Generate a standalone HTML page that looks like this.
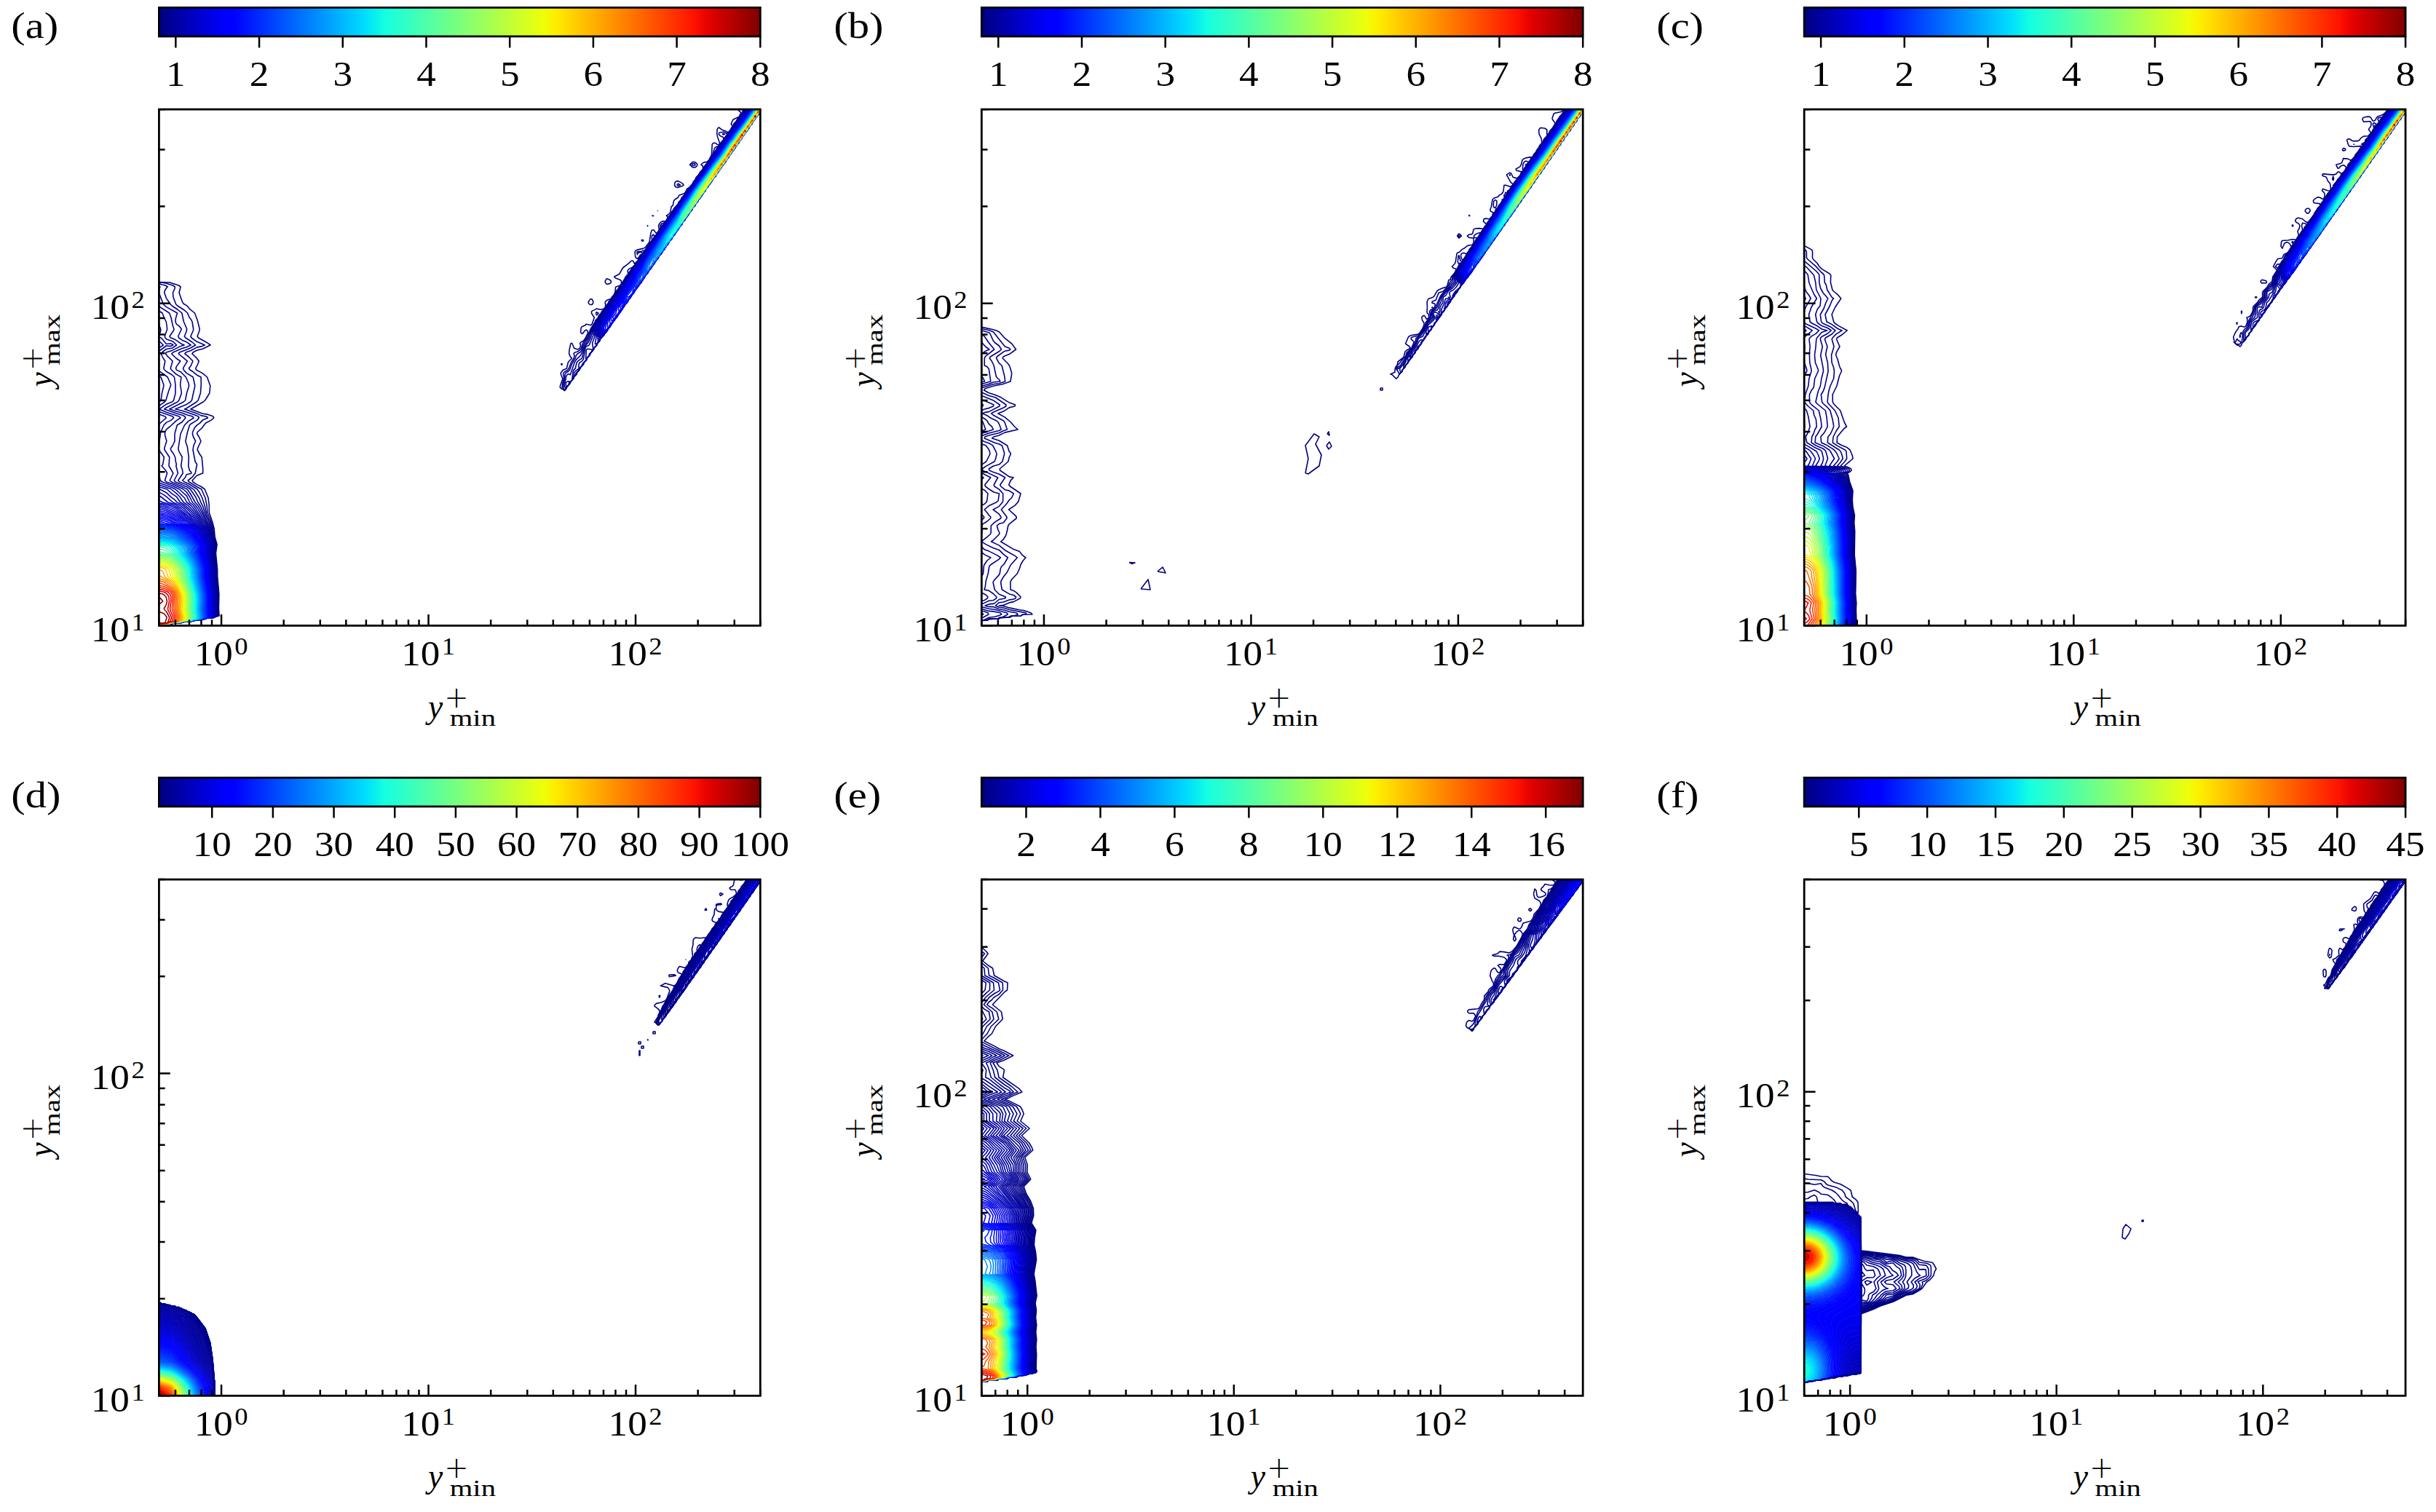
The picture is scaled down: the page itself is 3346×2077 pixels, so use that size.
<!DOCTYPE html><html><head><meta charset="utf-8"><title>figure</title><style>html,body{margin:0;padding:0;background:#fff;}svg{display:block;}</style></head><body>
<svg width="3346" height="2077" viewBox="0 0 3346 2077" font-family="'Liberation Serif', 'DejaVu Serif', serif">
<rect x="0" y="0" width="3346" height="2077" fill="#fff"/>
<defs><linearGradient id="jet" x1="0" y1="0" x2="1" y2="0">
<stop offset="0.0000" stop-color="#000080"/>
<stop offset="0.0156" stop-color="#000092"/>
<stop offset="0.0312" stop-color="#0000a4"/>
<stop offset="0.0469" stop-color="#0000b6"/>
<stop offset="0.0625" stop-color="#0000c8"/>
<stop offset="0.0781" stop-color="#0000da"/>
<stop offset="0.0938" stop-color="#0000ec"/>
<stop offset="0.1094" stop-color="#0000fe"/>
<stop offset="0.1250" stop-color="#0000ff"/>
<stop offset="0.1406" stop-color="#0010ff"/>
<stop offset="0.1562" stop-color="#0020ff"/>
<stop offset="0.1719" stop-color="#0030ff"/>
<stop offset="0.1875" stop-color="#0040ff"/>
<stop offset="0.2031" stop-color="#0050ff"/>
<stop offset="0.2188" stop-color="#0060ff"/>
<stop offset="0.2344" stop-color="#0070ff"/>
<stop offset="0.2500" stop-color="#0080ff"/>
<stop offset="0.2656" stop-color="#008fff"/>
<stop offset="0.2812" stop-color="#009fff"/>
<stop offset="0.2969" stop-color="#00afff"/>
<stop offset="0.3125" stop-color="#00bfff"/>
<stop offset="0.3281" stop-color="#00cfff"/>
<stop offset="0.3438" stop-color="#00dffc"/>
<stop offset="0.3594" stop-color="#08efef"/>
<stop offset="0.3750" stop-color="#15ffe2"/>
<stop offset="0.3906" stop-color="#21ffd5"/>
<stop offset="0.4062" stop-color="#2effc9"/>
<stop offset="0.4219" stop-color="#3bffbc"/>
<stop offset="0.4375" stop-color="#48ffaf"/>
<stop offset="0.4531" stop-color="#55ffa2"/>
<stop offset="0.4688" stop-color="#62ff95"/>
<stop offset="0.4844" stop-color="#6fff88"/>
<stop offset="0.5000" stop-color="#7bff7b"/>
<stop offset="0.5156" stop-color="#88ff6f"/>
<stop offset="0.5312" stop-color="#95ff62"/>
<stop offset="0.5469" stop-color="#a2ff55"/>
<stop offset="0.5625" stop-color="#afff48"/>
<stop offset="0.5781" stop-color="#bcff3b"/>
<stop offset="0.5938" stop-color="#c9ff2e"/>
<stop offset="0.6094" stop-color="#d5ff21"/>
<stop offset="0.6250" stop-color="#e2ff15"/>
<stop offset="0.6406" stop-color="#effe08"/>
<stop offset="0.6562" stop-color="#fcf000"/>
<stop offset="0.6719" stop-color="#ffe100"/>
<stop offset="0.6875" stop-color="#ffd200"/>
<stop offset="0.7031" stop-color="#ffc300"/>
<stop offset="0.7188" stop-color="#ffb500"/>
<stop offset="0.7344" stop-color="#ffa600"/>
<stop offset="0.7500" stop-color="#ff9700"/>
<stop offset="0.7656" stop-color="#ff8800"/>
<stop offset="0.7812" stop-color="#ff7a00"/>
<stop offset="0.7969" stop-color="#ff6b00"/>
<stop offset="0.8125" stop-color="#ff5c00"/>
<stop offset="0.8281" stop-color="#ff4d00"/>
<stop offset="0.8438" stop-color="#ff3f00"/>
<stop offset="0.8594" stop-color="#ff3000"/>
<stop offset="0.8750" stop-color="#ff2100"/>
<stop offset="0.8906" stop-color="#fe1200"/>
<stop offset="0.9062" stop-color="#ec0400"/>
<stop offset="0.9219" stop-color="#da0000"/>
<stop offset="0.9375" stop-color="#c80000"/>
<stop offset="0.9531" stop-color="#b60000"/>
<stop offset="0.9688" stop-color="#a40000"/>
<stop offset="0.9844" stop-color="#920000"/>
<stop offset="1.0000" stop-color="#800000"/>
</linearGradient>
<clipPath id="clipa"><rect x="218.4" y="150.2" width="825.9" height="709.2"/></clipPath>
<clipPath id="clipb"><rect x="1348.3" y="150.2" width="825.9" height="709.2"/></clipPath>
<clipPath id="clipc"><rect x="2478.2" y="150.2" width="825.9" height="709.2"/></clipPath>
<clipPath id="clipd"><rect x="218.4" y="1208.1" width="825.9" height="709.2"/></clipPath>
<clipPath id="clipe"><rect x="1348.3" y="1208.1" width="825.9" height="709.2"/></clipPath>
<clipPath id="clipf"><rect x="2478.2" y="1208.1" width="825.9" height="709.2"/></clipPath>
</defs>
<g>
<g clip-path="url(#clipa)" fill="none" stroke-width="1.6" stroke-linejoin="round">
<path stroke="#000080" d="M214.4 387.4l18.7 .6 12.2 4 2.8 2 -2.1 8 4.4 12.6 2 2.9 4 2.1 4 4.7 7 5.7 3.8 10 3 12 -.2 2 -2.9 8 1.3 2 12 6.7 4.6 3.3 -10.6 5.3 -8 2 -5.2 2.7 -1.3 2 6.5 6.2 2.8 3.8 -1.4 4 -3.1 6 .7 2 9 4.9 6.1 5.1 4.3 12 -1 10 -6.1 10 -2.4 2 -17.4 10 16.5 6.3 6 .8 8 2.7 1.4 2.2 -3.4 2.9 -8 4.4 -5.2 6.7 -6.4 6 -.1 2 2.6 4 2.7 6 -4.6 10 -.2 2 3.2 6 2.8 4 1.5 16 -.1 6 -8.2 3.3 -6.3 6.7 .8 2 5.5 3.6 6 2.9 4.8 3.5 4.9 12 1.1 10 .1 10 4.1 12 2.7 10 1.1 12 2.9 10 -1.7 12 2.2 22 .1 10 2.1 24 -.4 20 .6 10 -4.6 .9 -1.5 1.1 -2.5 .8 -8 .4 -6 2 -10 .5 -2 1.1 -4 .8 -8 .1 -6 1.9 -10 .2 -4 1.7 -12 .3 -2 1.4 -6 .6M1049.4 145.7l-2.3 2.5 -.4 2 -3.5 4 -2.2 4 -3.8 4 -.2 2 -3.9 4 -.3 2 -3.7 4 -.6 2 -5.1 6.4 -.4 1.6 -3.8 4 -.3 2 -3.8 4 -.4 2 -3.5 4 -2.2 4 -3.7 4 -.4 2 -3.8 4 -.3 2 -3.7 4 -.5 2 -3.5 4 -2.1 4 -3.8 4 -.4 2 -3.7 4 -.5 2 -3.5 4 -2.1 4 -3.7 4 -.5 2 -3.7 4 -.4 2 -3.6 4 -.7 2 -5 6.4 -.6 1.6 -3.6 4 -.5 2 -3.7 4 -.6 2 -3.4 4 -2.2 4 -3.5 4 -.6 2 -3.7 4 -.5 2 -3.6 4 -2.1 4 -3.4 4.1 -.7 1.9 -3.6 4 -.6 2 -3.6 4 -.7 2 -3.3 4 -2.2 4 -3.5 4 -.7 2 -3.6 4 -.7 2 -3.4 4 -2.2 4 -3.3 4 -.8 2 -3.5 4 -.8 2 -3.5 4 -6.3 10 -7.7 10 -2.2 4 -2 2 -2.1 4 -3.3 4 -.8 2 -3.6 4 -.8 2 -3.4 4 -6.3 10 -7.7 10 -2.2 4 -1.9 2 -2.2 4 -9.8 12 -.7 2 -3.5 4 -.5 2 -3.8 4 -.5 2 -3.5 4 -2.2 4 -3.5 4 -.5 2 -3.8 4 -.4 2 -3.7 4 -.4 1.5 -5 6.5 -.7 2 -3.7 4 -.4 2 -3.8 4 -.4 1.9 -3.7 4.1 -2.2 4 -2.1 2.3 -2 -1.7 -2 -.6 -2.1 -2 .1 -2 3.5 -10 -2.5 -6 -.1 -2 3 -4 5.1 -2 1.8 -8 1.3 -2 4 -4 -2.1 -2.3 -1.7 -3.7 .1 -4 2 -10 1.6 -.8 .7 .8 2.4 6 4.9 1.9 3.2 -1.9 1 -4 -1.1 -2 1.1 -2 3.8 -2 2 -2.6 3.9 -7.4 .2 -2 -.9 -2 -1.2 -1.1 -2.2 1.1 -2.9 4 -.9 .4 -1.9 -2.4 .7 -6 1.2 -1.4 4 -1.7 2 -1.9 6 1.6 .7 -.6 1.3 -1.4 2.9 -8.6 -3.8 -6 0 -2 .9 -1.1 6 -3 6 1.1 4 -1 2 -2.4 .3 -3.6 -.6 -2 .6 -2 1.7 -1.6 6 -2.3 1 -2.1 3.3 -4 1.3 -4 .6 -6 5.8 -2 2 -2 0 -4.4 -2 -1.6 -6 -2.2 -1.8 -1.8 7.3 -4 4.5 -8.2 8 -6.1 3.8 -3.7 2.2 0 2 4 4 -3.4 1.6 -2.6 .5 -2 -.1 -.6 -2 1.6 -1.9 -1 -.9 -2 -.5 -6 1 -2 2.3 -1.1 8 -1.7 2.4 -1.2 1.6 -1.7 4.7 -6.3 1.8 -12 1.4 -4 2.1 -.4 .8 .4 3.2 4.4 2 -1.8 2 -2.6 -.9 -6 .9 -2.1 2 -2.7 2 -1.3 2 -.3 2 .5 2.1 -2.1 1.9 -4 -2.1 -2 3.5 -2 1.5 -2 .8 -2 .9 -6 2.3 -2 1.1 -6 1.3 -2 4.7 -2.9 1.3 -3.1 6.7 -2.3 2 -1.7 2 -4.5 4 -2.9 4 -4.5 .6 -2.1 3.4 -4 .2 -2 3.8 -3.8 2.3 -4.2 3.7 -3.7 .1 -4.3 -2.6 -2 2.5 -2.5 2 -.8 4 -.7 2 -1.9 3.4 -6.1 .7 -2 .7 -14 1.2 -1.4 2 -.6 2 .5 1.3 1.5 2.7 .9 .6 -.9 .5 -2 -2.9 -8 -.8 -4 .2 -6 1 -2 1.4 -1.2 4.1 3.2 5.4 2 2.5 1.6 2 -1.1 2 -2.5 2.2 -4 .1 -2 -1.5 -2 2.8 -6 8.4 -3.9 .6 -2.1 1.5 -2 -.1 -1.8 -4.5 -4.2 0 -2 2.5 -1.2 8 .2 2 -.9 2.7 -4.1M953.4 222.2l3.3 2 1.2 2 -.8 2 -1.7 1.5 -2 .6 -2 -.5 -3.9 -3.6 3.9 -3.6 2 -.4M927.1 250.2l2.3 -1.3 2 -.3 6 3.3 1.7 2.3 -1.7 1.2 -6 2.2 -2 -.3 -2 -1.1 -.9 -2 .6 -4M903.3 290.2l.1 -.5 -.1 .5M895.3 296.2l2.2 0 -.1 .4 -2.1 -.4M889.1 310.2l.3 -.4 .4 .4 -.4 .4 -.3 -.4M881.1 330.2l.3 -.6 2 -.1 .3 .7 -.3 1 -2 -.4 -.3 -.6M881.4 349.1l-1.8 1.1 1.8 .2 0 -1.3M879.4 350.4l-1.4 1.8 1.4 .4 0 -2.2M861.4 377.8l-.7 .4 .7 .1 0 -.5M859.4 379.5l-.5 .7 .5 .1 0 -.8M832.4 384.2l1 -1.4 3.9 1.4 2.1 2 -.1 2 -1.9 1.4 -4 .9 -2 -2.3 -.2 -2 1.2 -2M809.8 412.2l1.6 -1.7 2 .8 1.3 2.9 0 2 -1.3 2 -2 .4 -1.3 -.4 -1.9 -2 .3 -2 1.3 -2M770.4 500.2l1 -.6 1.1 .6 -1.1 .9 -1 -.9"/>
<path stroke="#000083" d="M214.4 387.8l7.5 .2 6.5 1.3 9 2.7 2.9 2 -.1 2 -2.7 6 .4 6 3.8 10 2.1 2 9.4 6 4.4 4 2.4 6 2.4 2.8 1.6 3.2 1.7 10 -.3 2 -3.5 8 1.1 2 7.4 5.3 10.9 4.7 -4.9 1.9 -6 1.2 -8 4.4 -7.2 2.5 -1.3 2 5.1 4 5.9 6 -2.5 6 -2.9 4 1.3 2 3.6 2.2 6 5 5.7 2.8 .2 10 -.9 12 -3.3 10 -2 2 -13.7 8.7 -3 1.3 17 5.9 6 3 6.3 1.1 1.7 .7 1 1.3 -7 3.1 -4 4.3 -4 2.7 -3.4 3.9 -2.5 6 -.1 2 1.1 4 3.2 6 -2.8 6 -.9 6 3.1 16 2.5 4 -2.4 12 -3.8 5.1 -6.2 4.9 1.5 2 10.7 6.7 6.3 3.3 5.3 12 2.1 10 .8 10 4.9 12 3 10 1.5 12 1.6 4 1.4 6 -1.6 12 2.1 20 .3 12 2.2 24 -.5 20 .7 10 -4.1 .8 -1.6 1.2 -2.4 .7 -8 .5 -6 2 -10 .5 -2 1.1 -4 .8 -8 .1 -6 1.9 -10 .2 -4 1.7 -12 .3 -2 1.4 -6 .6M1049.4 145.7l-2.3 2.5 -.4 2 -3.6 4 -2.1 4 -3.8 4 -.3 2 -3.8 4 -.3 2 -3.7 4 -.6 2 -5.1 6.4 -.4 1.6 -3.8 4 -.3 2 -3.8 4 -.4 2 -3.6 4 -2.1 4 -3.7 4 -.4 2 -3.8 4 -.3 2 -3.7 4 -.6 2 -3.4 4 -2.2 4 -3.7 4 -.4 2 -3.7 4 -.5 2 -3.5 4 -2.2 4 -3.6 4 -.5 2 -3.7 4 -.4 2 -3.6 4 -.8 2 -4.9 6.4 -.6 1.6 -3.6 4 -.5 2 -3.7 4 -.6 2 -3.4 4 -2.2 4 -3.5 4 -.6 2 -3.7 4 -.5 2 -3.6 4 -2.1 4 -3.4 4.1 -.7 1.9 -3.6 4 -.6 2 -3.6 4 -.7 2 -3.4 4 -2.2 4 -3.4 4 -.7 2 -3.6 4 -.7 2 -3.4 4 -2.2 4 -3.4 4 -.8 2 -3.4 4 -.8 2 -3.5 4 -6.3 10 -7.7 10 -2.2 4 -2 2 -2.2 4 -3.3 4 -.8 2 -3.5 4 -.8 2 -3.4 4 -6.4 10 -7.6 10 -2.2 4 -2 2 -2.2 4 -3.6 4 -.9 2 -5.4 6 -.5 2 -3.6 4 -.5 2 -3.7 4 -.5 1.8 -3.6 4.2 -2.1 4 -3.6 4 -.5 2 -3.8 4 -.3 2 -3.7 4 -2.2 4 -3.4 4 -.5 2 -3.8 4 -.3 2 -3.9 4 -.3 1.5 -5.4 6.5 -.5 2 -2.1 2.2 -2.7 -2.2 -.5 -2 .4 -6 1.8 -6 -.1 -4 -.7 -2 .4 -2 2 -2 3.4 -1.5 1.9 -2.5 3 -8 3.9 -6 .9 -4 -1.2 -2 1.3 -2 4.2 -1.2 4.1 -2.8 1.2 -2 1.4 -6 5.9 -8 5 -12 6.4 -10 .4 -2 3.8 -4 .3 -2 3.5 -3.8 .9 -2.2 5.5 -6 2 -4 1.7 -2 .6 -2 5.5 -6 3.8 -5.8 .6 -2.2 3.5 -4 .7 -2 3.2 -3.4 5 -8.6 3 -3.1 1.4 -2.9 -.8 -4 1.1 -2 2.3 -1.6 2 -.5 4 -3.5 6 -8 1.1 -2.4 2.9 -3.2 .9 -2.8 -.9 -1.9 -4 .7 -1.5 1.2 -.5 1.5 -.5 -3.5 .5 -.6 6 -.2 1.5 -1.2 2.5 -.1 2 -2.5 .4 -1.4 3.6 -3.8 .8 -2.2 3.2 -4 0 -6.1 2 -2.1 1.2 2.2 .8 .1 2.2 -2.1 5 -8 .7 -2 -.6 -2 .7 -1.1 2 -2.2 2 -.4 2 -1.5 4 -4.7 .5 -2.1 3.6 -4 .3 -2 3.6 -4.6 .3 -1.4 5.7 -5.9 .3 -2.1 3.7 -3.9 .4 -2.1 5.6 -6 .5 -2 9.5 -11.6 1.1 -2.4 3.1 -4 .8 -2 5 -5.8 1 -2.2 3.4 -4 1.9 -4 7.7 -9.9 .6 -2.1 2.9 -4 2.5 -8.5 1.4 -1.5 4.6 -1.7 2 -2.3 .5 -2 3.6 -4 .4 -2 -.5 -1.7 -4 -1.8 -2 -2.1 0 -1.3 .8 -1.1 5.2 -.9 2 .4 2 1.4 2 0 2 -1.8 6.1 -9.1 .1 -2 3.8 -3.7 .9 -2.3 5.1 -6 4.1 -8 3.9 -3.4 3.3 -4.6M950 226.2l1.4 -1.3 2 -.2 1.7 1.5 -1.7 1.6 -2 -.3 -1.4 -1.3M929.7 254.2l1.7 -1.9 3 1.9 -3 1.2 -1.7 -1.2M818.4 430.2l1 -1.6 2.7 1.6 -2.7 2.6 -1 -2.6"/>
<path stroke="#000087" d="M214.4 388.8l4 .6 4 1.6 4.6 1 3.2 2 -1.9 2 -2.3 4 -.2 2 2.6 7.6 5.8 8.4 2 2 8.2 5.5 5.4 4.5 2.6 12 4.3 10 -.9 4 -2.5 6 1.5 2 9.2 6 4.6 4 -6.8 4 -15.3 6 -1.3 2 12.2 10 -5 8.1 -.8 1.9 .5 2 4.3 4.6 8.8 5.4 2.6 12 -4.4 20 -1.8 2 -5.2 3.4 -15.6 6.6 9.6 2.2 17.3 5.8 4.6 2 1.1 2 -3 3.4 -8 4.8 -2 1.8 -3 10 -2.6 12 2.6 8 1.9 14 -.5 12 .4 2 1.2 4.2 2 2.2 .6 1.6 -.6 .5 -6 1.2 -2.1 4.3 -3.7 4 2.5 2 5.3 2.2 12.5 7.8 2.8 4 4 8 3.4 10 2.4 12 4.6 10 3.5 10 1.8 12 1.6 4 1.5 6 -1.5 12 2.2 20 .3 12 2.2 24 -.4 20 .7 10 -3.6 .7 -1.8 1.3 -2.2 .7 -8 .5 -6 1.9 -10 .6 -2 1 -4 .8 -8 .2 -6 1.9 -10 .2 -4 1.7 -12 .3 -2 1.3 -6 .7M1049.4 145.7l-2.3 2.5 -.5 2 -3.5 4 -2.1 4 -3.8 4 -.3 2 -3.8 4 -.3 2 -3.7 4 -.6 2 -5.1 6.3 -.4 1.7 -3.9 4 -.2 2 -3.8 4 -.4 2 -3.6 4 -2.1 4 -3.7 4 -.4 2 -3.8 4 -.3 2 -3.7 4 -.6 2 -5.1 6.5 -.5 1.5 -3.7 4 -.4 2 -3.7 4 -.5 2 -3.5 4 -2.2 4 -3.6 4 -.5 2 -3.7 4 -.4 2 -3.7 4 -.7 2 -4.9 6.3 -.6 1.7 -3.6 4 -.5 2 -3.7 4 -.6 2 -3.4 4 -2.2 4 -3.5 4 -.6 2 -3.7 4 -.6 2 -3.5 4 -2.1 4 -3.4 4 -.8 2 -3.5 4 -.6 2 -3.6 4 -.8 2 -3.3 4 -2.2 4 -3.4 4 -.8 2 -3.5 4 -.8 2 -3.4 4 -2.1 4 -3.4 4 -.8 2 -3.5 4 -.7 2 -3.5 4 -6.4 10 -7.7 10 -2.2 4 -1.9 2 -2.2 4 -3.3 4 -.8 2 -3.5 4 -6.4 10 -3.3 4 -.9 2 -7.6 10 -2.2 4 -2 2 -2.2 4 -3.6 4 -.9 2 -5.5 6 -.5 2 -3.6 4 -.4 2 -3.8 4 -.4 1.5 -5.1 6.5 -.7 2 -3.6 4 -.4 2 -3.9 4 -.3 2 -3.7 4 -2.2 4 -3.4 4 -.5 2 -3.9 4 -.2 2 -3.9 4 -2.2 4.2 -3.6 3.8 -.4 2 -2 2.1 -1.4 -4.1 -.3 -4 2 -8 .4 -6 .9 -2 3.6 -2 1.9 -2 2.9 -8 4.8 -8 1.2 -4 1.5 -2 4.5 -2.7 2 -3.1 2 -6.8 6.3 -9.4 4.5 -12 6.9 -12 13.2 -18 6.4 -10 4.7 -5.8 3.3 -6.2 6.7 -8.8 2.9 -5.2 5.1 -6.2 2.2 -3.8 .3 -2 3.5 -4.1 .9 -1.9 7.1 -8 6 -8.6 2 -3.4 .5 -2 3.5 -3.7 1.1 -2.3 8.9 -12 .6 -2 5.4 -5.8 4.1 -6.2 1.4 -4 2.5 -1.9 6 -7.6 1.1 -2.5 3.2 -4 2.1 -4 7.6 -9.6 1 -2.4 3 -3.5 2.5 -4.5 3.5 -3.7 2.4 -4.3 7.6 -9.3 6.9 -10.7 7.1 -9 2.8 -5 3.3 -4 8 -12 .6 -2 3.3 -3.8 .7 -2.2 5.3 -5.5 1.2 -2.5 3.2 -4 2.1 -4 9.5 -11.8 3.2 -6.2 8.8 -11.4 5.1 -8.6 6.9 -8M992.2 184.2l1.2 -.6 2.2 .6 -2.2 .8 -1.2 -.8"/>
<path stroke="#00008b" d="M214.4 391.6l4 .9 1.4 1.5 -1.9 6 .3 2 6.2 16 4 3.6 15.1 8.4 -2.3 8 -.2 4 1.4 3.3 4 2.9 2.9 3.8 -4.6 10 .9 2 4.8 3.4 6 2.5 5.7 4.1 -5.7 2.8 -6 1.8 -12.7 5.4 -2 2 6.7 6.5 5.3 3.5 -5.3 7.4 -.9 2.6 .9 2.1 6 2.9 6.9 7 3.6 8 .7 4 -3.1 10 -2 10 -2.3 2 -19.4 10 9.6 3.3 8 1.9 6 2.6 8 2.1 1.7 2.1 -7.7 4.9 -4.9 5.1 -5.5 12 -3.1 20 .2 2 1.3 3.1 3.9 6.9 -1.6 12 1.9 6 .6 4 -6.5 10 1.7 2 10 3.9 10 6.7 7.2 11.4 2.2 6 2.6 4.8 3.3 11.2 4.8 10 3.8 10 2.1 12 1.7 4 1.6 6 -1.4 12 2.5 22 .1 10 2.3 24 -.4 20 .7 10 -3.1 .6 -1.9 1.4 -2.1 .6 -8 .5 -6 2 -10 .6 -2 1 -4 .8 -8 .2 -6 1.9 -10 .2 -4 1.7 -12 .3 -2 1.3 -6 .7M1049.4 145.7l-2.3 2.5 -.5 2 -3.5 4 -2.1 4 -3.8 4 -.3 2 -3.8 4 -.3 2 -3.7 4 -.6 2 -5.1 6.3 -.4 1.7 -3.9 4 -.2 2 -3.8 4 -.4 2 -3.6 4 -2.1 4 -3.7 4 -.4 2 -3.8 4 -.4 2 -3.6 4 -.6 2 -5.1 6.5 -.5 1.5 -3.7 4 -.4 2 -3.7 4 -.5 2 -3.5 4 -2.2 4 -3.6 4 -.5 2 -3.7 4 -.5 2 -3.6 4 -.7 2 -4.9 6.3 -.6 1.7 -3.7 4 -.5 2 -3.6 4 -.6 2 -3.4 4 -2.2 4 -3.5 4 -.7 2 -3.6 4 -.6 2 -3.5 4 -2.1 4 -3.5 4 -.7 2 -3.5 4 -.7 2 -3.6 4 -.7 2 -3.3 4 -2.2 4 -3.5 4 -.7 2 -3.5 4 -.8 2 -3.4 4 -2.2 4 -3.3 4 -.8 2 -3.5 4 -.8 2 -3.4 4 -6.4 10 -3.4 4 -.9 2 -3.4 4 -2.2 4 -1.9 2 -2.2 4 -3.3 4 -.8 2 -3.6 4 -6.4 10 -3.3 4 -.8 2 -7.7 10 -2.2 4 -1.9 2 -2.3 4 -3.6 4 -.9 2 -5.6 6 -.3 2 -3.7 4 -.4 2 -3.8 4 -2.3 4.3 -3.3 3.7 -.5 2 -3.8 4 -.3 2 -3.9 4 -.2 1.7 -5.4 6.3 -.5 2 -3.6 4 -.4 2 -3.9 4 -.1 2 -4 4 -1.5 2 -.6 2.1 -3.9 3.9 -.1 1.6 -2 -2.9 -.3 -2.7 2.1 -8 .2 -2.7 2 -3.3 2 -.4 2 1 5.6 -16.6 2.4 -4.1 6 -5.8 2 -3.9 3.5 -10.2 3.1 -4 3.4 -6 3.7 -12 6.3 -11.4 13.4 -18.6 5.1 -8 5.5 -7.1 13.5 -20.9 4.8 -6 4.1 -8 9.6 -11.6 6 -8.4 3.1 -6 8.9 -11.7 5.3 -8.3 4.7 -5.4 4 -6.1 2.2 -4.5 7.8 -9.1 6.8 -10.9 7.2 -9.3 7 -10.7 13 -16.9 7.3 -11.1 6.7 -8.6 16.8 -25.4 7.8 -10 6.5 -10 7.9 -10 16.2 -24 9.2 -12"/>
<path stroke="#00008f" d="M214.4 421.2l4 -.4 14.2 9.2 2.3 6 2.6 12 1.5 4 -.6 2 -5.4 8 1.4 2 6 2.3 8 5.6 4.7 2.1 -4.7 1.4 -12 6 -8 2.5 -.9 2.1 2.9 3.7 6.7 6.3 -2.9 10 1.1 2 7.1 6.4 6.5 3.6 -1.3 10 1.8 12 -3.6 10 -1.8 2 -15.5 8 -2.8 2 16.7 6.1 8 2.2 3.4 1.7 1.1 2 -5.1 6 -6.5 4 -3.3 12 0 10 -2.8 6 -2.8 4 .1 2 3.9 5.5 2.2 4.5 .7 6 1.1 4 -.6 2 2.6 10 -5.2 10 1.7 2 15.5 6.7 5 3.3 7 10.2 3.6 7.8 3.9 6 3.9 10 9.4 20 2.3 12 1.7 4 1.7 6 -1.3 12 2.4 20 .3 12 2.3 24 .2 10 -.6 10 .7 10 -2.5 .5 -2 1.5 -2 .6 -8 .5 -6 2 -10 .5 -2 1 -4 .9 -8 .2 -6 1.8 -10 .2 -4 1.8 -12 .3 -2 1.3 -6 .7M1049.4 145.7l-2.3 2.5 -.5 2 -3.5 4 -2.1 4 -3.8 4 -.3 2 -3.8 4 -.4 2 -3.6 4 -.7 2 -5 6.2 -.4 1.8 -3.9 4 -.3 2 -3.7 4 -.5 2 -3.5 4 -2.1 4 -3.7 4 -.4 2 -3.8 4 -.4 2 -3.6 4 -.6 2 -5.1 6.4 -.5 1.6 -3.7 4 -.4 2 -3.7 4 -.5 2 -3.5 4 -2.2 4 -3.6 4 -.5 2 -3.7 4 -.5 2 -3.6 4 -2.1 4 -3.5 4.2 -.6 1.8 -3.7 4 -.5 2 -3.6 4 -.7 2 -3.3 4 -2.2 4 -3.6 4 -.6 2 -3.6 4 -.6 2 -3.5 4 -2.2 4 -3.4 4 -.7 2 -3.5 4 -.7 2 -3.6 4 -.7 2 -3.3 4 -2.2 4 -3.5 4 -.7 2 -3.6 4 -.7 2 -3.4 4 -2.2 4 -3.3 4 -.8 2 -3.5 4 -.8 2 -3.5 4 -6.3 10 -7.7 10 -2.2 4 -2 2 -2.2 4 -3.3 4 -.8 2 -3.5 4 -6.4 10 -3.3 4 -.9 2 -7.6 10 -2.2 4 -2 2 -2.2 4 -3.6 4 -.9 2 -2.1 2.5 -3.6 3.5 -.3 2 -3.7 4 -.3 2 -3.9 4 -2.2 4.2 -3.5 3.8 -.4 2 -3.8 4 -.2 2 -4 4 -2.1 4.1 -3.7 3.9 -.3 2 -3.7 4 -.2 2 -4 4 -.1 2 -1.5 0 1.3 -10 .9 -2 2.1 -2 1.9 -8 1.5 -2 5.8 -4 3.3 -14 2 -4 3.6 -4 3 -6 1.8 -6 -.1 -2 1.1 -4 5.3 -10.5 13.9 -19.5 5.1 -8 5 -6.4 4 -6.8 11.4 -16.8 3.3 -4 4.1 -8 9.8 -12 5.7 -8 4.7 -8 19 -26 4.6 -8 7.4 -8.7 7.2 -11.3 18.8 -25.9 1 -2.1 7 -8.6 22 -31.1 9.3 -14.3 22.1 -30 17.6 -26 7.8 -10M778.9 524.2l2.5 -.5 1.1 .5 -1 2 -.1 2 -2 2 -1.8 0 -.5 -2 .3 -2.6 1.5 -1.4"/>
<path stroke="#000094" d="M214.4 427.9l4 -.6 4.6 2.7 2.2 6 3.1 6 1.4 10 -3.4 10 .6 2 1.8 2 7.7 2.6 2 1.3 4.2 4.1 -6.2 4.3 -8 1.2 -5.8 4.5 -1.4 2 2.9 6 2.7 4 -2 10 1 2 2.6 2.2 8 4.8 3.1 3 1.4 10 .1 12 -2.5 10 -1.9 2 -8.2 3.3 -8 5.6 -2 .9 -4 -.1M214.4 562.2l4 -.1 2 .7 8 3.4 17.6 5.8 2 2 -5.6 3.7 -9 8.3 -5 3.9 -1.8 4.1 0 4 2.3 8 -3.2 10 .4 2 6.7 10 -.8 12 5.9 10 -4.7 10 2.3 2 21.6 10 4.3 6 6.7 12 3.5 4 2.5 4 13.9 28 2.5 12 1.8 4 1.8 6 -1.3 12 2.6 20 .4 12 2.2 22 .2 12 -.5 10 .7 10 -2 .4 -2.2 1.6 -1.8 .6 -8 .5 -6 2 -10 .5 -6 1.9 -8 .2 -6 1.8 -10 .2 -4 1.7 -12 .4 -2 1.3 -6 .7M1049.4 145.6l-2.3 2.6 -.5 2 -3.5 4 -2.1 4 -3.8 4 -.3 2 -3.8 4 -.4 2 -3.6 4 -2.1 4 -3.6 4.2 -.4 1.8 -3.9 4 -.3 2 -3.7 4 -.5 2 -3.5 4 -2.1 4 -3.7 4 -.4 2 -3.8 4 -.4 2 -3.6 4 -.7 2 -5 6.4 -.5 1.6 -3.7 4 -.4 2 -3.7 4 -.6 2 -3.4 4 -2.2 4 -3.6 4 -.5 2 -3.8 4 -.4 2 -3.6 4 -2.1 4 -3.5 4.2 -.6 1.8 -3.7 4 -.5 2 -3.6 4 -.7 2 -3.4 4 -2.1 4 -3.6 4 -.6 2 -3.6 4 -.7 2 -3.4 4 -2.2 4 -3.4 4 -.7 2 -3.6 4 -.6 2 -3.6 4 -.8 2 -3.2 4 -2.2 4 -3.5 4 -.7 2 -3.6 4 -.8 2 -3.3 4 -2.2 4 -7.6 10 -2.3 4 -2 2 -6.4 10 -3.4 4 -.8 2 -3.4 4 -2.2 4 -2 2 -2.2 4 -3.3 4 -.8 2 -3.5 4 -6.4 10 -3.4 4 -.8 2 -7.7 10 -2.1 4 -3.4 4 -.8 2 -3.7 4 -.9 2 -2 2.5 -3.8 3.5 -.1 2 -3.8 4 -.3 2 -5.6 6 -.4 2 -3.7 4 -.2 2 -4 4 -.1 2 -5.6 6 -.4 2.1 -4 3.9 0 2 -3.8 4 -.2 2 -2 2.1 -1.4 -.1 .7 -4 1.1 -2 5.4 -4 -.4 -4 .6 -2.9 .6 -1.1 3.4 -2.1 2 -2.6 2.6 -15.3 1.4 -2.4 3.6 -1.6 1.2 -2 4.8 -12 -.7 -4 .7 -4 4.4 -9.6 14.4 -20.4 5 -8 4.8 -6 3.8 -6.5 10.4 -15.5 4.8 -6 4.1 -8 9.6 -12 5.7 -8 4.8 -8 18.6 -25.6 4.9 -8.4 7.1 -8.3 7.6 -11.7 19.7 -28 6.7 -8.2 33.1 -47.8 20.6 -28 18.3 -26.7 7.2 -9.3"/>
<path stroke="#000098" d="M214.4 445.1l4 .9 2.3 6 .1 2 -1.2 4 -1.2 1.7 -2 -2.7 -2 -1.3M214.4 465.6l3.4 -1.6 .6 -.7 2 .4 2 1.5 6 7.3 6 -.5 2 .7 1.5 1.3 -3.5 1.6 -6 -.6 -8 6 -2 .7 -4 -.5M214.4 495.2l3.1 .8 -3.1 1M214.4 511.6l4 -1.4 2 .6 9.8 7.2 4.4 10 -.2 2 -2.4 6 -4.2 14 -1.5 2 -5.9 4.2 -2 1 -4 -.2M214.4 565.7l4 -.2 18.8 6.5 1.5 2 -4.3 3.6 -6 2.8 -3.4 3.6 -4.4 10 -2.2 17 -1.7 -1 -.5 -4 -1.8 -1.1M214.4 611.9l1.3 2.1 .2 2 2.5 2.1 7 9.9 -1.8 10 -1.5 2 5.3 6 2.2 4 -3.1 10 2.1 2 7.8 2.8 15.3 7.2 4.7 4.2 3.9 5.8 4 8 4.1 4 4 5.9 14.3 26.1 2.9 12 1.8 4 1.8 6 -1.1 12 2.7 20 .4 12 2.4 24 .1 10 -.6 10 .8 10 -5.5 2.5 -8 .5 -6 2 -10 .6 -6 1.9 -10 .4 -2 1.3 -2 .3 -10 .2 -4 1.7 -12 .4 -2 1.2 -6 .8M1049.4 145.6l-2.3 2.6 -.6 2 -3.4 4 -2.1 4 -3.8 4 -.3 2 -3.8 4 -.4 2 -3.6 4 -2.1 4 -3.6 4.1 -.5 1.9 -3.8 4 -.3 2 -3.7 4 -.5 2 -3.5 4 -2.1 4 -3.7 4 -.4 2 -3.8 4 -.4 2 -3.6 4 -.7 2 -5 6.3 -.5 1.7 -3.8 4 -.4 2 -3.6 4 -.6 2 -3.4 4 -2.2 4 -3.7 4 -.5 2 -3.7 4 -.4 2 -3.6 4 -2.1 4 -3.5 4.1 -.7 1.9 -3.6 4 -.5 2 -3.7 4 -.6 2 -3.4 4 -2.2 4 -3.5 4 -.6 2 -3.6 4 -.7 2 -3.5 4 -2.1 4 -3.4 4 -.8 2 -3.5 4 -.6 2 -3.6 4 -.8 2 -3.2 4 -2.3 4 -7.7 10 -.8 2 -3.3 4 -2.2 4 -7.7 10 -2.2 4 -2 2 -6.4 10 -3.4 4 -.9 2 -3.4 4 -2.2 4 -1.9 2 -2.2 4 -3.3 4 -.9 2 -3.5 4 -6.4 10 -3.3 4 -.9 2 -3.4 4 -.8 2 -3.4 4 -2.2 4 -3.4 4 -.8 2 -3.7 4 -.8 2 -2 2.4 -3.9 3.6 -.1 2 -3.9 4 -.1 1.9 -4 4.2 -.8 -.1 -.9 -6 .3 -2 2.9 -8 -1.3 -8 1 -4 2.8 -6.6 14.9 -21.4 3.6 -6 6.2 -8 3.4 -6 10.7 -16 4.8 -6 4.1 -8 9.5 -12 10.6 -16 16.2 -22.3 7.3 -11.7 6.7 -7.9 27.6 -40.1 6.4 -8 34.8 -50 19.3 -26 17.9 -26.1 7.6 -9.9M805.3 480.2l2.1 -.9 6 .9 0 2 -3.9 4 -.1 2 -4 4 0 1.4 -.7 -1.4 .6 -12M791.2 512.2l.2 2 -1 0 .8 -2"/>
<path stroke="#00009d" d="M214.4 470.5l4 -1.1 1.9 .6 4 4 -2.6 2 -3.3 1.5 -4 -.5M214.4 517.6l4 -1 2.6 1.4 3.7 10 .2 2 -2.4 10 -1.4 10 -2.7 2.4 -4 -.3M214.4 569.2l4 -.1 8.3 2.9 1.6 2 -9.9 8.7 -4 -.9M214.4 655.8l4 -5.7 1.7 9.9 2.7 2 13.6 5.3 9.7 4.7 10.3 9.2 4.1 8.8 4.8 4 3.1 4.1 17.1 27.9 3.2 12 1.8 4 1.9 6 -1 12 2.7 20 .4 12 2.5 24 .2 10 -.6 10 .8 10 -5 2.5 -8 .5 -6 2 -10 .6 -6 1.9 -10 .4 -2 1.3 -2 .3 -10 .2 -4 1.7 -12 .4 -4 1.7 -4 .3M1049.4 145.6l-2.3 2.6 -.6 2 -5.1 6.6 -.4 1.4 -3.8 4 -.3 2 -3.8 4 -.4 2 -3.6 4 -2.1 4 -3.6 4.1 -.5 1.9 -3.8 4 -.3 2 -3.7 4 -.5 2 -3.5 4 -2.1 4 -3.7 4 -.5 2 -3.7 4 -.4 2 -3.6 4 -.7 2 -5 6.3 -.5 1.7 -3.8 4 -.4 2 -3.6 4 -.6 2 -3.5 4 -2.1 4 -3.7 4 -.5 2 -3.7 4 -.5 2 -3.5 4 -2.2 4 -3.4 4.1 -.7 1.9 -3.6 4 -.6 2 -3.6 4 -.7 2 -3.3 4 -2.2 4 -3.5 4 -.7 2 -3.6 4 -.6 2 -3.5 4 -2.1 4 -3.4 4 -.8 2 -3.5 4 -.7 2 -3.5 4 -.8 2 -4.6 6 -.9 2 -3.4 4 -.8 2 -3.5 4 -.8 2 -3.4 4 -2.2 4 -3.3 4 -.8 2 -3.5 4 -.8 2 -3.4 4 -6.4 10 -7.7 10 -2.2 4 -2 2 -2.2 4 -3.3 4 -.8 2 -3.5 4 -6.4 10 -3.4 4 -.8 2 -3.4 4 -6.4 10 -3.4 4 -.8 2 -3.7 4 -2.8 4.3 -2 1.9 -4 1.8 0 4 -2 2.6 -2 -.6 1.7 -10 -1.8 -4 -.7 -4 .8 -4 2.2 -6 5.8 -7.8 13.1 -20.2 6.2 -8 3.4 -6 10.5 -16 4.9 -6 4 -8 9.5 -12 5.6 -8 3.5 -6 17.3 -23.9 7.7 -12.1 6.3 -7.6 27.9 -40.4 20.1 -27.1 21.1 -30.9 19.3 -26 17.6 -25.5 8.1 -10.5M821.4 464.1l-.7 .1 .7 1.6 0 -1.7"/>
<path stroke="#0000a1" d="M214.4 663.2l4 0 16 5.8 6.3 3 3.7 3.2 9 8.8 3.1 6 5.3 4 3.6 4 7.1 10 7.1 12 4.8 6.3 3.3 11.7 2 4 1.9 6 -1 12 2.9 20 .4 12 2.4 22 .3 12 -.6 10 .8 10 -4.4 2.4 -8 .6 -6 2 -10 .6 -6 1.9 -10 .4 -2 1.2 -2 .4 -10 .2 -4 1.7 -12 .4 -4 1.7 -4 .2M1049.4 145.6l-2.3 2.6 -.6 2 -5.1 6.5 -.4 1.5 -3.8 4 -.3 2 -3.8 4 -.4 2 -3.6 4 -2.1 4 -3.6 4 -.5 2 -3.8 4 -.3 2 -3.7 4 -.6 2 -3.4 4 -2.2 4 -3.7 4 -.4 2 -3.7 4 -.4 2 -3.6 4 -2.1 4 -3.6 4.2 -.5 1.8 -3.8 4 -.4 2 -3.7 4 -.5 2 -3.5 4 -2.2 4 -3.6 4 -.5 2 -3.7 4 -.5 2 -3.5 4 -2.2 4 -3.4 4 -.7 2 -3.6 4 -.6 2 -3.6 4 -.7 2 -3.3 4 -2.2 4 -3.5 4 -.7 2 -3.6 4 -.7 2 -3.4 4 -2.1 4 -3.5 4 -.7 2 -3.5 4 -.7 2 -3.5 4 -.9 2 -4.6 6 -.8 2 -7.7 10 -.9 2 -3.3 4 -2.2 4 -3.4 4 -.8 2 -3.4 4 -.9 2 -3.4 4 -6.4 10 -3.4 4 -.9 2 -3.3 4 -6.4 10 -3.3 4 -.8 2 -3.5 4 -6.4 10 -3.4 4 -.8 2 -7.7 10 -2.1 4 -3.5 4 -.8 2 -3.7 4 -2.7 4.3 -2 1.8 -1.1 -.1 -3.5 -2 -1.4 -2 -1.4 -4 -.3 -2 .4 -4 2.3 -6 5 -6.9 13.6 -21.1 6.2 -8 3.4 -6 10.4 -16 5 -6 3.9 -8 9.4 -12 5.7 -8 3.4 -6 17 -23.6 8 -12.4 6 -7.2 8.5 -12.8 19.7 -28 19.8 -26.8 21.5 -31.2 20.5 -27.7 16 -23.3 8.5 -11"/>
<path stroke="#0000a6" d="M214.4 665.8l4 .2 16 5.5 8 6.4 4.2 4.1 5.5 8 6.3 4.4 6 6.1 6 7.7 7.4 11.8 3.5 4 2.5 4 2.9 10 3.4 8 .8 4 -1 10 2.9 20 1.5 24 1.5 10 .2 12 -.5 10 .8 10 -3.9 2.4 -8 .5 -6 2 -10 .7 -6 1.8 -10 .5 -2 1.2 -2 .4 -10 .2 -4 1.7 -12 .3 -4 1.8 -4 .2M1049.4 145.6l-2.3 2.6 -.6 2 -5.1 6.5 -.5 1.5 -3.7 4 -.4 2 -3.7 4 -.5 2 -3.5 4 -2.1 4 -3.6 4 -.5 2 -3.8 4 -.3 2 -3.7 4 -.6 2 -3.4 4 -2.2 4 -3.7 4 -.4 2 -3.7 4 -.5 2 -3.5 4 -2.2 4 -3.5 4.2 -.6 1.8 -3.7 4 -.4 2 -3.7 4 -.6 2 -3.4 4 -2.2 4 -3.6 4 -.5 2 -3.7 4 -.5 2 -3.5 4 -2.2 4 -3.5 4 -.6 2 -3.6 4 -.6 2 -3.6 4 -.7 2 -3.3 4 -2.2 4 -3.5 4 -.7 2 -3.6 4 -.7 2 -9 12 -.7 2 -3.5 4 -.7 2 -3.6 4 -6.2 10 -3.5 4 -.8 2 -3.5 4 -6.3 10 -3.4 4 -.8 2 -3.4 4 -.9 2 -3.4 4 -6.4 10 -7.7 10 -2.2 4 -1.9 2 -2.2 4 -3.4 4 -.8 2 -3.5 4 -6.4 10 -3.4 4 -.8 2 -7.6 10 -2.2 4 -3.5 4 -.7 2 -3.8 4 -2.6 4.2 -2 1.2 -2.9 -1.4 -1.9 -2 -1.9 -6 .7 -6 1.8 -4 18.3 -28 6.3 -8 3.3 -6 10.3 -16 5 -6 3.9 -8 15 -20 3.4 -6 16.7 -23.2 8.3 -12.8 5.7 -6.8 28.4 -41.2 19.6 -26.4 21.8 -31.6 19.3 -26 16.9 -24.4 8.9 -11.6"/>
<path stroke="#0000ab" d="M214.4 668.4l4 .3 10.8 3.3 7.2 6.4 6 3.9 5.2 7.7 6.6 4 8.2 7.6 7 8.4 6.5 10 4.5 4.8 2.1 3.2 3.2 10 2.1 4 2.1 6 -.7 12 3 20 1.6 24 1.4 10 .3 12 -.6 10 .8 10 -1.3 .6 -.9 1.4 -1.1 .3 -8 .6 -6 2 -10 .6 -6 1.9 -10 .5 -2 1.2 -2 .4 -10 .2 -4 1.7 -12 .3 -4 1.8 -4 .2M1049.4 145.5l-8 11.1 -.5 1.6 -3.7 4 -.4 2 -3.7 4 -.5 2 -3.5 4 -2.1 4 -3.7 4 -.4 2 -3.8 4 -.3 2 -3.7 4 -.6 2 -3.4 4 -2.2 4 -3.7 4 -.4 2 -3.7 4 -.5 2 -3.5 4 -2.2 4 -3.5 4.1 -.6 1.9 -3.7 4 -.4 2 -3.7 4 -.6 2 -3.4 4 -2.2 4 -3.6 4 -.5 2 -3.7 4 -.5 2 -3.5 4 -2.2 4 -3.5 4 -.6 2 -3.6 4 -.6 2 -3.6 4 -.8 2 -3.2 4 -2.2 4 -3.6 4 -.6 2 -3.6 4 -.7 2 -9 12 -.8 2 -3.5 4 -.7 2 -3.5 4 -6.3 10 -3.4 4 -.8 2 -3.5 4 -6.3 10 -3.4 4 -.8 2 -3.5 4 -.9 2 -3.3 4 -2.2 4 -3.4 4 -.8 2 -7.7 10 -2.2 4 -2 2 -2.2 4 -3.3 4 -.8 2 -3.5 4 -6.4 10 -3.5 4 -.7 2 -7.7 10 -2.1 4 -3.6 4 -.6 2 -3.8 4 -2.6 4.1 -2 .4 -3.4 -2.5 -1.2 -2 -1.1 -4 0 -4 1.7 -5 9.4 -15 9.3 -14 6.3 -8 13.4 -22 5.1 -6 3.7 -8 8 -10 6.8 -9.6 3.7 -6.4 16.3 -22.8 8.6 -13.2 5.4 -6.5 28.6 -41.5 19.4 -26 22 -31.8 45.3 -62.2"/>
<path stroke="#0000b0" d="M214.4 671.1l5.2 .9 8.8 4.7 6 5.6 6 4.6 2.6 3.1 7.4 3.9 4 3.1 5.4 5 6.6 7.2 7.7 10.8 4.3 4.3 2.7 3.7 3.6 10 2.2 4 2.4 8 -.9 10 3.2 20 1.6 24 1.5 10 .2 12 -.6 10 .9 10 -1.9 2 -.9 .3 -8 .6 -6 2 -10 .6 -6 1.9 -10 .5 -2 1.2 -2 .3 -10 .3 -4 1.6 -2 .3 -10 .1 -4 1.8 -4 .2M1049.4 145.5l-2.4 2.7 -.6 2 -1.4 2 -3.6 4.4 -.5 1.6 -3.8 4 -.3 2 -3.7 4 -.5 2 -3.5 4 -2.2 4 -3.6 4 -.4 2 -3.8 4 -.4 2 -3.6 4 -.6 2 -3.4 4 -2.2 4 -3.7 4 -.4 2 -3.8 4 -.4 2 -3.6 4 -2.1 4 -3.5 4 -.6 2 -3.7 4 -.5 2 -3.6 4 -.6 2 -3.4 4 -2.2 4 -3.6 4 -.6 2 -3.6 4 -.6 2 -3.5 4 -2.1 4 -3.5 4 -.6 2 -3.7 4 -.6 2 -3.5 4 -.8 2 -4.7 6.2 -.8 1.8 -3.5 4 -.7 2 -3.5 4 -.8 2 -8.9 12 -.8 2 -3.5 4 -.7 2 -3.5 4 -6.3 10 -3.4 4 -.8 2 -3.5 4 -6.4 10 -3.4 4 -.8 2 -3.4 4 -6.5 10 -3.3 4 -.9 2 -7.7 10 -2.1 4 -2 2 -2.2 4 -3.4 4 -.8 2 -3.5 4 -2.2 4 -3.3 4 -.9 2 -3.4 4 -.8 2 -7.6 10 -2.2 4 -3.5 4 -.7 2 -5.5 6 -.8 2.1 -1.3 -.1 -2.7 -1.9 -1.5 -2.1 -1.3 -4 -.1 -4 1.1 -4 9.9 -16 9.2 -14 6.3 -8 13.3 -22 5.1 -6 3.6 -8 8.4 -10.5 6.5 -9.5 3.5 -6 16 -22.4 8.9 -13.6 5.1 -6.1 28.9 -41.9 19.1 -25.7 22 -31.7 19.8 -26.6 16.2 -23.3 9.7 -12.7"/>
<path stroke="#0000b5" d="M214.4 675.2l4 .9 6 3.3 4 2.8 8.8 7.8 9.2 3.9 6 4.3 12 11.6 7.9 10.2 6 6 2.4 4 3 8 2.3 4 2.5 8 -.9 10 3.3 20 1.6 24 1.8 12 -.6 20 .9 10 -1.4 2 -.8 .2 -8 .6 -6 2 -10 .7 -6 1.9 -10 .5 -2 1.1 -2 .4 -10 .3 -4 1.6 -2 .3 -10 .1 -4 1.7 -4 .3M1049.4 145.5l-2.4 2.7 -2 4 -3.6 4.3 -.5 1.7 -3.8 4 -.3 2 -3.8 4 -.4 2 -3.5 4 -2.2 4 -3.6 4 -.4 2 -3.8 4 -.4 2 -3.6 4 -.7 2 -3.3 4 -2.2 4 -3.7 4 -.4 2 -3.8 4 -.4 2 -3.6 4 -2.1 4 -3.5 4 -.6 2 -3.7 4 -.5 2 -3.6 4 -.7 2 -3.3 4 -2.2 4 -3.6 4 -.6 2 -3.6 4 -.6 2 -3.5 4 -2.1 4 -3.5 4 -.7 2 -3.6 4 -.6 2 -3.5 4 -.8 2 -4.7 6.1 -.8 1.9 -3.5 4 -.7 2 -3.5 4 -.8 2 -8.9 12 -.8 2 -3.5 4 -2.2 4 -2 2 -6.3 10 -3.5 4 -.8 2 -3.4 4 -6.4 10 -3.4 4 -.8 2 -3.4 4 -6.5 10 -3.4 4 -.8 2 -7.7 10 -2.2 4 -1.9 2 -2.3 4 -3.3 4 -.8 2 -3.5 4 -2.2 4 -3.4 4 -.8 2 -3.5 4 -.7 2 -7.7 10 -2.1 4 -3.6 4 -.6 2 -4.3 5 -1.5 1 -.5 1.8 -4 -3.2 -1.4 -2.6 -.7 -6 1.1 -4 18.9 -30 6.3 -8 13.1 -22 5.2 -6 3.5 -7.9 8 -10.1 10.3 -16 15.7 -22 9.2 -14 5 -6 28.9 -42 18.9 -25.3 22 -31.6 46.1 -63.1"/>
<path stroke="#0000bb" d="M214.4 680.1l4 .9 2 1 10.3 8 9.7 3.1 8.2 4.9 11.8 10 9.9 12 6.5 6 3.6 6 2.3 6 2.3 4 2.6 8 -.7 10 3.4 20 .5 12 2.9 24 -.5 20 .9 10 -1.1 2 -.6 .2 -8 .6 -6 2 -10 .7 -6 1.9 -10 .4 -4 1.6 -10 .3 -4 1.6 -2 .3 -10 .1 -4 1.7 -4 .3M1049.4 145.5l-2.4 2.7 -2 4 -3.6 4.3 -.5 1.7 -3.8 4 -.3 2 -3.8 4 -.4 2 -3.6 4 -2.1 4 -3.6 4 -.4 2 -3.8 4 -.4 2 -3.7 4 -.6 2 -3.3 4 -2.2 4 -3.7 4 -.4 2 -3.8 4 -.5 2 -3.5 4 -2.1 4 -3.6 4 -.5 2 -3.7 4 -.5 2 -3.6 4 -.7 2 -3.3 4 -2.2 4 -3.6 4 -.6 2 -3.6 4 -.6 2 -9.1 12 -.7 2 -3.6 4 -.6 2 -3.6 4 -2.1 4 -3.3 4.1 -.8 1.9 -3.5 4 -.7 2 -3.6 4 -.7 2 -3.4 4 -2.1 4 -3.5 4 -.7 2 -3.5 4 -.8 2 -3.4 4 -6.4 10 -7.7 10 -6.3 10 -3.4 4 -.9 2 -3.4 4 -6.4 10 -3.4 4 -.9 2 -3.4 4 -6.4 10 -3.4 4 -.8 2 -3.4 4 -.8 2 -3.5 4 -2.2 4 -3.4 4 -.7 2 -3.5 4 -.8 2 -9 12 -.8 2 -3.6 4 -.6 2 -4.2 4.8 -1.8 1.2 -.2 .8 -3.3 -2.8 -1.7 -4 -.2 -4 1 -4 18.2 -29.2 6.8 -8.8 12.9 -22 5.4 -6 2.9 -7.2 8.4 -10.8 10.2 -16 15.4 -21.6 9.5 -14.4 4.9 -6 28.9 -42 18.7 -25 22 -31.5 46.5 -63.5"/>
<path stroke="#0000c0" d="M214.4 687l4 .4 4.8 2.6 13.2 3.4 8.6 4.6 14.9 12 8.5 10 6.9 6 3.8 6 2.6 6 2.4 4 2.7 8 -.7 10 3.6 20 .6 14 2.8 22 -.5 20 .9 10 -.7 2 -8.4 .8 -6 2 -10 .7 -6 1.8 -10 .5 -4 1.6 -10 .3 -6 1.9 -10 .1 -4 1.7 -4 .3M1049.4 145.5l-2.4 2.7 -2.1 4 -3.5 4.2 -.5 1.8 -3.8 4 -.3 2 -3.8 4 -.5 2 -3.5 4 -2.1 4 -3.6 4 -.5 2 -3.8 4 -.3 2 -3.7 4 -.6 2 -3.3 4 -2.2 4 -3.7 4 -.5 2 -3.7 4 -.5 2 -3.5 4 -2.1 4 -3.6 4 -.5 2 -3.7 4 -.5 2 -3.6 4 -.7 2 -3.3 4 -2.3 4 -3.6 4 -.5 2 -3.7 4 -.5 2 -9.1 12 -.7 2 -3.6 4 -.6 2 -3.6 4 -2.1 4 -3.3 4 -.8 2 -3.5 4 -.7 2 -3.6 4 -.8 2 -3.3 4 -2.2 4 -3.4 4 -.8 2 -3.4 4 -.8 2 -3.5 4 -6.3 10 -7.7 10 -2.2 4 -7.6 10 -.8 2 -3.4 4 -2.3 4 -1.9 2 -2.3 4 -3.4 4 -.8 2 -3.5 4 -6.3 10 -2 2 -2.2 4 -3.4 4 -.8 2 -3.5 4 -2.2 4 -3.4 4 -.8 2 -3.5 4 -.7 2 -9.2 12 -.6 2 -3.7 4 -.5 2 -4.2 4.6 -2 1.2 -2.2 -1.8 -1.9 -4 -.3 -4 1.2 -4 9.3 -16 7.7 -12 7.5 -10 12.7 -21.7 5.6 -6.3 2.4 -6.5 8.8 -11.5 10.2 -16 15 -21.2 8.4 -12.8 6.3 -8 28.9 -42 6.3 -8 35.5 -50 45.4 -62"/>
<path stroke="#0000c6" d="M214.4 691.3l8 .3 12 3.2 8 3.9 12.7 9.3 4.4 4 7 8 3.9 2.9 4 3.8 3.4 5.3 5.3 10 2.5 6 .3 2 -.6 10 3.7 20 .7 14 2.7 20 .2 12 -.6 10 1 10 -.3 2 -8.3 .7 -6 2 -10 .7 -6 1.9 -10 .5 -4 1.6 -10 .3 -6 1.8 -10 .2 -4 1.7 -4 .3M1049.4 145.4l-2.4 2.8 -2.1 4 -3.5 4.2 -.5 1.8 -3.8 4 -.4 2 -3.7 4 -.5 2 -3.5 4 -2.1 4 -3.6 4 -.5 2 -3.8 4 -.3 2 -3.7 4 -.6 2 -5 6.4 -.5 1.6 -3.7 4 -.5 2 -3.7 4 -.5 2 -3.5 4 -2.1 4 -3.6 4 -.6 2 -3.6 4 -.5 2 -3.6 4 -.7 2 -4.9 6.3 -.7 1.7 -3.6 4 -.6 2 -3.6 4 -.6 2 -9 12 -.7 2 -3.6 4 -.7 2 -3.5 4 -2.1 4 -3.4 4 -.7 2 -3.6 4 -.7 2 -3.5 4 -.8 2 -3.3 4 -2.2 4 -7.7 10 -2.2 4 -2 2 -2.1 4 -3.4 4 -.8 2 -7.7 10 -2.2 4 -1.9 2 -2.3 4 -3.4 4 -.8 2 -3.4 4 -2.3 4 -2 2 -2.2 4 -3.4 4 -.8 2 -3.5 4 -6.4 10 -7.6 10 -.8 2 -3.5 4 -2.1 4 -3.5 4 -.7 2 -3.6 4 -.7 2 -9.2 12 -.5 2 -3.8 4 -.5 2 -2.1 2.4 -2 2 -2 .4 -2 -2.3 -1.1 -2.5 -.4 -4 .3 -2 10 -18 9 -14 6.1 -8 11.4 -20 6.8 -8 2 -6 9.1 -12 10.1 -16 23.4 -34 6.2 -8 29 -42 18.1 -24.2 14 -20.3 55.2 -75.5"/>
<path stroke="#0000cc" d="M214.4 693.2l8 .1 10 3.1 10 4.7 12 8.5 4 3.5 6 6.9 4 2.6 4 3.5 4 5.7 5.7 10.2 2.6 6 .4 2 -.6 10 3.9 20 .6 14 2.8 20 .2 12 -.6 10 1.1 12 -8.1 .7 -8 2.3 -8 .4 -6 1.9 -8 .2 -2.6 .5 -1.4 .9 -4 .7 -8 0 -6 1.9 -10 .2 -4 1.7 -4 .3M1049.4 145.4l-2.4 2.8 -2.1 4 -3.5 4.1 -.5 1.9 -3.8 4 -.4 2 -3.7 4 -.5 2 -3.5 4 -2.1 4 -3.6 4 -.5 2 -3.8 4 -.4 2 -3.6 4 -.7 2 -4.9 6.4 -.6 1.6 -3.6 4 -.5 2 -3.7 4 -.5 2 -3.5 4 -2.1 4 -3.6 4 -.6 2 -3.7 4 -.5 2 -3.5 4 -.8 2 -4.8 6.2 -.7 1.8 -3.6 4 -.6 2 -3.6 4 -.6 2 -3.4 4 -2.2 4 -3.5 4 -.7 2 -3.5 4 -.7 2 -3.5 4 -2.1 4 -3.4 4 -.8 2 -3.5 4 -.7 2 -3.5 4 -.8 2 -3.3 4 -2.2 4 -7.7 10 -2.2 4 -2 2 -2.2 4 -3.3 4 -.9 2 -7.7 10 -2.1 4 -2 2 -2.2 4 -3.4 4 -.9 2 -3.4 4 -2.2 4 -2 2 -2.2 4 -3.5 4 -.8 2 -3.4 4 -6.4 10 -7.6 10 -.8 2 -3.5 4 -2.2 4 -3.5 4 -.7 2 -3.6 4 -.6 2 -3.5 4 -2.2 4 -3.6 4 -.5 2 -3.8 4 -.5 2 -2 2.3 -2 1.9 -1.6 -.2 -2.5 -4 -.6 -4 .4 -2 9.8 -18 7.6 -12 6.9 -9.2 11.8 -20.8 6.8 -8 2 -6 9 -12 10.1 -16 23.3 -34 6.2 -8 28.9 -42 17.9 -23.8 14 -20.3 55.6 -75.9"/>
<path stroke="#0000d2" d="M214.4 695.3l8 .1 8 2.5 12 5.6 10 6.8 4 3.1 5.9 6.6 6.1 4 4 3.9 8.7 14.1 2.7 6 .4 2 -.5 10 2.3 10 2 12 .4 12 3 22 -.5 20 1.2 12 -7.7 .6 -8 2.4 -8 .4 -6 1.9 -8 .2 -8 2 -8 .1 -6 1.9 -10 .2 -4 1.7 -4 .3M1049.4 145.4l-2.4 2.8 -2.1 4 -3.5 4.1 -.6 1.9 -3.7 4 -.4 2 -3.7 4 -.5 2 -3.5 4 -2.1 4 -3.6 4 -.5 2 -3.8 4 -.4 2 -3.6 4 -.7 2 -4.9 6.3 -.6 1.7 -3.7 4 -.4 2 -3.7 4 -.6 2 -3.4 4 -2.2 4 -3.5 4 -.6 2 -3.7 4 -.5 2 -3.6 4 -.7 2 -4.8 6.2 -.7 1.8 -3.6 4 -.6 2 -3.6 4 -.6 2 -3.4 4 -2.2 4 -3.5 4 -.7 2 -3.6 4 -.6 2 -3.5 4 -2.2 4 -3.3 4 -.8 2 -3.5 4 -.7 2 -3.5 4 -.9 2 -3.2 4 -2.2 4 -3.5 4 -.8 2 -3.4 4 -2.2 4 -2 2 -2.2 4 -3.3 4 -.9 2 -7.7 10 -6.4 10 -3.4 4 -.8 2 -3.4 4 -2.3 4 -1.9 2 -2.3 4 -3.4 4 -.8 2 -3.5 4 -2.3 4 -3.2 4 -.9 2 -3.5 4 -.7 2 -7.7 10 -2.1 4 -3.6 4 -.6 2 -3.6 4 -.7 2 -3.5 4 -2.2 4 -3.6 4 -.4 2 -3.9 4 -.4 2 -4.2 4 -1.9 -2 -.9 -2 -.7 -4 .4 -2 9.5 -18 7.6 -12 7.3 -10 10.9 -19.4 7.1 -8.6 2 -6 8.9 -11.9 16.9 -26.1 51.4 -74 17.7 -23.5 14.2 -20.5 55.8 -76"/>
<path stroke="#0000d8" d="M214.4 697.4l6 -.2 8 2.2 14 6.4 8 5.2 6 4.6 3.8 4.4 4.2 2.3 4.8 3.7 3.3 4 7.5 12 2.9 6 .4 2 -.5 10 2.5 10 2.1 12 .3 12 3.1 22 -.5 20 1.2 12 -9.1 1 -6 2 -8 .4 -6 1.9 -10 .5 -2 1 -4 .7 -8 .1 -6 1.9 -10 .2 -4 1.6 -4 .4M1049.4 145.4l-2.4 2.8 -2.1 4 -3.5 4 -.6 2 -3.7 4 -.4 2 -3.7 4 -.6 2 -3.4 4 -2.1 4 -3.7 4 -.4 2 -3.8 4 -.4 2 -3.6 4 -.7 2 -4.9 6.3 -.6 1.7 -3.7 4 -.4 2 -3.7 4 -.6 2 -3.4 4 -2.2 4 -3.5 4 -.6 2 -3.7 4 -.5 2 -3.6 4 -2.1 4 -3.4 4.1 -.7 1.9 -3.6 4 -.6 2 -3.6 4 -.7 2 -3.3 4 -2.2 4 -3.5 4 -.7 2 -3.6 4 -.7 2 -3.4 4 -2.2 4 -3.3 4 -.8 2 -3.5 4 -.8 2 -3.5 4 -6.3 10 -3.4 4 -.8 2 -3.4 4 -2.3 4 -2 2 -2.1 4 -3.4 4 -.8 2 -7.7 10 -6.4 10 -3.4 4 -.9 2 -3.3 4 -2.3 4 -2 2 -2.2 4 -3.5 4 -.8 2 -3.4 4 -2.3 4 -3.3 4 -.8 2 -3.5 4 -.7 2 -7.7 10 -2.2 4 -3.6 4 -.6 2 -3.6 4 -.6 2 -3.5 4 -2.2 4 -3.7 4 -.4 2 -3.9 4 -.3 1.7 -2 2.4 -2 .7 -1.9 -2.8 -.9 -4 6.5 -14 10.3 -17.1 6.5 -8.9 6 -10 5.5 -10.6 7.6 -9.4 2 -6 8.4 -11.2 17.2 -26.8 51.4 -74 17.4 -23.1 14.4 -20.9 55.9 -76"/>
<path stroke="#0000df" d="M214.4 699.7l6 -.2 8 2.2 14 6.3 6 3.7 5.9 4.3 3.6 4 6.5 3.5 3.2 2.5 4.8 6 6.6 10 2.9 6 .5 2 -.5 10 2.7 10 2.1 12 .3 12 3.2 22 -.5 20 1.2 12 -8.5 .9 -6 2 -8 .4 -6 1.9 -10 .6 -2 1 -4 .7 -8 .1 -6 1.9 -10 .2 -4 1.6 -4 .4M1049.4 145.4l-2.4 2.8 -2.1 4 -3.5 4 -.6 2 -3.7 4 -.4 2 -3.7 4 -.6 2 -3.4 4 -2.2 4 -3.6 4 -.4 2 -3.8 4 -.4 2 -3.6 4 -2.1 4 -3.5 4.2 -.6 1.8 -3.7 4 -.5 2 -3.6 4 -.6 2 -3.4 4 -2.2 4 -3.5 4 -.6 2 -3.7 4 -.5 2 -3.6 4 -2.1 4 -3.4 4.1 -.8 1.9 -3.5 4 -.7 2 -3.5 4 -.7 2 -3.4 4 -2.2 4 -3.4 4 -.7 2 -3.6 4 -.7 2 -3.4 4 -2.2 4 -3.4 4 -.7 2 -3.5 4 -.8 2 -3.5 4 -6.3 10 -3.4 4 -.8 2 -3.5 4 -2.2 4 -2 2 -2.2 4 -3.3 4 -.9 2 -7.6 10 -6.4 10 -3.5 4 -.8 2 -3.4 4 -2.2 4 -3.4 4 -.9 2 -3.4 4 -.8 2 -3.5 4 -2.3 4 -3.3 4 -.8 2 -3.5 4 -.7 2 -9.1 12 -.7 2 -3.7 4 -.5 2 -3.7 4 -.5 1.7 -5.1 6.3 -.7 2 -3.7 4 -.3 2 -4 4 -.2 1.3 -2 2.8 -1.2 -.1 -1.4 -2 -1 -4 6.2 -14 9.4 -16 7.3 -10 5.9 -10 4.8 -9.6 8 -10.1 2.1 -6.3 7.9 -10.5 10 -16.3 23.9 -35.2 6.1 -7.8 28.8 -42.2 17.2 -22.7 14.7 -21.3 5.3 -6.5 10.8 -15.5 39.9 -54"/>
<path stroke="#0000e5" d="M214.4 702l6 -.1 8 2.2 12 5 8 4.7 3.2 2.2 4 4 6.8 3.5 4 2.8 3.2 3.7 8.8 12.9 2.6 5.1 .4 2 -.4 10 2.8 10 2.3 12 .2 12 3.3 22 -.5 20 1.2 12 -7.9 .9 -6 2 -8 .4 -6 1.9 -10 .5 -2 1.1 -4 .7 -8 .1 -6 1.9 -10 .1 -4 1.7 -4 .3M1049.4 145.3l-2.4 2.9 -2.1 4 -3.6 4 -.5 2 -3.8 4 -.4 2 -3.6 4 -.6 2 -3.4 4 -2.2 4 -3.6 4 -.5 2 -3.7 4 -.5 2 -3.5 4 -2.1 4 -3.5 4.2 -.6 1.8 -3.7 4 -.5 2 -3.7 4 -.5 2 -3.5 4 -2.1 4 -3.5 4 -.7 2 -3.6 4 -.6 2 -3.5 4 -2.1 4 -3.4 4 -.8 2 -3.6 4 -.6 2 -3.5 4 -.7 2 -3.4 4 -2.2 4 -3.4 4 -.8 2 -3.5 4 -.7 2 -3.5 4 -2.1 4 -3.4 4 -.8 2 -3.5 4 -.7 2 -3.5 4 -2.2 4 -7.6 10 -.8 2 -3.4 4 -2.2 4 -2 2 -2.2 4 -3.4 4 -.8 2 -7.7 10 -2.2 4 -7.6 10 -.8 2 -3.4 4 -2.3 4 -3.4 4 -.8 2 -3.5 4 -.8 2 -3.4 4 -2.3 4 -3.4 4 -.7 2 -3.6 4 -.6 2 -3.4 4 -.8 2 -5 6 -.6 2 -3.8 4 -.5 2 -3.7 4 -2.1 4 -3.6 4 -.5 2 -3.9 4 -.2 2 -5.7 6 -.4 1.5 -2.2 -3.5 .2 -2 5.5 -14 9.3 -16 7.2 -9.9 5.8 -10.1 4.2 -8.7 8 -10.2 2.6 -7.1 7.4 -9.8 10 -16.4 24.2 -35.8 5.8 -7.4 29.1 -42.6 16.9 -22.4 15 -21.6 5 -6 11.2 -16 39.8 -54"/>
<path stroke="#0000ec" d="M214.4 704.4l6 -.1 8 1.9 10 4 10 5.6 4.8 4.2 9.2 4.7 4 3.1 9 12.2 3 4.9 2.1 5.1 -.4 10 3.4 12 1.9 10 .3 12 3.3 22 -.5 20 1.2 12 -7.3 .8 -6 2.1 -8 .4 -6 1.9 -10 .5 -2 1 -4 .8 -8 .1 -6 1.9 -10 .1 -4 1.7 -4 .3M1049.4 145.3l-2.5 2.9 -2 4 -3.6 4 -.5 2 -3.8 4 -.4 2 -3.7 4 -.6 2 -3.3 4 -2.2 4 -3.6 4 -.5 2 -3.7 4 -.5 2 -3.5 4 -2.1 4 -3.5 4.1 -.6 1.9 -3.7 4 -.5 2 -3.7 4 -.6 2 -3.4 4 -2.1 4 -3.6 4 -.6 2 -3.6 4 -.6 2 -3.5 4 -2.1 4 -3.5 4 -.7 2 -3.6 4 -.6 2 -3.5 4 -.8 2 -3.3 4 -2.2 4 -3.5 4 -.7 2 -3.5 4 -.8 2 -3.4 4 -2.2 4 -3.3 4 -.8 2 -3.5 4 -.8 2 -3.4 4 -6.4 10 -3.4 4 -.8 2 -3.4 4 -2.2 4 -2 2 -2.2 4 -3.4 4 -.8 2 -7.7 10 -2.2 4 -7.6 10 -.9 2 -3.4 4 -2.2 4 -3.5 4 -.7 2 -3.5 4 -.8 2 -3.5 4 -2.2 4 -3.5 4 -.6 2 -3.7 4 -.6 2 -3.4 4 -.7 1.9 -5.2 6.1 -.5 2 -3.8 4 -.4 2 -3.7 4 -2.2 4 -3.6 4 -.5 2 -3.9 4 -.2 2 -4 4.3 -2 .6 -.4 -.9 .8 -2 1.6 -8 4.5 -10 7.1 -12 6.4 -8.4 6.5 -11.6 3.5 -7.7 8 -10.4 3.2 -7.9 7.4 -10 9.6 -16 24.3 -36 5.5 -7 29.4 -43 16.6 -22 15.3 -22 5 -6 11.2 -16 39.9 -54"/>
<path stroke="#0000f3" d="M214.4 706.5l6 -.1 4 .7 12 4.1 10 5.6 4.3 3.2 11.7 5.9 2.6 2.1 3.3 4 3.9 6 3.4 4 3.4 6 .5 2 -.3 10 3 10 2.3 10 .5 14 3.1 20 .4 12 -.5 12 1.1 10 -6.7 .7 -6 2.1 -8 .5 -6 1.9 -10 .5 -2 1 -4 .8 -8 .1 -6 1.8 -10 .2 -4 1.6 -4 .4M1049.4 145.3l-2.5 2.9 -2.1 4 -3.5 4 -.5 2 -3.8 4 -.4 2 -3.7 4 -.6 2 -3.3 4 -2.2 4 -3.6 4 -.5 2 -3.7 4 -.5 2 -3.6 4 -2.1 4 -3.4 4.1 -.7 1.9 -3.6 4 -.5 2 -3.7 4 -.6 2 -3.4 4 -2.1 4 -3.6 4 -.6 2 -3.6 4 -.6 2 -3.5 4 -2.2 4 -3.4 4 -.7 2 -3.6 4 -.6 2 -3.6 4 -.7 2 -3.3 4 -2.2 4 -3.5 4 -.7 2 -3.5 4 -.8 2 -3.4 4 -2.2 4 -3.3 4 -.8 2 -7.8 10 -6.3 10 -3.4 4 -.8 2 -3.4 4 -2.3 4 -2 2 -2.1 4 -3.4 4 -.9 2 -7.6 10 -2.2 4 -7.7 10 -.8 2 -3.4 4 -2.2 4 -3.6 4 -.7 2 -3.5 4 -.8 2 -3.5 4 -2.2 4 -3.5 4 -.6 2 -3.6 4 -.6 2 -3.5 4 -2.3 4 -3.6 4 -.4 2 -3.9 4 -.4 2 -3.7 4 -2.3 4.3 -3.6 3.7 -.3 2 -4 4 -.1 2 -2.2 2 -.7 -2 .1 -4 3.3 -10 7.5 -13.2 6.7 -8.8 6.5 -12 2.8 -6.6 8 -10.5 3.8 -8.9 7.3 -10 9.5 -16 24.2 -36 6.1 -8 28.7 -42 16.6 -22 15.4 -22 5 -6 9.7 -14 41.5 -56"/>
<path stroke="#0000fa" d="M214.4 708.3l8 .3 12 3.7 4 1.8 9.4 5.9 4.6 1.8 8 4.2 2.9 2 3.1 3.4 4.5 6.6 3.5 4 3.6 6 .5 2 -.2 10 3.1 10 2.3 10 .5 14 3.3 20 .4 12 -.5 12 1 10 -6 .7 -6 2.1 -8 .4 -6 2 -10 .5 -2 1 -4 .8 -8 .1 -6 1.8 -10 .2 -4 1.6 -4 .4M1049.4 145.2l-2.5 3 -2.1 4 -3.5 4 -.6 2 -3.7 4 -.4 2 -3.7 4 -.6 2 -3.4 4 -2.1 4 -3.6 4 -.5 2 -3.8 4 -.4 2 -3.6 4 -2.1 4 -3.4 4 -.7 2 -3.6 4 -.6 2 -3.6 4 -.6 2 -3.4 4 -2.2 4 -3.5 4 -.6 2 -3.7 4 -.6 2 -3.4 4 -2.2 4 -3.4 4 -.7 2 -3.6 4 -.7 2 -3.5 4 -.7 2 -3.3 4 -2.3 4 -3.4 4 -.7 2 -3.6 4 -.7 2 -3.4 4 -2.2 4 -3.4 4 -.8 2 -3.4 4 -.8 2 -3.5 4 -6.3 10 -3.5 4 -.8 2 -3.4 4 -2.2 4 -2 2 -2.2 4 -3.4 4 -.8 2 -3.4 4 -2.3 4 -2 2 -2.2 4 -7.6 10 -.9 2 -3.3 4 -2.3 4 -3.5 4 -.7 2 -3.6 4 -.7 2 -3.5 4 -2.2 4 -3.6 4 -.5 2 -3.7 4 -.6 2 -3.4 4 -2.3 4 -3.7 4 -.4 2 -3.9 4 -.3 1.9 -5.4 6.1 -.6 2.2 -3.8 3.8 -.2 2 -2 2 -1.4 0 -.5 -4 .5 -4 4.9 -8 2.7 -6 6.5 -8 2.6 -6 4.6 -8 2.5 -6 7.6 -10.2 4.4 -9.8 6 -8 4.4 -8 12.8 -20 52.3 -76 18.1 -24 12.5 -18 6.4 -8 9.7 -14 41.5 -56"/>
<path stroke="#0000ff" d="M214.4 710.3l8 .3 12 3.6 10 5.8 6.2 2 9.8 5.4 5 4.6 4.2 6 3.6 4 3.7 6 .6 2 -.2 10 3.3 10 2.4 10 .5 14 3.4 20 .4 12 -.5 12 1 10 -5.4 .6 -6 2.2 -8 .4 -6 1.9 -10 .6 -6 1.7 -8 .1 -6 1.9 -10 .2 -4 1.6 -4 .4M1049.4 145.2l-2.5 3 -2.1 4 -3.5 4 -.6 2 -3.7 4 -.4 2 -3.7 4 -.6 2 -3.4 4 -2.1 4 -3.6 4 -.5 2 -3.8 4 -.5 2 -3.5 4 -2.1 4 -3.4 4 -.7 2 -3.6 4 -.6 2 -3.6 4 -.7 2 -3.3 4 -2.2 4 -3.5 4 -.6 2 -3.7 4 -.6 2 -3.4 4 -2.2 4 -3.4 4 -.8 2 -3.5 4 -.7 2 -3.5 4 -.8 2 -4.6 6 -.9 2 -3.4 4 -.8 2 -3.5 4 -.8 2 -3.3 4 -2.2 4 -3.4 4 -.8 2 -7.7 10 -6.4 10 -3.4 4 -.8 2 -3.4 4 -2.2 4 -2 2 -2.2 4 -3.4 4 -.8 2 -3.5 4 -2.2 4 -2 2 -2.2 4 -3.4 4 -.8 2 -3.5 4 -.8 2 -3.4 4 -2.2 4 -3.6 4 -.7 2 -3.5 4 -.8 2 -3.5 4 -2.2 4 -3.6 4 -.5 2 -3.7 4 -.5 2 -3.5 4 -2.3 4 -3.8 4 -.2 2 -4 4 -.2 1.3 -2 2.8 -3.6 3.9 -.4 2 -4 4 0 .9 -1.3 -.9 -.7 -1.6 -.1 -2.4 5.2 -8 2.1 -6 6.8 -7.7 2 -6.3 4.7 -8 1.5 -4 7.8 -11.1 5 -10.9 6 -8 4.1 -8 12.9 -20 52.2 -76 17.8 -23.6 12.8 -18.4 6.5 -8 9.6 -14 16.8 -22 24.7 -34"/>
<path stroke="#0000ff" d="M214.4 712.2l8 .4 12 3.5 6.6 3.9 7.4 2.2 6 2.9 6 3.7 3.5 3.2 8 10 4 6 .6 2 -.1 10 3.4 10 2.8 12 0 10 3.6 22 .4 12 -.4 12 1 10 -4.8 .5 -6 2.2 -8 .5 -6 1.9 -10 .5 -6 1.8 -8 .1 -6 1.9 -10 .2 -4 1.6 -4 .4M1049.4 145.2l-2.5 3 -2.1 4 -3.5 4 -.6 2 -3.7 4 -.5 2 -3.6 4 -.7 2 -3.3 4 -2.2 4 -3.6 4 -.5 2 -3.7 4 -.5 2 -3.5 4 -2.1 4 -3.5 4 -.6 2 -3.7 4 -.5 2 -3.6 4 -.7 2 -3.3 4 -2.2 4 -3.5 4 -.7 2 -3.6 4 -.6 2 -3.5 4 -2.1 4 -3.4 4 -.8 2 -3.5 4 -.7 2 -3.5 4 -.8 2 -4.7 6 -.8 2 -3.5 4 -.7 2 -3.5 4 -.8 2 -3.4 4 -2.2 4 -3.3 4 -.8 2 -3.5 4 -.8 2 -3.4 4 -6.4 10 -3.4 4 -.9 2 -3.3 4 -2.3 4 -1.9 2 -2.2 4 -3.5 4 -.8 2 -3.4 4 -2.3 4 -2 2 -2.1 4 -3.5 4 -.8 2 -3.4 4 -.9 2 -3.3 4 -2.3 4 -3.6 4 -.6 2 -3.6 4 -.7 2 -5 6 -.7 2 -3.7 4 -.4 2 -3.8 4 -.4 1.7 -5 6.3 -.8 2 -3.9 4 -.2 2 -5.7 6 -.4 2 -3.9 4 -.1 2 -2 1.7 -2.2 -1.7 4.8 -6 1.7 -8 6 -6 2.5 -8 3.7 -6 3.5 -7.2 6 -8.8 4.5 -10 7.1 -10 3.9 -8 12.9 -20 52 -76 17.6 -23.2 13.1 -18.8 6.6 -8 9.5 -14 16.8 -22 24.8 -34"/>
<path stroke="#0001ff" d="M214.4 714.2l6 .2 4 .9 10 2.9 3.4 1.8 8.6 2.5 6 2.6 10 7 6.7 7.9 5.7 8 .6 2 .1 10 4 12 2.4 10 -.1 10 4 24 -.2 22 .9 10 -4.1 .5 -6 2.2 -8 .4 -6 2 -10 .5 -6 1.8 -8 .1 -6 1.9 -10 .2 -4 1.6 -4 .4M1049.4 145.2l-2.5 3 -2.1 4 -3.6 4 -.5 2 -3.7 4 -.5 2 -3.6 4 -.7 2 -4.8 6.2 -.7 1.8 -3.6 4 -.5 2 -3.7 4 -.5 2 -3.5 4 -2.1 4 -3.5 4 -.6 2 -3.7 4 -.5 2 -3.6 4 -.7 2 -3.3 4 -2.2 4 -3.5 4 -.7 2 -3.6 4 -.6 2 -3.5 4 -2.1 4 -3.5 4 -.7 2 -3.6 4 -.7 2 -3.4 4 -.9 2 -4.6 6 -.8 2 -3.5 4 -.7 2 -3.5 4 -.9 2 -3.3 4 -2.2 4 -3.3 4 -.9 2 -3.4 4 -.9 2 -3.4 4 -2.2 4 -3.3 4 -.8 2 -3.5 4 -.8 2 -3.4 4 -2.2 4 -2 2 -2.2 4 -3.4 4 -.8 2 -3.4 4 -2.3 4 -2 2 -2.2 4 -3.5 4 -.7 2 -3.5 4 -.9 2 -3.3 4 -2.2 4 -3.7 4 -.6 2 -3.6 4 -.6 1.8 -5.2 6.2 -.6 2 -3.7 4 -.4 2 -3.8 4 -2.1 4 -3.4 4 -.7 2 -4 4 -.1 2 -4 4.1 -1.7 -.1 -.4 -4 5.7 -6 2 -8 3.8 -6 3 -6 3.6 -4.9 7.1 -15.1 7.1 -10 3.8 -8 12.8 -20 51.9 -76 17.3 -22.8 14 -20 6 -7.2 9.5 -14 16.8 -22 24.8 -34"/>
<path stroke="#0008ff" d="M214.4 716.3l8 .6 6 2 12 2.7 10 3.5 4.6 2.9 7.4 5.8 6 6.9 5.2 7.3 .7 2 .2 10 4.2 12 2.4 10 0 10 4 24 -.1 22 .9 10 -5.5 1 -1.4 1 -2.6 .7 -8 .4 -6 1.9 -10 .6 -6 1.8 -8 .1 -6 1.8 -10 .3 -4 1.5 -4 .5M1049.4 145.1l-2.5 3.1 -2.1 4 -3.6 4 -.5 2 -3.8 4 -.4 2 -3.6 4 -.7 2 -4.8 6.2 -.7 1.8 -3.6 4 -.5 2 -3.7 4 -.5 2 -3.5 4 -2.1 4 -3.5 4 -.7 2 -3.6 4 -.6 2 -3.5 4 -.8 2 -3.2 4 -2.2 4 -3.6 4 -.6 2 -3.6 4 -.7 2 -9 12 -.7 2 -3.6 4 -.7 2 -3.4 4 -2.2 4 -3.3 4 -.9 2 -3.4 4 -.8 2 -3.5 4 -6.3 10 -3.4 4 -.8 2 -3.4 4 -.9 2 -8.9 12 -.9 2 -3.4 4 -.9 2 -3.3 4 -2.2 4 -2 2 -2.2 4 -3.5 4 -.8 2 -3.4 4 -2.3 4 -1.9 2 -2.2 4 -3.5 4 -.8 2 -3.4 4 -.9 2 -4.7 6 -.8 2 -3.8 4 -.5 2 -3.6 4 -2.6 4.4 -3.3 3.6 -.5 2 -3.9 4 -.2 2 -3.9 4 -2.2 4.3 -3.4 3.7 -.6 2.2 -2 1.9 -1.7 -.1 2.2 -10 10.1 -16 7.1 -16 7.1 -10 3.6 -8 23.4 -36 41.1 -60 17.1 -22.4 14 -20 6.3 -7.6 9.5 -14 16.9 -22 24.7 -34M854.2 420.2l1.2 -1.2 0 3.2 -2 1.9 -1.9 -1.9 2.7 -2"/>
<path stroke="#000fff" d="M214.4 718.7l6 .1 4.9 1.2 11.1 1.4 13.5 4.6 3.2 2 9.3 7.6 4.2 4.4 5.9 8 .7 2 .4 10 4.3 12 2.4 10 0 10 4.2 24 -.1 22 .8 10 -4.8 .8 -1.6 1.2 -2.4 .6 -8 .5 -6 1.9 -10 .6 -6 1.8 -8 .1 -6 1.8 -10 .3 -4 1.5 -4 .5M1049.4 145.1l-2.6 3.1 -2.1 4 -3.5 4 -.6 2 -3.7 4 -.4 2 -3.6 4 -.8 2 -4.7 6.1 -.7 1.9 -3.6 4 -.5 2 -3.7 4 -.6 2 -3.4 4 -2.2 4 -3.4 4 -.7 2 -3.6 4 -.6 2 -3.6 4 -.7 2 -3.3 4 -2.2 4 -3.5 4 -.6 2 -3.6 4 -.7 2 -9 12 -.8 2 -3.5 4 -.7 2 -3.5 4 -2.1 4 -3.3 4 -.9 2 -7.7 10 -6.3 10 -3.4 4 -.8 2 -3.5 4 -2.2 4 -2 2 -2.2 4 -3.4 4 -.8 2 -3.4 4 -.9 2 -3.3 4 -2.2 4 -2 2 -2.3 4 -3.4 4 -.8 2 -3.4 4 -2.3 4 -2 2 -2.2 4 -3.5 4 -.7 2 -9.1 12 -.8 2 -3.7 4 -.6 2 -3.6 4 -2.5 4.4 -3.5 3.6 -.4 2 -3.9 4 -.2 2 -3.9 4 -2.1 4.2 -3.6 3.8 -.4 2 -2 0 .3 -4 1.1 -4 9.5 -14 7.1 -17.2 7.3 -10.8 3.5 -8 23.3 -36 41.1 -60 16.8 -22 14 -19.9 6.6 -8.1 9.5 -14 16.9 -22 24.8 -34"/>
<path stroke="#0017ff" d="M214.4 720.4l8 .2 12 1.3 14 4.6 4 2.5 8 6.4 4.8 4.6 6.1 8 .8 2 .5 10 4.4 12 2.6 10 -.1 10 4.3 24 .3 10 -.4 10 .8 12 -4.1 .7 -1.7 1.3 -2.3 .6 -8 .4 -6 2 -10 .6 -6 1.7 -8 .2 -6 1.8 -10 .2 -4 1.6 -4 .4M1049.4 145.1l-2.6 3.1 -2.1 4 -3.5 4 -.6 2 -3.7 4 -.5 2 -3.6 4 -2 4 -3.4 4.1 -.7 1.9 -3.6 4 -.5 2 -3.7 4 -.6 2 -3.4 4 -2.2 4 -3.4 4 -.7 2 -3.6 4 -.6 2 -3.6 4 -.7 2 -4.7 6.1 -.8 1.9 -3.5 4 -.7 2 -3.5 4 -.7 2 -9 12 -.8 2 -3.5 4 -.8 2 -3.4 4 -2.1 4 -3.4 4 -.8 2 -7.7 10 -6.4 10 -3.3 4 -.9 2 -3.4 4 -2.3 4 -1.9 2 -2.3 4 -3.3 4 -.8 2 -3.5 4 -6.4 10 -3.3 4 -.9 2 -3.5 4 -.8 2 -9 12 -.8 2 -3.5 4 -.8 2 -9.1 12 -.7 2 -3.8 4 -.5 2 -3.7 4 -2.4 4.3 -3.7 3.7 -.2 2 -4 4 -.1 1.5 -5.6 6.5 -.4 2 -3.9 4 -.1 2 -.5 0 -.4 -2 1.4 -6 1.5 -2.4 3.7 -3.6 4.3 -7.1 6 -16.9 7.9 -12 3.3 -8 21.9 -34 42.4 -62 16.7 -22 13.8 -19.5 6.9 -8.5 9.5 -14 6.4 -8 3.9 -6 6.6 -8 24.8 -34"/>
<path stroke="#001fff" d="M214.4 721.3l8 .1 12 1.4 12 3.9 6 3.8 11.5 9.5 6.2 8 .9 2 .6 10 4.5 12 2.7 10 -.1 10 4.5 24 .3 10 -.5 10 .9 12 -3.5 .6 -1.9 1.4 -2.1 .5 -8 .5 -6 2 -10 .5 -6 1.8 -8 .2 -6 1.8 -10 .2 -4 1.6 -4 .4M1049.4 145l-2.6 3.2 -2.1 4 -3.6 4 -.5 2 -3.7 4 -.5 2 -3.6 4 -2 4 -3.4 4 -.8 2 -3.5 4 -.6 2 -3.7 4 -.5 2 -3.5 4 -2.1 4 -3.5 4 -.6 2 -3.6 4 -.6 2 -3.6 4 -.8 2 -4.6 6.1 -.8 1.9 -3.5 4 -.7 2 -3.6 4 -.7 2 -3.3 4 -2.2 4 -7.8 10 -.7 2 -3.4 4 -2.2 4 -3.3 4 -.8 2 -3.5 4 -.8 2 -3.4 4 -6.4 10 -3.4 4 -.8 2 -3.4 4 -2.3 4 -2 2 -2.2 4 -7.6 10 -6.4 10 -3.4 4 -.8 2 -3.5 4 -.8 2 -3.4 4 -2.3 4 -3.4 4 -.8 2 -3.5 4 -.7 2 -3.5 4 -2.2 4 -3.6 4 -.6 2 -3.8 4 -.5 2 -5.2 6 -.8 2.2 -3.8 3.8 -.2 2 -2 2.1 -1.6 -.1 5.6 -18.5 8 -12.5 3.7 -9 23.1 -36 41 -60 16.7 -22 13.5 -19.1 7.3 -8.9 9.4 -14 6.4 -8 3.9 -6 6.7 -8 24.7 -34M868.7 400.2l.7 -1.2 0 1.4 -.7 -.2M861 408.2l.4 -.6 2 -.3 0 .9 0 2 -2 2.2 -1.4 -.2 1 -4"/>
<path stroke="#0027ff" d="M214.4 722.2l8 .1 12 1.4 6 1.8 6 2.4 4 2.6 12 9.5 6.6 8 .8 2 .8 10 4.7 12 2.7 10 0 10 4.5 24 .3 10 -.5 12 .9 10 -2.8 .5 -2 1.5 -2 .5 -8 .5 -6 1.9 -10 .6 -6 1.8 -8 .1 -6 1.9 -10 .2 -4 1.5 -4 .5M1049.4 145l-2.6 3.2 -2.1 4 -3.6 4 -.5 2 -3.7 4 -.5 2 -3.6 4 -2.1 4 -3.4 4 -.7 2 -3.6 4 -.5 2 -3.7 4 -.6 2 -3.4 4 -2.1 4 -3.5 4 -.6 2 -3.7 4 -.6 2 -3.5 4 -2.1 4 -3.3 4 -.8 2 -3.5 4 -.7 2 -3.6 4 -.7 2 -3.4 4 -2.2 4 -7.7 10 -.7 2 -3.4 4 -2.2 4 -3.3 4 -.9 2 -7.7 10 -2.2 4 -7.5 10 -.8 2 -3.5 4 -2.2 4 -2 2 -2.2 4 -3.4 4 -.8 2 -3.5 4 -6.4 10 -3.4 4 -.8 2 -3.5 4 -.8 2 -3.4 4 -2.2 4 -3.5 4 -.7 2 -3.6 4 -.7 2 -3.5 4 -2.2 4 -3.6 4 -.5 2 -3.9 4 -.4 1.9 -5.4 6.1 -.5 2 -4.1 4 0 1.5 -.6 -1.5 .3 -4 3 -10 7.3 -12 4.1 -10 21.8 -34 42.2 -62 16.6 -22 13.3 -18.7 7.6 -9.3 9.3 -14 6.6 -8 3.8 -6 6.7 -8 24.7 -34"/>
<path stroke="#002fff" d="M214.4 723.1l8 .1 12 1.5 9.5 3.3 4.5 2.6 12.2 9.4 7.2 8 .9 2 .9 10 4.8 12 2.8 10 0 10 4.6 24 .3 10 -.5 10 1 12 -2.2 .4 -2.2 1.6 -1.8 .4 -8 .5 -6 2 -10 .6 -6 1.8 -8 .1 -6 1.8 -10 .3 -4 1.5 -4 .5M1049.4 145l-2.6 3.2 -2.1 4 -3.6 4 -.6 2 -3.6 4 -.6 2 -3.5 4 -2.1 4 -3.4 4 -.7 2 -3.6 4 -.5 2 -3.7 4 -.6 2 -3.4 4 -2.1 4 -3.5 4 -.7 2 -3.6 4 -.6 2 -3.5 4 -2.1 4 -3.4 4 -.7 2 -3.6 4 -.7 2 -3.5 4 -.8 2 -3.3 4 -2.2 4 -7.7 10 -.8 2 -3.3 4 -2.2 4 -3.4 4 -.8 2 -3.4 4 -.8 2 -3.5 4 -6.4 10 -3.4 4 -.8 2 -3.4 4 -2.2 4 -2 2 -2.3 4 -3.3 4 -.8 2 -3.5 4 -6.4 10 -3.4 4 -.8 2 -3.5 4 -.8 2 -3.4 4 -2.2 4 -3.6 4 -.6 2 -3.7 4 -.6 2 -3.5 4 -2.2 4 -3.7 4 -.5 2 -3.9 4 -.3 1.4 -2 2.8 -3.7 3.8 -.3 2.1 -2 2 -.7 -.1 .5 -6 1.1 -4 7.1 -12.8 4.6 -11.2 4.2 -6 18.7 -30 40.9 -60 16.6 -22 13 -18.2 8 -9.8 9.2 -14 6.6 -8 3.8 -6 6.4 -7.6 25 -34.4"/>
<path stroke="#0038ff" d="M214.4 724l8 .2 12 1.5 6.7 2.3 7.1 4 7.4 6 3.3 2 3.5 3.1 4.2 4.9 .9 2 1 10 5 12 2.9 10 0 10 4.7 24 .3 10 -.6 10 1.1 12 -1.5 .3 -2.4 1.7 -9.6 .9 -6 2 -10 .6 -6 1.8 -8 .1 -6 1.8 -10 .3 -4 1.5 -4 .5M1049.4 144.9l-2.6 3.3 -2.2 4 -3.5 4 -.6 2 -3.7 4 -.5 2 -3.5 4 -2.1 4 -3.4 4 -.7 2 -3.6 4 -.6 2 -3.6 4 -.6 2 -3.4 4 -2.2 4 -3.4 4 -.7 2 -3.6 4 -.6 2 -3.5 4 -2.2 4 -3.3 4 -.8 2 -3.5 4 -.7 2 -3.5 4 -.8 2 -3.3 4 -2.2 4 -3.4 4 -.8 2 -3.5 4 -.8 2 -3.4 4 -2.1 4 -3.4 4 -.8 2 -7.7 10 -6.4 10 -3.4 4 -.8 2 -3.4 4 -2.3 4 -2 2 -2.2 4 -3.4 4 -.8 2 -3.4 4 -6.4 10 -7.8 10 -.8 2 -3.4 4 -2.2 4 -3.6 4 -.6 2 -3.6 4 -.7 2 -3.5 4 -2.2 4 -3.7 4 -.4 2 -4 4 -2.2 4.2 -3.9 3.8 -.4 2 -.4 -4 .7 -3.3 7.1 -14.7 2.9 -8 22.6 -36 19.4 -28 8.8 -14 6 -8 7.8 -12 16.7 -22 12.8 -18 8.1 -10 9.3 -14 6.6 -8 3.9 -6 6 -7.2 25.3 -34.8"/>
<path stroke="#0040ff" d="M214.4 725l12 .6 8 1.1 4 1.4 7.5 3.9 12.5 9 7 7 .9 2 1.1 10 5.1 12 3.1 10 .3 12 4.5 22 .3 10 -.6 12 1.1 10 -2.8 1.2 -.6 .8 -9.4 .9 -6 1.9 -10 .6 -6 1.8 -8 .2 -6 1.8 -10 .3 -4 1.4 -4 .6M1049.4 144.9l-2.7 3.3 -2.1 4 -3.5 4 -.6 2 -3.7 4 -.5 2 -3.5 4 -2.1 4 -3.4 4 -.7 2 -3.6 4 -.6 2 -3.6 4 -.7 2 -3.3 4 -2.2 4 -3.5 4 -.6 2 -3.6 4 -.7 2 -3.5 4 -2.1 4 -3.3 4 -.8 2 -3.5 4 -.7 2 -3.5 4 -2.2 4 -7.6 10 -.7 2 -3.5 4 -.9 2 -8.8 12 -.9 2 -7.6 10 -6.4 10 -3.4 4 -.8 2 -3.5 4 -2.2 4 -2 2 -2.2 4 -3.4 4 -.8 2 -3.5 4 -6.4 10 -7.7 10 -.8 2 -3.4 4 -2.2 4 -3.7 4 -.5 2 -3.7 4 -.6 1.9 -5 6.1 -.7 2 -3.8 4 -.4 2 -5.7 6 -.4 2.1 -2 2 -.7 -.1 .6 -4 9.7 -24 4.4 -6 17 -28 19.4 -28 8.7 -14 6.1 -8 7.7 -12 16.7 -22 12.8 -18 8.2 -10 9.3 -14 6.5 -8 3.8 -6 5.8 -6.8 25.6 -35.2"/>
<path stroke="#004aff" d="M214.4 726l12 .7 8 1.2 4 1.5 6 3.2 7.1 5.4 4.9 2.9 8 7.7 1.1 3.4 .8 8 5.3 12 3.1 10 .5 12 4.5 22 .3 10 -.6 10 1.1 12 -2.1 .9 -.8 1.1 -9.2 .8 -6 2 -10 .6 -6 1.8 -8 .2 -6 1.8 -10 .3 -4 1.4 -4 .5M1049.4 144.8l-4 5.5 -.8 1.9 -3.6 4 -.5 2 -3.7 4 -.6 2 -3.5 4 -2 4 -3.5 4 -.7 2 -3.5 4 -.6 2 -3.6 4 -.7 2 -3.3 4 -2.2 4 -3.5 4 -.6 2 -3.6 4 -.7 2 -3.5 4 -2.1 4 -3.3 4 -.8 2 -3.5 4 -.8 2 -3.5 4 -2.1 4 -7.6 10 -.8 2 -3.5 4 -.8 2 -8.9 12 -.8 2 -3.4 4 -.9 2 -3.4 4 -6.4 10 -3.4 4 -.8 2 -3.4 4 -6.5 10 -3.4 4 -.8 2 -3.4 4 -6.4 10 -7.8 10 -.8 2 -3.4 4 -2.2 4 -3.6 4 -.6 2 -3.7 4 -.5 1.7 -5.1 6.3 -.7 2 -3.9 4 -.2 2 -4.2 4 -.4 -2 .7 -4 4.9 -14 5.6 -8 16.7 -28 19.4 -28 7.3 -12 7.4 -10 7.7 -12 16.7 -22 12.8 -18 8.2 -10 9.2 -14 6.7 -8 3.7 -6 5.5 -6.4 25.9 -35.6"/>
<path stroke="#0053ff" d="M214.4 727.2l12 .6 8 1.5 4 1.6 5.9 3.1 5.1 4 6.6 4 6.4 5.6 1.5 2.4 1.2 10 4 8 4.8 14 .5 12 4.6 22 .4 10 -.8 10 1.2 12 -1.4 .6 -1 1.4 -9 .8 -6 2 -10 .6 -6 1.8 -8 .2 -8 2 -8 0 -4 1.5 -4 .5M1049.4 144.8l-4 5.4 -.8 2 -3.6 4 -.6 2 -3.6 4 -.6 2 -3.5 4 -2.1 4 -3.4 4 -.7 2 -3.6 4 -.5 2 -3.7 4 -.6 2 -3.4 4 -2.1 4 -3.5 4 -.7 2 -3.6 4 -.6 2 -3.5 4 -2.1 4 -3.4 4 -.7 2 -3.6 4 -.7 2 -3.5 4 -2.1 4 -7.6 10 -.8 2 -3.5 4 -.8 2 -3.3 4 -2.2 4 -3.4 4 -.8 2 -3.5 4 -.8 2 -3.4 4 -2.2 4 -1.9 2 -2.3 4 -3.4 4 -.8 2 -3.4 4 -6.5 10 -3.4 4 -.8 2 -3.5 4 -6.3 10 -7.9 10 -.7 2 -4.8 6 -.8 2 -3.7 4 -.5 2 -3.8 4 -2.2 4 -3.5 4 -.5 2 -4 4 -.2 2 -2 1.7 -.7 -3.7 4.3 -14 5.7 -8 16.5 -28 19.4 -28 7.2 -12 7.5 -10 7.7 -12 29.4 -40 8.2 -10 9.2 -14 6.7 -8 3.7 -6 5.2 -6 26.2 -36"/>
<path stroke="#005cff" d="M214.4 728.4l10 .3 8 1.5 5.2 1.8 4.8 2.3 12 7.9 6.9 5.8 1.2 2 1.5 10 4.4 8.6 4.6 13.4 .6 12 4.7 22 .3 10 -.7 12 1.2 10 -1.9 2 -8.8 .7 -6 2 -10 .7 -6 1.8 -8 .1 -8 2.1 -8 0 -4 1.4 -4 .6M1049.4 144.8l-4.1 5.4 -.7 2 -3.6 4 -.6 2 -3.6 4 -.6 2 -3.5 4 -2.1 4 -3.4 4 -.7 2 -3.6 4 -.6 2 -3.6 4 -.7 2 -3.3 4 -2.1 4 -3.5 4 -.7 2 -3.6 4 -.7 2 -3.4 4 -2.1 4 -3.4 4 -.8 2 -3.5 4 -.7 2 -3.5 4 -2.1 4 -7.6 10 -.8 2 -3.5 4 -6.4 10 -3.3 4 -.9 2 -3.4 4 -.9 2 -3.3 4 -2.2 4 -7.7 10 -.8 2 -3.4 4 -2.2 4 -3.4 4 -.9 2 -3.4 4 -.8 2 -3.4 4 -2.3 4 -3.2 4 -.9 2 -3.6 4 -.7 2 -3.5 4 -2.3 4 -3.4 4 -.7 2 -3.7 4 -.5 2 -3.8 4 -2.1 4 -3.7 4 -.4 2 -4 4 -.1 1.8 -1.3 -1.8 .1 -2 3.2 -11.3 4.8 -6.7 17.4 -30 19.4 -28 7.2 -12 7.2 -9.7 7.9 -12.3 29.5 -40 8.1 -10 9.2 -14 6.7 -8 3.7 -6 6.7 -8 24.7 -34"/>
<path stroke="#0066ff" d="M214.4 729.8l10 .2 8 1.7 4 1.3 6 2.9 10 6.3 7.4 5.8 1.4 2 1.6 10 5.3 10 4.1 12 .7 12 4.7 22 .3 10 -.7 12 1.2 10 -1.4 2 -8.6 .7 -6 2 -10 .6 -6 1.9 -8 .1 -8 2.1 -8 0 -4 1.4 -4 .6M1049.4 144.7l-4.1 5.5 -.8 2 -3.5 4 -.6 2 -3.7 4 -.6 2 -3.4 4 -2.1 4 -3.5 4 -.6 2 -3.6 4 -.6 2 -3.6 4 -.7 2 -3.3 4 -2.2 4 -3.5 4 -.6 2 -3.6 4 -.7 2 -3.4 4 -2.2 4 -3.3 4 -.8 2 -3.5 4 -.8 2 -3.4 4 -6.3 10 -7.8 10 -6.3 10 -3.4 4 -.8 2 -3.4 4 -.9 2 -3.4 4 -2.2 4 -3.3 4 -.9 2 -7.6 10 -2.2 4 -3.5 4 -.8 2 -3.5 4 -.7 2 -3.5 4 -2.2 4 -3.3 4 -.8 2 -3.6 4 -.7 2 -3.6 4 -2.2 4 -3.5 4 -.6 2 -3.8 4 -.5 2 -3.7 4 -2.3 4.2 -3.7 3.8 -.3 2.1 -2 2.1 -2 -.2 2.2 -10 6.7 -10 5.1 -9.8 10.6 -18.2 19.4 -27.9 7.1 -12.1 6.9 -9.2 8.2 -12.8 10.1 -14 6.4 -8 13 -18 8.2 -10 9.1 -14 6.7 -8 3.7 -6 6.6 -7.8 24.7 -34.2"/>
<path stroke="#0070ff" d="M214.4 731.2l10 .2 8 1.8 4 1.4 6 2.9 7.6 4.5 8.2 6 1.5 2 2 10 5.4 10 4.2 12 .8 12 4.7 22 .4 10 -.8 12 1.3 10 -.9 2 -8.4 .6 -6 2.1 -10 .6 -6 1.8 -8 .2 -8 2 -8 .1 -4 1.4 -4 .6M1049.4 144.7l-4.1 5.5 -.8 2 -3.6 4 -.5 2 -3.7 4 -.6 2 -3.4 4 -2.1 4 -3.5 4 -.7 2 -3.5 4 -.6 2 -3.6 4 -.8 2 -3.2 4 -2.2 4 -3.5 4 -.7 2 -3.5 4 -.7 2 -3.5 4 -2.1 4 -3.4 4 -.7 2 -7.8 10 -6.3 10 -7.7 10 -2.2 4 -1.9 2 -2.2 4 -3.4 4 -.8 2 -7.7 10 -2.2 4 -3.4 4 -.8 2 -3.4 4 -.9 2 -3.4 4 -2.2 4 -2 2 -2.2 4 -3.5 4 -.8 2 -3.4 4 -2.3 4 -3.3 4 -.8 2 -3.6 4 -.7 2 -3.6 4 -2.1 4 -3.6 4 -.6 2 -3.8 4 -.4 2 -5.5 6 -.5 2.1 -3.8 3.9 -.2 2 -2.3 2 -.3 -2 .6 -5 6.7 -11 5.3 -10.7 11.1 -19.3 18.9 -27.3 7.4 -12.7 6.6 -8.7 8.5 -13.3 10.1 -14 19.4 -25.9 8.2 -10.1 9.1 -14 6.7 -7.9 3.7 -6.1 6.3 -7.5 25 -34.5"/>
<path stroke="#007bff" d="M214.4 732.7l8 -.2 12 3 12 5.5 10 6.9 1.8 2.1 2.4 10 5.6 10 4.2 12 .8 12 4.9 22 .4 10 -.8 12 1.2 10 -.4 2 -8.1 .6 -6 2 -10 .7 -6 1.8 -8 .2 -8 2 -8 .1 -4 1.3 -4 .7M1049.4 144.6l-4.2 5.6 -.7 2 -3.6 4 -.6 2 -3.6 4 -.6 2 -3.5 4 -2 4 -3.5 4 -.7 2 -3.6 4 -.6 2 -3.5 4 -.8 2 -3.2 4 -2.2 4 -3.5 4 -.7 2 -3.6 4 -.7 2 -3.4 4 -2.1 4 -3.4 4 -.8 2 -7.7 10 -6.3 10 -7.7 10 -2.2 4 -1.9 2 -2.3 4 -3.4 4 -.8 2 -3.4 4 -2.3 4 -1.9 2 -2.2 4 -3.4 4 -.9 2 -3.4 4 -.8 2 -3.4 4 -2.2 4 -3.5 4 -.8 2 -3.5 4 -.7 2 -9.1 12 -.7 2 -3.7 4 -.6 2 -3.6 4 -2.2 4 -3.7 4 -.4 2 -4 4 -.2 1.7 -5.8 6.3 -.2 2 -4 4.5 -.4 -2.5 2.4 -5.6 4.8 -8.4 3.4 -8 11.4 -20 18.4 -26.7 7.8 -13.3 6.2 -8.1 8.8 -13.9 10.1 -14 6.4 -8 12.7 -17.5 8.5 -10.5 9.1 -14 6.4 -7.5 4 -6.5 6 -7.1 25.3 -34.9"/>
<path stroke="#0086ff" d="M214.4 734.3l6 -.4 4 .4 6 1.5 12 4.1 12 7.8 2.2 2.3 1.6 4 1.3 6 5.7 10 4.3 12 .6 10 5.2 24 .4 10 -.7 12 1.2 10 -.1 2 -9.7 .9 -4 1.7 -10 .6 -6 1.9 -8 .2 -8 2 -8 0 -8 2M1049.4 144.6l-4.2 5.6 -.7 2 -3.6 4 -.6 2 -3.6 4 -.7 2 -3.4 4 -2.1 4 -3.5 4 -.6 2 -3.6 4 -.6 2 -3.6 4 -.7 2 -4.6 6 -.8 2 -3.5 4 -.7 2 -3.6 4 -.7 2 -3.4 4 -2.1 4 -3.4 4 -.8 2 -7.7 10 -6.3 10 -7.7 10 -2.2 4 -2 2 -2.2 4 -7.6 10 -6.5 10 -3.4 4 -.8 2 -3.4 4 -.9 2 -3.3 4 -2.2 4 -3.6 4 -.7 2 -3.5 4 -.8 2 -3.4 4 -2.2 4 -3.5 4 -.7 2 -3.7 4 -.6 2 -3.6 4 -2.1 4 -3.8 4 -.4 2 -4 4 -2.1 4.1 -2 2 -1 -.1 6 -16 3.7 -6 7.4 -14 17.9 -26 8 -13.7 6 -7.9 9.1 -14.4 10.1 -14 6.4 -8 12.4 -17.1 8.8 -10.9 9.1 -14 6.1 -7.1 4.3 -6.9 5.7 -6.7 25.6 -35.3"/>
<path stroke="#0091ff" d="M214.4 736l8 -.5 17 4.5 5 2.3 8.6 5.7 2 2 1.8 4 1.5 6 6.1 10.4 4.1 11.6 .6 10 5.4 24 .5 10 -.8 12 1.3 10 -.2 2 -8.9 .9 -4 1.6 -10 .7 -6 1.9 -8 .1 -8 2.1 -8 0 -8 2M1049.4 144.5l-.8 1.7 -3.5 4 -.7 2 -3.6 4 -.5 2 -3.7 4 -.6 2 -3.4 4 -2.1 4 -3.5 4 -.7 2 -3.5 4 -.6 2 -3.6 4 -2 4 -3.4 4 -.8 2 -3.5 4 -.7 2 -3.5 4 -2.1 4 -2 2 -2.2 4 -3.4 4 -.7 2 -7.7 10 -6.4 10 -7.7 10 -2.1 4 -2 2 -2.2 4 -7.7 10 -6.4 10 -3.5 4 -.7 2 -3.5 4 -.8 2 -3.4 4 -2.2 4 -3.6 4 -.7 2 -3.5 4 -.7 2 -3.5 4 -2.2 4 -3.5 4 -.6 2 -3.8 4 -.5 2 -5.1 6 -.7 2 -3.8 4 -.3 2 -4.1 4.3 -1.2 -.3 2.9 -10 3.8 -6 7.1 -14 17.4 -25.3 8 -13.8 6 -8 9.5 -14.9 10 -14 6.4 -8 12.1 -16.7 9.1 -11.3 9 -14 5.9 -6.7 4.6 -7.3 5.4 -6.4 25.9 -35.6"/>
<path stroke="#009cff" d="M214.4 737.7l8 -.6 16 3.8 6 2.8 6.7 4.3 2.1 2 2.8 6 1.2 4 6.9 12 3.4 10 .6 10 5.6 24 .5 10 -.7 12 1.2 10 -.1 2 -8.2 .8 -4 1.7 -10 .7 -6 1.8 -8 .2 -8 2.1 -8 0 -8 2M1049.4 144.5l-.9 1.7 -3.4 4 -.7 2 -3.6 4 -.6 2 -3.6 4 -.6 2 -3.4 4 -2.1 4 -3.5 4 -.7 2 -3.5 4 -.7 2 -3.5 4 -2.1 4 -3.3 4 -.8 2 -3.5 4 -.7 2 -3.5 4 -2.1 4 -2.1 2 -2.1 4 -3.4 4 -.8 2 -3.5 4 -.7 2 -3.5 4 -6.3 10 -3.4 4 -.9 2 -3.4 4 -6.4 10 -3.4 4 -.8 2 -3.4 4 -6.4 10 -3.5 4 -.8 2 -7.6 10 -2.2 4 -3.6 4 -.7 2 -3.6 4 -.7 2 -3.5 4 -2.1 4 -3.6 4 -.6 2 -3.8 4 -.4 1.7 -5.3 6.3 -.5 2 -4 4 -.2 2 -2 1.5 -.6 -1.5 .6 -4.5 4.4 -7.5 6.7 -14 16.9 -24.6 8 -14 6 -8 9.8 -15.4 10 -14 18.2 -24.3 9.4 -11.7 9 -14 5.6 -6.3 4.9 -7.7 5.1 -6 26.2 -36"/>
<path stroke="#00a8ff" d="M214.4 738.9l6 -.5 4 .3 6.8 1.3 7.2 2.1 4 1.7 6.8 4.2 2.1 2 1.2 2 3.3 8 7.2 12 3.6 10 .5 10 5.8 24 .6 10 -.8 12 1.2 10 -.1 2 -7.4 .7 -4 1.7 -10 .7 -6 1.9 -8 .2 -8 2 -8 .1 -8 2M1049.4 144.4l-.9 1.8 -3.5 4 -.6 2 -3.6 4 -.6 2 -3.6 4 -.7 2 -3.3 4 -2.1 4 -3.6 4 -.6 2 -3.6 4 -.6 2 -3.5 4 -2.1 4 -3.3 4 -.8 2 -3.5 4 -.7 2 -3.6 4 -2.1 4 -2 2 -2.1 4 -3.4 4 -.8 2 -3.5 4 -.8 2 -3.4 4 -2.1 4 -3.4 4 -.8 2 -7.7 10 -6.4 10 -3.4 4 -.8 2 -3.5 4 -6.4 10 -3.5 4 -.7 2 -3.5 4 -.8 2 -3.4 4 -2.2 4 -3.6 4 -.7 2 -3.5 4 -.7 2 -5 6 -.7 2 -3.6 4 -.5 2 -3.9 4 -.3 1.4 -2 2.9 -3.5 3.7 -.4 2 -4 4 -.1 2 -.5 0 -.7 -2 .8 -4 3.8 -6 6.2 -14 16.4 -23.9 8 -14.1 26.1 -38 18 -24 9.7 -12 8.9 -14 5.3 -6 5.1 -8 6.7 -8 24.6 -34"/>
<path stroke="#00b4ff" d="M214.4 740l8 -.4 8 1.3 10 3.3 6.9 3.8 2.1 2 3 5.4 1.8 4.6 7.6 12 3.8 10 .5 10 6 24 .6 10 -.7 12 1.2 10 -.1 2 -6.7 .7 -4 1.7 -10 .7 -6 1.9 -8 .2 -8 2 -8 .1 -8 2M1049.4 144.4l-.9 1.8 -3.5 4 -.7 2 -3.6 4 -.5 2 -3.6 4 -.7 2 -3.4 4 -2.1 4 -3.5 4 -.7 2 -3.5 4 -.6 2 -3.5 4 -2.1 4 -3.4 4 -.8 2 -3.5 4 -.7 2 -3.5 4 -2.1 4 -2 2 -2.2 4 -3.4 4 -.7 2 -3.5 4 -.8 2 -3.4 4 -2.2 4 -3.3 4 -.9 2 -7.7 10 -6.3 10 -3.5 4 -.8 2 -3.4 4 -6.4 10 -3.5 4 -.8 2 -3.4 4 -.9 2 -4.7 6 -.8 2 -3.7 4 -.6 2 -3.6 4 -.6 1.8 -5.1 6.2 -.6 2 -3.7 4 -.5 2 -3.8 4 -2.3 4.2 -3.8 3.8 -.2 2.1 -2 2 -1.7 -.1 1.6 -4 2.7 -4 5.6 -14 15.8 -23 6 -11.3 8 -11.2 10.5 -16.5 27.9 -38 9.7 -12 8.9 -14 5.3 -6 5.1 -8 6.6 -7.9 24.7 -34.1"/>
<path stroke="#00c0ff" d="M214.4 741.1l8 -.3 8 1.3 8 2.5 7 3.4 2.2 2 4.9 10 8.1 12 3.5 8 1 12 6.2 24 .6 10 -.7 12 1.2 10 -.1 2 -5.9 .6 -4 1.7 -10 .8 -6 1.8 -10 .5 -6 1.8 -8 0 -8 2M1049.4 144.3l-.9 1.9 -3.6 4 -.6 2 -3.6 4 -.6 2 -3.6 4 -.7 2 -3.3 4 -2.1 4 -3.5 4 -.7 2 -3.5 4 -.7 2 -3.5 4 -2 4 -3.4 4 -.8 2 -3.5 4 -.7 2 -3.5 4 -2.1 4 -2 2 -2.2 4 -3.4 4 -.8 2 -3.4 4 -.9 2 -3.3 4 -2.2 4 -3.4 4 -.8 2 -7.7 10 -6.4 10 -3.4 4 -.8 2 -3.4 4 -2.3 4 -3.3 4 -.9 2 -3.5 4 -.7 2 -9.1 12 -.7 2 -3.8 4 -.6 2 -3.6 4 -2.2 4 -3.6 4 -.5 2 -3.7 4 -.4 2 -5.6 6 -.5 2.1 -2 2 -1.3 -.1 6.1 -16 15.2 -22.2 6 -11.4 8 -11.4 10.8 -17 21.9 -30 15.6 -20 9 -14 6.7 -7.9 3.7 -6.1 6.3 -7.6 24.9 -34.4M908.9 342.2l.5 -.7 0 2.7 -1.5 0 1 -2"/>
<path stroke="#00cdff" d="M214.4 742.2l8 -.2 6 .9 8 2.1 6.9 3 2.4 2 5 10 4.8 6 4.9 8 3.1 8 .5 10 6.4 24 .7 10 -.7 12 1.2 10 -.1 2 -5.1 .5 -4 1.8 -10 .7 -6 1.9 -10 .5 -6 1.8 -8 0 -8 2M1049.4 144.3l-1 1.9 -3.5 4 -.6 2 -3.6 4 -.6 2 -3.6 4 -.7 2 -3.3 4 -2.1 4 -3.6 4 -.6 2 -3.6 4 -.6 2 -3.5 4 -2.1 4 -3.4 4 -.7 2 -3.5 4 -.7 2 -3.5 4 -2.1 4 -2.1 2 -2.1 4 -3.5 4 -.7 2 -3.5 4 -2.2 4 -2 2 -2.1 4 -3.4 4 -.8 2 -7.8 10 -6.3 10 -3.5 4 -.8 2 -9 12 -.8 2 -3.6 4 -.7 2 -9.1 12 -.7 2 -3.8 4 -.5 2 -3.7 4 -2.4 4.4 -3.4 3.6 -.4 2 -3.9 4 -.3 2 -4 4.4 -1.7 -.4 3.2 -10 14.5 -21.3 6 -11.7 8 -11.4 11.2 -17.6 21.8 -30 15.6 -20 9 -14 6.4 -7.6 4 -6.4 6 -7.2 25.2 -34.8M913.1 336.2l.3 -1.1 0 3.1 -.5 0 .2 -2"/>
<path stroke="#00daff" d="M214.4 743.4l8 -.2 6 .9 8 2.1 6 2.8 2.6 3 3.9 8 5.5 6.6 4.8 7.4 3.3 8 .5 10 6.6 24 .7 10 -.7 12 1.2 10 -.1 2 -4.3 .4 -4 1.8 -10 .8 -6 1.9 -10 .5 -6 1.7 -8 .1 -8 2M1049.4 144.2l-1 2 -3.6 4 -.5 2 -3.7 4 -.5 2 -3.6 4 -.8 2 -3.2 4 -2.2 4 -3.5 4 -.7 2 -3.5 4 -2 4 -2.1 2 -2.1 4 -3.4 4 -.7 2 -3.6 4 -.7 2 -3.5 4 -2.1 4 -2 2 -2.2 4 -3.4 4 -.7 2 -3.5 4 -2.2 4 -2 2 -2.2 4 -11.9 16 -6.3 10 -3.5 4 -.8 2 -3.4 4 -2.3 4 -3.4 4 -.7 2 -3.6 4 -.7 2 -3.5 4 -2.2 4 -3.5 4 -.6 2 -3.9 4 -.5 2 -3.6 4 -2.4 4.3 -3.6 3.7 -.3 2 -3.9 4 -.2 2 -2 2 -.9 0 1.2 -8 13.7 -20.3 5.8 -11.7 8.2 -11.8 10.2 -16.2 23.1 -32 15.6 -20 9 -14 6.1 -7.2 4.3 -6.8 5.7 -6.9 25.5 -35.1"/>
<path stroke="#02e8f5" d="M214.4 744.5l8 -.1 6 .8 8 2.1 5.1 2.7 2.9 4.3 2.7 5.7 6.8 8 5.2 8 2.4 6 .9 12 6.3 22 .7 10 -.6 12 1.2 10 -.1 2 -5.5 .9 -2 1.3 -10 .7 -6 1.9 -10 .5 -6 1.8 -8 .1 -8 2M1049.4 144.2l-1 2 -3.6 4 -.6 2 -3.6 4 -.6 2 -3.5 4 -2 4 -2.1 2 -2.1 4 -3.6 4 -.6 2 -3.5 4 -2.1 4 -2 2 -2.1 4 -3.5 4 -.7 2 -3.5 4 -.7 2 -3.5 4 -2.1 4 -2 2 -2.2 4 -3.4 4 -.8 2 -3.4 4 -2.2 4 -2 2 -2.2 4 -3.4 4 -.8 2 -7.7 10 -2.2 4 -7.7 10 -.8 2 -3.4 4 -2.2 4 -3.5 4 -.7 2 -3.6 4 -.7 2 -3.5 4 -2.2 4 -3.5 4 -.6 2 -3.9 4 -.4 2 -3.7 4 -2.1 4 -3.9 4 -.2 2 -4 4 -.1 1.1 -1.5 -1.1 .9 -4 12.6 -19.1 6 -12.5 8 -11.6 10.6 -16.8 23 -32 15.5 -20 9.1 -14 5.8 -6.8 4.5 -7.2 5.5 -6.5 25.8 -35.5"/>
<path stroke="#0df6ea" d="M214.4 745.6l8 0 6 .7 6.8 1.7 3.7 2 3.5 4.5 2.8 5.5 7.1 8 6.1 9 2.1 5 .9 12 6.5 22 .6 10 -.5 12 1.2 10 -.1 2 -4.7 .8 -2 1.3 -10 .8 -6 1.9 -10 .5 -6 1.8 -8 .1 -8 1.9M1049.4 144.1l-1 2.1 -3.7 4 -.5 2 -3.6 4 -.6 2 -1.4 2 -2.2 2 -2 4 -2 2 -2.1 4 -3.6 4 -.6 2 -3.6 4 -2 4 -2.1 2 -2 4 -3.5 4 -.7 2 -3.5 4 -.7 2 -3.5 4 -2.1 4 -2 2 -2.2 4 -3.5 4 -.7 2 -3.5 4 -2.2 4 -2 2 -2.1 4 -3.5 4 -.8 2 -7.7 10 -2.1 4 -3.4 4 -.8 2 -3.6 4 -.7 2 -3.4 4 -2.2 4 -3.6 4 -.6 2 -3.7 4 -.6 2 -3.5 4 -2.2 4 -3.7 4 -.4 2 -4 4 -.3 1.5 -5.4 6.5 -.6 2.2 -3.9 3.8 -.1 2 -2 2.1 -2 -.1 5.3 -10 6.7 -9.8 6 -13.1 18.9 -29.1 21.5 -30 17 -22 9.1 -14 5.5 -6.4 4.8 -7.6 5.2 -6.1 26 -35.9M919.3 328.2l.1 -1.1 -.1 1.1"/>
<path stroke="#19ffde" d="M214.4 746.7l12 .4 4.7 .9 4.9 2 3.7 4 3.5 6 7.4 8 7.1 10 1.7 4 1 12 6.6 22 .6 10 -.6 10 1.4 12 -.1 2 -3.9 .6 -2 1.5 -10 .8 -6 1.9 -10 .5 -6 1.8 -8 0 -8 2M1049.4 144l-1.1 2.2 -3.6 4 -.5 2 -3.7 4 -.6 2 -1.4 2 -2.1 2 -2 4 -3.4 4 -.7 2 -3.6 4 -.7 2 -3.5 4 -2 4 -2.1 2 -2.1 4 -3.5 4 -.6 2 -3.6 4 -.7 2 -3.5 4 -2 4 -2.1 2 -2.2 4 -3.4 4 -.7 2 -3.5 4 -2.2 4 -2 2 -2.2 4 -3.4 4 -.8 2 -7.7 10 -2.1 4 -3.5 4 -.8 2 -3.5 4 -.8 2 -3.4 4 -2.2 4 -3.5 4 -.7 2 -3.7 4 -.6 2 -3.5 4 -2.2 4 -3.7 4 -.4 2 -4 4 -.2 1.1 -1.5 .9 -.5 2.1 -3.7 3.9 -.3 2.1 -2 2 -1.1 -.1 1.4 -4 5.7 -8 6 -14.1 19.3 -29.9 21.4 -30 17 -22 9 -14 5.3 -6 5.1 -8 6.5 -8 24.6 -34"/>
<path stroke="#25ffd2" d="M214.4 747.7l12 .6 6 1.7 2 1.4 4 4.3 2.6 4.3 6.4 6 7 8.9 3.2 5.1 .7 2 1.1 12 6.7 22 .6 10 -.6 10 1.5 12 -.2 2 -3 .5 -2 1.5 -10 .8 -6 1.9 -10 .5 -6 1.8 -8 .1 -8 2M1049.4 144l-1.1 2.2 -3.7 4 -.5 2 -3.6 4 -.6 2 -1.4 2 -2.1 2 -2 4 -3.5 4 -.7 2 -3.6 4 -.6 2 -3.5 4 -.7 2 -3.4 4 -2.1 4 -3.5 4 -.7 2 -3.5 4 -2.2 4 -2 2 -2.1 4 -2 2 -2.2 4 -3.5 4 -.7 2 -3.5 4 -2.1 4 -2 2 -2.2 4 -3.5 4 -.7 2 -7.8 10 -2.1 4 -3.4 4 -.8 2 -3.6 4 -.7 2 -3.4 4 -2.2 4 -3.6 4 -.6 2 -3.7 4 -.6 1.9 -3.6 4.1 -2.1 4 -3.8 4 -.3 2 -4.2 4.6 -1.2 -.6 5.2 -13.2 19.7 -30.8 21.4 -30 16.9 -21.9 9 -14.1 5 -5.7 5.3 -8.3 6.6 -8 24.5 -34M929.9 312.2l1.5 -1.4 0 1.5 -1.5 -.1M928.3 314.2l1.1 -1.5 0 1.7 -1.1 -.2M926.9 316.2l.5 -.8 0 2.8 -1.1 0 .6 -2"/>
<path stroke="#31ffc6" d="M214.4 749.1l6 0 6 .7 6 3.1 3.3 3.1 2.8 4 3.9 2.7 4 4 10.1 13.3 .7 2 1.1 12 6.9 22 .6 10 -.5 10 1.5 12 -.2 2 -2.2 .4 -2.1 1.6 -9.9 .8 -6 1.9 -10 .5 -6 1.8 -8 .1 -8 2M1049.4 143.9l-1.1 2.3 -3.8 4 -.4 2 -3.7 4 -.5 2 -1.4 2 -2.2 2 -1.9 4 -3.5 4 -.7 2 -3.6 4 -.6 2 -3.6 4 -.7 2 -3.4 4 -2 4 -3.6 4 -.6 2 -3.5 4 -2.2 4 -2 2 -2.1 4 -3.5 4 -.7 2 -3.5 4 -.7 2 -3.5 4 -6.3 10 -3.5 4 -.8 2 -7.7 10 -2.1 4 -7.8 10 -.8 2 -3.4 4 -2.2 4 -3.6 4 -.6 2 -3.7 4 -.5 1.7 -5.1 6.3 -.7 2 -3.8 4 -.3 2 -2.1 2.2 -1.8 -.2 3.8 -10.3 20.1 -31.7 22.7 -32 15.2 -19.6 9.3 -14.4 4.7 -5.4 5.6 -8.6 6.4 -7.8 24.6 -34.2M933.1 308.2l.3 -1 -.3 1"/>
<path stroke="#3effb9" d="M214.4 751.3l6 0 4 .6 6 2.7 5.3 5.4 4.7 2.9 4 3.4 10.7 13.7 1 2 1.2 12 7 22 .5 10 -.4 10 1.5 12 -.2 2 -1.3 .2 -2.4 1.8 -9.6 .7 -6 2 -10 .5 -6 1.8 -8 0 -8 2M1049.4 143.8l-1.2 2.4 -3.7 4 -.5 2 -3.6 4 -.6 2 -1.3 2 -2.2 2 -2 4 -3.5 4 -.6 2 -3.7 4 -.6 2 -3.5 4 -.7 2 -3.4 4 -2.1 4 -3.5 4 -.7 2 -3.5 4 -2.1 4 -2.1 2 -2 4 -3.5 4 -.8 2 -3.5 4 -.7 2 -3.4 4 -2.2 4 -3.3 4 -.9 2 -3.5 4 -.7 2 -7.8 10 -2.1 4 -7.8 10 -.7 1.9 -4.9 6.1 -.7 2 -3.7 4 -.5 2 -3.8 4 -2.2 4 -3.5 4 -.5 2 -4 4 -.1 2 -2.1 2.1 -.7 -.1 3.1 -10 7.6 -11.4 12.5 -20.6 22.7 -32 14.8 -19.2 9.6 -14.8 4.4 -5.1 5.9 -8.9 6.1 -7.5 24.8 -34.5"/>
<path stroke="#4bffac" d="M214.4 754.5l8 .3 6 1.8 3.9 3.4 4.1 2 6 4.2 3.6 3.8 7.6 10 1 2 1 10 7.7 24 .5 10 -.4 10 1.6 12 -.1 2 -2.5 1.1 -.7 .9 -9.3 .7 -6 1.9 -10 .5 -6 1.8 -8 .1 -8 2M1049.4 143.8l-1.2 2.4 -3.8 4 -.4 2 -3.7 4 -1.9 4 -2.1 2 -2 4 -3.6 4 -.6 2 -3.6 4 -.6 2 -3.5 4 -.8 2 -3.3 4 -2.1 4 -3.6 4 -.6 2 -3.5 4 -2.2 4 -2 2 -2.1 4 -3.5 4 -.7 2 -3.5 4 -.7 2 -3.5 4 -2.1 4 -2 2 -2.2 4 -3.6 4 -.7 2 -3.5 4 -2.2 4 -3.4 4 -.7 2 -3.6 4 -.7 2 -3.6 4 -2.2 4 -3.4 4 -.7 2 -3.7 4 -.5 2 -3.8 4 -2.1 4 -3.6 4 -.5 2 -4 4 -.1 2 -1 0 .6 -4 1.4 -4 7 -10.5 12.9 -21.5 21.1 -30 16 -20.8 9.9 -15.2 5 -6 5.3 -8 5.8 -7.2 25.1 -34.8"/>
<path stroke="#58ff9f" d="M214.4 758.5l6 -.1 4 .6 6 1.9 6 2.8 6.1 4.3 9.6 12 1.1 2 1.1 10 3.1 8 5 16 .5 10 -.4 10 1.7 12 -.2 2 -1.6 .7 -.9 1.3 -9.1 .6 -6 2 -10 .5 -6 1.8 -8 .1 -8 2M1049.4 143.7l-.7 .5 -.5 2 -3.8 4 -.4 2 -3.7 4 -1.9 4 -2.2 2 -1.9 4 -3.6 4 -.6 2 -3.7 4 -.6 2 -3.5 4 -.7 2 -3.4 4 -2 4 -3.6 4 -.6 2 -3.6 4 -2.1 4 -2 2 -2.1 4 -3.6 4 -.6 2 -3.6 4 -.7 2 -3.4 4 -2.2 4 -3.4 4 -.7 2 -3.6 4 -.7 2 -3.5 4 -2.3 4 -3.4 4 -.6 2 -3.6 4 -.7 2 -3.6 4 -2.2 4 -3.5 4 -.6 2 -3.8 4 -.4 2 -3.9 4 -1.5 2 -.7 2.2 -3.6 3.8 -.4 2.1 -2 2.1 -1.5 -.2 1.5 -4.6 6 -8.8 7 -12.6 10.4 -16 17 -24 15.6 -20.5 10.2 -15.5 4.9 -6 5.3 -8 5.6 -6.9 25.3 -35.1"/>
<path stroke="#66ff91" d="M214.4 761l12 .4 4 1.1 4 1.8 8 5.3 8.1 10.4 1.1 2 1.3 10 3.5 8.1 5 15.9 .5 10 -.4 10 1.8 12 -.3 2 -1.8 2 -8.8 .6 -6 1.9 -10 .6 -6 1.8 -8 .1 -8 2M1049.4 143.6l-.8 .6 -.5 2 -3.8 4 -.4 2 -3.7 4 -1.8 4 -2.2 2 -2 4 -3.6 4 -.6 2 -3.6 4 -.6 2 -3.5 4 -2 4 -2.1 2 -2.1 4 -3.6 4 -.6 2 -3.5 4 -2.1 4 -2.1 2 -2 4 -3.6 4 -.7 2 -3.5 4 -.7 2 -3.5 4 -2.1 4 -3.5 4 -.7 2 -3.6 4 -.7 2 -9.2 12 -.6 2 -3.6 4 -.7 2 -3.6 4 -2.2 4 -3.6 4 -.4 2 -3.9 4 -.4 2 -5.6 6 -.3 2 -3.9 4 -.2 2 -2.4 2 1 -4 6.5 -10 6.4 -12 10.3 -16 22.7 -32 9.5 -12.1 10.4 -15.9 5 -6 5.2 -8 5.4 -6.5 25.5 -35.5"/>
<path stroke="#74ff82" d="M214.4 762.5l12 .5 6 2 6 3.4 4 3.1 6.5 8.5 1.1 2 1.6 10 4.8 11.4 4 12.6 .5 10 -.4 10 1.8 12 -.2 2 -1.2 2 -10.5 .8 -4 1.7 -10 .5 -6 1.8 -8 .1 -8 2M1049.4 143.6l-.9 .6 -.4 2 -3.9 4 -.3 2 -3.7 4 -1.8 4 -2.3 2 -1.9 4 -3.7 4 -.5 2 -3.7 4 -.6 2 -3.5 4 -1.9 4 -3.5 4 -.7 2 -3.6 4 -.6 2 -3.6 4 -2.1 4 -2 2 -2.1 4 -3.6 4 -.6 2 -3.6 4 -.7 2 -3.4 4 -2.1 4 -3.6 4 -.6 2 -3.6 4 -.7 2 -3.5 4 -2.3 4 -3.5 4 -.5 2 -3.7 4 -.6 2 -3.7 4 -2.1 4 -3.7 4 -.4 2 -3.9 4 -.3 1.8 -2 2.4 -2 2.1 -1.1 -.3 7.1 -14 10.2 -16 22.6 -32 9.2 -11.7 10.7 -16.3 4.9 -6 5.3 -8 5.1 -6.2 25.8 -35.8M945.1 290.2l.3 -.5 .1 .5 -.1 2 -1.6 0 1.3 -2M942.6 294.2l.8 -1.4 0 1.5 -.8 -.1M941.1 296.2l.3 2 -.3 -2"/>
<path stroke="#83ff74" d="M214.4 764l12 .6 6 2.1 8.3 5.3 6.7 8 1 2 1.7 10 6.3 14.5 3 9.5 .5 10 -.4 10 1.9 12 -.8 4 -10.2 .8 -4 1.6 -10 .6 -6 1.8 -10 .4 -6 1.7M1049.4 143.5l-1 .7 -.3 2 -4 4 -.3 2 -3.6 4 -1.9 4 -2.2 2 -1.9 4 -3.8 4 -.4 2 -3.8 4 -.5 2 -3.5 4 -1.9 4 -3.6 4 -.6 2 -3.7 4 -.6 2 -3.5 4 -2.1 4 -2.1 2 -2 4 -3.7 4 -.6 2 -3.5 4 -.7 2 -3.5 4 -2.1 4 -3.5 4 -.7 2 -3.6 4 -.7 2 -3.5 4 -2.2 4 -3.6 4 -.5 2 -3.7 4 -.6 2 -3.6 4 -2.2 4 -3.7 4 -.4 2 -4 4 -.1 1.1 -1.4 -1.1 2.8 -6 11.2 -18 22.5 -32 8.9 -11.4 10.9 -16.6 5 -6 5.2 -8 4.9 -5.9 26 -36.1M949.1 284.2l.3 -.5 .3 .5 -.3 2 -1 0 .7 -2"/>
<path stroke="#92ff65" d="M214.4 765.6l10 .3 6 1.5 8 4.7 4 3.6 3.4 4.3 1 2 1.9 10 7.7 17.5 2 6.5 .5 10 -.4 10 1.9 12 -.5 4 -9.5 .7 -4 1.7 -10 .5 -6 1.9 -10 .3 -6 1.8M1049.4 143.4l-1.1 .8 -.3 2 -3.9 4 -.3 2 -3.7 4 -.6 2 -1.2 2 -2.2 2 -2 4 -3.7 4 -.5 2 -3.7 4 -.6 2 -3.4 4 -2 4 -3.5 4 -.7 2 -3.7 4 -.5 2 -3.6 4 -2 4 -3.4 4 -.7 2 -3.8 4 -.5 2 -3.6 4 -.7 2 -3.4 4 -2.1 4 -3.6 4 -.6 2 -3.7 4 -.6 2 -5 6 -.8 2 -3.6 4 -.4 2 -3.8 4 -.5 2 -5.2 6 -.6 2 -3.9 4 -.2 2 -2.1 2.2 -1.7 -.2 1.7 -4 5.9 -10 20.4 -30 15.7 -21 11.2 -17 4.8 -5.8 5.4 -8.2 6.6 -8.3 24.1 -33.7M950.9 282.2l.5 -1.3 0 1.7 -.5 -.4"/>
<path stroke="#a2ff55" d="M214.4 767.1l10 .4 6 1.6 8 4.9 5.7 6 1 2 2.8 12 7.5 16 2 6 .5 10 -.5 10 2 12 -.5 4 -8.5 .6 -4 1.7 -10 .6 -6 1.8 -10 .4 -6 1.7M1049.4 143.3l-1.2 .9 -.2 2 -4 4 -.3 2 -3.7 4 -1.7 4 -3.7 4 -.5 2 -3.8 4 -.4 2 -3.8 4 -.5 2 -3.5 4 -1.9 4 -3.6 4 -.6 2 -3.7 4 -.6 2 -3.5 4 -2.1 4 -3.4 4 -.7 2 -3.7 4 -.6 2 -3.5 4 -.7 2 -3.5 4 -2.1 4 -3.6 4 -.6 2 -3.7 4 -.6 2 -5.1 6 -.6 2 -3.7 4 -.4 2 -3.8 4 -.4 1.7 -5.4 6.3 -.5 2 -3.9 4 -.2 2 -2 2.1 -.7 -.1 2.5 -6 9.7 -16 22.3 -32 8.2 -10.7 11.5 -17.3 4.5 -5.5 5.6 -8.5 6.4 -8 24.2 -34"/>
<path stroke="#b2ff45" d="M214.4 768.6l8 .3 6 1.1 8 4.4 5.9 5.6 1 2 2.2 10 8.9 18.8 1.9 5.2 .5 10 -.5 10 2.1 12 -.6 4 -7.4 .5 -4 1.8 -10 .5 -6 1.9 -10 .4 -6 1.7M1049.4 143.2l-1.4 1 -.1 2 -4 4 -.2 2 -3.7 4 -1.8 4 -3.7 4 -.4 2 -3.9 4 -.4 2 -3.7 4 -.6 2 -3.4 4 -1.9 4 -3.7 4 -.6 2 -3.7 4 -.5 2 -3.6 4 -2 4 -3.6 4 -.5 2 -3.8 4 -.5 2 -3.6 4 -.7 2 -4.9 6 -.6 2 -3.7 4 -.5 2 -3.7 4 -.6 1.9 -5.2 6.1 -.5 2 -3.8 4 -.3 2 -3.8 4 -2.4 4.2 -3.6 3.8 -.4 2.2 -2 2 -1.3 -.2 7.9 -14 16.4 -24 15 -20.3 11.8 -17.7 4.2 -5.2 36.4 -50.8M955.1 276.2l.3 2 -.6 0 .3 -2"/>
<path stroke="#c2ff35" d="M214.4 770.2l8 .3 6 1.3 7.5 4.2 4.5 4.1 1 1.9 2.5 10 8.8 18 2.3 6 .7 10 -.6 10 2.2 12 -.5 4 -6.4 .5 -4 1.7 -10 .6 -6 1.9 -10 .3 -6 1.8M1046.5 144.2l.9 -1.1 .5 1.1 0 2 -2.5 2.8 -1.6 -.8 2.7 -4M1049.4 143.1l-1.5 -.9M1042.4 150.2l1 -1.2 .4 1.2 -.2 2 -3.7 4 -1.7 4 -3.8 4 -.4 2 -3.9 4 -.3 2 -3.8 4 -.5 2 -3.5 4 -1.9 4 -3.7 4 -.5 2 -3.8 4 -.5 2 -3.5 4 -2 4 -3.7 4 -.5 2 -3.8 4 -.5 2 -3.6 4 -.6 2 -5 6 -.5 2 -3.8 4 -.5 2 -3.7 4 -.5 1.7 -2 2.8 -3.4 3.5 -.4 2 -3.9 4 -.2 2 -3.8 4 -.3 1.1 -1.4 .9 -.5 2 -2.1 2.3 -1.4 -.3 4.5 -8 4.5 -6 11.7 -18 14.7 -19.9 12 -18.1 35 -48M958.8 270.2l.6 -1.2 0 3.3 -1.3 -.1 .7 -2M957.1 274.2l.3 -.6 -.3 .6"/>
<path stroke="#d3ff24" d="M214.4 772l8 .2 6 1.4 8 4.8 3.1 3.6 2.5 10 4.6 8 7.2 16 .7 10 -.6 10 2.3 12 -.6 4 -5.2 .4 -2 .5 -2 1.3 -10 .5 -6 1.9 -10 .4 -6 1.7M1046.7 144.2l.7 -.9 .4 .9 .1 2 -.5 .5 -1.9 -.5 1.2 -2M1049.4 143l-1.3 -.8M1043.9 148.2l1.5 -1.9 .5 1.9 -.5 .8 -1.5 -.8M1042.6 150.2l.8 -1 .2 3 -2.2 2.8 -1.8 -.8 3 -4M1038 156.2l1.4 -1.7 .5 1.7 -1.7 4 -4 4 -.2 2 -4 4 -.3 2 -3.8 4 -.5 2 -3.4 4 -1.9 4 -3.8 4 -.4 2 -3.8 4 -.5 2 -3.6 4 -2 4 -3.7 4 -.4 2 -3.9 4 -.4 2 -3.6 4 -2.1 4 -3.6 4 -.5 2 -3.8 4 -.4 2 -3.8 4 -2.4 4.4 -3.6 3.6 -.2 2 -2.2 2.3 -1.7 -.3 4.7 -8 13.6 -20 7.4 -9.6 12.3 -18.4 30.3 -42M968 256.2l1.4 -1.6 .1 3.6 -4.1 4.7 -1.4 -.7 4 -6M963.1 264.2l.3 -.5 .1 .5 -.1 2 -1 0 .7 -2M961.1 268.2l.3 -.4 -.3 .4M959.1 272.2l.3 -1 -.3 1"/>
<path stroke="#e4ff12" d="M214.4 773.8l8 .2 6 1.6 6 3.3 3 3.1 2.4 10 5.3 8 7.4 16 .8 10 -.7 10 2.4 12 -.6 4 -6 .7 -2 1.4 -10 .6 -6 1.9 -10 .3 -6 1.8M1046.9 144.2l.5 -.6 .3 .6 .1 2 -.4 .4 -1.7 -.4 1.2 -2M1049.4 143l-1.2 -.8M1044 148.2l1.4 -1.7 .4 1.7 -.4 .7 -1.4 -.7M1042.7 150.2l.7 -.8 .1 2.8 -2.1 0 1.3 -2M1039.7 154.2l1.7 -2 .6 2 -.6 .7 -1.7 -.7M1038.2 156.2l1.2 -1.5 .4 1.5 -2.4 4.8 -2 -.8 2.8 -4M1033.8 162.2l1.6 -1.9 .4 1.9 -1.7 2 -.2 2 -4 4 -.2 2 -2.3 2.8 -1.9 -.8 8.3 -12M1024.1 176.2l1.3 -1.7 .5 1.7 -.5 2 -4.8 6 -.6 2 -3.8 4 -.4 2 -3.8 4 -.5 2 -3.5 4 -2 4 -3.8 4 -.3 2 -4 4 -.4 2 -3.6 4 -2 4 -3.8 4 -.3 2 -3.9 4 -.4 2 -3.8 4 -2.3 4.4 -2 2.2 -1.7 -.6 7.8 -12 15.9 -22 10.5 -16 16.2 -22M972.6 250.2l.8 -1.3 .1 3.3 -2.1 0 1.2 -2M970.4 254.2l1 -1.9 0 2.1 -1 -.2M968.7 256.2l.7 -.8 0 2.8 -2 2.2 -1.8 -.2 3.1 -4M964.7 262.2l.7 -1.5 0 1.9 -.7 -.4"/>
<path stroke="#f6f600" d="M214.4 775.7l6 0 6 1.1 6 2.8 2.5 2.4 2.4 10 6.2 8 7.6 16 1 10 -.9 10 2.6 12 -.6 4 -4.8 .6 -2 1.5 -10 .5 -6 1.9 -10 .4 -6 1.7M1047.1 144.2l.3 -.4 .2 .4 .2 2 -.4 .4 -1.6 -.4 1.3 -2M1049.4 142.9l-1.1 -.7M1044.2 148.2l1.2 -1.6 .4 1.6 -.4 .6 -1.2 -.6M1042.9 150.2l.5 -.5 .2 .5 -.1 2 -1.5 0 .9 -2M1039.8 154.2l1.6 -1.8 .5 1.8 -.5 .7 -1.6 -.7M1038.3 156.2l1.1 -1.3 .4 1.3 -.4 1.4 -1.1 -1.4M1037 158.2l.4 -.5 .7 .5 0 2 -.7 .8 -1.9 -.8 1.5 -2M1034 162.2l1.4 -1.7 .4 1.7 -.4 1 -1.4 -1M1032.6 164.2l.8 -1 .5 1 0 2 -2.5 2.8 -1.6 -.8 2.8 -4M1028.4 170.2l1 -1.3 .4 1.3 -.2 2 -2.2 2.7 -1.7 -.7 2.7 -4M1024.2 176.2l1.2 -1.5 .4 1.5 -1.8 4 -.6 .7 -2 -.7 2.8 -4M1019.7 182.2l1.7 -2 .5 2 -1.5 2 -.4 2 -3.9 4 -.3 2 -2.4 2.7 -2 -.7 8.3 -12M1009.8 196.2l1.6 -1.9 .5 1.9 -.4 2 -5 6 -.6 2 -3.8 4 -.3 2 -2.4 2.7 -1.8 -.7 12.2 -18M996.1 216.2l1.3 -1.7 .4 1.7 -.3 2 -3.7 4 -2 4 -3.8 4 -.3 2 -3.9 4 -.3 2 -3.8 4 -.3 .9 -1.5 -.9 10.7 -16 7.5 -10M976.6 244.2l.8 -1.1 .6 1.1 -.4 2 -2.2 2.4 -1.2 -.4 2.4 -4M973.2 250.2l.2 2 -1.2 0 1 -2M971.1 254.2l.3 -.5 -.3 .5M966.4 260.2l1 -1.4 0 1.5 -1 -.1"/>
<path stroke="#ffe100" d="M214.4 777.7l8 .1 4 1 4 2 1.4 1.2 2.6 10 8 9.2 7.3 14.8 1.1 10 -.8 12 2.5 10 -.6 4 -3.5 .4 -2 1.6 -10 .6 -6 1.9 -10 .3 -6 1.8M1047.3 144.2l.4 2 -.3 .4 -1.4 -.4 1.3 -2M1049.4 142.8l-.9 -.6M1044.3 148.2l1.1 -1.4 .3 1.4 -.3 .6 -1.1 -.6M1043.1 150.2l.4 0 -.1 2.1 -.8 -.1 .5 -2M1039.9 154.2l1.5 -1.7 .5 1.7 -.5 .6 -1.5 -.6M1038.5 156.2l.9 -1.1 0 2.2 -.9 -1.1M1037.2 158.2l.5 0 .4 2 -.7 .7 -1.8 -.7 1.6 -2M1034.1 162.2l1.3 -1.5 .3 1.5 -.3 .9 -1.3 -.9M1032.8 164.2l.6 -.7 .4 .7 .1 2 -.5 .5 -1.9 -.5 1.3 -2M1030 168.2l1.4 -1.8 .4 1.8 -.4 .7 -1.4 -.7M1028.6 170.2l.8 -1 .2 3 -2.2 2.6 -1.6 -.6 2.8 -4M1024.4 176.2l1 -1.2 .3 1.2 -.3 1.4 -1 -1.4M1023.1 178.2l.3 -.4 .7 .4 -.2 2 -.5 .6 -1.9 -.6 1.6 -2M1019.9 182.2l1.5 -1.8 .4 1.8 -1.6 2 -.2 2 -4 4 -.3 2 -2.3 2.7 -1.8 -.7 8.3 -12M1010 196.2l1.4 -1.6 .4 1.6 -.4 2 -5.1 6 -.4 2 -2.5 2.8 -1.7 -.8 8.3 -12M1000.3 210.2l1.1 -1.5 .5 1.5 -.1 2 -2.4 2.6 -1.6 -.6 2.5 -4M996.4 216.2l1 -1.3 0 3.3 -2 2.5 -1.9 -.5 2.9 -4M991.9 222.2l1.5 -1.8 .4 1.8 -.4 1.2 -1.1 .8 -.5 2 -2.4 2.7 -1.7 -.7 4.2 -6M986.4 230.2l1 -1.5 .3 3.5 -2.3 2.5 -1.8 -.5 2.8 -4M982.2 236.2l1.2 -1.7 0 3.7 -2 2.3 -1.7 -.3 2.5 -4M978.4 242.2l1 -1.5 0 2.2 -1 -.7M977 244.2l.4 -.5 .2 .5 -.1 2 -1.7 0 1.2 -2M974.6 248.2l.8 -1.3 0 1.5 -.8 -.2M973 252.2l.4 -.8 -.4 .8"/>
<path stroke="#ffcb00" d="M214.4 779.7l8 .1 5.1 2.2 3.1 10 8.8 8 5.1 8 3.1 6 1.5 6 .4 6 -1 10 2.7 12 -.7 4 -2.1 .2 -2.2 1.8 -11.8 .8 -4 1.6 -10 .4 -6 1.8M1049.4 142.7l-.7 -.5M1046.2 146.2l1.2 -1.8 .3 1.8 -1.5 0M1044.4 148.2l1 -1.2 0 1.7 -1 -.5M1043.3 150.2l.1 2 -.1 -2M1040 154.2l1.4 -1.6 .4 1.6 -.4 .6 -1.4 -.6M1038.7 156.2l.7 -.9 0 1.8 -.7 -.9M1035.7 160.2l1.7 -2 .6 2 -.6 .7 -1.7 -.7M1034.3 162.2l1.1 -1.3 0 2 -1.1 -.7M1033 164.2l.4 -.5 .2 .5 .2 2 -.4 .4 -1.7 -.4 1.3 -2M1030.1 168.2l1.3 -1.6 .3 1.6 -.3 .6 -1.3 -.6M1028.8 170.2l.6 -.7 .2 .7 -.2 2.2 -1.6 -.2 1 -2M1025.9 174.2l1.5 -1.8 .4 1.8 -.4 .6 -1.5 -.6M1024.6 176.2l.8 -1 0 2.1 -.8 -1.1M1023.3 178.2l.6 2 -.5 .6 -1.7 -.6 1.6 -2M1020.1 182.2l1.3 -1.5 .4 1.5 -.4 1 -1.3 -1M1018.5 184.2l.9 -1 .7 1 -.2 2 -2.5 2.8 -1.6 -.8 2.7 -4M1014.4 190.2l1 -1.3 .5 1.3 -.2 2 -2.3 2.6 -1.6 -.6 2.6 -4M1010.3 196.2l1.1 -1.3 .4 1.3 -.4 2 -4 5.1 -1.3 .9 -.7 2.5 -2 -.5 6.9 -10M1001.9 208.2l1.5 -1.9 0 2.6 -1.5 -.7M1000.5 210.2l.9 -1.1 .3 3.1 -2.3 2.5 -1.4 -.5 2.5 -4M996.6 216.2l.8 -1 0 3 -2 2.4 -1.7 -.4 2.9 -4M992.2 222.2l1.2 -1.5 0 2.5 -1.2 -1M990.7 224.2l.7 -.9 .6 .9 -.3 2 -2.3 2.6 -1.4 -.6 2.7 -4M986.7 230.2l.7 -1 .2 3 -2.2 0 1.3 -2M984 234.2l1.4 -1.9 0 2.3 -1.4 -.4M982.6 236.2l.8 -1.1 0 3.1 -2 2.3 -1.3 -.3 2.5 -4M978.8 242.2l.6 -.9 0 1.3 -.6 -.4M976.3 246.2l1.1 -1.8 .1 1.8 -1.2 0M975.1 248.2l.3 -.4 -.3 .4"/>
<path stroke="#ffb400" d="M214.4 783.8l6 -.8 2 .9 2 2.6 2 5.5 1.7 2 4.3 2.3 4.4 3.7 5.6 7.2 2 3.5 2 4.1 1.2 5.2 .4 6 -.9 10 2.8 12 -.8 4 -2.7 1.2 -.6 .8 -11.4 .7 -4 1.7 -10 .3 -6 1.8M1049.4 142.6l-.6 -.4M1046.4 146.2l1 -1.5 .2 1.5 -1.2 0M1044.6 148.2l.8 -1 0 1.4 -.8 -.4M1040.2 154.2l1.2 -1.4 .4 1.4 -.4 .5 -1.2 -.5M1038.8 156.2l.6 -.6 0 1.3 -.6 -.7M1035.8 160.2l1.6 -1.9 .6 1.9 -.6 .6 -1.6 -.6M1034.5 162.2l.9 -1.1 0 1.7 -.9 -.6M1033.2 164.2l.6 2 -.4 .4 -1.5 -.4 1.3 -2M1030.3 168.2l1.1 -1.4 0 2 -1.1 -.6M1029 170.2l.4 -.5 .1 .5 -.1 2.1 -1.1 -.1 .7 -2M1026.1 174.2l1.3 -1.6 .4 1.6 -.4 .5 -1.3 -.5M1024.8 176.2l.6 -.7 0 1.5 -.6 -.8M1021.8 180.2l1.6 -1.9 .4 1.9 -.4 .6 -1.6 -.6M1020.3 182.2l1.1 -1.3 0 2.1 -1.1 -.8M1018.8 184.2l.6 -.7 .5 .7 0 2 -.5 .5 -1.9 -.5 1.3 -2M1016 188.2l1.4 -1.9 .3 1.9 -.3 .7 -1.4 -.7M1014.6 190.2l.8 -1 .4 1 -.4 2.3 -1.9 -.3 1.1 -2M1012 194.2l1.4 -1.9 .3 1.9 -.3 .5 -1.4 -.5M1010.5 196.2l.9 -1.1 0 2.8 -.9 -1.7M1008.9 198.2l.5 -.5 1.4 .5 -1.4 2.6 -1.9 -.6 1.4 -2M1006.1 202.2l1.3 -1.7 .3 1.7 -.3 .9 -1.3 -.9M1004.9 204.2l.5 -.7 .4 .7 -.4 2.5 -1.8 -.5 1.3 -2M1002.2 208.2l1.2 -1.6 0 2.2 -1.2 -.6M1000.8 210.2l.6 -.8 .3 .8 -.3 2.3 -1.8 -.3 1.2 -2M998.2 214.2l1.2 -1.7 0 2.2 -1.2 -.5M996.9 216.2l.5 -.6 0 1.9 -.5 -1.3M994 220.2l1.4 -1.8 0 2.2 -1.4 -.4M992.5 222.2l.9 -1.1 0 1.8 -.9 -.7M991 224.2l.4 -.5 .3 .5 0 2 -.3 .4 -1.9 -.4 1.5 -2M988.3 228.2l1.1 -1.7 0 2.2 -1.1 -.5M987.1 230.2l.3 -.4 .1 .4 .1 2 -1.8 0 1.3 -2M984.4 234.2l1 -1.4 0 1.7 -1 -.3M983 236.2l.4 -.6 0 1.7 -.4 -1.1M980.5 240.2l.9 -1.5 .1 1.5 -1 0M976.8 246.2l.6 -.9 0 .9 -.6 0"/>
<path stroke="#ff9d00" d="M214.4 792.1l6 -.7 12 7.4 7 7.2 3 4 2.2 4 1.5 6 .3 6 -.7 10 2.7 12 -.7 4 -1.3 .5 -1.1 1.5 -10.9 .6 -4 1.8 -10 .2 -6 1.9M1049.4 142.4l-.4 -.2M1046.6 146.2l.8 -1.2 .2 1.2 -1 0M1044.7 148.2l.7 -.9 0 1.3 -.7 -.4M1040.3 154.2l1.1 -1.3 .4 1.3 -.4 .5 -1.1 -.5M1039 156.2l.4 -.4 0 .8 -.4 -.4M1035.9 160.2l1.5 -1.7 .5 1.7 -.5 .6 -1.5 -.6M1034.6 162.2l.8 -.9 0 1.4 -.8 -.5M1032 166.2l1.4 -1.9 .3 1.9 -.3 .4 -1.4 -.4M1030.4 168.2l1 -1.2 0 1.7 -1 -.5M1029.2 170.2l.2 2.1 -.6 -.1 .4 -2M1026.2 174.2l1.2 -1.4 0 1.9 -1.2 -.5M1025 176.2l.4 -.5 0 1 -.4 -.5M1021.9 180.2l1.5 -1.7 .4 1.7 -.4 .5 -1.5 -.5M1020.5 182.2l.9 -1.1 0 1.8 -.9 -.7M1019 184.2l.4 -.4 .3 .4 .1 2 -.4 .5 -1.8 -.5 1.4 -2M1016.1 188.2l1.3 -1.6 0 2.2 -1.3 -.6M1014.8 190.2l.6 -.7 .2 .7 -.2 2.2 -1.5 -.2 .9 -2M1012.2 194.2l1.2 -1.6 0 2.1 -1.2 -.5M1010.7 196.2l.7 -.8 0 2 -.7 -1.2M1009.2 198.2l.8 0 -.6 2.5 -1.7 -.5 1.5 -2M1006.4 202.2l1 -1.4 0 2.2 -1 -.8M1005.2 204.2l.4 0 .2 2 -.4 .4 -1.6 -.4 1.4 -2M1002.4 208.2l1 -1.3 0 1.8 -1 -.5M1001 210.2l.4 -.5 .1 .5 .1 2 -1.7 0 1.1 -2M998.4 214.2l1 -1.4 0 1.8 -1 -.4M997.2 216.2l.2 .5 -.2 -.5M994.2 220.2l1.2 -1.4 0 1.7 -1.2 -.3M992.7 222.2l.7 -.8 0 1.3 -.7 -.5M991.3 224.2l.3 2 -1.8 0 1.5 -2M988.6 228.2l.8 -1.2 0 1.5 -.8 -.3M986.2 232.2l1.2 -1.9 .1 1.9 -1.3 0M984.7 234.2l.7 -.9 0 1.1 -.7 -.2M980.9 240.2l.5 -.8 0 .8 -.5 0"/>
<path stroke="#ff8500" d="M214.4 795.3l6 0 2 .5 8 4.2 8 7.5 4 5.4 1.3 3.1 .8 4 -.2 16 2.6 12 -.7 4 -1.4 2 -10.4 .6 -4 1.7 -10 .3 -6 1.8M1049.4 142.3l-.2 -.1M1046.8 146.2l.6 -.9 .1 .9 -.7 0M1044.8 148.2l.6 -.7 0 1 -.6 -.3M1040.4 154.2l1 -1.1 0 1.5 -1 -.4M1036 160.2l1.4 -1.6 .5 1.6 -.5 .6 -1.4 -.6M1034.8 162.2l.6 -.7 0 1.1 -.6 -.4M1032.2 166.2l1.2 -1.6 .3 1.6 -1.5 0M1030.6 168.2l.8 -1 0 1.4 -.8 -.4M1029.3 172.2l.1 -.7 -.1 .7M1026.4 174.2l1 -1.2 0 1.6 -1 -.4M1022.1 180.2l1.3 -1.5 .4 1.5 -.4 .4 -1.3 -.4M1020.7 182.2l.7 -.8 0 1.3 -.7 -.5M1019.2 184.2l.6 2 -.4 .4 -1.6 -.4 1.4 -2M1016.3 188.2l1.1 -1.4 0 1.9 -1.1 -.5M1015.1 190.2l.3 -.4 .1 .4 -.1 2.2 -1.1 -.2 .8 -2M1012.4 194.2l1 -1.4 0 1.8 -1 -.4M1011 196.2l.4 -.5 0 1.3 -.4 -.8M1007.9 200.2l1.5 -1.9 .3 1.9 -.3 .5 -1.5 -.5M1006.6 202.2l.8 -1.1 0 1.7 -.8 -.6M1004 206.2l1.4 -1.9 .3 1.9 -.3 .4 -1.4 -.4M1002.6 208.2l.8 -1 0 1.4 -.8 -.4M1001.3 210.2l.3 2 -1.4 0 1.1 -2M998.7 214.2l.7 -1 0 1.3 -.7 -.3M994.5 220.2l.9 -1.1 0 1.3 -.9 -.2M993 222.2l.4 -.4 0 .7 -.4 -.3M990.1 226.2l1.3 -1.7 .2 1.7 -1.5 0M988.9 228.2l.5 -.7 0 .9 -.5 -.2M986.6 232.2l.8 -1.2 .1 1.2 -.9 0M985.1 234.2l.3 -.3 -.3 .3"/>
<path stroke="#ff6d00" d="M214.4 797.9l6 .2 6 2.2 10 7.6 4.9 6.1 1.5 6 .2 18 2.3 10 -1.1 6 -9.8 .5 -4 1.8 -12 .5 -4 1.6M1049.4 142.2l-.1 0M1047 146.2l.4 -.6 .1 .6 -.5 0M1045 148.2l.4 -.5 0 .7 -.4 -.2M1040.5 154.2l.9 -1 0 1.4 -.9 -.4M1036.1 160.2l1.3 -1.5 .4 1.5 -.4 .5 -1.3 -.5M1035 162.2l.4 -.4 0 .7 -.4 -.3M1032.4 166.2l1 -1.4 .2 1.4 -1.2 0M1030.8 168.2l.6 -.7 0 1 -.6 -.3M1026.6 174.2l.8 -1 0 1.3 -.8 -.3M1022.3 180.2l1.1 -1.3 .3 1.3 -.3 .4 -1.1 -.4M1020.9 182.2l.5 -.6 0 1 -.5 -.4M1018 186.2l1.4 -1.9 .3 1.9 -.3 .4 -1.4 -.4M1016.5 188.2l.9 -1.1 0 1.5 -.9 -.4M1015.3 190.2l.1 2.1 -.8 -.1 .7 -2M1012.5 194.2l.9 -1.1 0 1.4 -.9 -.3M1008.1 200.2l1.3 -1.7 .3 1.7 -.3 .4 -1.3 -.4M1006.8 202.2l.6 -.8 0 1.2 -.6 -.4M1004.2 206.2l1.2 -1.7 .3 1.7 -1.5 0M1002.9 208.2l.5 -.7 0 .9 -.5 -.2M1000.5 212.2l.9 -1.6 .1 1.6 -1 0M998.9 214.2l.5 -.7 0 .9 -.5 -.2M994.8 220.2l.6 -.7 0 .9 -.6 -.2M990.4 226.2l1 -1.3 .1 1.3 -1.1 0M987 232.2l.4 -.6 -.4 .6"/>
<path stroke="#ff5300" d="M214.4 800.7l6 .4 8 3.4 6 4.1 5 5.4 1.6 6 -.2 16 2.8 12 -1.1 6 -8.1 .4 -2 .4 -2 1.4 -12 .5 -4 1.6M1040.7 154.2l.7 -.8 0 1.1 -.7 -.3M1036.2 160.2l1.2 -1.3 .4 1.3 -.4 .5 -1.2 -.5M1032.6 166.2l.8 -1.1 .2 1.1 -1 0M1031 168.2l.4 -.5 0 .7 -.4 -.2M1026.7 174.2l.7 -.8 0 1.1 -.7 -.3M1022.4 180.2l1 -1.1 .3 1.1 -1.3 0M1021.1 182.2l.3 -.3 0 .5 -.3 -.2M1018.1 186.2l1.3 -1.7 .3 1.7 -1.6 0M1016.7 188.2l.7 -.8 0 1.1 -.7 -.3M1015 192.2l.4 -1.1 0 1.1 -.4 0M1012.8 194.2l.6 -.8 0 1 -.6 -.2M1008.3 200.2l1.1 -1.4 .2 1.4 -1.3 0M1007.1 202.2l.3 -.4 0 .6 -.3 -.2M1004.4 206.2l1 -1.4 .2 1.4 -1.2 0M1003.1 208.2l.3 -.3 -.3 .3M1000.8 212.2l.6 -1 .1 1 -.7 0M999.1 214.2l.3 -.3 -.3 .3M995.1 220.2l.3 -.4 -.3 .4M990.7 226.2l.7 -.9 .1 .9 -.8 0"/>
<path stroke="#ff3900" d="M214.4 804l6 .5 6 1.6 6 3.4 4.9 4.5 1 2 .9 4 -.6 16 3.2 12 -1.2 6 -8.2 .7 -2 1.5 -12 .4 -4 1.7M1040.8 154.2l.6 -.6 0 .8 -.6 -.2M1036.4 160.2l1 -1.2 .4 1.2 -.4 .4 -1 -.4M1032.8 166.2l.6 -.8 .1 .8 -.7 0M1031.1 168.2l.3 -.3 -.3 .3M1026.9 174.2l.5 -.6 0 .8 -.5 -.2M1022.6 180.2l.8 -.9 .2 .9 -1 0M1018.3 186.2l1.1 -1.4 .2 1.4 -1.3 0M1017 188.2l.4 -.5 0 .7 -.4 -.2M1013 194.2l.4 -.5 0 .7 -.4 -.2M1008.5 200.2l.9 -1.1 .2 1.1 -1.1 0M1004.6 206.2l.8 -1.1 .2 1.1 -1 0M1001.1 212.2l.3 -.4 -.3 .4M991 226.2l.4 -.5 -.4 .5"/>
<path stroke="#ff1e00" d="M214.4 806.7l6 .3 6 1.6 6 3.4 2.5 2 1.3 2 .9 4 0 6 -.9 10 3.8 12 -1.5 6 -6.1 .5 -2 1.6 -12 .4 -4 1.7M1041 154.2l.4 -.4 0 .6 -.4 -.2M1036.5 160.2l.9 -1.1 .3 1.1 -.3 .4 -.9 -.4M1033 166.2l.4 -.5 .1 .5 -.5 0M1027.1 174.2l.3 -.3 -.3 .3M1022.7 180.2l.7 -.7 .2 .7 -.9 0M1018.5 186.2l.9 -1.2 .2 1.2 -1.1 0M1008.7 200.2l.7 -.9 .1 .9 -.8 0M1004.8 206.2l.6 -.8 .1 .8 -.7 0"/>
<path stroke="#eb0300" d="M214.4 809.4l6 .2 4 .8 6 2.9 3 2.7 1.4 4 .1 6 -1.4 10 .3 2 4.1 10 -1.7 6 -3.8 .3 -2 1.7 -12 .4 -2 .4 -2 1.4M1036.6 160.2l.8 -.9 .3 .9 -1.1 0M1022.9 180.2l.5 -.5 .1 .5 -.6 0M1018.7 186.2l.7 -.9 .1 .9 -.8 0M1008.9 200.2l.5 -.6 .1 .6 -.6 0M1005 206.2l.4 -.5 .1 .5 -.5 0"/>
<path stroke="#c80000" d="M214.4 812.2l6 0 4 .8 2.5 1 3.5 3.1 1.5 2.9 .6 6 -2 10 .3 2 4.8 10 -1.9 6 -1.3 .1 -2.3 1.9 -11.7 .3 -2 .3 -2 1.5M1036.7 160.2l.7 -.8 .2 .8 -.9 0M1023.1 180.2l.3 -.3 -.3 .3M1018.9 186.2l.5 -.6 .1 .6 -.6 0"/>
<path stroke="#a40000" d="M214.4 815.3l8 .2 2 .9 3.7 3.6 1.4 6 -1.1 4.3 -3.1 5.7 .9 2 2.2 2 4.4 8 -1.9 6 -1.8 2 -12.7 .4 -2 1.7M1036.9 160.2l.5 -.6 .2 .6 -.7 0M1019.1 186.2l.3 -.4 -.3 .4"/>
<path stroke="#800000" d="M214.4 820.9l4 0 2 .8 3.3 4.3 -3.3 2.8 -6 3.4M214.4 838.8l10 3.6 2 1.7 2.8 3.9 -2.7 8 -10.1 .1 -2 1.9M1037 160.2l.4 -.4 .1 .4 -.5 0"/>
</g>
<rect x="218.4" y="150.2" width="825.9" height="709.2" fill="none" stroke="#000" stroke-width="2.8"/>
<path d="M218.4 859.4v-8.2M240.93 859.4v-8.2M259.97 859.4v-8.2M276.47 859.4v-8.2M291.02 859.4v-8.2M304.04 859.4v-15.4M389.68 859.4v-8.2M439.78 859.4v-8.2M475.32 859.4v-8.2M502.89 859.4v-8.2M525.42 859.4v-8.2M544.46 859.4v-8.2M560.96 859.4v-8.2M575.51 859.4v-8.2M588.53 859.4v-15.4M674.17 859.4v-8.2M724.27 859.4v-8.2M759.81 859.4v-8.2M787.38 859.4v-8.2M809.91 859.4v-8.2M828.95 859.4v-8.2M845.45 859.4v-8.2M860 859.4v-8.2M873.02 859.4v-15.4M958.66 859.4v-8.2M1008.76 859.4v-8.2M1044.3 859.4v-8.2M218.4 859.4h15.4M218.4 726.14h8.2M218.4 648.19h8.2M218.4 592.88h8.2M218.4 549.98h8.2M218.4 514.93h8.2M218.4 485.29h8.2M218.4 459.62h8.2M218.4 436.98h8.2M218.4 416.72h15.4M218.4 283.46h8.2M218.4 205.51h8.2M218.4 150.2h8.2" stroke="#000" stroke-width="2.5" fill="none"/>
<g fill="#000">
<text transform="translate(266.64 914) scale(1.1 1)" font-size="48.3">10</text><text transform="translate(322.34 898.9) scale(1.06 1)" font-size="34.5">0</text>
<text transform="translate(551.13 914) scale(1.1 1)" font-size="48.3">10</text><text transform="translate(606.83 898.9) scale(1.06 1)" font-size="34.5">1</text>
<text transform="translate(835.62 914) scale(1.1 1)" font-size="48.3">10</text><text transform="translate(891.32 898.9) scale(1.06 1)" font-size="34.5">2</text>
<text transform="translate(124.7 881) scale(1.1 1)" font-size="48.3">10</text><text transform="translate(180.4 865.9) scale(1.06 1)" font-size="34.5">1</text>
<text transform="translate(124.7 438.32) scale(1.1 1)" font-size="48.3">10</text><text transform="translate(180.4 423.22) scale(1.06 1)" font-size="34.5">2</text>
<text x="587.9" y="985.5" font-size="45.5" font-style="italic">y</text>
<text x="610.16" y="971.9" font-size="40" font-family="'DejaVu Sans', sans-serif" font-weight="200">+</text>
<text transform="translate(617.75 996.6) scale(1.27 1)" font-size="32">min</text>
<g transform="translate(71.2 535.4) rotate(-90)">
<text x="3.8" y="0" font-size="45.5" font-style="italic">y</text>
<text x="26.06" y="-13.6" font-size="40" font-family="'DejaVu Sans', sans-serif" font-weight="200">+</text>
<text transform="translate(33.65 11.1) scale(1.27 1)" font-size="32">max</text>
</g>
<text transform="translate(15.35 51.5) scale(1.17 1)" font-size="50">(a)</text>
</g>
<rect x="218.4" y="10.4" width="825.9" height="39.6" fill="url(#jet)" stroke="#000" stroke-width="2.8"/>
<text transform="translate(241.34 117.7) scale(1.1 1)" text-anchor="middle" font-size="48.3">1</text>
<text transform="translate(356.05 117.7) scale(1.1 1)" text-anchor="middle" font-size="48.3">2</text>
<text transform="translate(470.76 117.7) scale(1.1 1)" text-anchor="middle" font-size="48.3">3</text>
<text transform="translate(585.47 117.7) scale(1.1 1)" text-anchor="middle" font-size="48.3">4</text>
<text transform="translate(700.18 117.7) scale(1.1 1)" text-anchor="middle" font-size="48.3">5</text>
<text transform="translate(814.88 117.7) scale(1.1 1)" text-anchor="middle" font-size="48.3">6</text>
<text transform="translate(929.59 117.7) scale(1.1 1)" text-anchor="middle" font-size="48.3">7</text>
<text transform="translate(1044.3 117.7) scale(1.1 1)" text-anchor="middle" font-size="48.3">8</text>
<path d="M241.34 50v15.5M356.05 50v15.5M470.76 50v15.5M585.47 50v15.5M700.18 50v15.5M814.88 50v15.5M929.59 50v15.5M1044.3 50v15.5" stroke="#000" stroke-width="2.5" fill="none"/>
</g>
<g>
<g clip-path="url(#clipb)" fill="none" stroke-width="1.6" stroke-linejoin="round">
<path stroke="#000080" d="M1344.3 449.5l4 -.1 14 2.8 6.1 1.8 4.1 2 7.8 8.7 10 8 5.2 7.3 -9.2 6.6 -8 3.1 -1.2 2.3 7.8 8 1.4 2 1.5 4 1.7 6 .1 2 -1.7 10 -11.6 4 -10 1.7 -10 3.1 -3.4 1.2 -1.4 2 6.8 3.7 8 2.5 8 3.4 12 7.5 8.2 2.9 -.6 2 -7.6 1.9 -8 5.2 -7.5 2.9 9.5 5.1 8.1 6.9 5.1 6 4.6 4 -17.8 4.1 -8 3.9 -7.5 2 -2.2 2 9.7 3.3 11.2 6.7 2.8 8.4 1.6 1.6 .4 2 -2 3.9 -1.4 6.1 -11.6 10 .1 2 12.9 8.9 5.8 1.1 -3.8 3.9 -2.6 6.1 1.6 2 14.7 10 -2.9 10 -1.1 2 -3.7 4.1 -8.7 5.9 8.7 7.8 1.9 2.2 -.1 2 -9.8 7.8 -1.5 2.2 -2.1 10 -1.3 4 -3.1 4.8 -3.7 3.2 17.7 10.6 8 3 4 5 4.6 3.4 -3.6 4 -3 5 -2 6.1 -3.1 6.9 -6.9 7.2 -1.9 2.8 -.6 2 .3 10 4.2 1.4 4 2.7 5.8 5.9 -1 2 -8.8 4.6 -6 1.3 -8 3.4 -6.1 .7 6.1 .4 8 2.5 14 2.9 6 .7 9.9 3.5 1.7 2 -11.6 .2 -2 .4 -2 1.5 -12 .2 -3 1.7 -13 .6 -2 1.4 -12 .4 -2 .3 -2 1.4 -12 .4M2152.7 142.2l.2 2 1 .2 2.2 -2.2M2179.9 144l-.5 2.2 -3.7 4 -.5 2 -3.5 4 -2.1 4 -3.8 4 -.3 2 -3.8 4 -.3 2 -3.7 4 -.4 2 -3.6 4 -.7 2 -5.1 6.5 -.4 1.5 -3.8 4 -.3 2 -3.7 4 -.4 2 -3.6 4 -.6 2 -3.4 4 -2.2 4 -3.7 4 -.4 2 -3.8 4 -.3 2 -3.7 4 -.5 2 -3.5 4 -2.1 4 -3.6 4 -.5 2 -3.7 4 -.4 2 -3.7 4 -.5 2 -3.5 4 -2.2 4 -3.5 4.2 -.6 1.8 -3.6 4 -.5 2 -3.7 4 -.5 2 -3.5 4 -2.1 4 -3.5 4.2 -.7 1.8 -3.5 4 -.6 2 -3.6 4 -.6 2 -3.5 4 -2.1 4 -7.7 10 -.6 2 -3.6 4 -.6 2 -3.5 4 -2.2 4 -7.5 10 -.8 2 -3.5 4 -.9 2 -3.3 4 -2.2 4 -7.9 10 -.9 2 -5.3 6 -.6 2 -3.5 4 -.5 2 -3.7 4 -.5 2 -3.6 4 -6.1 10 -3.6 4 -.5 2 -3.7 4 -.5 2 -9.1 12 -.7 2 -3.5 4 -.5 2 -3.7 4 -.4 2 -3.8 4 -.4 1.5 -3.6 4.5 -2.1 4 -3.4 4 -.6 2 -3.7 4 -.4 2 -3.7 4 -.4 2 -3.7 4 -2.2 4 -3.6 4 -.4 2 -3.8 4 -.3 2 -4 4 -2.1 4.1 -2 2 -6 -5.8 -2 -.5 6 -2.8 .4 -5 .7 -2 1.6 -2 2.7 -2 6.4 -8 2.2 -8.9 2 -2.1 5.4 -3 -1.4 -2.2 -5.4 -3.8 3.4 -8 1.2 -2 2.8 -1.4 10 -1.7 2 -1.7 4 -5.9 2.1 -5.3 -.1 -2.9 -2 -2.8 -.7 -2.3 -.3 -2 1 -1.9 2 -.9 1.2 .8 2.1 4 .7 .2 2.8 -2.2 -.4 -4 -.4 -1 -1.5 -1 -.4 -2 .5 -6 -.4 -6 .2 -2 1.6 -3.7 6 -2.1 2 -1.5 3.8 -6.7 2.2 -2 6 -2.6 4 -1 2 -2 2 -8.1 2 0 1.3 -4.3 4.7 -5.1 2 -4.2 0 -1.4 -4 -1.5 -1.4 -1.8 3.7 -4 1 -2 1.9 -12 .8 -.9 2.8 -1.1 3.2 -3.3 4.6 -2.7 2.2 -2 3.2 -1.4 4 -.2 2 -2.4 .4 -4 -.4 -3.2 -6 -.6 -2.6 -2.2 2.6 -2 4 -.6 1 -1.4 1 -4.5 2 -1.7 6 -.4 4 .8 2 -.2 .5 -2 3.5 -4 -4.4 -4 .4 -2.9 2 -1.2 6 .7 4.2 -4.6 .2 -2 1.2 -2 -4 -2 -.7 -2 1.5 -4 1.7 -10 1.9 -2 5.9 -2 1.4 -2 2.7 -1.3 2 -2 1.2 -2.7 .8 -7.7 2 -.2 6 1.9 2 -.5 2 -1.5 0 -1.3 -3 -2.7 -5.5 -10 4.5 -3.1 2 1.4 2 4.5 2 1.1 4 .8 4 -3.8 2 -5.2 -6.9 -1.7 -.9 -2 5.8 -3.3 1.5 -2.7 1.5 -6 1.7 -2 3.3 -1.3 6 -1 2 .4 2 -1.9 .7 -2.2 3.3 -3.6 .8 -2.4 3.2 -4 .6 -2 3.4 -4 -.8 -6 -3 -6 -.5 -6 2.3 -2.7 6 .8 3 1.9 -.2 6 1.2 .2 2 -1.9 .6 -2.3 3.4 -3.6 4.1 -6.4 -.1 -1.5 -3.4 -4.5 -.4 -2 2.1 -6 1.7 -.9 8 -1.6 2.5 -1.5 1.7 -2 .5 -2 -.6 -6M2063.9 273.6l-.7 .6 .7 .1 0 -.7M2017.5 296.2l.4 -.7 .8 .7 -.8 .5 -.4 -.5M2031.9 319.8l-4 1.4 -2 1.4 -1.5 1.6 .3 2 3.2 .7 2 -.6 2.3 -4.1 1.7 -2 0 -.4 -2 0M2002.8 322.2l1.1 -1.2 2 1.2 1.5 2 -3.5 2.9 -2.2 -2.9 1.1 -2M2007.9 347.9l-1.2 2.3 -.1 2 1.4 4 1.9 .4 4 -6.2 0 -1.5 -2 -1.2 -2 -.2 -2 .4M1967.9 421.8l-1.1 .4 1.1 .2 0 -.6M1793 650l4 -20 -4 -18 12 -16 7 4 -5 10 8 15 -3 15 -15 11 -4 -1M1822 612l4 -5 3 6 -4 4 -3 -5M1823 596l2 -3 1 5 -3 -2M1896 533l3 0 0 3 -3 0 0 -3M1918 508l2 -11 9 -7 2 7 -6 6 -7 5M1932 488l5 -8 3 5 -5 5 -3 -2M1551 772.5l8 .5 -4 1.5 -4 -2M1590 785l7 -6 4 8 -11 -2M1567 809l10 -13 3 14 -13 -1"/>
<path stroke="#000083" d="M1344.3 451.8l4 -.1 10 1.8 6.1 2.5 15.9 20.1 6 2.1 1.5 1.8 -1.5 1.1 -6 1.1 -2 1.2 -9 6.6 -.8 2 3.8 6.8 3.7 3.2 3.6 14 1.1 8 -8.4 2.8 -8 .9 -14 4.6 -6 0M1344.3 539.4l4 -.3 10 4.4 9 2.5 14.6 10 -.1 2 -3.2 2 -14.3 6.3 -2.7 1.7 2.7 2.2 14.1 7.8 1.6 2 3.4 10 -5.1 1.7 -6 3.1 -14 3.2 -4 1.4 -1.4 .6 -.8 2 14.2 6.3 6 1.7 4 2 3.2 10 0 2 -2.6 10 -4.6 4.1 -8 2.2 -5.9 3.7 .4 2 5.5 2.6 8 2.6 8.3 4.8 -6.9 10 .9 2 5.7 4.7 6 1.4 6 3.9 -2.8 6 -3.2 2.8 -3.6 5.2 -7.4 8 7.6 10 0 2 -4.6 5.9 -6 1.7 -3 2.4 1.7 6 1.9 4 -.5 2 -8.1 8 -2.8 2 10.8 5.1 8 6.6 14 7.9 3 2.4 -9 10 -5 10 -5 6.4 -3.2 5.6 -.5 2 1.7 10 10 5.9 6 1.6 3.2 2.5 -.6 2 -2.6 1.1 -6 .9 -8 3 -6 .7 -4.9 4.3 4.9 2.3 6 .7 8 2.5 22 4.1 .8 .4 .8 2 -5.6 .2 -2 1.8 -12 .2 -2 .4 -1.6 1.4 -12.4 .4 -2.2 1.6 -13.8 .5 -2 1.6 -12 .3M2179.9 144l-.5 2.2 -3.7 4 -.5 2 -3.5 4 -2.1 4 -3.8 4 -.3 2 -3.9 4 -.2 2 -3.7 4 -.4 2 -3.6 4 -.7 2 -5.1 6.5 -.4 1.5 -3.8 4 -.3 2 -3.7 4 -.4 2 -3.6 4 -.6 2 -3.5 4 -2.1 4 -3.7 4 -.4 2 -3.8 4 -.3 2 -3.7 4 -.5 2 -3.5 4 -2.1 4 -3.6 4 -.5 2 -3.7 4 -.4 2 -3.7 4 -.5 2 -3.5 4 -2.2 4 -3.5 4.1 -.6 1.9 -3.6 4 -.5 2 -3.7 4 -.5 2 -3.5 4 -2.2 4 -3.4 4.1 -.7 1.9 -3.5 4 -.7 2 -3.5 4 -.6 2 -3.5 4 -2.2 4 -7.6 10 -.7 2 -3.5 4 -.7 2 -3.4 4 -2.2 4 -7.5 10 -.8 2 -3.5 4 -6.4 10 -7.9 10 -1 2 -5.3 6 -.5 2 -3.6 4 -.5 2 -3.6 4 -.6 2 -3.5 4 -2.1 4 -3.3 4 -.7 2 -3.7 4 -.4 2 -3.8 4 -.4 2 -9.3 12 -.6 2 -3.5 4 -.4 2 -3.8 4 -.4 2 -3.8 4 -2.1 4 -3.3 4 -.7 2 -3.4 4 -.5 2 -3.8 4 -.3 2 -3.7 4 -.5 2 -5.2 6 -.8 2.2 -3.6 3.8 -.3 2 -3.9 4 -.1 2 -4.1 4 -.4 -2 -2.7 -4 -.6 -2 1.7 -2.2 4 -2.1 .6 -1.7 5.6 -8 2.1 -8 3.7 -2.7 2.9 -3.3 3.3 -8 -.2 -.9 -3.3 -3.1 -.6 -2 1.9 -1.2 8 -2.1 2.9 -2.7 5.1 -8 2.8 -8 5.4 -6 .1 -4 -.7 -4 1.1 -2 6 -4 .8 -4 -1.5 -1.3 -2.8 -.7 .1 -2 5 -2 3.7 -9.6 6 -2.3 6.5 -6.1 2.7 -6 2.8 -3.3 1 -2.7 0 -2 5 -7.2 .8 -2.8 3.4 -6 -.2 -1.4 -1.6 -2.6 .7 -8 .9 -1.4 2.1 7.4 1.9 .8 4 -4.4 2.4 -4.4 .4 -2 3.3 -4 .3 -2 3.6 -3.6 4.2 -6.4 .4 -2 5.5 -6 .6 -2 1.6 -2 .4 -2 3.3 -3.6 4 -5.9 .7 -2.5 7.8 -10 1.9 -4 1.7 -2 .2 -2 3.7 -3.8 .6 -2.2 1.4 -1.1 2.2 -2.9 .7 -2 3.1 -3.6 .4 -2.4 -.5 -2 1.7 -2 .4 -1.9 2 1.5 .8 -3.6 1.2 -.3 2 -1.7 .7 -2 3.6 -4 1.9 -4 8.6 -10 1.6 -4 1.6 -2 0 -1.7 -.5 -.3 .4 -6 1.9 -4 2.2 -1.1 2.4 1.1 1.6 .1 2 -2.1 .6 -2 3.4 -3.4 6 -8.7 .7 -1.9 3.3 -4 3.8 -6 .4 -2 1.8 -2.6 2 -1.5 .7 -1.9 3.3 -3.2 6 -8.4 3.8 -6.4 .5 -2 3.7 -4.9 .2 -1.1 3.8 -3.9 .8 -2.1 3.2 -3.6 2.8 -4.4 4 -4M2073.2 240.2l.7 -.4 .4 .4 -.4 1.1 -.7 -1.1M2051.8 276.2l2.1 -1.7 2.1 1.7 -.3 6 -1.8 3.6 -2 -1 -.7 -2.6 .6 -6M2003.1 324.2l.8 -1.1 1.2 1.1 -1.2 1 -.8 -1M2005.9 360.5l-1.3 1.7 1.3 .1 0 -1.8"/>
<path stroke="#000087" d="M1344.3 454.2l4 -.2 10 2.7 1.5 1.3 4.5 10.1 2 2.4 6 4.5 3.2 5 -3.2 2.8 -11.9 7.2 -1.2 2 3.1 4.3 2.8 5.7 3.2 15 2 2.9 2 1.2 1.5 2.9 -9.5 1 -6 2.5 -8 2.3 -2 .3 -4 -.5M1344.3 543.8l4 -.3 16 6.4 8.9 6.1 -.4 2 -14.5 7.6 -6 1 -2.9 1.4 6.9 3.1 4.1 2.9 8.4 4 2.2 2 1.3 2.3 2.9 7.7 -2.9 1.5 -14 3.5 -10 3.7 -4 .3M1344.3 604.3l4 .3 4 2.2 6 2 4 2.3 1.3 .9 4.7 8.8 .7 3.2 -1.4 6 -1.6 4 -11.7 6.4 -5 3.6 .4 2 .6 .4 20.3 9.6 -5.4 10 .6 2 6.5 4.1 5.4 5.9 -.1 10 -.7 2 -4.6 5.6 -8.2 4.4 8.2 6.2 2.7 3.8 -.3 2 -8.4 5.4 -5 4.6 -.2 10 -.9 2 -11.9 9.8 -4 0M1344.3 744.1l4 0 6 3.8 10 4.8 8 2.7 6 6 6 4.6 -4.6 8 -1.4 1.9 -2.6 2.1 -1.4 3.1 -1.1 6.9 -.9 1.6 -7.5 8.4 -.7 2 2.1 10 6.1 6.2 9.1 3.8 -1.1 2 -8 1.5 -6 5 -2 .9 -6 .5 -5.3 2.1 5.3 1.4 6 .2 8 3.1 6 1 8 2.6 10.1 1.7 1.7 2 -4.7 2 -5.1 .1 -3.3 1.9 -10.7 .2 -3 1.8 -13 .3 -2 1.7 -12 .3M2179.9 144l-.6 2.2 -3.7 4 -.4 2 -3.5 4 -2.2 4 -3.7 4 -.3 2 -3.9 4 -.2 2 -3.7 4 -.4 2 -3.6 4 -.8 2 -5 6.4 -.4 1.6 -3.8 4 -.3 2 -3.8 4 -.3 2 -3.7 4 -.5 2 -3.5 4 -2.1 4 -3.7 4 -.4 2 -3.8 4 -.3 2 -3.7 4 -.5 2 -3.5 4 -2.1 4 -3.6 4 -.5 2 -3.7 4 -.4 2 -3.7 4 -.6 2 -3.4 4 -2.2 4 -3.5 4.1 -.6 1.9 -3.6 4 -.6 2 -3.6 4 -.6 2 -3.4 4 -2.2 4 -3.4 4.1 -.7 1.9 -3.6 4 -.6 2 -3.5 4 -.7 2 -3.4 4 -2.2 4 -7.6 10 -.7 2 -3.5 4 -.7 2 -3.5 4 -2.1 4 -7.6 10 -.8 2 -3.5 4 -6.3 10 -8 10 -2.5 4 -3.9 4 -.4 2 -3.6 4 -.4 2 -3.7 4 -.5 1.8 -3.6 4.2 -2.1 4 -3.4 4 -.6 2 -3.7 4 -.4 2 -3.8 4 -.4 2 -3.5 4 -2.5 4.3 -3.3 3.7 -.5 2 -3.6 4 -.4 2 -3.8 4 -.3 2 -5.3 6 -.7 2 -3.4 4 -.5 2 -3.5 4 -.5 2 -3.8 4 -.3 2 -3.7 4 -.4 1.7 -5.5 6.3 -.5 2.1 -3.8 3.9 -.1 2 -4 4 -.1 2 -2 1.1 -1.1 -3.1 -.1 -2 1.8 -2 5.4 -9.3 3.2 -8.7 6.8 -8 4 -8.4 1.2 -5.6 .8 -.1 6.4 -5.9 3.6 -5.7 4 -10.1 5.8 -6.2 -.6 -6 .8 -2 1.2 -2 5 -4 1.8 -5.2 4.9 -10.8 7.1 -8.1 4.4 -3.9 1.8 -4 3.6 -4 .4 -6 8.7 -16 7.1 -9.2 4.6 -8.8 7.4 -9.9 4.8 -8.1 3.5 -4 4.4 -8 3.3 -3.8 4.6 -8.2 3.4 -4 4 -5.9 4.6 -8.1 3.4 -4 .7 -2 3.3 -4 4.4 -8 1.8 -2 .8 -2 9 -11.7 .8 -2.3 8.3 -10 4 -8 3 -4 -.1 -1.6 -.6 -.4 2.6 -1.1 10 -12.5 12 -17.9 1 -2.5 7 -8.5 6 -8.5 5.2 -9 5.5 -8 12.7 -16"/>
<path stroke="#00008b" d="M1344.3 460.2l4 -1.4 4 3.4 5.3 7.8 8.1 10 -11.4 8.8 -1.2 1.2 -.8 2 -.1 10 3.9 2 2.2 2.7 2.5 17.3 -10.5 3.1 -2 .3 -4 -.6M1344.3 549.3l4 -.5 16.7 7.2 -.6 2 -6.1 2.6 -6 1.4 -4 1.7 -4 .3M1344.3 572.4l4 .3 6 3.8 1.5 1.5 2.5 4.4 4 3.5 2.1 4.1 -16.1 5.4 -4 .5M1344.3 609.5l4 .2 5.9 2.3 4.1 5.5 1.5 4.5 -.1 2 -5 10 -6.4 4.4 -4 .8M1344.3 649.1l4 .6 12.4 6.3 -8 10 .8 2 4.8 3.8 6.7 4.2 7.5 2 -1.5 10 -2.4 2 -10.3 4.8 -6.2 5.2 3.7 4 2.5 3.8 2.5 2.2 -.2 2 -4.5 4 -5.8 3.6 -1.8 2.4 .5 10 -.7 .8 -2 -1.5 -2 -.6M1344.3 749.9l4 1.2 4 3.8 6 2.2 12 6 4 2.9 -2 2.1 -11.8 7.9 -1.7 2 -1.6 10 -3 10 -.9 8 -1.3 4 6.3 1.4 6 4.1 4.6 4.5 -.5 2 -4.1 2.7 -6 .5 -8 3.9 -2 .5 -4 -.2M1344.3 833.7l4 -.1 10 2.7 8 .9 16.9 4.8 1 2 -7.6 4 -4.3 .4 -1.9 1.6 -12.1 .1 -2.7 1.9 -11.3 .2M2179.9 144l-.6 2.2 -3.7 4 -.5 2 -3.4 4 -2.2 4 -3.7 4 -.3 2 -3.9 4 -.2 2 -3.8 4 -.4 2 -3.6 4 -2.1 4 -3.6 4.4 -.4 1.6 -3.8 4 -.3 2 -3.8 4 -.3 2 -3.7 4 -.6 2 -3.4 4 -2.1 4 -3.7 4 -.4 2 -3.8 4 -.3 2 -3.7 4 -.5 2 -3.5 4 -2.2 4 -3.6 4 -.4 2 -3.7 4 -.5 2 -3.6 4 -.6 2 -3.5 4 -2.1 4 -3.5 4 -.6 2 -3.6 4 -.6 2 -3.6 4 -.6 2 -3.4 4 -2.2 4 -3.4 4 -.7 2 -3.6 4 -.6 2 -3.6 4 -.6 2 -3.4 4 -2.2 4 -3.3 4 -.8 2 -3.5 4 -.7 2 -3.5 4 -.7 2 -3.5 4 -6.3 10 -7.7 10 -2.2 4 -2 2 -2.2 4 -3.4 4 -.9 2 -3.6 4 -3 4.6 -3.5 3.4 -.3 2 -3.7 4 -.4 2 -3.7 4 -.4 1.5 -5 6.5 -.7 2 -3.5 4 -.5 2 -3.8 4 -.3 2 -3.9 4 -.3 1.6 -3.6 4.4 -2.2 4 -3.7 4 -.4 2 -3.7 4 -.2 2 -3.9 4 -.3 2 -5.6 6 -.3 2 -3.6 4 -.4 2 -3.6 4 -.3 2 -3.9 4 -.2 2 -3.8 4 -.3 1.3 -2 2.9 -3.8 3.8 -.2 2 -4 4 0 2 -2 .6 0 -2.7 2.3 -3.9 3.7 -10.5 2 -3.3 5.2 -6.2 4 -8 2 -6 4.8 -3.4 2 -2.4 2.4 -4.2 3.8 -10 1.8 -2.5 5.6 -5.5 -1.3 -6 .7 -2 1 -1.3 4.2 -2.7 1.7 -2 5.4 -14 2.7 -3.7 4 -4.7 6.2 -5.6 1.8 -3.1 3.1 -2.9 1 -2 -1 -6 8.5 -16 6.4 -8.7 5.2 -9.3 6.8 -9.5 5.3 -8.5 3.3 -4 12.4 -20 6 -8 6 -10 9 -12.6 2.8 -5.4 3.2 -4 .8 -2 7.2 -9.3 2.7 -4.7 5.3 -6.1 6.8 -11.9 15.2 -19.9 12.9 -20.1 5.1 -6 6 -8.4 11.4 -17.6 6.6 -9 6 -7"/>
<path stroke="#00008f" d="M1344.3 471l4 -.9 5.2 5.9 5.4 4 -6.6 3 -4 3.3 -4 -.1M1347.8 518l.5 -1 2 2.1 2.3 4.9 -4.3 .7 -3.8 -.7 3.3 -6M1344.3 555.9l4 -.8 2.1 .9 -.6 2 -1.5 .6 -4 -.6M1344.3 579.2l4 -.7 1.9 1.5 3.6 10 -5.5 2.1 -4 .5M1344.3 653.9l4 .5 2.7 1.6 -2.7 3.3 -4 .4M1344.3 672.5l4 -.9 2 .6 2.8 1.8 3.8 4 -1.2 10 -1.1 2 -1.9 2 -2.4 1.4 -2 .4 -4 -3.6M1344.3 707.2l4 -.3 3.4 3.1 -.4 2 -3 2.2 -4 1.3M1344.3 756.2l4 2.2 4 3.5 8.6 4.1 -5 4 -4.1 6 -.5 2 -.8 10 -1.2 2 -1 1.4 -4 .1M1344.3 814l4 0 6 3.3 2.6 2.7 -.7 2 -3.9 2.4 -4 1.3 -4 -.3M1344.3 836.3l4 -.1 10 3.2 6 .5 8 1.6 1.8 .5 1.5 2 -3.3 1.6 -6 1.7 -8 1 -7.3 3.7 -6.7 .1M2179.9 144l-.6 2.2 -3.7 4 -.5 2 -3.5 4 -2.1 4 -3.7 4 -.3 2 -3.9 4 -.2 2 -3.8 4 -.4 2 -3.6 4 -2.1 4 -3.6 4.3 -.4 1.7 -3.8 4 -.3 2 -3.8 4 -.3 2 -3.7 4 -.6 2 -3.4 4 -2.1 4 -3.7 4 -.4 2 -3.8 4 -.4 2 -3.6 4 -.6 2 -3.4 4 -2.2 4 -3.6 4 -.5 2 -3.7 4 -.4 2 -3.6 4 -.6 2 -3.5 4 -2.1 4 -3.5 4 -.6 2 -3.7 4 -.5 2 -3.6 4 -.6 2 -9 12 -.7 2 -3.6 4 -.6 2 -3.6 4 -.6 2 -3.5 4 -2.1 4 -3.4 4 -.8 2 -3.5 4 -.7 2 -3.4 4 -.8 2 -3.4 4 -6.3 10 -7.7 10 -2.2 4 -2 2 -2.2 4 -3.5 4 -.9 2 -3.6 4 -2.9 4.5 -3.6 3.5 -.3 2 -3.8 4 -.2 2 -3.8 4 -2.3 4.3 -3.2 3.7 -.6 2 -3.6 4 -.4 2 -3.8 4 -.3 2 -3.9 4 -2.2 4.3 -3.2 3.7 -.7 2 -3.8 4 -.2 2 -3.8 4 -.2 2 -3.9 4 -.2 1.5 -2 2.6 -3.9 3.9 -.1 2 -3.7 4 -.2 2 -3.8 4 -.2 2 -4 4 -.1 2 -3.8 4 -1.5 2 -.7 2.1 -2 2.1 -2 .9 -.2 -3.1 2.3 -6 5.9 -7.1 4.7 -8.9 1.3 -4.2 1.4 -1.8 4.7 -2 1.4 -2 6.1 -16 6.4 -5.9 1.3 -2.1 -1.9 -6 .6 -1.9 2 -1.4 4 -1 1.6 -1.7 1 -4 3 -6 1.1 -6 6.6 -8 6.7 -5.9 5.2 -6.1 .6 -2 -1.8 -6 4.7 -10 4.7 -8 4.6 -6.2 5.7 -9.8 9.3 -14 5.9 -8 12.6 -20 20.5 -30.1 7.2 -11.9 4.8 -6.1 5.1 -7.9 6.5 -8 5.8 -10 14.6 -19.5 13.4 -20.5 10.7 -14 13.3 -20 10.9 -14M1975.9 427.2l0 1.2 0 -1.2"/>
<path stroke="#000094" d="M1344.3 477.9l3.7 2.1 -3.7 1.5M1347.5 678l1.7 0 -.9 .8 -.8 -.8M1344.3 764.8l3.9 1.2 -3.9 2.2M1348 820l.4 0 -.4 0M1344.3 839l4 0 4 1 4.9 2 .7 2 -9.6 5.2 -4 .5M2179.9 144l-.6 2.2 -3.7 4 -.5 2 -3.5 4 -2.1 4 -3.7 4 -.4 2 -3.8 4 -.3 2 -3.7 4 -.4 2 -3.6 4 -2.1 4 -3.6 4.3 -.4 1.7 -3.8 4 -.3 2 -3.8 4 -.4 2 -3.6 4 -.6 2 -3.4 4 -2.2 4 -3.6 4 -.4 2 -3.8 4 -.4 2 -3.6 4 -.6 2 -3.4 4 -2.2 4 -3.6 4 -.5 2 -3.7 4 -.4 2 -3.7 4 -.5 2 -3.5 4 -2.1 4 -3.5 4 -.7 2 -3.6 4 -.5 2 -3.6 4 -.6 2 -9 12 -.8 2 -3.5 4 -.7 2 -3.5 4 -.7 2 -3.4 4 -2.1 4 -3.4 4 -.8 2 -3.5 4 -.7 2 -3.5 4 -.7 2 -3.4 4 -6.3 10 -3.5 4 -.8 2 -3.4 4 -6.4 10 -8 10 -2.5 4 -4.2 4 -.1 2 -3.9 4 -.2 2 -5.2 6 -.8 2.2 -3.4 3.8 -.4 2 -3.7 4 -.3 2 -4 4 -.1 2 -5.5 6 -.6 2.2 -3.5 3.8 -.5 2 -3.9 4 -.1 2 -3.8 4 -.2 2 -3.9 4 -.1 .8 -1.7 1.2 -.5 2 -1 -2 .2 -2 1.3 -6 1.7 -4 7 -6 1.2 -2 .5 -2 -1.7 -6 1 -1.6 2 .3 4 1.9 .9 -.6 .9 -2 .3 -6 1.9 -3.7 2 -2.6 .4 -7.7 3.6 -2.4 3.2 -5.6 5.5 -4 3.8 -4 2.8 -4 .5 -2 -2.4 -4 -.5 -2 4.2 -10 3.5 -6 67.1 -102 9.8 -14 6.3 -8 7.4 -12 12.8 -17 12.6 -19 11.9 -16 13.3 -20 10.9 -14M1989.9 407.7l-.5 .5 .7 0 -.2 -.5M1949.8 468.2l2.1 -1.5 2 .3 0 1.2 -1.9 2 -.1 2 -3.8 4 -.1 2 -4.1 4 -2 4.1 -3.8 3.9 -.2 2 -1.3 0 1.3 -6 5.5 -6 .5 -2 5.9 -10"/>
<path stroke="#000098" d="M1344.3 841.8l5 .2 1.3 2 -2.3 .9 -4 .1M2179.9 144l-.6 2.2 -3.7 4 -.5 2 -3.5 4 -2.1 4 -3.7 4 -.4 2 -3.8 4 -.3 2 -3.7 4 -.4 2 -3.6 4 -2.1 4 -3.6 4.2 -.4 1.8 -3.8 4 -.3 2 -3.8 4 -.4 2 -3.6 4 -.6 2 -3.4 4 -2.2 4 -3.6 4 -.5 2 -3.7 4 -.4 2 -3.6 4 -.6 2 -3.4 4 -2.2 4 -3.6 4 -.5 2 -3.7 4 -.4 2 -3.7 4 -.6 2 -3.4 4 -2.2 4 -3.5 4 -.6 2 -3.6 4 -.5 2 -3.7 4 -.6 2 -9 12 -.7 2 -3.5 4 -.7 2 -3.5 4 -.7 2 -3.4 4 -2.2 4 -3.3 4 -.8 2 -3.5 4 -.7 2 -3.5 4 -.8 2 -3.3 4 -6.4 10 -7.7 10 -2.2 4 -7.7 10 -.9 2 -3.6 4 -2.8 4.4 -3.9 3.6 -.1 2 -3.9 4 -.1 1.2 -2 2.9 -3.6 3.9 -.4 2.1 -3.7 3.9 -.2 2 -3.8 4 -.2 2 -4 4 -.1 2 -4 4.1 -.5 -.1 .8 -6 3.7 -7.4 .9 -4.6 1.1 -1.8 4 -.4 2.4 -1.8 -1.7 -6 2 -2 3.3 -1.7 4.4 -4.3 2.6 -4 .7 -2 -3.3 -6 -.6 -2 3.8 -10 3.4 -6 22 -34 4.5 -6 41.9 -64 14.6 -19.8 7.5 -12.2 12.5 -16.5 12.9 -19.5 12 -16 13.3 -20 10.9 -14M1976.6 432.2l1.3 -.6 0 2.6 -3.8 4 -.2 2 -.6 0 -1.1 -2 .2 -4 1.5 -1.6 2.7 -.4M1964.6 448.2l1.3 -.4 .8 .4 -.8 2 0 2 -4.2 4 -.1 -6 .3 -.8 2.7 -1.2M1949.6 474.2l.3 -.2 -.3 .2M1947.2 476.2l.7 -1.1 0 3.1 -1.9 0 1.2 -2"/>
<path stroke="#00009d" d="M2179.9 143.9l-.6 2.3 -3.7 4 -.6 2 -3.4 4 -2.1 4 -3.7 4 -.4 2 -3.8 4 -.3 2 -3.7 4 -.4 2 -3.6 4 -2.1 4 -3.6 4.2 -.4 1.8 -3.8 4 -.4 2 -3.7 4 -.4 2 -3.6 4 -.7 2 -5 6.5 -.5 1.5 -3.7 4 -.4 2 -3.7 4 -.4 2 -3.6 4 -.6 2 -3.4 4 -2.2 4 -3.6 4 -.5 2 -3.7 4 -.4 2 -3.7 4 -.6 2 -3.4 4 -2.2 4 -3.5 4 -.6 2 -3.6 4 -.6 2 -3.6 4 -.6 2 -9 12 -.7 2 -3.5 4 -.7 2 -3.5 4 -.7 2 -3.4 4 -2.2 4 -3.3 4 -.8 2 -3.5 4 -.8 2 -3.4 4 -.8 2 -3.4 4 -6.3 10 -3.4 4 -.9 2 -3.4 4 -6.4 10 -8.1 10 -2.4 4 -2.3 2 -1.2 0 -.8 -.4 -3.7 -5.6 -1.6 -4 2.5 -8 4.3 -8 21.8 -34 4.5 -6 40.5 -62 15.7 -21.5 9.3 -14.5 10.7 -14 13.3 -20 12 -16 13.4 -20 10.8 -14M2000.8 398.2l1.1 -.8 0 1 -1.1 -.2M1999 400.2l.9 -1.1 0 3.1 -2 2.1 -1.7 -.1 2.8 -4M1995.3 406.2l.6 -1.5 0 3.5 -.7 0 .1 -2M1993 410.2l.9 -.7 0 .8 -.9 -.1M1988.6 412.2l3.3 -1.4 .1 3.4 -3.9 4 -.2 2.1 -2 2 -1.6 -.1 2.3 -8 2 -2M1983.7 424.2l.2 -.5 -.2 .5M1975.5 434.2l1.3 0 -.9 2.3 -2 .4 0 -1.3 1.6 -1.4"/>
<path stroke="#0000a1" d="M2179.9 143.9l-.7 2.3 -3.6 4 -.6 2 -3.4 4 -2.1 4 -3.7 4 -.4 2 -3.8 4 -.3 2 -3.7 4 -.5 2 -3.5 4 -2.1 4 -3.6 4.1 -.5 1.9 -3.7 4 -.4 2 -3.7 4 -.4 2 -3.6 4 -.7 2 -5 6.4 -.5 1.6 -3.7 4 -.4 2 -3.7 4 -.4 2 -3.6 4 -.7 2 -3.3 4 -2.2 4 -3.6 4 -.5 2 -3.7 4 -.5 2 -3.6 4 -.6 2 -3.4 4 -2.2 4 -3.5 4 -.6 2 -3.6 4 -.6 2 -3.6 4 -.6 2 -9 12 -.7 2 -3.6 4 -.7 2 -3.4 4 -.8 2 -8.9 12 -.8 2 -3.4 4 -.8 2 -3.4 4 -.8 2 -3.4 4 -6.3 10 -7.7 10 -2.3 4 -1.9 2 -2.2 4 -3.6 4 -.9 2 -3.6 4 -2.7 4.3 -2 1.2 -4.9 -5.5 -1.6 -4 2.2 -8 4.3 -8 21.6 -34 4.5 -6 12.6 -20 27.9 -42 15.4 -21.1 9.6 -14.9 12.1 -16 12 -18 12 -16 5 -8 8.4 -12 8.9 -10.8 1.9 -3.2M1989.2 414.2l2.7 -.8 0 .8 -2 2.1 -1.8 -.1 1.1 -2M1987.8 418.2l.1 2 -.1 -2M1975.4 436.2l.5 -.4 0 .5 -.5 -.1"/>
<path stroke="#0000a6" d="M2179.9 143.9l-.7 2.3 -3.6 4 -.6 2 -3.4 4 -2.1 4 -3.7 4 -.4 2 -3.8 4 -.3 2 -3.7 4 -.5 2 -3.5 4 -2.1 4 -3.6 4.1 -.5 1.9 -3.7 4 -.4 2 -3.7 4 -.4 2 -3.6 4 -.7 2 -5 6.4 -.5 1.6 -3.7 4 -.4 2 -3.7 4 -.5 2 -3.5 4 -.7 2 -3.3 4 -2.2 4 -3.6 4 -.5 2 -3.7 4 -.5 2 -3.6 4 -.6 2 -3.4 4 -2.2 4 -3.5 4 -.6 2 -3.6 4 -.6 2 -3.6 4 -.7 2 -3.3 4 -2.2 4 -3.4 4 -.8 2 -3.5 4 -.7 2 -3.5 4 -.7 2 -8.9 12 -.8 2 -3.5 4 -.7 2 -3.4 4 -.9 2 -3.3 4 -6.4 10 -3.4 4 -.8 2 -3.5 4 -6.4 10 -9.6 12 -.9 2 -2.2 .8 -2.7 -2.8 -2.3 -4 -.6 -2 .5 -4 3.1 -8 12 -19.7 56.8 -86.3 15.2 -20.8 9.9 -15.2 12.1 -15.8 12 -18.2 12 -15.8 5 -8.2 8.6 -12 8.4 -10.2 2.3 -3.8"/>
<path stroke="#0000ab" d="M2179.9 143.9l-.7 2.3 -3.6 4 -.6 2 -3.4 4 -2.1 4 -3.7 4 -.4 2 -3.8 4 -.3 2 -3.7 4 -.5 2 -3.5 4 -2.1 4 -3.6 4 -.5 2 -3.7 4 -.4 2 -3.7 4 -.5 2 -3.5 4 -.7 2 -5 6.3 -.5 1.7 -3.7 4 -.4 2 -3.7 4 -.5 2 -3.5 4 -.7 2 -3.3 4 -2.2 4 -3.6 4 -.6 2 -3.6 4 -.5 2 -3.6 4 -.7 2 -3.3 4 -2.2 4 -3.5 4 -.7 2 -3.5 4 -.6 2 -3.6 4 -.7 2 -3.3 4 -2.2 4 -3.4 4 -.8 2 -3.5 4 -.7 2 -3.5 4 -.8 2 -8.8 12 -.8 2 -3.5 4 -.8 2 -3.4 4 -.8 2 -3.3 4 -6.4 10 -7.7 10 -2.2 4 -2 2 -2.2 4 -3.6 4 -.9 2 -5.3 6 -.8 2 -2.1 0 -3.2 -4 -1.6 -4 .9 -6 2.3 -6 12.1 -20 56.6 -86 14.9 -20.4 10.3 -15.6 11.7 -15.3 12.4 -18.7 11.6 -15.3 6.8 -10.7 9.2 -12.7 6 -6.9 2.7 -4.4"/>
<path stroke="#0000b0" d="M2179.9 143.9l-.7 2.3 -3.6 4 -.7 2 -3.3 4 -2.2 4 -3.7 4 -.3 2 -3.8 4 -.4 2 -3.6 4 -.5 2 -3.5 4 -2.1 4 -3.6 4 -.5 2 -3.8 4 -.3 2 -3.7 4 -.5 2 -3.5 4 -2.1 4 -3.6 4.3 -.5 1.7 -3.7 4 -.4 2 -3.8 4 -.4 2 -3.6 4 -.6 2 -3.4 4 -2.2 4 -3.5 4 -.6 2 -3.6 4 -.5 2 -3.6 4 -.7 2 -3.3 4 -2.2 4 -3.5 4 -.7 2 -3.6 4 -.6 2 -3.5 4 -.7 2 -3.3 4 -2.2 4 -3.5 4 -.7 2 -3.5 4 -.7 2 -3.5 4 -2.1 4 -7.5 10 -.9 2 -3.4 4 -.8 2 -3.4 4 -2.2 4 -1.9 2 -2.2 4 -3.4 4 -.8 2 -7.7 10 -6.4 10 -3.7 4 -.8 2 -5.5 6 -.7 2.1 -1.1 -.1 -2 -2 -2.3 -4 -.6 -4 .6 -4 2.3 -6 11.1 -18.6 57.3 -87.4 14.7 -20 10.6 -16 11.4 -14.8 12.8 -19.2 11.2 -14.7 7.2 -11.3 8.8 -12.1 6 -6.9 3.1 -5"/>
<path stroke="#0000b5" d="M2179.9 143.9l-.7 2.3 -3.6 4 -.7 2 -3.3 4 -2.2 4 -3.7 4 -.4 2 -3.7 4 -.4 2 -3.6 4 -.6 2 -3.4 4 -2.2 4 -3.5 4 -.5 2 -3.8 4 -.3 2 -3.7 4 -.5 2 -3.5 4 -2.2 4 -3.5 4.2 -.5 1.8 -3.7 4 -.5 2 -3.7 4 -.4 2 -3.6 4 -.7 2 -3.3 4 -2.2 4 -3.6 4 -.5 2 -3.6 4 -.6 2 -3.5 4 -.7 2 -3.4 4 -2.2 4 -3.4 4 -.7 2 -3.6 4 -.6 2 -3.5 4 -.8 2 -3.3 4 -2.2 4 -3.4 4 -.7 2 -3.5 4 -.8 2 -3.4 4 -.8 2 -3.3 4 -2.2 4 -7.7 10 -.7 2 -3.4 4 -2.2 4 -2 2 -2.2 4 -7.6 10 -.9 2 -3.4 4 -6.4 10 -3.6 4 -.9 2 -2.1 2.6 -3.5 3.4 -.7 2 -2 -2 -2.4 -4 -.8 -4 .5 -4 2.3 -6 10.6 -18 57.6 -88 14.6 -20 10.7 -16 11.1 -14.3 13.2 -19.7 10.8 -14.2 7.6 -11.8 8.7 -12 5.7 -6.4 3.4 -5.6"/>
<path stroke="#0000bb" d="M2179.9 143.9l-.8 2.3 -3.5 4 -.7 2 -5 6.5 -.5 1.5 -3.7 4 -.4 2 -3.8 4 -.3 2 -3.6 4 -.6 2 -3.4 4 -2.2 4 -3.6 4 -.4 2 -3.8 4 -.4 2 -3.6 4 -.5 2 -3.5 4 -2.2 4 -3.5 4.2 -.6 1.8 -3.6 4 -.5 2 -3.7 4 -.4 2 -3.6 4 -.7 2 -3.3 4 -2.2 4 -3.6 4 -.5 2 -3.6 4 -.6 2 -3.5 4 -.8 2 -3.3 4 -2.2 4 -3.5 4 -.6 2 -3.6 4 -.6 2 -3.6 4 -.7 2 -3.3 4 -2.2 4 -3.4 4 -.8 2 -3.5 4 -.7 2 -3.4 4 -2.2 4 -7.5 10 -.8 2 -3.5 4 -.8 2 -3.3 4 -2.2 4 -2 2 -2.2 4 -3.3 4 -.9 2 -7.7 10 -2.2 4 -3.4 4 -.8 2 -3.7 4 -.8 2 -2.1 2.5 -3.7 3.5 -.3 1.3 -2 -2.2 -1.8 -3.1 -.9 -4 .3 -4 2.3 -6 10.4 -18 57.6 -88 16 -22 9.3 -14 10.9 -14 13.5 -20 12 -16 5 -8 10.2 -14 5.3 -6 3.8 -6"/>
<path stroke="#0000c0" d="M2179.9 143.9l-.8 2.3 -3.6 4 -.6 2 -5 6.4 -.5 1.6 -3.7 4 -.4 2 -3.8 4 -.3 2 -3.6 4 -.6 2 -3.4 4 -2.2 4 -3.6 4 -.4 2 -3.8 4 -.4 2 -3.6 4 -.6 2 -3.4 4 -2.2 4 -3.5 4.1 -.6 1.9 -3.6 4 -.5 2 -3.7 4 -.5 2 -3.5 4 -.7 2 -4.9 6.4 -.6 1.6 -3.6 4 -.5 2 -3.7 4 -.5 2 -3.6 4 -.7 2 -3.3 4 -2.2 4 -3.5 4 -.6 2 -3.6 4 -.7 2 -3.5 4 -2.1 4 -7.5 10 -.8 2 -3.5 4 -.8 2 -3.4 4 -6.3 10 -3.3 4 -.9 2 -3.4 4 -.8 2 -3.4 4 -6.3 10 -12 16 -2.2 4 -3.3 4 -.9 2 -3.7 4 -.8 2 -6 6.4 -2 -2.6 -1.7 -3.8 -.1 -6 1.8 -5.2 10.7 -18.8 57.5 -88 15.8 -21.8 9.6 -14.2 10.8 -14 12.1 -18 13.5 -18 5 -8 10.2 -14 5.3 -6 3.7 -6"/>
<path stroke="#0000c6" d="M2179.9 143.9l-.8 2.3 -3.6 4 -.7 2 -4.9 6.4 -.5 1.6 -3.7 4 -.4 2 -3.8 4 -.3 2 -3.7 4 -.5 2 -3.4 4 -2.2 4 -3.6 4 -.5 2 -3.7 4 -.4 2 -3.7 4 -.5 2 -3.5 4 -2.1 4 -3.5 4.1 -.6 1.9 -3.6 4 -.5 2 -3.7 4 -.5 2 -3.5 4 -.8 2 -4.8 6.3 -.6 1.7 -3.6 4 -.6 2 -3.6 4 -.5 2 -3.6 4 -.7 2 -4.8 6.2 -.7 1.8 -3.5 4 -.7 2 -3.5 4 -.7 2 -3.5 4 -.8 2 -3.2 4 -2.2 4 -7.7 10 -.8 2 -3.4 4 -6.3 10 -3.4 4 -.8 2 -3.4 4 -.9 2 -3.3 4 -2.2 4 -1.9 2 -2.3 4 -3.3 4 -.9 2 -7.7 10 -2.2 4 -3.4 4 -.8 2 -3.7 4 -.8 2 -4 4.5 -2 .9 -2.2 -3.4 -1.1 -4 .5 -6 1.8 -4 10.1 -18 57.3 -88 25.5 -36 10.9 -14 12.1 -18 13.1 -17.5 5.3 -8.5 10.3 -14 5.3 -6 3.7 -6"/>
<path stroke="#0000cc" d="M2179.9 143.9l-.8 2.3 -3.6 4 -2 4 -3.6 4.3 -.5 1.7 -3.7 4 -.4 2 -3.8 4 -.4 2 -3.6 4 -.6 2 -3.4 4 -2.1 4 -3.6 4 -.5 2 -3.7 4 -.4 2 -3.7 4 -.5 2 -3.5 4 -2.1 4 -3.5 4 -.6 2 -3.7 4 -.4 2 -3.7 4 -.5 2 -3.5 4 -2.1 4 -3.5 4.3 -.6 1.7 -3.6 4 -.6 2 -3.6 4 -.6 2 -3.5 4 -.8 2 -4.7 6.2 -.7 1.8 -3.5 4 -.7 2 -3.5 4 -.7 2 -3.5 4 -.8 2 -3.2 4 -2.3 4 -7.6 10 -.8 2 -3.4 4 -6.3 10 -3.4 4 -.8 2 -3.5 4 -.8 2 -3.3 4 -6.4 10 -3.4 4 -.8 2 -3.5 4 -6.4 10 -3.5 4 -.8 2 -3.7 4 -2.7 4.3 -2 2 -2 -.2 -2.6 -6.1 -.1 -4 1.1 -4 9.9 -18 12.4 -20 5.9 -8 12.4 -20 27.7 -42 25.5 -36 10.9 -14 12.2 -18 12.7 -16.9 5.7 -9.1 8.8 -12 6.8 -8 3.6 -6"/>
<path stroke="#0000d2" d="M2179.9 143.9l-.9 2.3 -3.5 4 -2 4 -3.6 4.3 -.5 1.7 -3.7 4 -.4 2 -3.8 4 -.4 2 -3.6 4 -.6 2 -3.4 4 -2.1 4 -3.6 4 -.5 2 -3.7 4 -.4 2 -3.7 4 -.5 2 -3.5 4 -2.1 4 -3.5 4 -.6 2 -3.7 4 -.5 2 -3.6 4 -.5 2 -3.5 4 -2.1 4 -3.5 4.2 -.7 1.8 -3.5 4 -.6 2 -3.6 4 -.6 2 -3.5 4 -2.1 4 -3.4 4.1 -.8 1.9 -3.4 4 -.7 2 -3.6 4 -.7 2 -3.4 4 -2.1 4 -7.6 10 -.8 2 -3.5 4 -.8 2 -3.3 4 -6.3 10 -7.7 10 -.8 2 -3.4 4 -2.1 4 -2 2 -2.2 4 -3.4 4 -.9 2 -3.4 4 -2.3 4 -2 2 -2.2 4 -3.5 4 -.7 2 -8.4 10.1 -1 -.1 -1 -1.4 -1.9 -4.6 -.2 -4 1 -4 9.7 -18 12.4 -20 6 -8 12.2 -20 27.8 -42 25.5 -36 11 -14 12.2 -18 12.3 -16.4 6 -9.4 8.9 -12.2 6.8 -8 3.6 -6"/>
<path stroke="#0000d8" d="M2179.9 143.8l-.9 2.4 -3.5 4 -2.1 4 -3.5 4.2 -.6 1.8 -3.6 4 -.5 2 -3.7 4 -.4 2 -3.6 4 -.6 2 -3.4 4 -2.1 4 -3.6 4 -.5 2 -3.7 4 -.5 2 -3.6 4 -.6 2 -3.4 4 -2.1 4 -3.5 4 -.6 2 -3.7 4 -.5 2 -3.6 4 -.6 2 -3.4 4 -2.2 4 -3.4 4.2 -.7 1.8 -3.5 4 -.6 2 -3.6 4 -.6 2 -3.5 4 -2.1 4 -3.4 4.1 -.8 1.9 -3.5 4 -.6 2 -3.6 4 -.7 2 -3.4 4 -6.3 10 -3.4 4 -.8 2 -3.5 4 -.8 2 -3.3 4 -6.4 10 -7.6 10 -.9 2 -3.3 4 -2.2 4 -1.9 2 -2.3 4 -3.4 4 -.8 2 -3.4 4 -2.4 4 -1.9 2 -2.2 4 -3.5 4 -.8 2 -3.7 4 -2.6 4.2 -2 1.5 -1.4 -1.7 -1.8 -4 -.3 -4 1 -4 9.5 -18 12.4 -20 5.9 -8 12.3 -20 27.7 -42 25.5 -36 11.1 -14 10.7 -16 13.5 -18 5.9 -9.3 9.3 -12.7 6.7 -7.9 3.7 -6.1"/>
<path stroke="#0000df" d="M2179.9 143.8l-.9 2.4 -3.5 4 -2.1 4 -3.5 4.2 -.6 1.8 -3.7 4 -.4 2 -3.7 4 -.4 2 -3.6 4 -.7 2 -3.3 4 -2.1 4 -3.6 4 -.5 2 -3.7 4 -.5 2 -3.6 4 -.6 2 -3.4 4 -2.2 4 -3.5 4 -.6 2 -3.6 4 -.5 2 -3.6 4 -.6 2 -3.4 4 -2.2 4 -3.4 4.1 -.7 1.9 -3.6 4 -.5 2 -3.6 4 -.6 2 -3.5 4 -2.2 4 -3.3 4 -.8 2 -3.5 4 -.7 2 -3.5 4 -.7 2 -3.5 4 -2.1 4 -7.6 10 -.7 2 -3.5 4 -.8 2 -3.4 4 -6.3 10 -3.4 4 -.8 2 -3.5 4 -.8 2 -3.3 4 -2.2 4 -2 2 -2.2 4 -3.4 4 -.8 2 -3.5 4 -2.3 4 -2 2 -2.2 4 -3.5 4 -.7 2 -5.5 6 -.8 2.1 -2 .2 -2 -3.4 -.9 -2.9 .2 -4 .7 -1.8 9.4 -18.2 12.3 -20 6 -8 12.2 -20 27.7 -42 25.5 -36 11.1 -14 10.8 -16 13.4 -18 5.6 -8.8 9.7 -13.2 6.3 -7.4 4.1 -6.6"/>
<path stroke="#0000e5" d="M2179.9 143.8l-.9 2.4 -3.5 4 -2.1 4 -3.5 4.1 -.6 1.9 -3.7 4 -.4 2 -3.7 4 -.4 2 -3.6 4 -.7 2 -3.3 4 -2.2 4 -3.5 4 -.5 2 -3.8 4 -.4 2 -3.6 4 -.6 2 -3.4 4 -2.2 4 -3.5 4 -.6 2 -3.6 4 -.5 2 -3.7 4 -.5 2 -3.5 4 -2.1 4 -3.4 4 -.7 2 -3.6 4 -.6 2 -3.5 4 -.7 2 -3.4 4 -2.2 4 -3.3 4 -.8 2 -3.5 4 -.7 2 -3.5 4 -.8 2 -3.4 4 -6.3 10 -3.4 4 -.8 2 -3.4 4 -.9 2 -3.3 4 -6.3 10 -7.7 10 -6.3 10 -7.7 10 -.8 2 -9.2 12 -.7 2 -3.6 4 -.6 2 -4.3 5 -1.5 1 -.5 2 -.8 0 -3.2 -5.4 0 -4.8 9.8 -19.8 12.3 -20 5.9 -8 12.2 -20 27.7 -42 25.5 -36 11.2 -14 5.1 -8 19 -26 5.3 -8.3 10.1 -13.7 5.9 -6.9 4.5 -7.1"/>
<path stroke="#0000ec" d="M2179.9 143.8l-1 2.4 -3.4 4 -2.1 4 -3.5 4 -.6 2 -3.7 4 -.4 2 -3.7 4 -.5 2 -3.5 4 -.7 2 -3.3 4 -2.2 4 -3.6 4 -.5 2 -3.7 4 -.4 2 -3.6 4 -.6 2 -3.4 4 -2.2 4 -3.5 4 -.6 2 -3.6 4 -.6 2 -3.6 4 -.6 2 -8.9 12 -.7 2 -3.6 4 -.6 2 -3.6 4 -.6 2 -3.4 4 -2.2 4 -3.4 4 -.7 2 -3.5 4 -.7 2 -3.5 4 -.8 2 -3.4 4 -6.3 10 -7.7 10 -.8 2 -3.3 4 -6.4 10 -7.6 10 -6.4 10 -3.3 4 -.9 2 -3.4 4 -.8 2 -9.3 12 -.6 2 -3.7 4 -.6 2 -4.2 4.8 -1.8 1.2 -.2 1.2 -2.7 -3.2 -1 -4 .2 -2 9.8 -20 5.7 -8.7 6.5 -11.3 5.9 -8 12.1 -20 26.2 -40 27 -38 11.2 -14 5.1 -8 19.1 -26 5.1 -8 10.3 -14 5.5 -6.3 4.8 -7.7"/>
<path stroke="#0000f3" d="M2179.9 143.8l-1 2.4 -3.4 4 -2.1 4 -3.5 4 -.6 2 -3.7 4 -.4 2 -3.8 4 -.4 2 -3.5 4 -.7 2 -4.9 6.3 -.6 1.7 -3.6 4 -.5 2 -3.7 4 -.4 2 -3.6 4 -.7 2 -3.3 4 -2.2 4 -3.5 4 -.6 2 -3.6 4 -.6 2 -3.6 4 -.6 2 -8.9 12 -.8 2 -3.5 4 -.6 2 -3.6 4 -.6 2 -3.5 4 -2.1 4 -3.4 4 -.8 2 -3.4 4 -.8 2 -3.5 4 -.7 2 -3.4 4 -6.3 10 -3.4 4 -.8 2 -3.5 4 -.9 2 -3.2 4 -6.4 10 -7.7 10 -6.3 10 -3.4 4 -.8 2 -3.5 4 -.8 2 -3.4 4 -2.3 4 -3.6 4 -.6 2 -3.7 4 -.6 2 -4.1 4.6 -2 1.1 -1.7 -1.7 -.9 -2 -.3 -4 9.6 -20 5.3 -8 6.9 -12 5.8 -8 12.1 -20 27.6 -42 25.6 -36 11.3 -14 5 -8 19.1 -26 5.1 -8 10.4 -14 5.2 -6 5.1 -8"/>
<path stroke="#0000fa" d="M2179.9 143.8l-1 2.4 -3.5 4 -2 4 -3.5 4 -.6 2 -3.7 4 -.5 2 -3.7 4 -.4 2 -3.5 4 -.8 2 -4.8 6.3 -.6 1.7 -3.6 4 -.5 2 -3.7 4 -.5 2 -3.5 4 -.7 2 -3.3 4 -2.2 4 -3.5 4 -.6 2 -3.6 4 -.6 2 -3.6 4 -.6 2 -3.4 4 -2.1 4 -3.5 4 -.7 2 -3.5 4 -.7 2 -3.5 4 -.7 2 -3.4 4 -2.1 4 -3.4 4 -.8 2 -3.5 4 -.7 2 -3.5 4 -.8 2 -3.3 4 -6.3 10 -3.5 4 -.8 2 -3.4 4 -6.3 10 -3.4 4 -.8 2 -7.7 10 -6.3 10 -3.4 4 -.9 2 -3.4 4 -.8 2 -3.5 4 -2.3 4 -3.6 4 -.5 2 -3.8 4 -.5 2 -4.1 4.4 -2 .1 -1.8 -2.5 -.4 -4 6.2 -14 3.1 -6 5.3 -8 6.9 -12 5.8 -8 12 -20 27.6 -42 25.6 -36 11.4 -14 5 -8 19.1 -26 5.1 -8 10.4 -14 6.7 -8 3.7 -6"/>
<path stroke="#0000ff" d="M2179.9 143.8l-1 2.4 -3.5 4 -2 4 -3.6 4 -.6 2 -3.6 4 -.5 2 -3.7 4 -.5 2 -3.5 4 -2 4 -3.5 4.2 -.6 1.8 -3.6 4 -.5 2 -3.7 4 -.5 2 -3.6 4 -.6 2 -3.4 4 -2.1 4 -3.5 4 -.7 2 -3.6 4 -.5 2 -3.6 4 -.7 2 -3.3 4 -2.2 4 -3.4 4 -.7 2 -3.5 4 -.7 2 -3.5 4 -.7 2 -3.4 4 -2.2 4 -3.3 4 -.8 2 -3.5 4 -.7 2 -3.5 4 -.8 2 -3.4 4 -6.3 10 -7.6 10 -6.4 10 -7.6 10 -.8 2 -3.5 4 -2.2 4 -1.9 2 -2.2 4 -7.7 10 -.8 2 -3.4 4 -2.3 4 -3.7 4 -.5 2 -3.7 4 -.6 2 -4 4.2 -1.1 -.2 -1.7 -2 -.7 -2 .1 -2 5.4 -12.7 3.6 -7.3 5.3 -8 6.8 -12 5.8 -8 11.9 -20 27.6 -42 25.6 -36 11.4 -14 5 -8 19 -25.8 5.3 -8.2 10.4 -14 6.3 -7.5 4.1 -6.5"/>
<path stroke="#0000ff" d="M2179.9 143.8l-1.1 2.4 -3.4 4 -2.1 4 -3.5 4 -.6 2 -3.6 4 -.5 2 -3.7 4 -.5 2 -3.5 4 -2.1 4 -3.4 4.2 -.7 1.8 -3.5 4 -.5 2 -3.7 4 -.5 2 -3.6 4 -.7 2 -3.3 4 -2.2 4 -3.5 4 -.6 2 -3.6 4 -.6 2 -3.5 4 -.7 2 -3.3 4 -2.2 4 -3.4 4 -.7 2 -3.6 4 -.6 2 -3.5 4 -.7 2 -3.4 4 -2.2 4 -3.4 4 -.7 2 -3.5 4 -.8 2 -3.4 4 -.9 2 -3.3 4 -2.1 4 -3.4 4 -.8 2 -3.4 4 -.8 2 -3.5 4 -6.3 10 -3.3 4 -.9 2 -7.7 10 -6.3 10 -3.5 4 -.7 2 -3.5 4 -.8 2 -3.5 4 -2.3 4 -3.7 4 -.4 2 -3.8 4 -.5 2 -4 3.6 -2 -2.1 -.6 -1.5 .1 -2 4.7 -12 3.8 -8 5.4 -8 6.7 -12 5.8 -8 3.1 -6 8.7 -14 27.6 -42 25.6 -36 11.4 -14 5 -8 34.8 -48 5.9 -7 4.5 -7"/>
<path stroke="#0001ff" d="M2179.9 143.8l-1.1 2.4 -3.4 4 -2.1 4 -3.5 4 -.6 2 -3.7 4 -.4 2 -3.7 4 -.5 2 -3.5 4 -2.1 4 -3.4 4.1 -.7 1.9 -3.5 4 -.6 2 -3.6 4 -.5 2 -3.6 4 -.7 2 -3.3 4 -2.2 4 -3.5 4 -.6 2 -3.6 4 -.6 2 -3.5 4 -.7 2 -3.3 4 -2.2 4 -3.4 4 -.8 2 -3.5 4 -.6 2 -3.5 4 -.8 2 -8.9 12 -.8 2 -3.4 4 -.8 2 -3.4 4 -6.4 10 -3.3 4 -.8 2 -3.5 4 -.8 2 -3.4 4 -6.3 10 -3.4 4 -.8 2 -7.7 10 -6.3 10 -3.5 4 -.8 2 -3.5 4 -.8 2 -3.4 4 -2.3 4 -3.8 4 -.4 2 -3.8 4 -.4 1.6 -2 2.5 -2 .3 -1.7 -2.4 .2 -2 3.6 -10 4.4 -10 5.3 -8 6.7 -12 5.5 -7.6 3.4 -6.4 8.7 -14 27.5 -42 25.6 -36 11.4 -14 5.1 -8 18.3 -24.9 4.7 -7.1 11.7 -16 5.6 -6.5 4.9 -7.5"/>
<path stroke="#0008ff" d="M2179.9 143.7l-1.1 2.5 -3.4 4 -2.1 4 -3.5 4 -.6 2 -3.7 4 -.4 2 -3.7 4 -.5 2 -3.5 4 -2.1 4 -3.4 4.1 -.7 1.9 -3.5 4 -.6 2 -3.6 4 -.6 2 -3.5 4 -.7 2 -3.3 4 -2.2 4 -3.5 4 -.6 2 -3.6 4 -.6 2 -3.6 4 -.7 2 -3.2 4 -2.2 4 -3.4 4 -.8 2 -3.5 4 -.7 2 -3.5 4 -.7 2 -8.9 12 -.8 2 -3.5 4 -.7 2 -3.5 4 -6.3 10 -3.3 4 -.9 2 -3.4 4 -.8 2 -3.4 4 -6.4 10 -11.9 16 -2.2 4 -1.9 2 -2.2 4 -3.5 4 -.7 2 -3.5 4 -.8 2 -3.5 4 -2.2 4 -3.9 4 -.3 2 -3.9 4 -2.3 4 -.8 0 -1.6 -2 0 -2 4 -12 3.4 -8 5.3 -8 5.5 -10 6.2 -9 12.4 -21 27.5 -42 22.1 -30.3 3.6 -5.7 11.3 -14 5.1 -8 24.5 -34 6.3 -8 4 -6 5.2 -6 5.3 -8"/>
<path stroke="#000fff" d="M2179.9 143.7l-2.6 4.5 -1.9 2 -2.1 4 -3.5 4 -.6 2 -3.7 4 -.5 2 -3.6 4 -.6 2 -3.4 4 -2.1 4 -3.4 4 -.7 2 -3.6 4 -.5 2 -3.7 4 -.5 2 -3.5 4 -.8 2 -3.2 4 -2.2 4 -3.5 4 -.7 2 -3.5 4 -.6 2 -3.6 4 -.7 2 -3.3 4 -2.1 4 -7.7 10 -.7 2 -3.5 4 -.8 2 -8.8 12 -.8 2 -3.5 4 -.8 2 -3.4 4 -6.3 10 -3.4 4 -.8 2 -7.7 10 -6.3 10 -11.9 16 -2.2 4 -3.3 4 -.8 2 -7.8 10 -.8 2 -4.9 6 -.8 2 -3.9 4 -.3 2 -6.1 6.7 -.7 -.7 -.4 -2 .4 -2 3 -10 3.2 -8 5.4 -8 5.3 -10 5.8 -8.4 12.8 -21.6 27.4 -42 21.8 -29.9 3.9 -6.1 11.4 -14 5.1 -8 24.4 -34 6.4 -8 3.9 -6 5.2 -6 5.4 -8"/>
<path stroke="#0017ff" d="M2179.9 143.7l-2.6 4.5 -1.9 2 -2.1 4 -3.6 4 -.6 2 -3.6 4 -.5 2 -3.6 4 -.6 2 -3.4 4 -2.1 4 -3.4 4 -.7 2 -3.6 4 -.5 2 -3.7 4 -.5 2 -3.5 4 -.8 2 -3.2 4 -2.2 4 -3.5 4 -.7 2 -3.5 4 -.7 2 -3.5 4 -.7 2 -3.3 4 -2.2 4 -7.6 10 -.7 2 -3.5 4 -.8 2 -8.9 12 -.8 2 -3.4 4 -.8 2 -3.4 4 -6.4 10 -3.3 4 -.8 2 -3.5 4 -.8 2 -3.4 4 -6.3 10 -12 16 -2.1 4 -3.4 4 -.8 2 -3.5 4 -.7 2 -9.4 12 -.6 2 -4.1 4 -.1 2 -4.1 4.3 -1.4 -.3 .1 -2 2.4 -10 2.9 -8 5.4 -8 4.2 -8 7.8 -12 4.2 -8 21.7 -34 11.8 -18 22.9 -31.4 4.2 -6.6 11.4 -14 5.1 -8 24.5 -34 6.4 -8 3.9 -6 5.2 -6 5.4 -8"/>
<path stroke="#001fff" d="M2179.9 143.7l-2.6 4.5 -2 2 -2 4 -3.6 4 -.6 2 -3.6 4 -.5 2 -3.7 4 -.5 2 -3.4 4 -2.1 4 -3.5 4 -.7 2 -3.5 4 -.6 2 -3.6 4 -.6 2 -3.4 4 -.8 2 -4.7 6.2 -.8 1.8 -3.5 4 -.6 2 -3.6 4 -.6 2 -3.5 4 -.8 2 -3.2 4 -2.2 4 -7.7 10 -.7 2 -3.4 4 -.8 2 -3.3 4 -2.2 4 -7.6 10 -.8 2 -3.4 4 -6.4 10 -3.3 4 -.9 2 -3.4 4 -.9 2 -3.3 4 -6.4 10 -3.4 4 -.8 2 -7.7 10 -2.2 4 -3.4 4 -.7 2 -3.6 4 -.7 2 -3.5 4 -2.3 4 -3.6 4 -.6 2 -4.1 4 -.1 2 -2 2 -1.4 0 1.4 -10 2.6 -8 4.2 -6 5.3 -10 6.5 -10 5.4 -10 21.6 -34 13.2 -20 21.2 -29 4.5 -7 11.4 -14 5.1 -8 45.5 -62"/>
<path stroke="#0027ff" d="M2179.9 143.7l-2.6 4.5 -2 2 -2.1 4 -3.5 4 -.6 2 -3.6 4 -.5 2 -3.7 4 -.6 2 -3.3 4 -2.2 4 -3.4 4 -.7 2 -3.5 4 -.6 2 -3.6 4 -.6 2 -3.5 4 -2.1 4 -3.3 4.1 -.8 1.9 -3.5 4 -.6 2 -3.6 4 -.6 2 -3.5 4 -.8 2 -3.2 4 -2.2 4 -7.7 10 -.7 2 -3.4 4 -.9 2 -3.2 4 -2.2 4 -3.4 4 -.8 2 -3.5 4 -.8 2 -3.4 4 -6.3 10 -3.4 4 -.8 2 -7.7 10 -6.3 10 -3.4 4 -.9 2 -7.7 10 -2.1 4 -3.4 4 -.8 2 -3.6 4 -.6 2 -3.6 4 -2.6 4.4 -3.4 3.6 -.4 2 -4.2 4 -1.1 -2 -.1 -2 2.4 -10 4.2 -6 6.3 -12 5.3 -8 5.4 -10 21.5 -34 13.2 -20 20.9 -28.6 4.8 -7.4 11.4 -14 5.2 -8 21.7 -30 9.2 -12 4 -6 5.1 -6 5.5 -8"/>
<path stroke="#002fff" d="M2179.9 143.7l-2.6 4.5 -3.4 4.3 -.7 1.7 -3.5 4 -.6 2 -3.7 4 -.5 2 -3.6 4 -.6 2 -3.4 4 -2.1 4 -3.4 4 -.7 2 -3.5 4 -.6 2 -3.6 4 -.6 2 -3.5 4 -2.1 4 -3.3 4.1 -.8 1.9 -3.5 4 -.7 2 -3.5 4 -.7 2 -3.4 4 -2.1 4 -7.6 10 -.7 2 -3.5 4 -.7 2 -3.4 4 -6.4 10 -3.4 4 -.8 2 -3.4 4 -.8 2 -3.4 4 -6.3 10 -3.4 4 -.8 2 -7.7 10 -6.4 10 -3.4 4 -.8 2 -7.7 10 -2.1 4 -3.5 4 -.7 2 -3.7 4 -.6 2 -3.6 4 -2.2 4 -3.8 4 -.4 2 -2.1 2.1 -1.1 -.1 -.8 -2 0 -2 1.7 -8 4.2 -6 5.2 -10 6.8 -10.8 4.8 -9.2 21.4 -34 13.3 -20 20.5 -28.1 5.1 -7.9 11.4 -14 5.3 -8 24.5 -34 5.7 -7 4.7 -7 5.1 -6 5.5 -8"/>
<path stroke="#0038ff" d="M2179.9 143.7l-2.6 4.5 -3.4 4.2 -.7 1.8 -3.6 4 -.5 2 -3.7 4 -.5 2 -3.6 4 -.6 2 -3.4 4 -2.1 4 -3.4 4 -.7 2 -3.6 4 -.5 2 -3.6 4 -.7 2 -3.4 4 -2.1 4 -3.3 4 -.8 2 -3.5 4 -.7 2 -3.5 4 -.7 2 -3.5 4 -6.2 10 -7.6 10 -.8 2 -3.4 4 -6.3 10 -3.4 4 -.8 2 -3.4 4 -2.3 4 -1.9 2 -6.4 10 -3.4 4 -.8 2 -7.7 10 -2.1 4 -3.3 4 -.9 2 -3.5 4 -.7 2 -7.8 10 -2.1 4 -3.5 4 -.7 2 -3.6 4 -.6 2 -3.6 4 -2.5 4.3 -3.7 3.7 -.3 2 -2 .4 -.7 -4.4 1.3 -6 4.1 -6 5 -10 6.3 -10 5.2 -10 21.4 -34 11.8 -18 27.1 -38 10.5 -12.8 30.7 -43.2 15.3 -19.8 5.7 -8.2"/>
<path stroke="#0040ff" d="M2179.9 143.6l-2.7 4.6 -3.3 4.2 -.7 1.8 -3.6 4 -.6 2 -3.6 4 -.5 2 -3.6 4 -.7 2 -3.3 4 -2.1 4 -3.5 4 -.6 2 -3.6 4 -.6 2 -3.6 4 -.6 2 -3.4 4 -2.1 4 -3.3 4 -.8 2 -7.7 10 -.7 2 -3.5 4 -6.2 10 -7.7 10 -.7 2 -3.4 4 -6.3 10 -3.4 4 -.8 2 -3.5 4 -2.2 4 -2 2 -6.3 10 -3.4 4 -.8 2 -7.7 10 -2.2 4 -3.3 4 -.8 2 -3.5 4 -.8 2 -7.7 10 -2.1 4 -3.6 4 -.6 2 -3.7 4 -.6 2 -5.1 6 -.7 2 -4.1 4 -.3 2 -1.2 -2 -.3 -2 1.1 -6 4.1 -6 4.8 -10 5.7 -9.1 5.7 -10.9 21.2 -34 11.8 -18 27.1 -38 10.2 -12.4 31 -43.6 21.1 -28"/>
<path stroke="#004aff" d="M2179.9 143.6l-2.7 4.6 -3.3 4.1 -.7 1.9 -3.6 4 -.6 2 -3.6 4 -.6 2 -3.5 4 -.7 2 -3.3 4 -2.1 4 -3.5 4 -.7 2 -3.5 4 -.6 2 -3.6 4 -.6 2 -3.4 4 -2.1 4 -3.4 4 -.8 2 -3.5 4 -.7 2 -3.5 4 -.7 2 -3.4 4 -6.2 10 -7.7 10 -.7 2 -3.4 4 -2.2 4 -7.6 10 -.8 2 -3.4 4 -2.2 4 -2 2 -6.4 10 -3.4 4 -.8 2 -7.6 10 -2.2 4 -3.4 4 -.8 2 -3.5 4 -.7 2 -3.6 4 -2.2 4 -3.4 4 -.7 2 -3.6 4 -.5 2 -3.8 4 -.5 1.8 -5.3 6.2 -.7 2.2 -4 3.3 -.5 -3.5 .8 -4 3.9 -6 5.8 -12 4 -6.2 6.1 -11.8 31.6 -50 28.4 -40 11.4 -14 3.8 -6 26.1 -36 21 -28"/>
<path stroke="#0053ff" d="M2179.9 143.6l-2.7 4.6 -3.3 4 -.8 2 -3.5 4 -.6 2 -3.6 4 -.6 2 -3.6 4 -.6 2 -3.3 4 -2.2 4 -3.4 4 -.7 2 -3.5 4 -.6 2 -3.6 4 -.7 2 -3.3 4 -2.2 4 -3.3 4 -.8 2 -3.5 4 -.7 2 -3.5 4 -.7 2 -3.4 4 -6.2 10 -7.7 10 -.8 2 -3.3 4 -6.4 10 -3.4 4 -.8 2 -7.6 10 -6.4 10 -3.4 4 -.8 2 -3.5 4 -6.4 10 -3.4 4 -.7 2 -3.5 4 -.8 2 -9.3 12 -.5 2 -3.7 4 -.5 2 -3.8 4 -.4 1.5 -2 2.8 -3.6 3.7 -.3 2 -2.1 2.1 -.8 -.1 -.4 -2 .5 -4 3.7 -6 2.6 -6 6.9 -12 4.9 -10 32.6 -52 28.5 -40 11.3 -14 16.9 -24 34.1 -46"/>
<path stroke="#005cff" d="M2179.9 143.6l-2.7 4.6 -3.3 4 -.8 2 -3.6 4 -.6 2 -3.6 4 -.5 2 -3.6 4 -.7 2 -3.2 4 -2.2 4 -3.4 4 -.7 2 -3.5 4 -.7 2 -3.5 4 -.7 2 -3.4 4 -2.1 4 -3.3 4 -.8 2 -3.5 4 -.7 2 -3.5 4 -2.2 4 -1.9 2 -6.3 10 -3.4 4 -.8 2 -3.4 4 -.8 2 -3.4 4 -6.3 10 -3.4 4 -.8 2 -3.5 4 -2.2 4 -1.9 2 -6.4 10 -3.5 4 -.8 2 -7.6 10 -2.2 4 -3.4 4 -.8 2 -3.5 4 -.7 2 -3.6 4 -2.2 4 -3.6 4 -.5 2 -3.7 4 -.5 2 -3.8 4 -2.3 4.2 -3.8 3.8 -.2 2 -1.5 0 0 -4 17.4 -34 11.5 -18 10.6 -18 10.4 -16 28.4 -40 11.2 -13.8 17 -24.2 34.1 -46"/>
<path stroke="#0066ff" d="M2179.9 143.6l-2.7 4.6 -3.4 4 -.7 2 -3.6 4 -.6 2 -3.6 4 -.6 2 -3.5 4 -.7 2 -3.3 4 -2.1 4 -3.5 4 -.6 2 -3.6 4 -.6 2 -3.5 4 -.7 2 -3.4 4 -2.1 4 -3.4 4 -.7 2 -7.7 10 -.8 2 -3.4 4 -6.2 10 -7.7 10 -.8 2 -3.3 4 -6.3 10 -3.5 4 -.8 2 -3.4 4 -6.4 10 -3.3 4 -.9 2 -3.4 4 -.8 2 -7.7 10 -2.1 4 -3.5 4 -.7 2 -3.6 4 -.7 2 -3.5 4 -2.3 4 -3.6 4 -.4 2 -3.8 4 -.4 2 -5.5 6 -.5 2 -2.1 2.2 -2 -.2 7.1 -16 3.6 -6 5.7 -12 10.2 -16 11.7 -20 10.4 -16 28.4 -40 10.9 -13.3 30.5 -42.7 21 -28"/>
<path stroke="#0070ff" d="M2179.9 143.6l-2.8 4.6 -3.3 4 -.7 2 -3.6 4 -.6 2 -3.6 4 -.6 2 -3.5 4 -.8 2 -3.2 4 -2.1 4 -3.5 4 -.7 2 -3.5 4 -.6 2 -3.6 4 -.7 2 -3.3 4 -2.1 4 -3.4 4 -.8 2 -7.7 10 -.7 2 -3.4 4 -6.2 10 -7.7 10 -.8 2 -3.3 4 -6.4 10 -3.4 4 -.8 2 -3.4 4 -6.4 10 -3.4 4 -.8 2 -3.5 4 -.8 2 -9 12 -.8 2 -3.5 4 -.7 2 -3.6 4 -.7 2 -3.5 4 -2.2 4 -3.8 4 -.3 2 -3.8 4 -.4 2 -5.8 6 -.2 2 -1.3 0 3.4 -10 2.9 -6 2.6 -4 5.3 -12 10.3 -16 11.5 -20 10.3 -16 28.5 -40 10.5 -12.9 30.8 -43.1 21.1 -28"/>
<path stroke="#007bff" d="M2179.9 143.5l-2.8 4.7 -3.3 4 -.8 2 -3.5 4 -.6 2 -3.6 4 -.6 2 -3.5 4 -.8 2 -3.2 4 -2.2 4 -3.4 4 -.7 2 -3.5 4 -.6 2 -3.6 4 -.7 2 -3.3 4 -2.1 4 -3.4 4 -.8 2 -7.7 10 -.8 2 -3.3 4 -2.1 4 -3.3 4 -.8 2 -7.7 10 -.9 2 -3.2 4 -6.4 10 -3.4 4 -.9 2 -3.4 4 -6.4 10 -3.3 4 -.8 2 -3.5 4 -.8 2 -9.1 12 -.7 2 -3.6 4 -.6 2 -3.6 4 -.7 2 -5.1 6 -.7 2 -3.8 4 -.2 2 -3.9 4 -.3 2 -4 4.1 -.6 -.1 .3 -2 1.4 -4 2.7 -6 2.8 -4 2 -6 2.8 -6 6.6 -10.9 3.7 -5.1 11.3 -20 10.4 -16 27 -38 11.6 -14.5 31.1 -43.5 21.1 -28"/>
<path stroke="#0086ff" d="M2179.9 143.5l-2.8 4.7 -3.4 4 -.7 2 -3.6 4 -.6 2 -3.6 4 -.6 2 -3.5 4 -2 4 -1.9 2 -2.2 4 -3.5 4 -.6 2 -3.5 4 -.7 2 -3.5 4 -.8 2 -3.2 4 -2.2 4 -3.4 4 -.7 2 -7.7 10 -.8 2 -3.3 4 -2.1 4 -3.3 4 -.9 2 -7.7 10 -2.1 4 -2 2 -6.4 10 -3.4 4 -.8 2 -3.4 4 -2.2 4 -2 2 -2.2 4 -3.4 4 -.8 2 -3.5 4 -.7 2 -3.5 4 -2.2 4 -3.5 4 -.7 2 -3.5 4 -.7 2 -3.6 4 -.6 1.8 -5.3 6.2 -.5 2 -3.9 4 -.2 2 -4 4 -.1 1.1 -1.6 .9 -.4 2 -.6 0 2.3 -8 4.1 -6 1.5 -6 2.7 -6 6 -10 4 -5.6 11.4 -20.4 7.7 -12 29.6 -42 11.3 -14 16.9 -24 35.5 -48"/>
<path stroke="#0091ff" d="M2179.9 143.5l-2.8 4.7 -3.4 4 -.7 2 -3.6 4 -.6 2 -3.6 4 -.6 2 -3.5 4 -2 4 -1.9 2 -2.2 4 -3.5 4 -.7 2 -3.5 4 -.6 2 -3.5 4 -.8 2 -3.3 4 -2.1 4 -3.4 4 -.8 2 -7.6 10 -.9 2 -3.2 4 -2.2 4 -3.3 4 -.8 2 -7.7 10 -2.1 4 -2 2 -2.2 4 -3.3 4 -.9 2 -7.6 10 -6.4 10 -3.5 4 -.7 2 -3.5 4 -.8 2 -3.5 4 -2.2 4 -3.5 4 -.6 2 -3.6 4 -.6 2 -3.7 4 -2.5 4.4 -3.5 3.6 -.5 2.2 -2 2 -1.9 -.2 1.9 -8 3.6 -8 8.4 -12.7 11.8 -21.3 10.3 -16 26.9 -38 11 -13.6 17.2 -24.4 35.5 -48M2044.1 334.2l1.8 -1.8 .1 3.8 -2.1 2.1 -2 -.1 2.2 -4M2041.5 340.2l.4 -1.8 0 2.1 -.4 -.3"/>
<path stroke="#009cff" d="M2179.9 143.5l-2.8 4.7 -3.5 4 -.6 2 -3.6 4 -.6 2 -3.6 4 -.6 2 -1.4 2 -2.1 2 -2 4 -2 2 -2.1 4 -3.5 4 -.7 2 -3.5 4 -.6 2 -3.6 4 -.7 2 -3.3 4 -2.1 4 -3.4 4 -.8 2 -3.5 4 -.7 2 -3.5 4 -2.1 4 -2 2 -2.1 4 -3.3 4 -.8 2 -7.7 10 -2.2 4 -1.9 2 -2.2 4 -3.4 4 -.8 2 -7.7 10 -6.4 10 -3.4 4 -.8 2 -3.5 4 -.8 2 -3.4 4 -2.2 4 -3.6 4 -.6 2 -3.6 4 -.6 2 -3.6 4 -2.5 4.3 -3.7 3.7 -.2 2 -2.6 2 .7 -6 3.8 -9.5 5 -8.5 3 -4 12.2 -22 10.3 -16 26.9 -38 12.6 -15.9 15.5 -22.1 35.5 -48M2044.5 336.2l1.4 -1.8 0 1.8 -1.4 0M2043.5 338.2l.4 -1 0 1 -.4 0"/>
<path stroke="#00a8ff" d="M2179.9 143.4l-2.9 4.8 -3.4 4 -.7 2 -3.6 4 -.6 2 -3.5 4 -2.1 4 -2 2 -2 4 -2 2 -2.2 4 -3.5 4 -.6 2 -3.5 4 -.7 2 -3.5 4 -.8 2 -3.2 4 -2.1 4 -7.7 10 -2.2 4 -2 2 -2.1 4 -2 2 -2.1 4 -3.4 4 -.8 2 -7.6 10 -6.4 10 -7.6 10 -.8 2 -3.4 4 -2.2 4 -3.4 4 -.8 2 -3.5 4 -.7 2 -3.5 4 -.8 2 -3.5 4 -2.2 4 -3.6 4 -.5 2 -3.7 4 -.5 2 -3.7 4 -2.4 4.2 -3.9 3.8 -.1 2 -.7 0 -.1 -4 2.8 -8.3 5.6 -9.7 3 -4 12 -22 10.2 -16 26.9 -38 12.3 -15.5 15.9 -22.5 35.4 -48"/>
<path stroke="#00b4ff" d="M2179.9 143.4l-2.9 4.8 -3.4 4 -.7 2 -3.6 4 -.6 2 -3.6 4 -2 4 -2.1 2 -2 4 -1.9 2 -2.2 4 -3.5 4 -.7 2 -3.5 4 -.6 2 -3.5 4 -6.2 10 -3.4 4 -.8 2 -3.5 4 -.7 2 -3.4 4 -2.1 4 -2 2 -2.2 4 -3.3 4 -.8 2 -7.7 10 -6.3 10 -7.7 10 -.8 2 -3.4 4 -2.2 4 -3.4 4 -.7 2 -3.6 4 -.7 2 -3.5 4 -.8 2 -3.4 4 -2.2 4 -3.7 4 -.5 2 -3.7 4 -.5 2 -5.3 6 -.7 2.2 -2 2 -1.7 -.2 1.5 -6 1.8 -4 4.4 -7.7 3.1 -4.3 11.9 -22 10.2 -16 25.4 -36 11.4 -14.3 16.7 -23.7 36.9 -50"/>
<path stroke="#00c0ff" d="M2179.9 143.4l-2.9 4.8 -3.5 4 -.6 2 -3.6 4 -.6 2 -3.6 4 -2 4 -2.1 2 -2 4 -1.9 2 -2.2 4 -3.5 4 -.7 2 -3.5 4 -.7 2 -3.4 4 -6.2 10 -3.4 4 -.8 2 -3.5 4 -.7 2 -3.5 4 -2.1 4 -1.9 2 -2.2 4 -3.3 4 -.8 2 -7.7 10 -6.3 10 -7.7 10 -.8 2 -3.4 4 -2.2 4 -3.4 4 -.8 2 -3.5 4 -.7 2 -3.6 4 -.7 2 -4.9 6 -.8 2 -3.7 4 -.4 2 -3.8 4 -.4 2 -5.6 6 -.4 2 -2.1 2 .3 -4 2.2 -6 3.6 -6.7 3.7 -5.3 11.8 -22 10.1 -16 25.3 -36 13.1 -16.6 16.5 -23.4 4.9 -6 30.5 -42"/>
<path stroke="#00cdff" d="M2179.9 143.4l-.9 .8 -2 4 -3.5 4 -.7 2 -3.6 4 -.6 2 -3.5 4 -2 4 -2.1 2 -2 4 -3.4 4 -.7 2 -3.6 4 -.6 2 -3.5 4 -.7 2 -3.5 4 -6.1 10 -3.5 4 -.7 2 -3.5 4 -.8 2 -3.4 4 -2.1 4 -2 2 -2.1 4 -3.4 4 -.8 2 -7.7 10 -2.1 4 -7.6 10 -.8 2 -3.5 4 -.8 2 -3.4 4 -2.1 4 -3.5 4 -.7 2 -3.6 4 -.7 2 -3.5 4 -.7 1.8 -5.1 6.2 -.6 2 -3.9 4 -.3 2 -3.8 4 -.3 1.5 -2 2.7 -3.9 3.8 -.1 1.9 -.4 -1.9 .7 -4 3.9 -8 3.8 -5.4 11.9 -22.6 7.4 -12 19.3 -28 21.4 -28.1 16.8 -23.9 4.9 -6 30.4 -42"/>
<path stroke="#00daff" d="M2179.9 143.4l-1 .8 -2 4 -3.5 4 -.6 2 -3.6 4 -.6 2 -3.6 4 -.6 2 -3.4 4 -2 4 -3.4 4 -.8 2 -3.5 4 -.7 2 -3.4 4 -2.1 4 -2.1 2 -6.2 10 -3.4 4 -.8 2 -3.5 4 -.7 2 -3.4 4 -2.1 4 -2 2 -2.2 4 -3.3 4 -.8 2 -7.7 10 -6.3 10 -7.7 10 -.8 2 -3.4 4 -2.2 4 -3.5 4 -.7 2 -3.6 4 -.6 2 -3.6 4 -2.2 4 -3.6 4 -.6 2 -3.9 4 -.2 2 -3.9 4 -2.2 4.1 -2 2 -.8 -.1 .8 -3.4 3 -6.6 4 -6 11.4 -22 9.9 -16 16.6 -24 21.1 -27.7 17.1 -24.3 5 -6 30.3 -42"/>
<path stroke="#02e8f5" d="M2179.9 143.3l-1 .9 -2 4 -3.5 4 -.6 2 -3.7 4 -.5 2 -3.6 4 -.7 2 -3.4 4 -2 4 -3.4 4 -.7 2 -3.6 4 -.6 2 -3.5 4 -2.1 4 -2 2 -2.1 4 -1.9 2 -2.2 4 -3.5 4 -.7 2 -3.5 4 -.8 2 -3.3 4 -6.3 10 -3.4 4 -.8 2 -7.6 10 -2.1 4 -7.7 10 -.8 2 -3.5 4 -.8 2 -3.3 4 -2.2 4 -3.6 4 -.6 2 -3.6 4 -.7 2 -3.6 4 -2.5 4.4 -3.4 3.6 -.4 2 -4 4 -.2 2 -4 4.6 -1.8 -.6 1.5 -4 3 -4 11.3 -22.4 9.4 -15.6 19.3 -28 19.3 -25.3 17.4 -24.7 4.9 -6 30.3 -42M2057.4 316.2l.5 -1.4 0 3.4 -.8 0 .3 -2"/>
<path stroke="#0df6ea" d="M2179.9 143.3l-1 .9 -2 4 -3.6 4 -.5 2 -3.7 4 -.6 2 -3.5 4 -2 4 -2.1 2 -2 4 -3.4 4 -.7 2 -3.6 4 -.6 2 -3.5 4 -2.1 4 -2 2 -2.1 4 -3.3 4 -.8 2 -3.5 4 -.7 2 -3.5 4 -.8 2 -3.4 4 -6.2 10 -3.4 4 -.8 2 -7.7 10 -2.1 4 -1.9 2 -2.3 4 -7.7 10 -.8 2 -3.4 4 -2.2 4 -3.6 4 -.6 2 -3.6 4 -.6 2 -3.6 4 -2.2 4 -3.8 4 -.4 2 -4 4 -.1 1.6 -4 4.5 -.4 -.1 .4 -2.1 2.9 -3.9 3.1 -7.9 8.3 -16.1 10.8 -18 17.9 -26 19 -24.8 16.3 -23.2 6.3 -8 30.2 -42"/>
<path stroke="#19ffde" d="M2179.9 143.3l-2.3 2.9 -.8 2 -3.5 4 -.6 2 -3.6 4 -.6 2 -3.6 4 -1.9 4 -2.1 2 -2 4 -3.5 4 -.7 2 -3.5 4 -.7 2 -3.4 4 -.8 2 -3.4 4 -2 4 -3.4 4 -.8 2 -3.5 4 -.7 2 -3.5 4 -.8 2 -3.3 4 -2.1 4 -3.3 4 -.9 2 -3.4 4 -.7 2 -7.7 10 -2.1 4 -7.7 10 -.8 2 -3.5 4 -.8 2 -4.7 6 -.8 2 -3.7 4 -.5 2 -3.7 4 -.6 2 -3.6 4 -2.2 4 -3.9 4 -.2 2 -2.1 2.1 -.9 -.1 .8 -4 3.8 -8 10.7 -20 5.2 -8 17.8 -26 18.6 -24.4 16.5 -23.6 6.4 -8 30.2 -42"/>
<path stroke="#25ffd2" d="M2179.9 143.3l-2.4 2.9 -.7 2 -3.6 4 -.5 2 -3.7 4 -.6 2 -3.5 4 -2 4 -2.1 2 -1.9 4 -3.5 4 -.7 2 -3.6 4 -.6 2 -3.5 4 -.7 2 -3.4 4 -2.1 4 -3.3 4 -.8 2 -7.7 10 -.8 2 -3.3 4 -2.2 4 -3.3 4 -.8 2 -3.4 4 -.8 2 -7.6 10 -2.1 4 -7.8 10 -.7 2 -3.5 4 -2.3 4 -3.3 4 -.7 2 -3.8 4 -.5 2 -3.7 4 -.5 1.9 -5.3 6.1 -.7 2.2 -3.8 3.8 -.2 2 -1.5 0 .3 -2 3.2 -7.2 10.8 -20.8 14.6 -22 15.7 -22 10.9 -13.9 16.8 -24.1 6.3 -8 30.3 -42"/>
<path stroke="#31ffc6" d="M2179.9 143.2l-2.5 3 -.6 2 -3.6 4 -.5 2 -3.7 4 -.6 2 -3.5 4 -2 4 -2.1 2 -2 4 -3.5 4 -.6 2 -3.6 4 -.6 2 -3.5 4 -.8 2 -3.3 4 -2.1 4 -3.4 4 -.7 2 -7.8 10 -.8 2 -3.3 4 -2.1 4 -3.4 4 -.7 2 -3.5 4 -.7 2 -7.7 10 -2.1 4 -7.7 10 -.8 2 -3.5 4 -2.2 4 -3.4 4 -.7 2 -3.8 4 -.4 2 -3.8 4 -.4 1.6 -2 2.7 -3.5 3.7 -.5 2.1 -2 2.1 -1.3 -.2 3.3 -7.8 9.3 -18.2 15.8 -24 14.3 -20 12.6 -16.3 15.1 -21.7 6.3 -8 30.2 -42M2067.8 302.2l.1 .8 -.1 -.8"/>
<path stroke="#3effb9" d="M2179.9 143.2l-2.5 3 -.7 2 -3.6 4 -.5 2 -3.7 4 -.6 2 -1.4 2 -2.1 2 -1.9 4 -2.1 2 -2 4 -3.5 4 -.7 2 -3.6 4 -.6 2 -3.5 4 -2 4 -2.1 2 -2 4 -3.4 4 -.8 2 -7.7 10 -.8 2 -3.3 4 -2.1 4 -3.4 4 -.8 2 -3.4 4 -.8 2 -7.6 10 -2.1 4 -7.8 10 -.7 2 -3.5 4 -2.2 4 -3.5 4 -.6 2 -3.9 4 -.4 2 -3.8 4 -2.3 4.2 -3.8 3.8 -.2 2.1 -1.5 -.1 1.4 -4 9.9 -20 15.7 -24 12.8 -18 13.7 -17.8 16.9 -24.2 4.8 -6 30.2 -42"/>
<path stroke="#4bffac" d="M2179.9 143.2l-2.6 3 -.6 2 -3.7 4 -.4 2 -3.7 4 -.6 2 -1.4 2 -2.1 2 -1.9 4 -2.1 2 -2 4 -3.6 4 -.6 2 -3.6 4 -.6 2 -3.5 4 -2 4 -2.1 2 -2.1 4 -3.4 4 -.7 2 -3.6 4 -.6 2 -3.6 4 -.8 2 -3.3 4 -2.1 4 -3.4 4 -.7 2 -3.5 4 -.7 2 -7.7 10 -2.1 4 -3.5 4 -.7 2 -3.6 4 -.7 2 -3.5 4 -2.2 4 -3.6 4 -.5 2 -3.9 4 -.3 2 -5.5 6 -.6 2.1 -2 2.1 -1.1 -.2 9.4 -20 16.9 -26 11.4 -16 13.4 -17.4 17.1 -24.6 4.9 -6 30.1 -42M2071.9 298.2l0 -.4 0 .4"/>
<path stroke="#58ff9f" d="M2179.9 143.1l-2.7 3.1 -.5 2 -3.7 4 -.5 2 -3.7 4 -.5 2 -1.4 2 -2.1 2 -2 4 -3.4 4 -.7 2 -3.5 4 -.6 2 -3.7 4 -.6 2 -3.4 4 -2 4 -2.1 2 -2.1 4 -3.5 4 -.6 2 -3.6 4 -.7 2 -3.5 4 -6.2 10 -3.5 4 -.7 2 -3.4 4 -.8 2 -7.6 10 -2.1 4 -3.6 4 -.6 2 -3.6 4 -.7 2 -3.6 4 -2.1 4 -3.7 4 -.4 2 -4 4 -.3 2 -4 4.6 -1.6 -.6 3.1 -6 2.5 -6.4 14.9 -23.6 79.4 -110M2075.5 290.2l.4 -1 0 3 -1.1 0 .7 -2"/>
<path stroke="#66ff91" d="M2179.9 143.1l-2.8 3.1 -.5 2 -3.7 4 -.4 2 -3.7 4 -.6 2 -3.5 4 -1.9 4 -3.4 4 -.7 2 -3.6 4 -.6 2 -3.6 4 -.6 2 -3.5 4 -2 4 -2.1 2 -2 4 -3.5 4 -.7 2 -3.6 4 -.6 2 -3.5 4 -2.1 4 -3.3 4 -.8 2 -3.5 4 -.7 2 -3.5 4 -.7 2 -7.7 10 -2 4 -3.6 4 -.7 2 -3.6 4 -.7 2 -3.5 4 -2.2 4 -3.7 4 -.4 2 -4 4 -.2 1.5 -2 2.6 -1.9 -.1 2.3 -4 2 -6 4.5 -8 14.4 -22 22.7 -30.5 16.3 -23.5 36.2 -50M2077.3 288.2l.6 -1.7 0 1.9 -.6 -.2"/>
<path stroke="#74ff82" d="M2179.9 143.1l-2.9 3.1 -.4 2 -3.7 4 -.4 2 -3.8 4 -.5 2 -3.5 4 -1.9 4 -2.2 2 -1.9 4 -3.7 4 -.5 2 -3.7 4 -.6 2 -3.4 4 -2 4 -3.4 4 -.8 2 -3.5 4 -.6 2 -3.6 4 -.7 2 -3.5 4 -2.1 4 -3.3 4 -.8 2 -3.5 4 -.6 2 -3.6 4 -.7 2 -3.4 4 -2.3 4 -3.3 4 -.7 2 -3.6 4 -.6 2 -3.7 4 -.6 1.9 -5.1 6.1 -.6 2 -3.9 4 -.2 2 -4.2 4.5 -.5 -.5 .3 -2 2.3 -6 3.3 -6 13 -20 8.3 -12 15.3 -20.1 16.5 -23.9 36.2 -50M2079.3 286.2l.6 -1.3 0 1.3 -.6 0"/>
<path stroke="#83ff74" d="M2179.9 143l-3 3.2 -.3 2 -3.8 4 -.4 2 -3.7 4 -.6 2 -3.5 4 -1.9 4 -2.1 2 -1.4 2 -.6 2 -3.6 4 -.6 2 -3.6 4 -.6 2 -3.5 4 -1.9 4 -3.5 4 -.7 2 -3.6 4 -.6 2 -3.6 4 -.6 2 -3.5 4 -2.1 4 -3.4 4 -.7 2 -3.6 4 -.6 2 -3.5 4 -.7 2 -3.5 4 -2.2 4 -3.4 4 -.6 2 -3.7 4 -.6 2 -3.7 4 -.5 1.7 -5.3 6.3 -.5 2 -3.9 4 -.2 2 -2.1 2.1 -1.2 -.1 1 -4 4.1 -8 14.1 -21.8 22 -29.8 16.8 -24.4 36.1 -50"/>
<path stroke="#92ff65" d="M2179.9 143l-3.1 3.2 -.3 2 -3.8 4 -.3 2 -3.8 4 -.5 2 -3.5 4 -1.9 4 -3.6 4 -.5 2 -3.7 4 -.5 2 -3.7 4 -.6 2 -3.4 4 -2 4 -3.5 4 -.6 2 -3.6 4 -.6 2 -3.6 4 -.7 2 -3.5 4 -2 4 -3.5 4 -.6 2 -3.6 4 -.6 2 -3.6 4 -.7 2 -9.1 12 -.6 2 -3.7 4 -.5 2 -3.7 4 -2.5 4.3 -3.5 3.7 -.3 2 -4 4 -.1 2 -2 0 4.5 -10 18 -28 19.4 -26 15.1 -22 36 -50M2083.8 280.2l.1 -1.1 -.1 1.1"/>
<path stroke="#a2ff55" d="M2179.9 143l-3.2 3.2 -.2 2 -3.8 4 -.4 2 -3.7 4 -.6 2 -3.5 4 -1.8 4 -3.7 4 -.5 2 -3.7 4 -.5 2 -3.6 4 -.6 2 -3.4 4 -2 4 -3.6 4 -.6 2 -3.6 4 -.5 2 -3.7 4 -.6 2 -3.5 4 -2.1 4 -3.5 4 -.6 2 -3.6 4 -.6 2 -3.5 4 -.7 2 -3.5 4 -2.2 4 -3.5 4 -.5 2 -3.8 4 -.5 2 -3.7 4 -2.4 4.3 -3.7 3.7 -.2 2 -2.1 2.2 -1.3 -.2 1.6 -4 5.6 -10 13.1 -20 17 -22.8 17.3 -25.2 36 -50M2085.7 276.2l.2 2 -.4 0 .2 -2"/>
<path stroke="#b2ff45" d="M2179.9 142.9l-3.3 3.3 -.2 2 -3.8 4 -.3 2 -3.8 4 -1.8 4 -3.5 4 -.6 2 -3.7 4 -.4 2 -3.7 4 -.5 2 -3.7 4 -.6 2 -3.4 4 -1.9 4 -3.7 4 -.5 2 -3.7 4 -.5 2 -3.6 4 -.7 2 -3.5 4 -2 4 -3.6 4 -.5 2 -3.7 4 -.5 2 -3.6 4 -.7 2 -5 6 -.7 2 -3.6 4 -.4 2 -3.8 4 -.4 2 -5.4 6 -.6 2 -2.1 2.3 -1.8 -.3 4.2 -8 12.9 -20 16.7 -22.3 17.6 -25.7 35.9 -50M2089.1 270.2l.8 -1.6 0 3.7 -1.6 -.1 .8 -2"/>
<path stroke="#c2ff35" d="M2179.9 142.9l-3.4 3.3 -.1 2 -3.9 4 -.3 2 -3.7 4 -1.9 4 -3.6 4 -.4 2 -3.8 4 -.3 2 -3.8 4 -.4 2 -3.8 4 -.5 2 -3.4 4 -2 4 -3.7 4 -.4 2 -3.7 4 -.5 2 -3.7 4 -.6 2 -5 6 -.6 2 -3.6 4 -.5 2 -3.7 4 -.5 2 -3.6 4 -.6 2 -5.1 6 -.6 2 -3.7 4 -.3 2 -3.9 4 -.4 2 -5.6 6 -.4 2.1 -1.7 -.1 1.7 -4.2 4.6 -7.8 9.1 -14 16.3 -21.9 16.5 -24.1 37.2 -52M2091.2 268.2l.7 -1.4 0 1.5 -.7 -.1M2089.6 272.2l.3 -1 -.3 1"/>
<path stroke="#d3ff24" d="M2179.9 142.9l-2 2.2 -1.6 -.9 1.5 -2M2175 146.2l.9 -1.2 .5 1.2 0 2 -2.5 2.8 -1.7 -.8 2.8 -4M2170.7 152.2l1.2 -1.5 .5 1.5 -.2 2 -3.8 4 -1.8 4 -3.8 4 -.2 2 -3.9 4 -.3 2 -3.8 4 -.4 2 -3.7 4 -.6 2 -3.4 4 -1.9 4 -3.8 4 -.4 2 -3.7 4 -.5 2 -3.7 4 -.6 2 -5 6 -.5 2 -3.8 4 -.3 2 -3.8 4 -.4 2 -3.7 4 -.5 1.8 -2 2.8 -3.3 3.4 -.5 2 -3.7 4 -.3 2 -3.9 4 -.3 1.6 -4 4.9 -1.4 -.5 4.4 -8 9.1 -14 15.9 -21.4 16.7 -24.6 30.1 -42M2093.7 264.2l.2 2 -.6 0 .4 -2"/>
<path stroke="#e4ff12" d="M2176.5 144.2l1.4 -1.9 .4 1.9 -.4 .8 -1.4 -.8M2179.9 142.8l-1.9 -.6M2175.1 146.2l.8 -1 .4 1 -.4 2.4 -2 -.4 1.2 -2M2172.3 150.2l1.6 -2 .5 2 -.5 .8 -1.6 -.8M2170.8 152.2l1.1 -1.3 .5 1.3 -.3 2 -2.2 2.8 -1.8 -.8 2.7 -4M2166.6 158.2l1.3 -1.7 .4 1.7 -1.7 4 -.7 .7 -2 -.7 2.7 -4M2162.4 164.2l1.5 -1.9 .4 1.9 -.4 1.1 -1.2 .9 -.2 2 -3.9 4 -.2 2 -3.9 4 -.3 2 -3.8 4 -1.9 4 -3.4 4 -.6 2 -3.8 4 -.3 2 -3.8 4 -.4 2 -3.7 4 -.6 1.9 -1.5 2.1 -3.7 4 -.3 2 -3.9 4 -.3 2 -3.8 4 -.4 2 -3.6 4 -2.5 4.5 -3.5 3.5 -.3 2 -3.8 4 -.2 2 -4 4 -.2 1.1 -1.5 .9 -.5 2.1 -1.6 -.1 3.1 -6 5.7 -8 3.3 -6 15.5 -21 18.4 -27 20.1 -28M2095.3 262.2l.6 -1.3 0 1.5 -.6 -.2"/>
<path stroke="#f6f600" d="M2176.6 144.2l1.3 -1.7 .4 1.7 -.4 .8 -1.3 -.8M2179.9 142.8l-1.8 -.6M2175.3 146.2l.6 -.7 .3 .7 -.3 2.4 -1.8 -.4 1.2 -2M2172.4 150.2l1.5 -1.8 .5 1.8 -.5 .7 -1.5 -.7M2171 152.2l.9 -1.1 .2 3.1 -2.2 2.7 -1.7 -.7 2.8 -4M2166.8 158.2l1.1 -1.4 .4 1.4 -.4 1.4 -1.1 -1.4M2165.5 160.2l.4 -.5 .7 .5 -.1 2 -.6 .7 -1.8 -.7 1.4 -2M2162.6 164.2l1.3 -1.7 .4 1.7 -.4 1 -1.3 -1M2161.2 166.2l.7 -.9 .6 .9 0 2 -4 4 -.2 2 -3.9 4 -.3 2 -2.2 2.7 -1.9 -.7 11.2 -16M2148.5 184.2l1.4 -1.9 .4 1.9 -.4 1.6 -5 6.4 -.4 2 -3.9 4 -.3 2 -3.8 4 -.4 2 -3.7 4 -2.1 4 -3.8 4 -.2 2 -2.4 2.7 -1.9 -.7 26.5 -38M2120.5 224.2l1.4 -1.8 .5 1.8 -.2 2 -3.9 4 -.3 2 -3.7 4 -2.1 4 -4 4 -.2 2 -2.1 2.3 -1.7 -.3 4.6 -8 11.7 -16M2102.5 250.2l1.4 -1.7 .1 3.7 -2.1 2.3 -1.9 -.3 2.5 -4M2099.1 256.2l.8 -1.8 0 2.4 -.8 -.6M2097.3 260.2l.6 -1.2 0 1.2 -.6 0"/>
<path stroke="#ffe100" d="M2176.7 144.2l1.2 -1.5 .3 1.5 -.3 .7 -1.2 -.7M2179.9 142.7l-1.7 -.5M2175.5 146.2l.4 -.5 .2 .5 -.2 2.3 -1.5 -.3 1.1 -2M2172.6 150.2l1.3 -1.6 .4 1.6 -.4 .6 -1.3 -.6M2171.2 152.2l.7 -.9 .1 2.9 -2 0 1.2 -2M2168.3 156.2l1.6 -2 .5 2 -.5 .7 -1.6 -.7M2167 158.2l.9 -1.2 0 2.4 -.9 -1.2M2165.8 160.2l.3 0 .4 2 -.6 .6 -1.7 -.6 1.6 -2M2162.7 164.2l1.2 -1.5 .3 1.5 -.3 .9 -1.2 -.9M2161.4 166.2l.5 -.6 .4 .6 .1 2 -.5 .6 -1.9 -.6 1.4 -2M2158.5 170.2l1.4 -1.8 .4 1.8 -.4 .8 -1.4 -.8M2157 172.2l.9 -1.1 .4 3.1 -2.4 2.8 -1.7 -.8 2.8 -4M2152.8 178.2l1.1 -1.5 .5 1.5 -.4 2 -2.1 2.7 -1.8 -.7 2.7 -4M2148.7 184.2l1.2 -1.6 .4 1.6 -.4 1.4 -1 .6 -.5 2 -3.7 4 -.2 2 -4 4 -.2 2 -2.4 2.7 -2 -.7 12.8 -18M2134.4 204.2l1.5 -2 .5 2 -.3 2 -3.8 4 -2.4 4.5 -2 -.5 6.5 -10M2126.5 216.2l1.4 -2 0 2.8 -1.4 -.8M2125.1 218.2l.8 -1 .4 3 -2.4 2.6 -1.6 -.6 2.8 -4M2120.8 224.2l1.1 -1.4 .2 3.4 -2.2 2.5 -1.9 -.5 2.8 -4M2116.5 230.2l1.4 -1.8 .3 1.8 -.3 2 -3.7 4 -.3 1.1 -1.2 .9 -.5 2 -2.3 2.5 -1.6 -.5 .9 -2 7.3 -10M2107.4 244.2l.5 -1 .1 3 -1.6 0 1 -2M2104.9 248.2l1 -1.4 0 1.6 -1 -.2M2103.2 250.2l.7 -.9 .1 2.9 -2.1 2.2 -1.3 -.2 2.6 -4"/>
<path stroke="#ffcb00" d="M2176.9 144.2l1 -1.3 0 1.9 -1 -.6M2179.9 142.7l-1.5 -.5M2175.7 146.2l.5 2 -1.6 0 1.1 -2M2172.7 150.2l1.2 -1.4 .4 1.4 -.4 .6 -1.2 -.6M2171.4 152.2l.5 -.6 .2 .6 -.2 2.1 -1.2 -.1 .7 -2M2168.4 156.2l1.5 -1.8 .5 1.8 -.5 .6 -1.5 -.6M2167.2 158.2l.7 -.9 0 1.8 -.7 -.9M2164.3 162.2l1.6 -1.9 .5 1.9 -.5 .6 -1.6 -.6M2162.9 164.2l1 -1.2 0 1.9 -1 -.7M2161.6 166.2l.5 0 .3 2 -.5 .5 -1.7 -.5 1.4 -2M2158.6 170.2l1.3 -1.6 .3 1.6 -.3 .7 -1.3 -.7M2157.2 172.2l.7 -.8 .3 2.8 -2.3 2.7 -1.6 -.7 2.9 -4M2153 178.2l.9 -1.3 .4 1.3 -.3 2 -2.1 2.6 -1.6 -.6 2.7 -4M2148.9 184.2l1 -1.3 0 2.5 -1 -1.2M2147.5 186.2l.4 -.5 .6 .5 -.1 2 -.5 .6 -1.9 -.6 1.5 -2M2144.4 190.2l1.5 -1.8 .4 1.8 -1.7 2 -.2 2 -2.5 2.8 -1.6 -.8 4.1 -6M2138.9 198.2l1 -1.4 .3 3.4 -2.3 2.7 -1.8 -.7 2.8 -4M2134.7 204.2l1.2 -1.7 .4 1.7 -.3 2 -2.1 2.6 -1.8 -.6 2.6 -4M2130.7 210.2l1.2 -1.7 .3 1.7 -.3 1.2 -1.2 -1.2M2129.5 212.2l.4 -.6 .6 .6 -.6 2.4 -1.8 -.4 1.4 -2M2126.8 216.2l1.1 -1.6 0 2.2 -1.1 -.6M2125.4 218.2l.5 -.6 .3 .6 0 2 -.3 .4 -1.8 -.4 1.3 -2M2122.6 222.2l1.3 -1.7 0 2.2 -1.3 -.5M2121.2 224.2l.7 -1 .2 3 -2.2 2.4 -1.5 -.4 2.8 -4M2116.9 230.2l1 -1.3 0 3 -2 2.7 -1.9 -.4 2.9 -4M2112.5 236.2l1.4 -1.9 0 2.7 -1.4 -.8M2111.1 238.2l.8 -1.1 .5 1.1 -.3 2 -2.2 2.4 -1.1 -.4 2.3 -4M2107.1 246.2l.8 -1.8 0 1.8 -.8 0M2105.6 248.2l.3 -.4 -.3 .4M2103.8 250.2l.1 2 -1.2 0 1.1 -2M2101.2 254.2l.7 -1.3 0 1.3 -.7 0"/>
<path stroke="#ffb400" d="M2177.1 144.2l.8 -1.1 0 1.6 -.8 -.5M2179.9 142.6l-1.4 -.4M2174.8 148.2l1.1 -1.9 .2 1.9 -1.3 0M2172.8 150.2l1.1 -1.3 0 1.8 -1.1 -.5M2171.6 152.2l.3 -.4 .1 .4 -.1 2 -.5 0 .2 -2M2168.5 156.2l1.4 -1.7 .4 1.7 -.4 .6 -1.4 -.6M2167.4 158.2l.5 -.7 0 1.4 -.5 -.7M2164.4 162.2l1.5 -1.8 .5 1.8 -.5 .6 -1.5 -.6M2163.1 164.2l.8 -1 0 1.6 -.8 -.6M2161.9 166.2l.4 2 -.4 .5 -1.6 -.5 1.6 -2M2158.8 170.2l1.1 -1.4 0 2 -1.1 -.6M2157.4 172.2l.5 -.6 .2 .6 .1 2 -2.1 0 1.3 -2M2154.5 176.2l1.4 -1.8 .4 1.8 -.4 .6 -1.4 -.6M2153.2 178.2l.7 -1 0 3.1 -1.4 -.1 .7 -2M2150.4 182.2l1.5 -1.9 .4 1.9 -.4 .5 -1.5 -.5M2149.1 184.2l.8 -1 0 1.9 -.8 -.9M2147.7 186.2l.4 0 .3 2 -.5 .5 -1.7 -.5 1.5 -2M2144.6 190.2l1.3 -1.6 .3 1.6 -.3 .9 -1.3 -.9M2143.2 192.2l.7 -.9 .5 .9 0 2 -.5 .5 -2 -.5 1.3 -2M2140.5 196.2l1.4 -1.9 0 2.6 -1.4 -.7M2139.1 198.2l.8 -1 .3 3 -2.3 2.6 -1.6 -.6 2.8 -4M2134.9 204.2l1 -1.3 .1 3.3 -2.1 2.5 -1.6 -.5 2.6 -4M2131 210.2l.9 -1.3 0 2.2 -.9 -.9M2129.7 212.2l.5 2 -.3 .4 -1.5 -.4 1.3 -2M2127 216.2l.9 -1.2 0 1.7 -.9 -.5M2125.8 218.2l.4 2 -1.9 0 1.5 -2M2122.9 222.2l1 -1.3 0 1.7 -1 -.4M2121.5 224.2l.4 -.5 .1 .5 0 2 -1.6 0 1.1 -2M2118.7 228.2l1.2 -1.6 0 1.9 -1.2 -.3M2117.3 230.2l.6 -.8 0 1.8 -.6 -1M2115.8 232.2l.1 2.3 -1.5 -.3 1.4 -2M2112.9 236.2l1 -1.3 0 1.9 -1 -.6M2111.5 238.2l.4 -.5 .2 .5 0 2 -2 0 1.4 -2M2109.3 242.2l.6 -1.4 .1 1.4 -.7 0"/>
<path stroke="#ff9d00" d="M2177.2 144.2l.7 -.9 0 1.3 -.7 -.4M2179.9 142.6l-1.2 -.4M2175.1 148.2l.8 -1.5 .2 1.5 -1 0M2173 150.2l.9 -1.1 0 1.5 -.9 -.4M2171.8 152.2l.1 1.3 -.1 -1.3M2168.7 156.2l1.2 -1.5 .4 1.5 -.4 .5 -1.2 -.5M2167.6 158.2l.3 -.4 0 .8 -.3 -.4M2164.5 162.2l1.4 -1.6 .4 1.6 -.4 .5 -1.4 -.5M2163.3 164.2l.6 -.8 0 1.3 -.6 -.5M2160.5 168.2l1.4 -1.8 .4 1.8 -.4 .4 -1.4 -.4M2159 170.2l.9 -1.1 0 1.6 -.9 -.5M2157.6 172.2l.4 0 .1 2 -1.7 0 1.2 -2M2154.6 176.2l1.3 -1.6 .3 1.6 -.3 .5 -1.3 -.5M2153.4 178.2l.5 -.7 .2 .7 -.2 2 -.5 -2M2150.6 182.2l1.3 -1.7 .3 1.7 -.3 .5 -1.3 -.5M2149.3 184.2l.6 -.7 0 1.3 -.6 -.6M2146.3 188.2l1.6 -1.9 .4 1.9 -.4 .5 -1.6 -.5M2144.8 190.2l1.1 -1.3 0 2 -1.1 -.7M2143.5 192.2l.4 -.6 .3 .6 .1 2 -.4 .5 -1.8 -.5 1.4 -2M2140.7 196.2l1.2 -1.6 0 2.2 -1.2 -.6M2139.4 198.2l.5 -.7 .2 2.7 -2 0 1.3 -2M2136.5 202.2l1.4 -1.8 0 2.3 -1.4 -.5M2135.1 204.2l.8 -1 0 3 -1.6 0 .8 -2M2132.5 208.2l1.4 -2 .3 2 -.3 .4 -1.4 -.4M2131.2 210.2l.7 -1 0 1.7 -.7 -.7M2128.6 214.2l1.3 -1.8 .2 1.8 -1.5 0M2127.3 216.2l.6 -.8 0 1.1 -.6 -.3M2124.6 220.2l1.3 -1.8 .2 1.8 -1.5 0M2123.2 222.2l.7 -.9 0 1.2 -.7 -.3M2121.9 224.2l.1 2 -1 0 .9 -2M2119.1 228.2l.8 -1.1 0 1.3 -.8 -.2M2117.6 230.2l.3 -.3 0 .7 -.3 -.4M2114.8 234.2l1.1 -1.5 0 1.7 -1.1 -.2M2113.4 236.2l.5 -.7 0 1 -.5 -.3M2110.6 240.2l1.3 -1.9 .1 1.9 -1.4 0"/>
<path stroke="#ff8500" d="M2177.4 144.2l.5 -.7 0 1 -.5 -.3M2179.9 142.6l-1.1 -.4M2175.3 148.2l.6 -1 .1 1 -.7 0M2173.2 150.2l.7 -.9 0 1.3 -.7 -.4M2168.8 156.2l1.1 -1.3 .3 1.3 -.3 .5 -1.1 -.5M2164.7 162.2l1.2 -1.5 .4 1.5 -.4 .5 -1.2 -.5M2163.5 164.2l.4 -.5 0 .8 -.4 -.3M2160.6 168.2l1.3 -1.6 .4 1.6 -.4 .4 -1.3 -.4M2159.2 170.2l.7 -.9 0 1.3 -.7 -.4M2157.9 172.2l.2 2 -1.4 0 1.2 -2M2154.8 176.2l1.1 -1.4 0 1.9 -1.1 -.5M2153.6 178.2l.3 -.4 .1 .4 -.1 1.1 -.3 -1.1M2150.8 182.2l1.1 -1.4 0 1.8 -1.1 -.4M2149.6 184.2l.3 -.4 0 .8 -.3 -.4M2146.5 188.2l1.4 -1.7 .4 1.7 -.4 .4 -1.4 -.4M2145 190.2l.9 -1 0 1.6 -.9 -.6M2143.7 192.2l.6 2 -.4 .4 -1.6 -.4 1.4 -2M2140.9 196.2l1 -1.3 0 1.8 -1 -.5M2139.6 198.2l.5 2 -1.6 0 1.1 -2M2136.7 202.2l1.2 -1.5 0 1.9 -1.2 -.4M2135.4 204.2l.5 -.7 0 2.2 -.5 -1.5M2132.7 208.2l1.2 -1.7 .2 1.7 -.2 .4 -1.2 -.4M2131.5 210.2l.4 -.6 0 1 -.4 -.4M2128.9 214.2l1 -1.5 .2 1.5 -1.2 0M2127.6 216.2l.3 -.4 -.3 .4M2124.9 220.2l1 -1.4 .2 1.4 -1.2 0M2123.5 222.2l.4 -.5 0 .6 -.4 -.1M2121.6 226.2l.3 -.7 -.3 .7M2119.4 228.2l.5 -.6 0 .7 -.5 -.1M2115.2 234.2l.7 -.9 0 1 -.7 -.1M2111.1 240.2l.8 -1.1 .1 1.1 -.9 0"/>
<path stroke="#ff6d00" d="M2177.5 144.2l.4 -.4 0 .6 -.4 -.2M2179.9 142.5l-1 -.3M2175.5 148.2l.4 -.6 .1 .6 -.5 0M2173.3 150.2l.6 -.7 0 1 -.6 -.3M2169 156.2l.9 -1.1 0 1.5 -.9 -.4M2164.8 162.2l1.1 -1.3 .4 1.3 -.4 .4 -1.1 -.4M2160.8 168.2l1.1 -1.4 .3 1.4 -1.4 0M2159.4 170.2l.5 -.7 0 1 -.5 -.3M2157 174.2l.9 -1.5 .1 1.5 -1 0M2155 176.2l.9 -1.2 0 1.6 -.9 -.4M2151 182.2l.9 -1.2 0 1.5 -.9 -.3M2146.7 188.2l1.2 -1.5 .3 1.5 -.3 .4 -1.2 -.4M2145.3 190.2l.6 -.8 0 1.2 -.6 -.4M2142.5 194.2l1.4 -1.9 .3 1.9 -.3 .4 -1.4 -.4M2141.1 196.2l.8 -1 0 1.4 -.8 -.4M2138.9 200.2l1 -1.9 .1 1.9 -1.1 0M2137 202.2l.9 -1.2 0 1.5 -.9 -.3M2135.7 204.2l.2 .7 -.2 -.7M2132.9 208.2l1 -1.3 .2 1.3 -1.2 0M2129.1 214.2l.8 -1.1 .1 1.1 -.9 0M2125.2 220.2l.7 -1 .1 1 -.8 0M2115.7 234.2l.2 -.3 -.2 .3M2111.6 240.2l.3 -.4 -.3 .4"/>
<path stroke="#ff5300" d="M2179.9 142.5l-.8 -.3M2173.5 150.2l.4 -.5 0 .7 -.4 -.2M2169.1 156.2l.8 -1 0 1.3 -.8 -.3M2164.9 162.2l1 -1.1 .3 1.1 -.3 .4 -1 -.4M2161 168.2l.9 -1.2 .3 1.2 -1.2 0M2159.6 170.2l.3 -.4 0 .6 -.3 -.2M2157.3 174.2l.6 -1 .1 1 -.7 0M2155.2 176.2l.7 -.9 0 1.2 -.7 -.3M2151.1 182.2l.8 -1 0 1.3 -.8 -.3M2146.8 188.2l1.1 -1.3 .3 1.3 -1.4 0M2145.5 190.2l.4 -.5 0 .8 -.4 -.3M2142.7 194.2l1.2 -1.6 .3 1.6 -1.5 0M2141.4 196.2l.5 -.7 0 .9 -.5 -.2M2139.3 200.2l.6 -1.2 .1 1.2 -.7 0M2137.2 202.2l.7 -.9 0 1.2 -.7 -.3M2133.2 208.2l.7 -1 .1 1 -.8 0M2129.4 214.2l.5 -.7 .1 .7 -.6 0M2125.5 220.2l.4 -.6 .1 .6 -.5 0"/>
<path stroke="#ff3900" d="M2179.9 142.4l-.6 -.2M2173.6 150.2l.3 -.3 -.3 .3M2169.2 156.2l.7 -.8 0 1.1 -.7 -.3M2165.1 162.2l.8 -1 .3 1 -1.1 0M2161.1 168.2l.8 -1 .2 1 -1 0M2157.6 174.2l.3 -.5 -.3 .5M2155.4 176.2l.5 -.7 0 .9 -.5 -.2M2151.3 182.2l.6 -.7 0 .9 -.6 -.2M2147 188.2l.9 -1 .2 1 -1.1 0M2142.9 194.2l1 -1.4 .2 1.4 -1.2 0M2141.6 196.2l.3 -.4 -.3 .4M2139.7 200.2l.2 -.4 -.2 .4M2137.5 202.2l.4 -.6 0 .8 -.4 -.2M2133.4 208.2l.5 -.7 .1 .7 -.6 0M2129.6 214.2l.3 -.3 -.3 .3"/>
<path stroke="#ff1e00" d="M2179.9 142.3l-.5 -.1M2169.4 156.2l.5 -.6 0 .8 -.5 -.2M2165.2 162.2l.7 -.8 .2 .8 -.9 0M2161.3 168.2l.6 -.7 .2 .7 -.8 0M2155.6 176.2l.3 -.4 -.3 .4M2151.5 182.2l.4 -.5 0 .6 -.4 -.1M2147.2 188.2l.7 -.8 .2 .8 -.9 0M2143.1 194.2l.8 -1.1 .2 1.1 -1 0M2133.7 208.2l.2 -.3 -.2 .3"/>
<path stroke="#eb0300" d="M2179.9 142.3l-.3 -.1M2169.6 156.2l.3 -.4 -.3 .4M2165.4 162.2l.5 -.6 .2 .6 -.7 0M2161.5 168.2l.4 -.5 .1 .5 -.5 0M2147.4 188.2l.5 -.6 .1 .6 -.6 0M2143.3 194.2l.6 -.8 .1 .8 -.7 0"/>
<path stroke="#c80000" d="M2179.9 142.2l-.1 0M2165.5 162.2l.4 -.4 -.4 .4M2147.6 188.2l.3 -.3 -.3 .3M2143.5 194.2l.4 -.5 .1 .5 -.5 0"/>
</g>
<rect x="1348.3" y="150.2" width="825.9" height="709.2" fill="none" stroke="#000" stroke-width="2.8"/>
<path d="M1348.3 859.4v-8.2M1370.83 859.4v-8.2M1389.87 859.4v-8.2M1406.37 859.4v-8.2M1420.92 859.4v-8.2M1433.94 859.4v-15.4M1519.58 859.4v-8.2M1569.68 859.4v-8.2M1605.22 859.4v-8.2M1632.79 859.4v-8.2M1655.32 859.4v-8.2M1674.36 859.4v-8.2M1690.86 859.4v-8.2M1705.41 859.4v-8.2M1718.43 859.4v-15.4M1804.07 859.4v-8.2M1854.17 859.4v-8.2M1889.71 859.4v-8.2M1917.28 859.4v-8.2M1939.81 859.4v-8.2M1958.85 859.4v-8.2M1975.35 859.4v-8.2M1989.9 859.4v-8.2M2002.92 859.4v-15.4M2088.56 859.4v-8.2M2138.66 859.4v-8.2M2174.2 859.4v-8.2M1348.3 859.4h15.4M1348.3 726.14h8.2M1348.3 648.19h8.2M1348.3 592.88h8.2M1348.3 549.98h8.2M1348.3 514.93h8.2M1348.3 485.29h8.2M1348.3 459.62h8.2M1348.3 436.98h8.2M1348.3 416.72h15.4M1348.3 283.46h8.2M1348.3 205.51h8.2M1348.3 150.2h8.2" stroke="#000" stroke-width="2.5" fill="none"/>
<g fill="#000">
<text transform="translate(1396.54 914) scale(1.1 1)" font-size="48.3">10</text><text transform="translate(1452.24 898.9) scale(1.06 1)" font-size="34.5">0</text>
<text transform="translate(1681.03 914) scale(1.1 1)" font-size="48.3">10</text><text transform="translate(1736.73 898.9) scale(1.06 1)" font-size="34.5">1</text>
<text transform="translate(1965.52 914) scale(1.1 1)" font-size="48.3">10</text><text transform="translate(2021.22 898.9) scale(1.06 1)" font-size="34.5">2</text>
<text transform="translate(1254.6 881) scale(1.1 1)" font-size="48.3">10</text><text transform="translate(1310.3 865.9) scale(1.06 1)" font-size="34.5">1</text>
<text transform="translate(1254.6 438.32) scale(1.1 1)" font-size="48.3">10</text><text transform="translate(1310.3 423.22) scale(1.06 1)" font-size="34.5">2</text>
<text x="1717.8" y="985.5" font-size="45.5" font-style="italic">y</text>
<text x="1740.06" y="971.9" font-size="40" font-family="'DejaVu Sans', sans-serif" font-weight="200">+</text>
<text transform="translate(1747.65 996.6) scale(1.27 1)" font-size="32">min</text>
<g transform="translate(1201.1 535.4) rotate(-90)">
<text x="3.8" y="0" font-size="45.5" font-style="italic">y</text>
<text x="26.06" y="-13.6" font-size="40" font-family="'DejaVu Sans', sans-serif" font-weight="200">+</text>
<text transform="translate(33.65 11.1) scale(1.27 1)" font-size="32">max</text>
</g>
<text transform="translate(1145.25 51.5) scale(1.17 1)" font-size="50">(b)</text>
</g>
<rect x="1348.3" y="10.4" width="825.9" height="39.6" fill="url(#jet)" stroke="#000" stroke-width="2.8"/>
<text transform="translate(1371.24 117.7) scale(1.1 1)" text-anchor="middle" font-size="48.3">1</text>
<text transform="translate(1485.95 117.7) scale(1.1 1)" text-anchor="middle" font-size="48.3">2</text>
<text transform="translate(1600.66 117.7) scale(1.1 1)" text-anchor="middle" font-size="48.3">3</text>
<text transform="translate(1715.37 117.7) scale(1.1 1)" text-anchor="middle" font-size="48.3">4</text>
<text transform="translate(1830.08 117.7) scale(1.1 1)" text-anchor="middle" font-size="48.3">5</text>
<text transform="translate(1944.78 117.7) scale(1.1 1)" text-anchor="middle" font-size="48.3">6</text>
<text transform="translate(2059.49 117.7) scale(1.1 1)" text-anchor="middle" font-size="48.3">7</text>
<text transform="translate(2174.2 117.7) scale(1.1 1)" text-anchor="middle" font-size="48.3">8</text>
<path d="M1371.24 50v15.5M1485.95 50v15.5M1600.66 50v15.5M1715.37 50v15.5M1830.08 50v15.5M1944.78 50v15.5M2059.49 50v15.5M2174.2 50v15.5" stroke="#000" stroke-width="2.5" fill="none"/>
</g>
<g>
<g clip-path="url(#clipc)" fill="none" stroke-width="1.6" stroke-linejoin="round">
<path stroke="#000080" d="M2474.2 337.4l4 .1 10 5.4 1 1.1 .4 2 -.1 8 .9 2 5.8 5.8 2.7 4.2 3.3 3.4 10.8 6.6 1.8 2 -.4 10 2.5 10 1.5 2 5.8 4.7 4.6 5.3 -8.1 12 -4.6 10 2.6 10 1.5 2 4 2.9 13 7.1 -7 5.7 -6.8 4.3 -.9 2 4.5 10 -4.8 8.7 -.5 3.3 2.6 6 2 8 1.5 4 1.4 2 .3 2 -2.9 6 -3.6 14 -5.8 12 .1 10 .9 2 1.7 2 7.9 8 5.5 16 3.2 6 -4.3 3.4 -8.6 10.6 -.5 8 7.1 4 6 2.2 4.9 3.8 3.1 7.5 .9 4.5 -11.8 10 4.9 1.7 4 2 1 2.3 -2 2 -4 2 1.4 2 2.1 10 4.3 12 -.7 12 .6 10 2.5 12 -.7 10 1 12 -.5 32 2.1 22 -.6 32 1.1 12 -.4 10 .4 12 -1.3 10 .1 4M3308.8 145.9l-2 2.5 -.4 1.8 -3.8 4 -.3 2 -3.7 4 -.4 2 -3.6 4 -2.1 4 -3.8 4 -.3 2 -3.8 4 -.3 2 -3.7 4 -.6 2 -5.2 6.5 -.4 1.5 -3.8 4 -.3 2 -3.8 4 -.4 2 -3.6 4 -2.1 4 -3.7 4 -.4 2 -3.8 4 -.4 2 -3.6 4 -.7 2 -5 6.3 -.5 1.7 -3.7 4 -.5 2 -3.6 4 -.6 2 -3.5 4 -2.2 4 -3.5 4 -.6 2 -3.6 4 -.6 2 -3.5 4 -2.2 4 -3.4 4 -.7 2 -3.6 4 -.6 2 -3.6 4 -.7 2 -3.3 4 -2.2 4 -3.5 4 -.7 2 -3.5 4 -.7 2 -3.5 4 -2.1 4 -3.4 4 -.8 2 -3.5 4 -.7 2 -3.5 4 -2.2 4 -7.6 10 -.8 2 -3.5 4 -.8 2 -3.4 4 -2.3 4 -3.4 4 -.9 2 -3.5 4 -2.3 4 -3.7 4 -.7 2 -3.6 4 -.7 1.9 -3.4 4.1 -2.2 4 -3.6 4 -.5 2 -3.7 4 -.5 2 -3.6 4 -2.2 4 -3.4 4 -.6 2 -3.7 4 -.4 2 -3.7 4 -.5 1.8 -5.2 6.2 -.6 2 -3.7 4 -.3 2 -3.8 4 -.4 1.8 -5.8 6.2 -.2 2 -2 2 -2 -1.8 -2 -.2 -4.3 -4 .5 -2 -1.2 -4 .2 -2 2.8 -6.3 3 -3.7 1 -2.7 2 -1.3 2 -.2 4 1.3 2 -1.3 2.1 -5.8 -.1 -4 -.9 -2 2.9 -.9 2 -1.4 2.3 -3.7 1.5 -4 0 -4 1.1 -2 5.1 -5 2 -3 4.9 -4 -.1 -6 .6 -2 5.9 -6 2.4 -4 4.3 -3.4 1 -6.6 5.3 -8 -.3 -2.1 -4.3 -3.9 4.3 -8 2 -2.7 6 -.8 2 -4.8 2 -1.3 2 -.6 2 -1.5 3.9 -6.3 .1 -2.4 -2 -3.2 -2 -1.6 -2 -.3 -3 1.5 -3 7 -1.8 -3 .6 -6 1.2 -1.7 8 -.5 6 -1.2 4 .6 2 -1.1 .6 -2.1 1.4 -1.7 .5 -2.3 -1.3 -4 .5 -2 1.5 -2 1 -4 -.8 -2 -1.4 -1.5 -2 -.9 -1.9 -1.6 0 -2 1.4 -2 2.5 -.9 6 1.4 3.6 3.5 2.4 1.3 2 -.8 8 -10.5 .5 -2 3.5 -4.7 .2 -1.3 3.9 -4 -.1 -2.3 -8 -1.2 -.8 -.5 -.6 -2 1 -2 4.4 -3 2 -.3 2 .6 4 2.2 1.5 -1.5 1 -4 -.3 -2 -1.1 -2 -2.3 -2 .4 -2 .8 -.7 6 2.3 4 .3 .7 -3.9 -1 -6 -3.2 -4 -1.5 -4 -1 -1.2 -4 -1.3 -1 -1.5 1 -1.3 14 1.2 4 -1 2 -2.7 2 -.4 2 1.9 2 .3 2 -1.5 2.1 -2.5 1.9 -4 -1.5 -2 -2.5 -1.5 -3.9 1.5 -2.1 2.9 -2 -.2 -2 -4.7 6.9 -2 1.1 -.9 2 -5.7 6 .5 4 2.1 2 -1.2 4 -4.7 .5 -2.1 3.5 -3.7 4 -6.3 0 -1.6 -10 .9 -6 -.6 -1.5 -2.7 -1.7 -6 1.2 -1.2 2 -.2 4 2.5 2 .6 6 -.3 2 -1.1 2 -2.9 4 -2.5 6 -.4 4 -4.5 -3.3 -4 .7 -2 1.9 -2 .7 -2 0 -4.3 -2 -1.2 -8 .7 -1.9 -3.2 .6 -2 1.3 -.9 2 -.5 4 -.7 2 .3 2.1 1.8 1.9 3.6 2 .4 2 -1.3 1.2 -2.7 1.6 -2 7.2 -2.7 4 -3.2 5.7 -8.1 .3 -2.8 -1.9 -1.2M3246.8 196l-.8 .2 .8 -.2M3244.8 196.8l-1.1 1.4 1.1 .5 0 -1.9M3218 204.2l.8 -.6 2.7 .6 .2 2 -2.9 1.1 -1.5 -1.1 .7 -2M3204.8 241.8l-1.2 4.4 1.2 1.5 .7 -1.5 -.7 -4.4M3166.5 288.2l2.3 -1.9 2 -.1 2 1.6 .2 2.4 -2.2 2.8 -2 .1 -2.5 -2.9 .2 -2M3148 310.2l.8 -1.4 1.2 1.4 -1.2 .8 -.8 -.8M3106.8 384.2l6 1.6 .5 2.4 -.5 .5 -6 .2 -1.1 -.7 -.6 -2 1.7 -2M3097 408.2l1.8 -.5 1.1 .5 -1.1 .9 -1.8 -.9M3078.5 428.2l.3 -1.1 .7 1.1 -.7 2.5 -.3 -2.5M3071.6 444.2l1.2 -1.3 0 2.4 -1.2 -1.1M3078.8 456.2l-1.3 2 1.3 .7 0 -2.7M3076.8 459.2l-.4 3 .4 1.2 .5 -1.2 -.5 -3"/>
<path stroke="#000083" d="M2474.2 342.1l4 .2 2.4 1.7 .8 2 0 8 1.4 2 11.4 9.9 7.4 8.1 2.6 2 1.4 2 .7 10 1.9 3 1.5 7 6.5 10.4 2.3 1.6 -2.3 3 -2.8 7 -6.4 12 2 10 7.2 3.6 8 5.9 5.9 2.5 -7.9 4.9 -5.1 5.1 -.9 2 2.9 10 -3.6 12 .6 10 2.3 6 1.1 6 -.8 10 -4.6 10 -1.9 6.2 -1.1 5.8 -1 10 1 2 9.3 10 4.7 10 1.2 12 -4.1 6 -4.1 8 -.8 8 6.9 4.6 10 5.4 1.8 2 .7 10 -2.7 4 -5.8 6 10 3.4 1.2 .6 1.1 2 -1.5 2 -3.6 2 1.6 2 3.3 12 3.9 10 -.6 12 .6 10 2.6 12 -.7 10 1.1 12 -.5 32 2.1 22 -.6 32 1.2 12 -.5 10 .4 12 -1.3 10 .2 4M3308.8 145.9l-2 2.4 -.4 1.9 -3.8 4 -.3 2 -3.7 4 -.5 2 -3.5 4 -2.1 4 -3.8 4 -.3 2 -3.8 4 -.4 2 -3.6 4 -.6 2 -5.2 6.4 -.4 1.6 -3.8 4 -.3 2 -3.8 4 -.4 2 -3.6 4 -2.1 4 -3.7 4 -.4 2 -3.8 4 -.4 2 -3.6 4 -.7 2 -5 6.2 -.5 1.8 -3.7 4 -.5 2 -3.7 4 -.6 2 -3.4 4 -2.2 4 -3.5 4 -.6 2 -3.7 4 -.5 2 -3.5 4 -2.2 4 -3.4 4 -.7 2 -3.6 4 -.6 2 -3.6 4 -.7 2 -3.3 4 -2.2 4 -3.5 4 -.7 2 -3.5 4 -.8 2 -3.4 4 -2.2 4 -3.3 4 -.8 2 -3.5 4 -.8 2 -3.4 4 -2.2 4 -7.7 10 -.8 2 -3.4 4 -6.5 10 -3.5 4 -.8 2 -3.6 4 -2.3 4 -3.7 4 -.6 2 -3.7 4 -.6 1.7 -4.9 6.3 -.7 2 -3.7 4 -.5 2 -3.7 4 -.5 2 -3.6 4 -2.1 4 -3.5 4 -.5 2 -3.8 4 -.4 2 -3.7 4 -2.4 4.3 -3.3 3.7 -.5 2 -3.8 4 -.2 2 -3.9 4 -.3 1.3 -2 2.8 -2 2 -1.5 -.1 1.5 -14.3 2 -3.5 3.2 -2.2 2.9 -10 5.9 -10.3 1.7 -7.7 1.1 -2 4.3 -4 7.2 -8 .3 -6 .7 -2 7 -8 3.7 -2.9 2.2 -9.1 3.8 -6.1 2 -5.9 -3.2 -2 1.2 -2.1 2 -1.4 2 .2 2 -.7 .4 -2 3.6 -4.2 1.2 -3.8 1.2 -2 4.2 -4 3.7 -6 .5 -2 3.4 -4 .2 -2 1.6 -1.1 4 -4.9 4.3 -8 1.7 -1.9 -1.3 -6.1 1.1 -4 6.2 1.7 6 -7.4 9.2 -14.3 2.8 -3.3 2.4 -4.7 3.6 -4.4 4.1 -7.6 4.2 -4 .8 -2 3 -4 .1 -2 3.8 -4.2 2.3 -3.8 3.7 -3.8 .7 -2.2 5.3 -5.5 2.4 -4.5 1.7 -2 0 -2 7.9 -8.6 16 -23.2 0 -2.2 6 -6 4 -5.9 .5 -2.1 1.6 -2 -1.7 -6 1.6 -1.7 4 2.6 2.4 -2.9 .2 -2 -1.3 -2 .4 -2 2.3 -1 2 .2 2 -1.1 1 -2.1 7 -8.3 4.4 -7.7M3262.8 171.3l-1.3 2.9 1.4 0 -.1 -2.9M3232.4 198.2l1.4 0 -1.4 0M3147.9 332.2l.9 -.6 .6 .6 -.6 2 -.9 -2M3072 466.2l.8 -.7 2 2.4 2 .9 1 1.4 -.5 2 -2.5 .9 -4.1 -.9 -.6 -2 1.4 -2 .5 -2"/>
<path stroke="#000087" d="M2474.2 359.6l4 -.8 2 1.3 14 11.9 3.7 4 1 2 -.1 10 1.9 8 3.2 6 6.9 8 -2.9 6 -2.9 8 -4.7 8 1.3 10 1.8 2 10.8 4.9 6.8 5.1 -4.8 5 -8.6 5 -1.2 2 3.5 10 -2.1 10 .1 2 2.5 10 .7 12 -4.9 22.4 -2 5.1 -2.8 4.5 1.2 10 1.2 2 6.4 5.7 3.7 4.3 3.2 12 1.4 8 .2 2 -2.5 6 -1.9 4 -3.4 4 -.6 8 15.8 10 2 2 1.7 4 1.5 6 -4.1 6 -3.7 4 12.4 4 1.9 2 -1 2 -3.3 2 1.8 2 8 22 -.5 12 .8 10 2.6 12 -.7 10 1.1 12 -.5 32 2.2 22 -.5 32 1.1 12 -.4 10 .3 12 -1.2 10 .1 4M3308.8 145.9l-2 2.4 -.4 1.9 -3.8 4 -.3 2 -3.7 4 -.5 2 -3.5 4 -2.1 4 -3.8 4 -.3 2 -3.8 4 -.4 2 -3.6 4 -.7 2 -5.1 6.4 -.4 1.6 -3.8 4 -.3 2 -3.8 4 -.5 2 -3.5 4 -2.1 4 -3.7 4 -.4 2 -3.8 4 -.4 2 -3.6 4 -.7 2 -5 6.2 -.5 1.8 -3.7 4 -.5 2 -3.7 4 -.6 2 -3.4 4 -2.2 4 -3.6 4 -.5 2 -3.7 4 -.5 2 -3.5 4 -2.2 4 -3.4 4 -.7 2 -3.6 4 -.6 2 -3.6 4 -.7 2 -3.3 4 -2.3 4 -3.4 4 -.7 2 -3.6 4 -.7 2 -9 12 -.7 2 -3.5 4 -.8 2 -3.5 4 -2.2 4 -7.6 10 -.8 2 -3.4 4 -6.6 10 -3.4 4 -.8 2 -3.6 4 -2.3 4 -3.8 4 -.6 2 -3.7 4 -2.2 4 -3.3 4 -.7 2 -3.7 4 -.4 2 -3.8 4 -.4 1.8 -5.1 6.2 -.7 2 -3.5 4 -.5 2 -3.9 4 -.3 2 -3.7 4 -2.3 4.3 -3.5 3.7 -.4 2 -3.8 4 -.2 2 -5.7 6 -.4 2 -1 0 0 -8 .8 -4 5.3 -6 1.7 -8 2.1 -4 1.9 -2 2.9 -6 1.1 -8 1.2 -1.7 5.1 -4.3 6.7 -8 .1 -6 .8 -2 9.8 -10 2.4 -10 4.6 -8 1.4 -6 3.1 -3.3 4 -6 3.4 -6.7 3.6 -4 5.7 -10 7.3 -9.5 5 -8.5 3.1 -4 .3 -2 5.7 -6 5.9 -8 4.8 -8 7.2 -9.9 .9 -2.1 3.3 -4 4.7 -8 5.1 -6 4.6 -8 3.4 -3.7 1.1 -2.3 8.9 -11.1 4.4 -6.9 .6 -2 7 -8 14.2 -20 3.1 -6 5.1 -6 6.3 -10 5.3 -6.3 2.2 -3.7 .3 -2 3.5 -3.4 8 -10.2 5.1 -8.4"/>
<path stroke="#00008b" d="M2474.2 366.9l4 -1.5 2 .8 2 1.5 9.3 10.3 2.3 10 1 10 6.2 12 -.9 10 -3.9 5 -2.5 7 1.9 10 1.6 2 5 3.6 8 2.9 5.1 3.5 -5.1 4.2 -8 4.3 -1.3 1.5 -.6 2 3 10 -2.6 12 3.5 17.9 .3 4.1 -2.6 10 -1.5 10 -3.2 8 -3.2 14 1.2 2 12.2 10 1.8 10 1 12 -4 7.7 -5.3 6.3 .8 8 6.5 2.9 8 5 3 2.1 3.3 4 3.7 8 -2.5 4 -5.3 6 13.8 4 2.7 2 -.5 2 -2.9 2 2.7 3.4 8.3 20.6 -.4 12 .9 10 2.7 12 -.8 10 1.1 12 -.4 32 2.2 22 -.5 32 1.1 12 -.4 10 .3 12 -1.2 10 .1 4M3308.8 145.9l-2 2.3 -.4 2 -3.9 4 -.2 2 -3.7 4 -.5 2 -3.5 4 -2.1 4 -3.8 4 -.4 2 -3.7 4 -.4 2 -3.6 4 -.7 2 -5.1 6.3 -.4 1.7 -3.8 4 -.4 2 -3.7 4 -.5 2 -3.5 4 -2.1 4 -3.7 4 -.4 2 -3.8 4 -.4 2 -3.6 4 -2.2 4 -3.5 4.1 -.6 1.9 -3.6 4 -.5 2 -3.7 4 -.6 2 -3.4 4 -2.2 4 -3.6 4 -.6 2 -3.6 4 -.6 2 -3.4 4 -2.2 4 -3.4 4 -.7 2 -3.6 4 -.6 2 -3.6 4 -.8 2 -3.2 4 -2.3 4 -3.5 4 -.6 2 -3.6 4 -.7 2 -9 12 -.8 2 -3.5 4 -.8 2 -3.4 4 -2.2 4 -7.6 10 -.8 2 -3.4 4 -6.6 10 -3.4 4 -.9 2 -3.6 4 -2.3 4 -3.7 4 -.6 2 -3.8 4 -2.1 4 -3.5 4 -.5 2 -3.9 4 -.3 2 -3.7 4 -.4 1.4 -2 2.9 -3.3 3.7 -.5 2 -3.7 4 -.3 2 -4 4 -.2 1.8 -3.7 4.2 -2.3 4.2 -3.7 3.8 -.2 2 -4 4 -.1 2 -4 4.2 -.8 -.2 -.1 -6 .8 -2 4.1 -4.1 .9 -1.9 .7 -6 1.8 -4 4.7 -4 1.6 -6 .2 -8 2.1 -2 4 -2.3 7.3 -9.7 -.1 -6 .8 -1.9 5.2 -4.1 3.3 -4 1.5 -3.1 1.7 -8.9 3.5 -6 3.1 -8 5.7 -8.6 2.6 -5.4 4.8 -6 5.9 -10 6.7 -9 10.6 -17 3.8 -4 5.6 -7.6 18.9 -28.4 7.4 -10 4.8 -8 12.9 -16.6 7.2 -11.4 5.1 -6 14.2 -20 4.9 -8 4.6 -5.6 5.4 -8.4 4.9 -6 3.3 -6 10.4 -13 5.8 -9"/>
<path stroke="#00008f" d="M2474.2 372.1l4 -.4 4.1 4.3 1 2 1.5 10 1.4 3.8 5.3 12.2 3.9 6 -7.4 12 -3.5 10 1.6 10 2.7 2 7.4 3.8 6 4.2 7.5 2 -7.5 2.6 -6.4 7.4 -1 2 -.7 10 -1.6 12 .9 10 4.1 10 -.1 2 -4.7 10 -1.4 12 -3.1 4.2 -2.8 5.8 .1 10 .9 2 1.8 1.8 10.1 8.2 2.7 12 1.2 10 -5.6 10 -2.8 4 -.7 8 11.1 4.7 8.3 5.3 1.7 2 5.4 10 -6.9 10 13.5 3 2.6 1 3 2 .1 2 -2.3 2 2.1 2 2.2 4 7.7 18 -.2 12 .9 10 2.8 12 -.8 10 1.2 12 -.4 32 2.2 22 -.5 32 1.1 12 -.4 10 .4 12 -1.3 10 .1 4M3308.8 145.9l-2 2.3 -.4 2 -3.9 4 -.2 2 -3.7 4 -.5 2 -3.5 4 -2.2 4 -3.7 4 -.4 2 -3.8 4 -.3 2 -3.6 4 -.7 2 -5.1 6.3 -.4 1.7 -3.8 4 -.4 2 -3.7 4 -.5 2 -3.5 4 -2.1 4 -3.7 4 -.4 2 -3.8 4 -.5 2 -3.5 4 -2.2 4 -3.5 4.1 -.6 1.9 -3.6 4 -.6 2 -3.6 4 -.7 2 -3.3 4 -2.2 4 -3.6 4 -.6 2 -3.6 4 -.6 2 -3.5 4 -2.1 4 -3.5 4 -.7 2 -3.5 4 -.7 2 -3.5 4 -2.2 4 -7.6 10 -.7 2 -3.5 4 -.8 2 -8.9 12 -.8 2 -3.5 4 -.8 2 -3.4 4 -2.2 4 -7.7 10 -.8 2 -3.4 4 -6.5 10 -3.5 4 -.8 2 -3.6 4 -2.3 4 -3.8 4 -.6 2 -3.8 4 -2.1 4 -3.6 4 -.4 2 -3.9 4 -.2 2 -3.8 4 -2.3 4.2 -3.5 3.8 -.4 2 -3.7 4 -.3 2 -4 4 -2.1 4.1 -3.5 3.9 -.5 2.1 -3.9 3.9 -.1 2 -.5 0 -.6 -2 0 -4 1 -6 7.9 -6 -.1 -14 4.3 -.8 2 .8 1.4 -6 5.8 -8 -.3 -6 1.1 -1.8 4.3 -2.2 1.7 -1.9 2.7 -6.1 1.8 -10 3.4 -6 2.9 -8 5.3 -8 2.9 -6 4.8 -6 4.2 -7.2 8 -11.2 11.1 -17.6 4.9 -5.6 4 -5.6 33.1 -48.8 10.9 -14.2 7.7 -11.8 5 -6 14.2 -20 3.7 -6 16.1 -22 3.6 -6 9.7 -12.4 6.3 -9.6"/>
<path stroke="#000094" d="M2474.2 391.9l4 .4 2.2 7.7 4.6 6 2.2 4 -7 11.8 -2 6.3 -4 1.9M2474.2 435.2l2.1 2.8 1.7 4 2.2 2.7 14 6.5 4.3 2.8 -4.3 4.4 -6 3.5 -2.3 2.1 -1 2 1.3 10 -.9 10 .5 12 2.2 10 0 2 -3.1 10 -1 10 -4.2 12 -.7 10 1 2 3.6 4 7.1 6 1 6 2.7 6 .9 10 -2.3 4 -2.1 6 -2.2 4 -.6 8 6.1 4 9.2 4 2.9 2 1.5 2 2.8 10 -3.8 10 15.4 2.9 3.5 1.1 3.3 2 .6 2 -1.7 2 2.1 2 2.5 4 8.3 18 .3 4 -.5 8 1.1 10 2.8 12 -.8 10 1.2 12 -.4 32 2.3 22 -.5 32 1.1 12 -.4 10 .4 12 -1.3 10 .1 4M2474.2 552.2l.7 -.2 -.7 -1.4M3308.8 145.9l-2 2.3 -.4 2 -3.9 4 -.2 2 -3.8 4 -.4 2 -3.5 4 -2.2 4 -3.7 4 -.4 2 -3.8 4 -.3 2 -3.7 4 -.6 2 -5.1 6.2 -.4 1.8 -3.8 4 -.4 2 -3.7 4 -.5 2 -3.5 4 -2.2 4 -3.6 4 -.5 2 -3.7 4 -.5 2 -3.5 4 -2.2 4 -3.5 4 -.6 2 -3.7 4 -.5 2 -3.6 4 -.7 2 -3.3 4 -2.3 4 -3.5 4 -.6 2 -3.6 4 -.6 2 -9.1 12 -.7 2 -3.5 4 -.7 2 -3.5 4 -.8 2 -4.7 6 -.8 2 -3.5 4 -.7 2 -3.5 4 -.8 2 -8.9 12 -.8 2 -3.5 4 -2.3 4 -1.9 2 -2.2 4 -3.4 4 -.9 2 -3.4 4 -.8 2 -3.4 4 -2.2 4 -7.8 10 -.9 2 -5.1 6 -.8 2 -3.8 4 -.5 2 -5.4 6 -.5 2 -3.7 4 -.3 2 -4 4 -.2 2 -3.8 4 -1.6 2 -.6 2.1 -3.7 3.9 -.2 2 -3.9 4 -.1 2 -2.1 2.1 -1.7 -.1 -.4 -6 1 -4 1.1 -1.1 2 -.5 2.5 -2.4 1.1 -6 5.8 -8 .6 -4.1 2 -1.8 2 -.3 3.8 -11.8 .5 -6 1 -4 3.2 -6 2.9 -8 5.2 -8 2.8 -6 4.8 -6 3.8 -6.5 8 -11.4 11.6 -18.1 8.4 -10.7 33.5 -49.3 10.6 -14 6.5 -10 6.4 -8 14.3 -20 3.7 -6 16.2 -22 3.5 -6 10.9 -14 5.2 -8M3096.3 442.2l4.5 -1.9 0 1.9 -3.8 4 -.2 2 -2.1 2 -.1 -6 1.7 -2"/>
<path stroke="#000098" d="M2474.2 405.5l4 1.3 2.1 3.2 -2.1 3.5 -4 .7M2474.2 446.5l4 1 11.1 6.5 -11.1 9.3 -4 -.7M2474.2 472.5l4 -.3 1 3.8 -1 8.6 -4 .6M2474.2 501.3l3.6 -3.3 .4 -3.3 .2 3.3 3.5 10 -.1 2 -3.6 6.3 -4 -1.7M2474.2 527.4l2 2.6 -.8 2 -1.2 .8M2474.2 559.3l4 .6 3.2 4.1 2.4 8 2.3 14 -2.6 8 -3.3 6 1.6 8 10.4 6.4 7.8 3.6 2.3 2 2.4 10 -1.5 6 -2.3 4 17.3 2.9 4.3 1.1 3.9 2 1 2 -1.2 2 2.2 2 3.8 6 7.7 16 .3 4 -.3 8 1.1 10 2.9 12 -.9 10 1.3 12 -.3 32 2.3 22 -.4 32 1 12 -.4 10 .4 12 -1.3 10 .2 4M3308.8 145.8l-2 2.4 -.4 2 -3.9 4 -.3 2 -3.7 4 -.5 2 -3.4 4 -2.2 4 -3.7 4 -.4 2 -3.8 4 -.3 2 -3.7 4 -.7 2 -5 6.2 -.5 1.8 -3.7 4 -.4 2 -3.7 4 -.6 2 -3.4 4 -2.2 4 -3.6 4 -.5 2 -3.7 4 -.5 2 -3.5 4 -2.2 4 -3.5 4 -.6 2 -3.7 4 -.5 2 -3.6 4 -.7 2 -3.3 4 -2.3 4 -3.5 4 -.6 2 -3.6 4 -.6 2 -9.1 12 -.7 2 -3.6 4 -.6 2 -3.6 4 -.8 2 -4.6 6 -.9 2 -3.4 4 -.7 2 -3.5 4 -.8 2 -9 12 -.7 2 -3.5 4 -2.3 4 -2 2 -2.2 4 -3.4 4 -.8 2 -3.4 4 -.9 2 -3.3 4 -2.3 4 -7.8 10 -.8 2 -5.2 6 -.7 2 -3.9 4 -.5 1.9 -5.5 6.1 -.4 2 -3.8 4 -.2 2 -4 4 -.1 1 -1.1 1 -.9 2 -3.8 4 -.2 2 -2 2.1 -1.3 -.1 .9 -2 .8 -6 3.7 -4 5.9 -10 2.6 -10 .3 -6 1.1 -5.6 3.2 -6.4 2.8 -8 5.1 -8 2.7 -6 4.8 -6 22.1 -34 9.3 -12.2 31 -45.8 40.7 -56 3.7 -6 16.2 -22 3.6 -6 10.8 -13.9 5.3 -8.1M3109.2 426.2l1.6 -1.2 0 3.2 -3.9 4 -.1 2 -1.2 0 -.6 -4 .8 -2 3.4 -2"/>
<path stroke="#00009d" d="M2474.2 451.6l4 .5 2.8 1.9 -2.8 2.7 -4 .1M2474.2 575.2l4 .7 .8 10.1 -.8 3.1 -4 4.1M2474.2 610.7l4 -.4 2 .8 14.8 8.9 2.1 4 2.2 6 -1.6 4 -3.9 6 20.4 2.9 4.7 1.1 4.9 2 1.5 2 -.8 2 2.4 2 3.9 6 8.2 16 .4 4 -.3 8 1.3 10 2.8 12 -.8 10 1.3 12 -.2 32 2.3 22 -.4 32 1 12 -.4 10 .4 12 -1.3 10 .2 4M3308.8 145.8l-2 2.4 -.4 2 -3.9 4 -.3 2 -3.7 4 -.5 2 -3.5 4 -2.1 4 -3.7 4 -.4 2 -3.8 4 -.4 2 -3.6 4 -2.1 4 -3.6 4.1 -.5 1.9 -3.8 4 -.3 2 -3.7 4 -.6 2 -3.4 4 -2.2 4 -3.6 4 -.5 2 -3.7 4 -.5 2 -3.6 4 -2.1 4 -3.5 4 -.6 2 -3.7 4 -.5 2 -3.6 4 -.8 2 -4.8 6.2 -.7 1.8 -3.5 4 -.7 2 -3.5 4 -.7 2 -9 12 -.7 2 -3.6 4 -.7 2 -3.5 4 -2.1 4 -7.6 10 -.8 2 -3.5 4 -.8 2 -3.3 4 -2.2 4 -3.4 4 -.8 2 -3.5 4 -.8 2 -9 12 -.9 2 -3.4 4 -.8 2 -3.4 4 -2.2 4 -7.8 10 -.9 2 -5.2 6 -.7 2 -3.9 4 -.4 1.5 -5.8 6.5 -.1 2 -4 4 0 2 -2.5 2 -.3 -2 3.7 -8 1.1 -8 -.5 -4 .9 -6 6 -16 5.1 -8 2.6 -6 4.8 -6 22 -34 9.2 -12 31.1 -46 40.8 -56 3.7 -6 16.3 -22 3.6 -6 10.3 -13.3 5.7 -8.7"/>
<path stroke="#0000a1" d="M2474.2 614.5l4 -.3 6.8 3.8 2.2 2 4.3 6 2.1 4 -4.2 10 22.8 3.3 6 1.6 4 2.2 .9 .9 -.5 2 2.7 2 4.2 6 8.6 16 .5 4 -.2 8 1.3 10 2.9 12 -.8 10 1.3 12 -.2 32 2.4 22 -.4 32 1 12 -.3 10 .3 12 -1.3 10 .2 4M3308.8 145.8l-2 2.4 -.4 2 -3.9 4 -.3 2 -3.7 4 -.5 2 -3.5 4 -2.1 4 -3.8 4 -.3 2 -3.8 4 -.4 2 -3.6 4 -2.1 4 -3.6 4.1 -.5 1.9 -3.8 4 -.3 2 -3.7 4 -.6 2 -3.4 4 -2.2 4 -3.6 4 -.5 2 -3.8 4 -.4 2 -3.6 4 -2.1 4 -3.5 4 -.7 2 -3.6 4 -.5 2 -3.6 4 -.8 2 -4.8 6.2 -.7 1.8 -3.6 4 -.6 2 -3.6 4 -.6 2 -9 12 -.8 2 -3.5 4 -.7 2 -3.5 4 -2.1 4 -7.7 10 -.7 2 -3.5 4 -2.2 4 -7.5 10 -.8 2 -3.5 4 -.8 2 -3.4 4 -2.2 4 -3.5 4 -.8 2 -3.4 4 -.9 2 -3.3 4 -2.2 4 -7.9 10 -.8 2 -5.3 6 -.6 2 -5.7 6 -.6 2 -1.1 0 -.9 -.3 -2 -2.8 -1 -2.9 0 -6 5.2 -16 5.9 -10 2.5 -6 4.8 -6 22 -34 9.1 -12 31.1 -46 40.9 -56 3.7 -6 16.3 -22 3.6 -6 9.9 -12.8 6.2 -9.2"/>
<path stroke="#0000a6" d="M2474.2 618.6l4 -.4 2.6 1.8 6.8 10 -2.1 6 -2.4 4 23.1 2.9 6 1.2 6 2.1 2.5 1.8 0 2 2.9 2 4.6 6 6 9.9 3 6.1 .5 4 -.1 8 1.4 10 3 12 -.8 10 1.3 12 -.1 32 2.4 22 -.4 32 1 12 -.3 10 .4 12 -1.4 10 .2 4M2474.2 640l.4 0 -.4 -.2M3308.8 145.8l-2.1 2.4 -.4 2 -3.8 4 -.3 2 -3.7 4 -.5 2 -3.5 4 -2.1 4 -3.8 4 -.3 2 -3.8 4 -.4 2 -3.6 4 -2.1 4 -3.6 4 -.5 2 -3.8 4 -.4 2 -3.6 4 -.6 2 -3.4 4 -2.2 4 -3.6 4 -.5 2 -3.8 4 -.5 2 -3.5 4 -2.1 4 -3.6 4 -.6 2 -3.6 4 -.6 2 -3.5 4 -.8 2 -4.8 6.1 -.7 1.9 -3.6 4 -.6 2 -3.6 4 -.6 2 -9 12 -.8 2 -3.5 4 -.7 2 -3.5 4 -2.2 4 -7.6 10 -.7 2 -3.5 4 -2.2 4 -7.5 10 -.8 2 -3.5 4 -.9 2 -3.3 4 -2.3 4 -3.4 4 -.8 2 -3.4 4 -6.5 10 -3.5 4 -.9 2 -3.5 4 -2.4 4 -3.8 4 -.5 2 -4.2 4.6 -2 1.2 -3.3 -3.8 -.8 -2 .1 -2.8 4.8 -17.2 1.9 -4 3.9 -6 2.5 -6 4.7 -6 21.9 -34 9.1 -12 31.1 -46 40.9 -56 3.8 -6 16.3 -22 3.7 -6 9.4 -12.2 6.6 -9.8"/>
<path stroke="#0000ab" d="M2474.2 625.5l4 -.4 3.9 4.9 -1.9 3.4 -2 1.5 -4 -1.1M2474.2 640.6l6 -.2 8 .7 18 2.6 8.7 2.3 3.3 2 .5 2 3.2 2 3.5 4 6.8 10.2 4.1 7.8 .6 4 0 8 1.4 10 3 12 -.8 10 1.4 12 -.1 32 2.5 22 -.4 32 1 12 -.3 10 .4 12 -1.4 10 .2 4M3308.8 145.8l-2.1 2.4 -.4 2 -3.8 4 -.3 2 -3.7 4 -.6 2 -3.4 4 -2.1 4 -3.8 4 -.4 2 -3.7 4 -.4 2 -3.6 4 -2.1 4 -3.6 4 -.5 2 -3.8 4 -.4 2 -3.6 4 -.7 2 -3.3 4 -2.2 4 -3.7 4 -.5 2 -3.7 4 -.5 2 -3.5 4 -2.2 4 -3.5 4 -.6 2 -3.6 4 -.6 2 -3.6 4 -2.1 4 -3.4 4.1 -.8 1.9 -3.5 4 -.6 2 -3.6 4 -.7 2 -9 12 -.7 2 -3.5 4 -.8 2 -3.4 4 -2.2 4 -7.6 10 -.7 2 -3.5 4 -2.2 4 -7.6 10 -.8 2 -3.5 4 -6.4 10 -3.4 4 -.9 2 -3.4 4 -6.4 10 -3.6 4 -.8 2 -3.5 4 -2.4 4 -3.9 4 -.4 2 -4.2 4.1 -.9 -.1 -1.9 -2 -1.1 -2 -.3 -2 2.4 -14 2 -6 5 -8 2.3 -6 4.5 -5.6 22 -34.2 9.2 -12.2 31 -46 41 -56 3.7 -6 16.4 -22 3.7 -6 9 -11.6 7.1 -10.4"/>
<path stroke="#0000b0" d="M2474.2 641.2l8 -.1 20 2.6 8 1.8 4 1.6 1.5 .9 .9 2 3.5 2 4.1 4.3 6.8 9.7 4.5 8 .6 4 0 8 1.6 10 3 12 -.8 10 1.4 12 0 32 2.5 22 -.4 32 1 12 -.3 12 .4 10 -1.4 10 .2 4M3308.8 145.8l-2.1 2.4 -.4 2 -3.8 4 -.3 2 -3.7 4 -.6 2 -3.4 4 -2.1 4 -3.8 4 -.4 2 -3.7 4 -.5 2 -3.5 4 -2.1 4 -3.6 4 -.5 2 -3.8 4 -.4 2 -3.6 4 -.7 2 -3.4 4 -2.1 4 -3.7 4 -.5 2 -3.7 4 -.5 2 -3.5 4 -2.2 4 -3.5 4 -.6 2 -3.6 4 -.6 2 -3.6 4 -2.1 4 -3.4 4 -.8 2 -3.5 4 -.7 2 -3.5 4 -.7 2 -9 12 -.7 2 -3.6 4 -.7 2 -3.4 4 -2.2 4 -7.6 10 -.8 2 -3.4 4 -2.2 4 -7.6 10 -.8 2 -3.5 4 -6.4 10 -3.5 4 -.8 2 -3.4 4 -6.4 10 -3.6 4 -.9 2 -3.5 4 -2.4 4 -3.9 4 -.4 2 -2.1 2.1 -1.8 -.1 -1.6 -2 -.6 -2 .5 -4 -.3 -6 .6 -4 1.9 -6 5 -8 2.3 -6 4 -4.9 22 -34.4 9.5 -12.7 31 -46 13.5 -18 6.6 -10 5 -6 16 -22 3.8 -6 36.1 -50"/>
<path stroke="#0000b5" d="M2474.2 641.8l6 -.2 8 .7 16 2.6 8 2.5 1.1 .6 1.4 2 3.5 2 4.2 4 7.8 10.4 4.4 7.6 .7 4 .1 8 1.6 10 3 12 -.8 10 1.5 12 0 32 2.5 22 -.4 32 1.1 12 -.3 12 .4 10 -1.5 10 .2 4M3308.8 145.8l-2.1 2.4 -.4 2 -3.8 4 -.4 2 -3.6 4 -.6 2 -3.4 4 -2.1 4 -3.8 4 -.4 2 -3.7 4 -.5 2 -3.5 4 -2.1 4 -3.6 4 -.5 2 -3.8 4 -.4 2 -3.7 4 -.6 2 -5 6.3 -.6 1.7 -3.6 4 -.5 2 -3.7 4 -.6 2 -3.4 4 -2.2 4 -3.5 4 -.6 2 -3.7 4 -.5 2 -3.6 4 -2.1 4 -3.4 4 -.8 2 -3.5 4 -.7 2 -3.5 4 -.7 2 -3.4 4 -2.2 4 -3.4 4 -.8 2 -3.5 4 -.7 2 -3.5 4 -2.1 4 -7.7 10 -.7 2 -3.5 4 -6.3 10 -3.4 4 -.8 2 -3.5 4 -6.5 10 -3.4 4 -.8 2 -3.4 4 -6.5 10 -3.6 4 -.8 2 -3.5 4 -2.4 4 -4.1 4 -.2 2 -2.1 1.7 -1.6 -3.7 -1.3 -8 .3 -6 1.8 -6 5.1 -8 2.3 -6 3.4 -4.2 22 -34.6 9.9 -13.2 30.9 -46 13.2 -17.5 6.9 -10.5 5 -6 16.1 -22 5.2 -8 34.8 -48"/>
<path stroke="#0000bb" d="M2474.2 642.4l6 -.2 8 .7 16 2.8 6.7 2.3 1.9 2 5.4 3.5 4 4 8 10.4 3.5 6.1 .7 4 .2 8 1.7 10 3.1 12 -.8 10 1.4 12 .1 32 2.6 22 -.4 32 1.1 12 -.4 12 .5 10 -1.5 10 .2 4M3308.8 145.8l-2.1 2.4 -.4 2 -3.8 4 -.4 2 -3.6 4 -.6 2 -5.1 6.4 -.5 1.6 -3.7 4 -.4 2 -3.7 4 -.5 2 -3.5 4 -2.2 4 -3.5 4 -.6 2 -3.7 4 -.4 2 -3.7 4 -.7 2 -4.9 6.3 -.6 1.7 -3.6 4 -.5 2 -3.7 4 -.6 2 -3.4 4 -2.2 4 -3.5 4 -.7 2 -3.6 4 -.6 2 -3.5 4 -2.2 4 -3.3 4 -.8 2 -3.5 4 -.7 2 -3.5 4 -.8 2 -3.3 4 -2.2 4 -3.4 4 -.8 2 -3.5 4 -.8 2 -3.4 4 -2.2 4 -3.3 4 -.8 2 -3.5 4 -.8 2 -3.4 4 -6.4 10 -3.4 4 -.8 2 -3.4 4 -6.5 10 -3.5 4 -.8 2 -3.4 4 -6.4 10 -3.7 4 -.8 2 -3.5 4 -2.3 4 -4.2 4 -.2 2 -1 0 -1 -2 -1.9 -8 0 -6 1.6 -6 4.3 -6.5 3.2 -7.5 3.2 -4 21.6 -34.2 10 -13.4 31.1 -46.4 12.9 -17.1 7.3 -10.9 4.9 -6 15.8 -21.5 5.6 -8.5 34.8 -48"/>
<path stroke="#0000c0" d="M2474.2 642.9l6 -.1 8 .8 13.7 2.4 6.4 2 6.3 4 5.6 5 8 9.6 4.6 7.4 .8 4 .2 8 1.8 10 3.1 12 -.8 10 1.5 12 .2 32 2.5 22 -.4 32 1.2 12 -.4 12 .4 10 -1.4 10 .2 4M3308.8 145.7l-2.1 2.5 -.4 2 -3.9 4 -.3 2 -3.6 4 -.7 2 -5 6.4 -.5 1.6 -3.7 4 -.4 2 -3.7 4 -.5 2 -3.5 4 -2.2 4 -3.6 4 -.5 2 -3.7 4 -.5 2 -3.6 4 -.7 2 -4.9 6.2 -.6 1.8 -3.6 4 -.5 2 -3.7 4 -.6 2 -3.4 4 -2.2 4 -3.5 4 -.7 2 -3.6 4 -.6 2 -3.5 4 -2.2 4 -3.4 4 -.8 2 -3.5 4 -.7 2 -3.4 4 -2.2 4 -7.6 10 -.7 2 -3.5 4 -.8 2 -3.4 4 -2.2 4 -3.3 4 -.9 2 -3.4 4 -.8 2 -3.4 4 -6.4 10 -3.4 4 -.8 2 -3.5 4 -6.4 10 -3.5 4 -.8 2 -3.4 4 -6.4 10 -3.7 4 -.8 2 -3.6 4 -2.3 4 -4.3 4.4 -2 -3.7 -1.1 -4.7 -.1 -6 1.5 -6 4 -6 3.5 -8 3.1 -4 21.1 -33.7 10 -13.4 20.5 -30.9 7.5 -10.3 3.4 -5.7 12.6 -16.7 7.6 -11.3 20.4 -26.9 4.5 -7.1 36.3 -50"/>
<path stroke="#0000c6" d="M2474.2 643.5l6 -.2 8 .9 12 2.3 6 1.9 6.6 3.6 6.9 6 8.4 10 3.8 6 .9 4 .2 8 1.9 10 3.1 12 -.8 10 1.6 12 .2 32 2.6 22 -.4 32 1.1 12 -.3 12 .4 10 -1.4 10 .2 4M3308.8 145.7l-2.1 2.5 -.4 2 -3.9 4 -.3 2 -3.6 4 -.7 2 -5 6.3 -.5 1.7 -3.7 4 -.4 2 -3.8 4 -.4 2 -3.5 4 -2.2 4 -3.6 4 -.5 2 -3.7 4 -.5 2 -3.6 4 -.7 2 -4.9 6.2 -.6 1.8 -3.6 4 -.6 2 -3.6 4 -.6 2 -3.4 4 -2.2 4 -3.5 4 -.7 2 -3.6 4 -.6 2 -3.5 4 -2.2 4 -3.4 4 -.8 2 -3.5 4 -.7 2 -3.5 4 -.8 2 -3.2 4 -2.3 4 -7.6 10 -.8 2 -3.4 4 -2.2 4 -7.6 10 -.8 2 -3.4 4 -2.2 4 -7.6 10 -.9 2 -3.4 4 -6.5 10 -3.5 4 -.8 2 -3.4 4 -6.4 10 -3.7 4 -.8 2 -3.5 4 -2.6 4.3 -2 2 -2 .3 -1.3 -2.6 -1 -4 -.3 -4 .5 -4 .9 -4 4 -6 3.6 -8 9.6 -14.3 14 -22.8 10 -13.4 20.9 -31.5 7.2 -10 3.6 -6 12.3 -16.2 8 -11.8 20 -26.4 4.9 -7.6 36.3 -50"/>
<path stroke="#0000cc" d="M2474.2 644.1l8 -.1 14 2.4 6.2 1.6 8.6 4 9.2 8.1 6.9 7.9 3.9 6 .9 4 .3 8 1.9 10 3.3 12 -.8 10 1.5 12 .3 32 2.6 22 -.3 32 1.1 12 -.3 12 .4 10 -1.5 10 .2 4M3308.8 145.7l-2.1 2.5 -.5 2 -3.8 4 -.3 2 -3.7 4 -.6 2 -5 6.3 -.5 1.7 -3.7 4 -.5 2 -3.7 4 -.5 2 -3.5 4 -2.1 4 -3.6 4 -.5 2 -3.7 4 -.5 2 -3.6 4 -2.1 4 -3.5 4.1 -.6 1.9 -3.6 4 -.6 2 -3.6 4 -.7 2 -3.4 4 -2.2 4 -3.5 4 -.6 2 -3.6 4 -.7 2 -3.4 4 -2.2 4 -3.4 4 -.8 2 -3.5 4 -.7 2 -3.5 4 -.8 2 -3.2 4 -2.3 4 -7.7 10 -.8 2 -3.3 4 -2.2 4 -3.4 4 -.8 2 -3.5 4 -.8 2 -3.4 4 -2.2 4 -7.6 10 -.8 2 -3.4 4 -6.5 10 -3.5 4 -.8 2 -3.4 4 -6.4 10 -3.8 4 -.7 2 -3.6 4 -2.5 4.2 -2 1.9 -1.2 -.1 -1.8 -4 -.7 -4 1 -10 4.1 -6 2.6 -6.2 23.7 -37.8 10.3 -14 4.9 -8 23.6 -34 3.5 -6 12.2 -16 8.1 -12 19.7 -25.9 6.7 -10.1 35 -48"/>
<path stroke="#0000d2" d="M2474.2 644.6l8 0 10 1.7 7.1 1.7 9.8 4 9.5 8 7.6 8.3 3.9 5.7 .9 4 .5 8 1.9 10 3.3 12 -.8 10 1.6 12 .3 32 2.7 22 -.4 32 1.2 12 -.3 12 .4 10 -1.5 10 .2 4M3308.8 145.7l-2.2 2.5 -.4 2 -3.8 4 -.4 2 -3.6 4 -.7 2 -4.9 6.2 -.5 1.8 -3.8 4 -.4 2 -3.7 4 -.5 2 -3.5 4 -2.1 4 -3.6 4 -.5 2 -3.8 4 -.4 2 -3.6 4 -2.1 4 -3.5 4.1 -.6 1.9 -3.6 4 -.6 2 -3.7 4 -.6 2 -3.4 4 -2.2 4 -3.5 4 -.6 2 -3.6 4 -.7 2 -3.5 4 -2.1 4 -3.4 4 -.8 2 -3.5 4 -.8 2 -3.4 4 -2.2 4 -7.5 10 -.8 2 -3.5 4 -.8 2 -3.4 4 -2.2 4 -3.3 4 -.9 2 -3.4 4 -2.2 4 -2 2 -6.4 10 -7.7 10 -6.4 10 -3.6 4 -.8 2 -3.4 4 -6.4 10 -3.8 4 -.7 2 -5.1 6 -.7 2 -2.2 2 -1.4 -2 -1.2 -4 -.1 -8 .6 -4 4.1 -6 2.5 -6 23.6 -38 10.3 -14 4.8 -8 23.6 -34 3.6 -6 12.1 -16 8.1 -12 19.4 -25.4 7.1 -10.6 35 -48"/>
<path stroke="#0000d8" d="M2474.2 645.2l8 .1 8 1.3 8 2 8.8 3.4 5.2 3.5 6 5.6 6.7 6.9 4.3 6 .9 4 .5 8 2.1 10 3.3 12 -.8 10 1.6 12 .4 32 2.7 22 -.3 32 1.2 12 -.4 12 .4 10 -1.5 10 .2 4M3308.8 145.7l-2.2 2.5 -.4 2 -3.8 4 -.4 2 -3.6 4 -2 4 -3.6 4.2 -.5 1.8 -3.8 4 -.4 2 -3.7 4 -.5 2 -3.5 4 -2.1 4 -3.6 4 -.6 2 -3.7 4 -.5 2 -3.5 4 -2.2 4 -3.4 4 -.7 2 -3.6 4 -.5 2 -3.7 4 -.6 2 -3.4 4 -2.2 4 -3.5 4 -.7 2 -3.5 4 -.7 2 -3.5 4 -2.2 4 -3.4 4 -.8 2 -3.4 4 -.8 2 -3.4 4 -6.3 10 -7.7 10 -2.2 4 -2 2 -2.2 4 -7.6 10 -.8 2 -3.4 4 -2.2 4 -7.6 10 -.9 2 -3.4 4 -6.5 10 -3.6 4 -.7 2 -3.4 4 -2.2 4 -3.4 4 -.8 2 -3.9 4 -.6 1.9 -5.3 6.1 -.7 2.1 -2 .4 -1.3 -2.5 -.6 -4 .3 -10 4.1 -6 2.7 -6 23.3 -38 10.3 -14 4.8 -8 23.6 -34 3.5 -6 7.3 -9.3 13 -18.7 19 -24.8 7.5 -11.2 35 -48"/>
<path stroke="#0000df" d="M2474.2 645.9l8 0 8 1.4 6 1.6 10 3.8 6 4.2 10 9.5 4.7 5.6 1.9 4 1 10 5.5 22 -.8 10 1.6 12 .7 20 -.2 12 2.8 22 -.4 32 1.2 12 .1 22 -1.5 10 .2 4M3308.8 145.7l-2.2 2.5 -.4 2 -3.8 4 -.4 2 -3.6 4 -2.1 4 -3.5 4.1 -.5 1.9 -3.8 4 -.4 2 -3.7 4 -.5 2 -3.5 4 -2.1 4 -3.6 4 -.6 2 -3.7 4 -.5 2 -3.5 4 -2.2 4 -3.4 4 -.7 2 -3.6 4 -.5 2 -3.7 4 -.7 2 -3.3 4 -2.2 4 -3.5 4 -.7 2 -3.6 4 -.7 2 -3.4 4 -2.2 4 -3.4 4 -.8 2 -3.5 4 -.7 2 -3.4 4 -2.2 4 -7.6 10 -.8 2 -3.4 4 -2.2 4 -2 2 -2.2 4 -7.7 10 -.8 2 -3.4 4 -6.4 10 -3.4 4 -.8 2 -3.4 4 -2.3 4 -1.9 2 -2.3 4 -3.6 4 -.8 2 -9 12 -.7 2 -3.9 4 -2.6 4.4 -3.5 3.6 -.5 2 -1 0 -1.4 -2 -.4 -2 -.2 -12 4.1 -6 2.7 -6 2.2 -2.9 20.9 -35.1 10.3 -14 3.4 -6 25 -36 3.4 -6 7 -8.8 13.3 -19.2 18.7 -24.3 13.6 -19.7 29.3 -40"/>
<path stroke="#0000e5" d="M2474.2 646.5l8 0 7.7 1.5 10.3 3.2 6 2.7 6 4.4 10 9.3 5.1 6.4 .6 2 1 10 5.7 22 -.8 10 1.6 12 .7 20 -.1 12 2.8 22 -.4 32 1.3 12 0 22 -1.5 10 .2 4M3308.8 145.7l-2.2 2.5 -.4 2 -3.8 4 -.4 2 -3.6 4 -2.1 4 -3.5 4.1 -.6 1.9 -3.7 4 -.4 2 -3.7 4 -.6 2 -3.4 4 -2.2 4 -3.5 4 -.6 2 -3.7 4 -.5 2 -3.6 4 -2.1 4 -3.4 4 -.7 2 -3.6 4 -.6 2 -3.6 4 -.7 2 -3.3 4 -2.2 4 -3.5 4 -.7 2 -3.6 4 -.7 2 -3.4 4 -2.2 4 -3.4 4 -.8 2 -3.5 4 -.8 2 -3.4 4 -6.3 10 -3.4 4 -.8 2 -3.5 4 -6.3 10 -7.7 10 -2.2 4 -2 2 -2.2 4 -7.6 10 -.9 2 -3.4 4 -2.2 4 -3.4 4 -.9 2 -3.6 4 -.7 2 -9 12 -.8 2 -3.9 4 -2.5 4.3 -3.7 3.7 -.3 1.6 -1.3 -1.6 -.5 -2 -.6 -12 4 -6 2.4 -5.1 2.1 -2.9 2 -4 19.2 -32 10.3 -14 3.4 -6 24.9 -36 3.5 -6 6.4 -8 13.9 -20 18.3 -23.8 6.8 -10.2 36.5 -50"/>
<path stroke="#0000ec" d="M2474.2 647.1l6 -.1 8 1.4 10 2.9 6 2.7 6 3.9 11.2 10.1 4.8 5.8 .7 2.2 1.1 10 5.8 22 -.8 10 1.7 12 .8 20 -.2 12 2.9 22 -.3 32 1.2 12 .1 22 -1.5 10 .2 4M3308.8 145.6l-2.2 2.6 -.4 2 -3.8 4 -.5 2 -3.5 4 -2.1 4 -3.5 4 -.6 2 -3.7 4 -.5 2 -3.6 4 -.6 2 -3.4 4 -2.2 4 -3.6 4 -.5 2 -3.7 4 -.5 2 -3.6 4 -2.1 4 -3.4 4 -.7 2 -3.6 4 -.6 2 -3.6 4 -.7 2 -3.3 4 -2.3 4 -3.5 4 -.7 2 -3.5 4 -.7 2 -3.4 4 -2.2 4 -3.4 4 -.9 2 -3.4 4 -.8 2 -3.4 4 -6.3 10 -3.4 4 -.8 2 -3.5 4 -2.2 4 -2 2 -2.2 4 -7.6 10 -.9 2 -3.3 4 -2.2 4 -11.9 16 -2.2 4 -3.5 4 -.8 2 -3.6 4 -.8 2 -3.4 4 -2.2 4 -3.4 4 -.7 2 -4 4 -2.4 4.2 -4 4 -1.8 -14.2 3.8 -5.7 2 -4.3 16.5 -28 3.5 -5 3.8 -7 10.3 -14 3.3 -6 24.9 -36 3.4 -6 6.3 -7.8 14 -20.2 20 -26 12.4 -18 29.3 -40"/>
<path stroke="#0000f3" d="M2474.2 647.8l6 -.1 6 1 11.7 3.3 6.3 3.1 6 4.1 10 8.8 5.1 6 .7 2 1 10 6.1 22 -.8 10 1.7 12 .9 20 -.2 12 2.9 22 -.3 32 1.3 12 -.3 12 .3 10 -1.5 10 .2 4M3308.8 145.6l-2.2 2.6 -.5 2 -3.7 4 -.5 2 -3.5 4 -2.1 4 -3.5 4 -.6 2 -3.7 4 -.5 2 -3.6 4 -.6 2 -3.4 4 -2.2 4 -3.6 4 -.5 2 -3.7 4 -.6 2 -3.5 4 -2.1 4 -3.5 4 -.6 2 -3.6 4 -.6 2 -3.6 4 -.8 2 -3.2 4 -2.3 4 -3.5 4 -.7 2 -3.5 4 -.8 2 -9 12 -.8 2 -3.4 4 -.8 2 -3.4 4 -6.4 10 -3.4 4 -.8 2 -3.4 4 -6.4 10 -7.7 10 -2.2 4 -1.9 2 -2.3 4 -11.9 16 -2.2 4 -3.4 4 -.8 2 -3.7 4 -.7 2 -3.4 4 -2.2 4 -3.5 4 -.7 2 -5.8 6 -.5 2.1 -2 2 -1.2 -.1 .1 -4 -1.6 -4 -.4 -4 3.1 -4.6 18 -31.8 4 -5.7 4.2 -7.9 10.3 -14 3.2 -6 24.9 -36 3.5 -6 5.9 -7.3 14.4 -20.7 19.6 -25.5 12.7 -18.5 29.4 -40"/>
<path stroke="#0000fa" d="M2474.2 648.4l6 -.1 6 1.1 9.3 2.6 6.7 3.2 6 3.8 10.7 9 5.3 5.8 .8 2.2 .8 4 .3 6 6.3 22 -.8 10 1.7 12 .9 20 -.2 12 3 22 -.3 32 1.3 12 .1 22 -1.6 10 .3 4M3308.8 145.6l-2.2 2.6 -.5 2 -3.8 4 -.4 2 -3.5 4 -2.1 4 -3.5 4 -.6 2 -3.7 4 -.5 2 -3.6 4 -.7 2 -3.3 4 -2.2 4 -3.6 4 -.6 2 -3.6 4 -.6 2 -3.5 4 -2.1 4 -3.5 4 -.7 2 -3.5 4 -.7 2 -3.5 4 -.8 2 -4.7 6.1 -.8 1.9 -3.5 4 -.7 2 -3.5 4 -.8 2 -9 12 -.8 2 -3.5 4 -.8 2 -3.3 4 -6.4 10 -3.4 4 -.8 2 -3.4 4 -6.4 10 -7.7 10 -6.4 10 -11.9 16 -2.2 4 -3.5 4 -.8 2 -3.7 4 -.7 2 -3.4 4 -2.2 4 -3.5 4 -.6 2 -6.1 6 -.2 2.1 -1.6 -.1 .4 -2 -2.5 -4 -.7 -4 20.6 -36 4.3 -6 4.2 -8 10.3 -14 3.1 -6 24.9 -36 3.4 -6 5.6 -6.8 14.8 -21.2 19.2 -24.9 13.1 -19.1 9.3 -12 20.1 -28"/>
<path stroke="#0000ff" d="M2474.2 649.1l6 -.1 4 .7 8.8 2.3 7.2 3.2 6 3.6 12 9.7 5.1 5.5 .7 2 .8 4 .3 6 6.5 22 -.8 10 1.8 12 1 20 -.3 12 3.1 22 -.3 32 1.3 12 -.3 10 .4 12 -1.5 10 .2 4M3308.8 145.6l-2.3 2.6 -.4 2 -3.8 4 -.4 2 -3.5 4 -2.1 4 -3.5 4 -.6 2 -3.7 4 -.5 2 -3.7 4 -.6 2 -3.3 4 -2.2 4 -3.6 4 -.6 2 -3.7 4 -.5 2 -3.5 4 -2.2 4 -3.4 4 -.7 2 -3.6 4 -.6 2 -3.6 4 -.8 2 -4.6 6 -.8 2 -3.5 4 -.7 2 -3.6 4 -.7 2 -9 12 -.9 2 -3.4 4 -.8 2 -3.4 4 -6.3 10 -3.4 4 -.9 2 -3.4 4 -6.4 10 -7.6 10 -6.4 10 -3.5 4 -.8 2 -7.7 10 -2.1 4 -3.6 4 -.7 2 -3.7 4 -.7 1.8 -4.9 6.2 -.7 2 -3.6 4 -.6 2 -4.2 4.3 -2 .4 -2.5 -2.7 -1.1 -4 20.3 -36 4.4 -6 4.1 -8 10.2 -14 3.1 -6 24.9 -36 3.4 -6 5.2 -6.3 15.2 -21.7 18.8 -24.4 13.5 -19.6 10.5 -13.6 18.9 -26.4"/>
<path stroke="#0000ff" d="M2474.2 649.8l6 -.1 6 1.2 8 2.6 6 2.8 6 3.7 10.1 8 5.9 5.9 .8 2.1 .9 4 .2 6 2.8 10 3.1 8 .9 4 -.8 10 1.8 12 1 20 -.3 12 3.2 22 -.3 32 1.4 12 -.3 10 .4 12 -1.6 10 .2 4M3308.8 145.6l-2.3 2.6 -.4 2 -3.8 4 -.5 2 -3.5 4 -2 4 -3.6 4 -.6 2 -3.7 4 -.5 2 -3.6 4 -.6 2 -3.4 4 -2.1 4 -3.6 4 -.6 2 -3.7 4 -.6 2 -3.4 4 -2.2 4 -3.4 4 -.7 2 -3.6 4 -.6 2 -3.6 4 -.8 2 -4.6 6 -.9 2 -3.4 4 -.8 2 -3.5 4 -.8 2 -3.3 4 -2.2 4 -3.5 4 -.8 2 -3.4 4 -.9 2 -3.3 4 -6.4 10 -3.4 4 -.8 2 -3.4 4 -6.4 10 -7.7 10 -6.4 10 -3.4 4 -.8 2 -7.7 10 -2.2 4 -3.5 4 -.8 2 -3.7 4 -2.2 4 -3.4 4 -.6 2 -3.7 4 -.5 2 -4.2 3.9 -3.2 -1.9 -1.2 -2 -.2 -2 19.8 -36 4.6 -6 2.7 -6 11.4 -16 3 -6 24.9 -36 3.3 -6 4.9 -5.9 15.6 -22.1 18.4 -23.8 12.4 -18.2 11.6 -15.1 19.3 -26.9"/>
<path stroke="#0001ff" d="M2474.2 650.5l6 0 6 1.2 8 2.8 6 2.9 6 3.9 11.2 8.7 3.7 4 1.1 3 1 9 2.7 10 3.3 8 .9 4 -.8 10 1.8 12 1.1 20 -.3 12 3.3 22 -.3 32 1.4 12 -.3 10 .4 12 -1.6 10 .2 4M3308.8 145.6l-2.3 2.6 -.5 2 -3.7 4 -.5 2 -3.5 4 -2.1 4 -3.5 4 -.6 2 -3.7 4 -.5 2 -3.6 4 -.7 2 -3.3 4 -2.2 4 -3.5 4 -.6 2 -3.7 4 -.6 2 -9.1 12 -.6 2 -3.6 4 -.6 2 -3.6 4 -2.1 4 -3.3 4 -.9 2 -3.5 4 -.7 2 -3.5 4 -.8 2 -3.3 4 -2.3 4 -7.6 10 -.9 2 -3.3 4 -2.2 4 -3.3 4 -.9 2 -3.4 4 -.8 2 -3.4 4 -6.4 10 -7.7 10 -6.4 10 -3.5 4 -.8 2 -7.6 10 -2.2 4 -3.6 4 -.7 2 -3.8 4 -2.1 4 -3.5 4 -.6 2 -3.7 4 -.5 2 -2.1 2.2 -2 .6 -2 -1.1 -1.1 -1.7 -.5 -2 3.6 -7.5 11.7 -20.5 4 -8 4.6 -6 2.7 -6 11 -15.5 3.4 -6.5 24.6 -35.7 3.5 -6.3 4.5 -5.4 16 -22.5 18 -23.4 12.7 -18.7 11.3 -14.5 19.7 -27.5"/>
<path stroke="#0008ff" d="M2474.2 651.2l6 0 4.2 .8 9.8 3.5 6 3 15.9 11.5 3.9 4 1.4 4 .8 8 2.8 10 2.7 6 1.6 6 -.7 10 1.8 12 1.1 20 -.3 12 1.9 10 1.5 12 -.3 32 1.4 12 -.3 10 .4 12 -1.6 10 .2 4M3308.8 145.5l-2.3 2.7 -.5 2 -3.7 4 -.5 2 -3.5 4 -2.1 4 -3.5 4 -.6 2 -3.7 4 -.5 2 -3.6 4 -.7 2 -3.3 4 -2.2 4 -3.6 4 -.5 2 -3.7 4 -.6 2 -3.5 4 -2.1 4 -3.5 4 -.7 2 -3.5 4 -.7 2 -3.5 4 -2.1 4 -3.4 4 -.8 2 -3.5 4 -.7 2 -3.5 4 -.9 2 -3.3 4 -2.2 4 -7.7 10 -6.3 10 -3.4 4 -.8 2 -3.4 4 -.9 2 -3.4 4 -6.4 10 -7.6 10 -6.4 10 -3.5 4 -.8 2 -9.1 12 -.8 2 -3.6 4 -.7 2 -3.7 4 -2.2 4 -3.6 4 -.4 2 -3.8 4 -.4 2 -2.1 2.1 -1.5 -.1 -2.1 -2 -.9 -2 2.5 -5.8 12.4 -22.2 3.8 -8 4.7 -6 3.1 -6.7 10 -14.1 3.8 -7.2 24.2 -35.1 3.9 -6.9 4.1 -4.9 16 -22.5 18 -23.4 13.1 -19.2 11 -14 5.3 -8 10.8 -14 3.9 -6"/>
<path stroke="#000fff" d="M2474.2 651.9l8 .4 14 5.2 14 8.9 6.7 5.6 2 2 .8 2 1.1 4 .4 6 2.8 10 2.1 4 2.2 6 .3 2 -.8 10 1.9 12 1.2 20 -.4 12 2 10 1.4 12 -.2 32 1.4 12 -.3 10 .5 12 -1.7 10 .3 4M3308.8 145.5l-2.3 2.7 -.5 2 -3.7 4 -.6 2 -3.4 4 -2.1 4 -3.5 4 -.6 2 -3.7 4 -.5 2 -3.6 4 -.7 2 -4.8 6.2 -.7 1.8 -3.6 4 -.6 2 -3.6 4 -.7 2 -3.4 4 -2.1 4 -3.5 4 -.7 2 -3.5 4 -.7 2 -3.5 4 -2.2 4 -3.3 4 -.8 2 -3.5 4 -.8 2 -3.4 4 -6.4 10 -7.7 10 -6.3 10 -3.4 4 -.9 2 -3.4 4 -.8 2 -3.4 4 -6.4 10 -7.7 10 -2.2 4 -3.3 4 -.9 2 -3.5 4 -.8 2 -9.1 12 -.7 2 -3.7 4 -.6 2 -3.8 4 -2.1 4 -3.7 4 -.4 2 -3.9 4 -.3 1.9 -2.1 2.1 -3.1 -4 7.2 -15.7 7 -12.3 3.8 -8 4.7 -6 2.6 -6 9.9 -14 4.2 -8 23.8 -34.5 4.3 -7.5 31 -42 6.7 -8.3 13.4 -19.7 7.4 -10 3.7 -4 20 -28"/>
<path stroke="#0017ff" d="M2474.2 652.9l4 -.2 4 .6 12 4.3 6 3.2 8 5.2 7.5 6 2 2 1.6 4 1 8 2.8 10 2.1 4 2.3 6 .3 2 -.7 10 1.8 12 1.2 20 -.3 12 2 10 1.5 12 -.2 32 1.4 12 -.3 10 .5 12 -1.7 10 .3 4M3308.8 145.5l-2.3 2.7 -.5 2 -3.7 4 -.6 2 -3.4 4 -2.1 4 -3.5 4 -.6 2 -3.7 4 -.6 2 -3.5 4 -.8 2 -4.7 6.1 -.7 1.9 -3.6 4 -.6 2 -3.6 4 -.7 2 -3.4 4 -2.2 4 -3.4 4 -.7 2 -3.5 4 -.7 2 -3.6 4 -2.1 4 -3.3 4 -.9 2 -3.4 4 -.8 2 -3.5 4 -6.3 10 -3.5 4 -.8 2 -3.4 4 -6.4 10 -11.8 16 -2.2 4 -7.7 10 -.9 2 -3.3 4 -2.2 4 -3.4 4 -.8 2 -3.5 4 -.8 2 -3.4 4 -2.3 4 -3.5 4 -.7 2 -3.7 4 -.6 2 -3.8 4 -1.4 2 -.7 2 -3.8 4 -.2 2 -4 4 -.2 1.3 -2 1 -1.7 -2.3 5.7 -14.1 7.7 -13.9 3.6 -8 4.8 -6 2.6 -6 9.7 -14 4.3 -8 23.3 -34 4.7 -8 31 -42 6.5 -8 13.6 -20 7.4 -10 3.7 -4 3.8 -6 12.3 -16 3.9 -6"/>
<path stroke="#001fff" d="M2474.2 653.9l4 -.2 4 .6 12 4.4 14 8.3 6.3 5 2 2 1.7 4 1.1 8 2.8 10 4.6 10 .3 2 -.7 10 1.9 12 1.2 20 -.3 12 2.1 10 1.5 12 -.2 32 1.4 12 -.3 10 .5 12 -1.7 10 .3 4M3308.8 145.5l-2.4 2.7 -.4 2 -3.8 4 -.5 2 -3.4 4 -2.1 4 -3.6 4 -.6 2 -3.6 4 -.6 2 -3.5 4 -.8 2 -4.7 6.1 -.7 1.9 -3.6 4 -.6 2 -3.7 4 -.6 2 -3.4 4 -2.2 4 -3.4 4 -.7 2 -3.6 4 -.7 2 -3.5 4 -2.1 4 -3.4 4 -.8 2 -3.5 4 -.7 2 -3.5 4 -6.4 10 -7.7 10 -6.3 10 -7.7 10 -.8 2 -3.4 4 -2.2 4 -3.4 4 -.8 2 -3.5 4 -.8 2 -3.4 4 -2.1 4 -3.5 4 -.8 2 -3.5 4 -.8 2 -3.4 4 -2.3 4 -3.5 4 -.6 2 -3.7 4 -.7 2 -5.4 6 -.4 2 -3.9 4 -.2 2 -4.1 4.6 -2 -.5 1.2 -4.1 2.1 -4 1.7 -6 3.8 -8 3.6 -6 3.5 -8 4.7 -6 2.7 -6 9.6 -14 3.1 -6.1 10.3 -15.9 14.1 -20 4.7 -8 31 -42 6.4 -8 13.6 -20 7.5 -10 3.7 -4 5.2 -8 10.9 -14 3.9 -6"/>
<path stroke="#0027ff" d="M2474.2 654.9l4 -.1 4 .5 12 4.6 14 8.1 6 4.9 1.1 1.1 1.8 4 1.1 8 3 10 4.6 10 .3 2 -.6 10 1.9 12 1.3 20 -.3 12 2.4 12 1.2 10 -.1 32 1.5 12 -.5 10 .7 12 -1.8 10 .3 4M3308.8 145.5l-2.4 2.7 -.5 2 -3.7 4 -.6 2 -3.3 4 -2.2 4 -3.5 4 -.6 2 -3.7 4 -.5 2 -3.6 4 -2 4 -3.4 4 -.8 2 -3.5 4 -.7 2 -3.6 4 -.7 2 -3.3 4 -2.2 4 -3.5 4 -.7 2 -3.5 4 -.7 2 -3.5 4 -2.1 4 -3.4 4 -.8 2 -3.5 4 -.8 2 -3.4 4 -6.4 10 -7.7 10 -6.3 10 -3.4 4 -.9 2 -3.4 4 -6.4 10 -2 2 -2.2 4 -7.7 10 -2.2 4 -3.4 4 -.8 2 -3.6 4 -.7 2 -3.5 4 -2.2 4 -3.6 4 -.6 2 -3.7 4 -.6 1.9 -5.6 6.1 -.4 2.1 -3.9 3.9 -.1 2 -2 2 -1.2 0 1.8 -4 1.4 -7.5 3.5 -8.5 3.6 -6 2.9 -7.1 5.2 -6.9 2.7 -6 9.4 -14 3 -6 10.4 -16 14.1 -20 4.7 -8 30.9 -42 6.5 -8 13.6 -20 7.4 -10 3.8 -4 5.2 -8 11 -14 3.8 -6"/>
<path stroke="#002fff" d="M2474.2 656l4 -.2 4 .6 12 4.6 14 8 5.9 5 2.4 6 .7 6 3 10 4.8 10 .3 2 -.6 10 1.9 12 1.3 20 -.2 12 2.4 12 1.3 10 -.2 32 1.5 12 -.4 10 .7 12 -1.8 10 .2 4M3308.8 145.4l-2.4 2.8 -.5 2 -3.7 4 -.6 2 -3.4 4 -2.1 4 -3.5 4 -.6 2 -3.7 4 -.6 2 -3.5 4 -2.1 4 -3.3 4 -.8 2 -3.6 4 -.6 2 -3.6 4 -.7 2 -3.3 4 -2.2 4 -3.5 4 -.7 2 -3.5 4 -2.2 4 -2 2 -2.2 4 -3.3 4 -.9 2 -3.4 4 -.8 2 -3.4 4 -6.4 10 -7.7 10 -2.2 4 -2 2 -2.2 4 -3.4 4 -.8 2 -3.4 4 -2.3 4 -1.9 2 -2.2 4 -3.5 4 -.8 2 -3.5 4 -.8 2 -3.4 4 -2.1 4 -3.5 4 -.7 2 -3.6 4 -.8 2 -3.4 4 -2.2 4 -3.7 4 -.5 2 -3.8 4 -.5 1.6 -2 2.6 -3.8 3.8 -.2 2.1 -2 2 -1 -.1 .4 -4 1.1 -2 1.1 -6 4.2 -8 2.2 -6 5.8 -8 2.8 -6 9.2 -14 3 -6 10.3 -16 14 -20 4.8 -8 30.9 -42 6.5 -8 13.5 -20 7.2 -9.7 4.1 -4.3 5.2 -8 10.7 -13.7 4.1 -6.3"/>
<path stroke="#0038ff" d="M2474.2 657.1l4 -.2 4 .6 10 3.8 12 6.2 8.7 6.5 2.5 6 .7 6 3.1 10 4.9 10 .4 2 -.7 10 2 12 1.4 20 -.2 12 2.4 12 1.3 10 -.1 32 1.5 12 -.4 10 .7 12 -1.8 10 .2 4M3308.8 145.4l-2.4 2.8 -.5 2 -3.7 4 -.6 2 -3.4 4 -2.1 4 -3.5 4 -.6 2 -3.7 4 -.6 2 -3.5 4 -2.1 4 -3.4 4 -.7 2 -3.6 4 -.6 2 -3.6 4 -.7 2 -3.4 4 -2.2 4 -3.4 4 -.7 2 -3.5 4 -2.2 4 -2 2 -2.2 4 -3.4 4 -.8 2 -3.5 4 -.8 2 -3.4 4 -6.4 10 -7.7 10 -6.3 10 -7.7 10 -6.4 10 -3.4 4 -.8 2 -3.5 4 -.9 2 -3.3 4 -2.2 4 -3.5 4 -.7 2 -3.6 4 -.7 2 -3.5 4 -2.2 4 -3.7 4 -.5 2 -3.8 4 -2.4 4.1 -2 .9 -1.2 -1 -.3 -4 .6 -2 3.5 -6 2 -6 5.8 -8 1.7 -4 6 -10 3.9 -5.6 3.2 -6.4 10.4 -16 13.9 -20 4.8 -8 30.8 -42 6.6 -8 13.4 -20 6.9 -9.3 4.5 -4.7 3.7 -6 11.8 -15.2 4.5 -6.8M3160.6 356.2l.2 -.6 -.2 .6"/>
<path stroke="#0040ff" d="M2474.2 658.2l4 -.1 4 .6 10 3.8 12 6 7.4 5.5 2.7 6 .7 6 3.2 10 5 10 .4 2 -.7 10 2.2 12 1.3 20 -.1 12 2.4 12 1.3 10 -.1 32 1.6 12 -.5 10 .8 12 -1.9 10 .3 4M3308.8 145.4l-2.4 2.8 -.5 2 -3.7 4 -.7 2 -3.3 4 -2.1 4 -3.5 4 -.7 2 -3.6 4 -.6 2 -3.5 4 -2.1 4 -3.4 4 -.7 2 -3.6 4 -.6 2 -3.6 4 -.8 2 -3.3 4 -2.2 4 -3.5 4 -.7 2 -3.5 4 -2.1 4 -2.1 2 -2.1 4 -3.4 4 -.8 2 -3.5 4 -.8 2 -3.4 4 -6.4 10 -7.7 10 -6.3 10 -7.7 10 -6.4 10 -3.5 4 -.8 2 -3.5 4 -6.3 10 -3.6 4 -.6 2 -3.7 4 -.7 2 -3.4 4 -2.2 4 -3.8 4 -.4 2 -5.6 6 -.6 2 -.6 0 -1.5 -2 -.4 -2 .5 -2 3.4 -6 1.9 -6 5.8 -8 7.5 -14 17.4 -28 13.9 -20 4.8 -8 30.8 -42 6.6 -8 13.4 -20 6.5 -8.8 4.9 -5.2 3.6 -6 11.5 -14.7 4.9 -7.3"/>
<path stroke="#004aff" d="M2474.2 659.4l4 -.2 4 .6 10 3.8 10 4.7 8.1 5.7 2.8 6 .7 6 3.4 10 5.1 10 .4 2 -.7 10 2.2 12 1.4 20 -.1 12 3.8 22 0 32 1.6 12 -.5 10 .8 12 -1.9 10 .3 4M3308.8 145.4l-2.5 2.8 -.5 2 -3.6 4 -.7 2 -3.3 4 -2.1 4 -3.6 4 -.6 2 -3.6 4 -.7 2 -3.4 4 -2.1 4 -3.4 4 -.8 2 -3.5 4 -.7 2 -3.6 4 -.7 2 -3.3 4 -2.2 4 -3.5 4 -.7 2 -3.5 4 -2.2 4 -2 2 -2.1 4 -3.4 4 -.8 2 -3.5 4 -.8 2 -3.4 4 -2.2 4 -3.4 4 -.8 2 -7.7 10 -6.4 10 -7.7 10 -6.4 10 -3.5 4 -.7 2 -3.5 4 -.9 2 -4.6 6 -.8 2 -3.7 4 -.6 2 -3.7 4 -.6 1.8 -5 6.2 -.7 2 -3.9 4 -.3 2 -6.1 6.4 -1.2 -2.4 .4 -2 3.1 -6 1.7 -6 5.7 -8 7.4 -14 17.3 -28 13.6 -19.5 5.1 -8.5 30.8 -42 6.5 -8 13.5 -20 6.1 -8.4 5.3 -5.6 3.6 -6 11.1 -14.2 5.2 -7.8"/>
<path stroke="#0053ff" d="M2474.2 660.6l4 -.1 4 .6 10 3.6 10 4.6 6.7 4.7 3 6 .7 6 3.5 10 5.3 10 .4 2 -.8 10 2.4 12 1.4 20 0 12 3.8 22 0 32 1.6 12 -.4 12 .8 10 -1.9 10 .2 4M3308.8 145.3l-2.5 2.9 -.5 2 -3.7 4 -.6 2 -3.3 4 -2.2 4 -3.5 4 -.6 2 -3.7 4 -.6 2 -3.4 4 -2.1 4 -3.4 4 -.8 2 -3.5 4 -.7 2 -3.6 4 -.8 2 -3.2 4 -2.2 4 -3.5 4 -.7 2 -3.5 4 -2.2 4 -2 2 -2.2 4 -3.4 4 -.8 2 -3.4 4 -.9 2 -3.3 4 -2.2 4 -2 2 -2.3 4 -7.7 10 -6.3 10 -7.7 10 -2.3 4 -3.2 4 -.9 2 -3.5 4 -.8 2 -3.5 4 -.8 1.9 -4.7 6.1 -.8 2 -3.7 4 -.5 2 -3.7 4 -2.3 4 -3.4 4 -.6 2 -4 4 -.2 2 -4.1 4.3 -1.7 -.3 .1 -2 2.9 -6 1.4 -6 1.1 -2 4.6 -6 3.9 -8 10.4 -18 10.2 -16 13.1 -18.9 4.1 -7.1 32.1 -44 6.5 -8 17.8 -26 7.2 -8 3.5 -6 10.8 -13.7 5.6 -8.3"/>
<path stroke="#005cff" d="M2474.2 661.9l4 -.2 4 .6 10 3.4 9.4 4.3 5.9 4 3.1 6 .7 6 3.6 10 2.7 4 2.9 6 .4 2 -.9 10 2.6 12 1.4 20 0 12 3.8 22 .1 32 1.7 12 -.5 10 .8 12 -1.9 10 .2 4M3308.8 145.3l-2.5 2.9 -.5 2 -3.7 4 -.7 2 -3.3 4 -2.1 4 -3.5 4 -.6 2 -3.7 4 -.6 2 -3.5 4 -2.1 4 -3.4 4 -.7 2 -3.6 4 -.6 2 -3.6 4 -.8 2 -3.2 4 -2.3 4 -3.4 4 -.8 2 -3.4 4 -2.2 4 -2 2 -2.2 4 -7.7 10 -.8 2 -3.4 4 -2.2 4 -3.4 4 -.8 2 -3.5 4 -6.4 10 -3.3 4 -.9 2 -3.4 4 -.8 2 -3.4 4 -2.3 4 -3.3 4 -.8 2 -7.9 10 -2.2 4 -3.3 4 -.7 2 -3.7 4 -.6 2 -3.7 4 -2.2 4 -3.6 4 -.5 2 -4 4 -.2 2 -2 2.1 -2 .1 2.4 -6.2 1.1 -6 1.2 -2 4.5 -6 2.6 -6 10.2 -18.1 8 -11.9 3.4 -6 12.6 -18.4 4.5 -7.6 32 -44 6.6 -8 17.7 -26 7.3 -8 3.5 -6 10.4 -13.3 6 -8.7"/>
<path stroke="#0066ff" d="M2474.2 663l8 .4 10 3.3 7.4 3.3 6.3 4 3.4 6 .7 6 3.7 10 2.9 4 2.9 6 .4 2 -1 10 2.8 12 1.5 20 0 12 3.9 22 .1 32 1.7 12 -.5 10 .9 12 -1.9 10 .2 4M3308.8 145.3l-2.5 2.9 -.6 2 -3.6 4 -.7 2 -3.3 4 -2.1 4 -3.6 4 -.6 2 -3.6 4 -.7 2 -3.4 4 -2.1 4 -3.4 4 -.7 2 -3.6 4 -.7 2 -1.5 2 -2 2 -.9 2 -3.2 4 -2.2 4 -3.5 4 -.7 2 -3.5 4 -2.1 4 -2 2 -2.2 4 -3.4 4 -.9 2 -3.4 4 -.9 2 -3.3 4 -2.2 4 -3.4 4 -.9 2 -3.5 4 -6.3 10 -3.4 4 -.8 2 -3.5 4 -.8 2 -9 12 -.8 2 -3.6 4 -.7 2 -3.5 4 -2.3 4 -3.3 4 -.7 2 -3.7 4 -.5 2 -3.8 4 -2.2 4 -3.7 4 -.3 2 -4.1 4 -.1 1 -.8 -1 1.2 -8 5.6 -8 2.5 -6 9.9 -18 7.6 -11.3 3.8 -6.7 12.2 -17.8 4.9 -8.2 12.9 -18 9.2 -12 9.9 -14 6.6 -8 17.7 -26 7.2 -8 3.6 -6 10 -12.8 6.3 -9.2"/>
<path stroke="#0070ff" d="M2474.2 664.1l8 .4 8 2.4 8 3.4 6.1 3.7 3.6 6 .8 6 3.7 10 3 4 3.1 6 .4 2 -1.1 10 3 12 1.6 20 0 12 3.9 22 .5 22 -.3 10 1.8 12 -.5 12 .8 10 -1.9 10 .2 4M3308.8 145.3l-2.6 2.9 -.5 2 -3.6 4 -.8 2 -3.2 4 -2.1 4 -3.6 4 -.6 2 -3.6 4 -.7 2 -3.4 4 -2.1 4 -3.4 4 -.8 2 -3.5 4 -.7 2 -1.5 2 -2 2 -6.3 10 -3.5 4 -.7 2 -3.5 4 -2.2 4 -2 2 -2.2 4 -7.6 10 -6.4 10 -3.5 4 -.8 2 -3.5 4 -6.3 10 -3.4 4 -.8 2 -7.7 10 -2.3 4 -3.4 4 -.7 2 -3.6 4 -.7 2 -3.6 4 -2.2 4 -3.4 4 -.6 2 -3.8 4 -.5 2 -5.3 6 -.8 2.2 -3.6 3.8 -.3 2 -2.1 2.1 -.8 -.1 .2 -6 5.3 -8 2.5 -6 9.7 -18 28.4 -44 31.9 -44 6.6 -8 17.7 -26 7.2 -8 3.6 -6 9.7 -12.4 6.7 -9.6"/>
<path stroke="#007bff" d="M2474.2 665.1l6 .1 6 1.4 8 2.9 8.4 4.5 3.9 6 .8 6 3.7 10 3.2 4 3.3 6 .4 2 -1.3 10 3.3 12 1.6 20 .1 12 3.9 22 .6 22 -.3 10 1.8 12 -.5 10 .8 12 -1.9 10 .2 4M3308.8 145.2l-2.6 3 -.5 2 -1.5 2 -2.2 2 -.7 2 -3.2 4 -2.2 4 -3.5 4 -.6 2 -3.7 4 -.6 2 -3.4 4 -2.1 4 -3.5 4 -.7 2 -3.6 4 -2.1 4 -2.1 2 -2.1 4 -1.9 2 -2.2 4 -3.5 4 -.8 2 -3.4 4 -2.2 4 -2 2 -2.2 4 -7.7 10 -6.4 10 -3.4 4 -.8 2 -3.5 4 -6.4 10 -3.4 4 -.8 2 -7.7 10 -2.2 4 -3.5 4 -.7 2 -3.6 4 -.7 2 -3.5 4 -2.3 4 -3.5 4 -.5 2 -3.8 4 -.5 2 -5.4 6 -.6 2.2 -3.8 3.8 -.2 2 -1.6 0 .2 -4 4.9 -8 2.5 -6 9.4 -18 6.9 -10 4.5 -8 11.2 -16.5 4.4 -7.5 14.1 -20 9.4 -12 9.7 -14 6.4 -7.7 17.9 -26.3 7.1 -8 3.6 -6 9.4 -11.9 7 -10.1"/>
<path stroke="#0086ff" d="M2474.2 666.1l6 .1 6 1.4 6.7 2.4 7.8 4 4.3 6 .9 6 3.7 10 3.4 4 3.5 6 .4 2 -1.3 10 3.4 12 1.7 20 0 12 2.2 10 1.8 12 .7 22 -.3 10 1.8 12 -.5 10 .9 12 -2 10 .2 4M3308.8 145.2l-2.6 3 -.6 2 -1.4 2 -2.2 2 -.7 2 -4.6 6 -.8 2 -3.5 4 -.6 2 -3.7 4 -.7 2 -3.3 4 -2.1 4 -3.5 4 -.7 2 -3.6 4 -2.1 4 -2.1 2 -2.1 4 -3.3 4 -.9 2 -3.5 4 -.7 2 -3.4 4 -2.2 4 -2 2 -2.2 4 -7.7 10 -6.4 10 -3.5 4 -.8 2 -3.5 4 -6.3 10 -3.5 4 -.7 2 -3.6 4 -.7 2 -3.4 4 -2.2 4 -3.6 4 -.6 2 -3.7 4 -.6 2 -3.6 4 -2.2 4 -3.6 4 -.4 2 -3.9 4 -.4 1.9 -5.7 6.1 -.2 2 -4.1 4.4 0 -2.6 3.5 -5.8 2.5 -6.3 8.8 -17.7 28 -44 13.2 -18.9 10.2 -13.1 9.8 -14 6 -7.3 18 -26.4 7.3 -8.3 3.6 -6 11 -14 5.4 -8"/>
<path stroke="#0091ff" d="M2474.2 667.1l6 .1 4 .8 8 2.8 6.4 3.2 4.8 6 1 6 3.9 10 3.4 4 3.6 6 .5 2 -1.3 10 3.5 12 .5 10 1.3 10 .1 12 2.2 10 1.8 12 .7 22 -.2 10 1.8 12 -.4 12 .8 10 -2 10 .2 4M3308.8 145.2l-2.6 3 -.6 2 -1.5 2 -2.1 2 -2 4 -3.3 4 -.8 2 -3.6 4 -.6 2 -3.6 4 -.7 2 -3.4 4 -2.1 4 -3.4 4 -.8 2 -3.5 4 -2.2 4 -2 2 -2.1 4 -3.4 4 -.8 2 -3.5 4 -.7 2 -3.5 4 -6.4 10 -7.7 10 -6.3 10 -7.8 10 -6.4 10 -3.4 4 -.8 2 -3.5 4 -.8 2 -3.4 4 -2.2 4 -3.6 4 -.6 2 -3.7 4 -.6 2 -5.1 6 -.7 2 -3.6 4 -.4 2 -3.9 4 -.3 1.4 -2 2.8 -2 2 -1.1 -.2 1.9 -6 8.5 -18 8.1 -12 4.4 -8 10.2 -15.2 5.2 -8.8 12.8 -18.4 10.6 -13.6 9.7 -14 5.7 -6.8 18 -26.5 7.6 -8.7 3.6 -6 10.8 -13.8 5.7 -8.2M3177.8 330.2l1 -1.8 0 1.8 -1 0M3176.6 332.2l.2 -.6 -.2 .6"/>
<path stroke="#009cff" d="M2474.2 668.1l6 .1 6 1.4 8 3.3 4 2.8 3.5 4.3 1.2 6 4.1 10 3.4 4 3.8 6 .5 2 -1.3 10 3.6 12 .5 10 1.4 10 .1 12 2.4 10 1.7 12 .8 22 -.3 10 1.9 12 -.4 10 .8 12 -2 10 .2 4M3308.8 145.2l-2.7 3 -.5 2 -1.5 2 -2.1 2 -2 4 -3.4 4 -.7 2 -3.6 4 -.6 2 -3.6 4 -.8 2 -3.3 4 -2.1 4 -3.5 4 -.7 2 -3.5 4 -2.2 4 -2 2 -2.1 4 -3.4 4 -.8 2 -3.5 4 -.8 2 -3.4 4 -6.4 10 -7.7 10 -6.4 10 -3.5 4 -.8 2 -3.5 4 -2.3 4 -3.2 4 -.8 2 -3.5 4 -.7 2 -3.6 4 -.7 2 -3.5 4 -2.1 4 -3.7 4 -.5 2 -3.8 4 -.5 1.8 -5.3 6.2 -.5 2 -3.8 4 -.2 2 -5.7 6 -.5 2.1 -1.4 -.1 1.2 -4 5.7 -12 2.3 -6 8.2 -12 4.4 -8 15.2 -24 12.5 -18 10.8 -14 9.8 -14 5.3 -6.3 18 -26.5 7.9 -9.2 3.7 -6 16.4 -22"/>
<path stroke="#00a8ff" d="M2474.2 669.1l6 .1 6 1.5 7.9 3.3 2.2 2 3.6 4 1.3 6 4.4 10 6.2 8 1.7 4 -1.2 10 3.7 12 .5 10 1.5 10 .1 12 2.5 10 1.7 12 .8 22 -.2 10 1.9 12 -.4 12 .8 10 -2 10 .2 4M3308.8 145.1l-2.7 3.1 -.6 2 -1.4 2 -2.1 2 -2 4 -3.4 4 -.8 2 -3.5 4 -.6 2 -3.7 4 -.7 2 -3.3 4 -2.1 4 -3.5 4 -.7 2 -3.6 4 -2.1 4 -2.1 2 -2.1 4 -3.4 4 -.8 2 -3.5 4 -.7 2 -3.4 4 -6.4 10 -7.7 10 -6.4 10 -3.5 4 -.8 2 -3.6 4 -2.2 4 -3.3 4 -.7 2 -3.6 4 -.7 2 -3.5 4 -.8 2 -3.4 4 -2.2 4 -3.7 4 -.5 2 -3.7 4 -2.5 4.3 -3.4 3.7 -.5 2 -3.8 4 -.2 2 -4.1 4.3 -.7 -.3 2.1 -6 2.2 -4 2.4 -7.2 8.6 -12.8 4.4 -8 15 -23.9 12.4 -18.1 10.9 -14 9.7 -14 6.5 -8 16.5 -24.4 8 -9.3 2.5 -4.3 17.8 -24"/>
<path stroke="#00b4ff" d="M2474.2 670.1l6 .1 6 1.5 5.6 2.3 4.3 4 1.8 2 1.5 6 4.8 10 6.3 8 1.8 4 -1.2 10 3.7 12 .7 10 1.6 10 .1 12 2.6 10 1.7 12 .9 22 -.3 10 2 12 -.4 12 .8 10 -2 10 .2 4M3308.8 145.1l-2.7 3.1 -.6 2 -1.4 2 -2.2 2 -2 4 -3.4 4 -.7 2 -3.6 4 -.6 2 -3.6 4 -.8 2 -3.2 4 -2.2 4 -3.4 4 -.8 2 -3.5 4 -2.1 4 -2.1 2 -2.1 4 -3.4 4 -.8 2 -3.5 4 -.8 2 -3.4 4 -2.1 4 -2 2 -2.3 4 -7.7 10 -6.4 10 -7.8 10 -2.3 4 -3.3 4 -.7 2 -3.6 4 -.6 2 -3.6 4 -.7 1.8 -4.9 6.2 -.7 2 -3.8 4 -.4 2 -3.8 4 -2.4 4.2 -3.6 3.8 -.3 2 -3.9 4 -.1 2 -2.1 2 -.5 0 .5 -2.8 2.8 -5.2 1.4 -6 9 -14 4.3 -8 14.5 -23.3 12.8 -18.7 10.9 -14 9.6 -14 6.6 -8 13.3 -20 10.8 -13.4 2.8 -4.6 17.8 -24"/>
<path stroke="#00c0ff" d="M2474.2 671.1l6 .2 6 1.5 3 1.2 4.7 4 1.8 2 .8 4 6.2 12 6.5 8 1.9 4 -1.1 10 3.6 12 .9 10 1.7 10 0 12 2.8 10 1.8 12 .8 22 -.3 10 2.1 12 -.5 10 .8 12 -1.9 10 .1 4M3308.8 145.1l-2.8 3.1 -.5 2 -1.4 2 -2.2 2 -2 4 -3.4 4 -.7 2 -3.6 4 -.6 2 -3.6 4 -.8 2 -3.3 4 -2.1 4 -3.5 4 -.7 2 -3.5 4 -2.2 4 -2 2 -2.1 4 -3.5 4 -.7 2 -3.6 4 -.7 2 -3.4 4 -2.2 4 -2 2 -2.2 4 -7.7 10 -2.2 4 -3.4 4 -.8 2 -7.9 10 -2.2 4 -3.4 4 -.6 2 -3.6 4 -.7 2 -3.6 4 -2.2 4 -3.5 4 -.6 2 -3.8 4 -.4 2 -5.3 6 -.8 2.2 -3.8 3.8 -.2 2 -1.7 0 -.1 -2 1.1 -4 26.7 -44.6 13.1 -19.4 11 -14 9.6 -14 6.3 -7.7 14.9 -22.3 9.1 -11 3.1 -5 10.9 -14.2 6.8 -9.8M3189.8 312.2l1 -1.8 0 1.9 -1 -.1M3188.8 314.2l0 2 -.7 0 .7 -2"/>
<path stroke="#00cdff" d="M2474.2 672.2l6 .2 6 1.6 6 4.6 1.3 1.4 1.7 6 3 4.3 3 5.7 7 8.6 1.6 3.4 -1.1 10 3.7 12 2.7 20 .2 12 2.8 10 1.8 12 .9 22 -.3 10 2.1 12 -.4 12 .8 10 -1.9 10 .1 4M3308.8 145l-2.8 3.2 -.6 2 -1.4 2 -2.1 2 -2 4 -3.4 4 -.7 2 -3.6 4 -.6 2 -3.6 4 -2.1 4 -2 2 -2.1 4 -3.5 4 -.7 2 -3.6 4 -2.1 4 -2 2 -2.2 4 -3.4 4 -.8 2 -3.5 4 -.7 2 -3.4 4 -2.2 4 -2 2 -2.2 4 -7.8 10 -2.1 4 -3.4 4 -.8 2 -3.6 4 -.8 2 -3.5 4 -2.2 4 -3.5 4 -.6 2 -3.6 4 -.6 2 -3.7 4 -2.2 4 -3.5 4 -.5 2 -3.9 4 -.3 2 -5.7 6 -.4 2.1 -2 2 -1.6 -.1 .4 -2 4 -8 8 -14 13.2 -21.9 13.5 -20.1 10.9 -14 9.7 -14 5.9 -7.2 15.2 -22.8 8.8 -10.7 3.4 -5.3 17.7 -24"/>
<path stroke="#00daff" d="M2474.2 673.3l8.4 .7 3.6 2 5 4 1.8 6 6.5 10 8.3 10 .7 2 -1.1 10 3.7 12 3 20 .2 12 3 10 1.8 12 .9 22 -.3 10 2.2 12 -.5 12 .8 10 -1.9 10 .2 4M3308.8 145l-2.8 3.2 -2 4 -2.1 2 -2 4 -3.5 4 -.7 2 -3.6 4 -.6 2 -3.6 4 -2 4 -2 2 -2.1 4 -3.6 4 -.7 2 -3.5 4 -2.1 4 -2.1 2 -2.1 4 -7.7 10 -.8 2 -3.4 4 -2.1 4 -2 2 -2.3 4 -7.7 10 -2.2 4 -3.4 4 -.8 2 -3.6 4 -.7 2 -3.6 4 -2.2 4 -3.5 4 -.5 2 -3.7 4 -.6 2 -3.6 4 -2.5 4.4 -3.4 3.6 -.4 2 -3.9 4 -.3 2 -4 4.3 -1.8 -.3 1.5 -4 6.6 -12 13.7 -23.1 13.9 -20.9 10.9 -14 9.2 -13.5 6 -7.2 15.6 -23.3 8.4 -10.3 3.7 -5.7 17.7 -24M3196.3 302.2l.5 -1.4 0 3.4 -.6 0 .1 -2"/>
<path stroke="#02e8f5" d="M2474.2 674.8l4 .2 4 1 6.3 4 2 6 7.3 10 8.4 9.8 .9 2.2 -1.1 10 3.7 12 3.3 20 .3 12 3.1 10 1.9 12 .8 22 -.2 10 2.2 12 -.5 12 .9 10 -2 10 .2 4M3308.8 145l-2.9 3.2 -1.9 4 -2.2 2 -2 4 -3.4 4 -.7 2 -3.6 4 -.6 2 -3.6 4 -2 4 -2 2 -2.2 4 -3.5 4 -.7 2 -3.5 4 -2.1 4 -2.1 2 -2.1 4 -7.8 10 -.7 2 -3.4 4 -2.2 4 -2 2 -2.2 4 -3.5 4 -.8 2 -3.5 4 -2.1 4 -3.5 4 -.7 2 -3.7 4 -.7 2 -3.5 4 -2.2 4 -3.6 4 -.5 2 -3.7 4 -.5 2 -3.7 4 -2.2 4 -3.7 4 -.3 2 -4 4 -.2 1.4 -2 2.7 -1.8 -.1 5.8 -12.1 14 -24.2 14.3 -21.7 10.9 -14 8.8 -13 6 -7.2 14.5 -21.8 9.5 -11.9 5.4 -8.1 16.3 -22M3198.7 300.2l.1 -.5 -.1 .5"/>
<path stroke="#0df6ea" d="M2474.2 677.5l6 .3 4.8 2.2 1 4 1.4 2 8.5 10 4.3 4.2 4.7 5.8 .7 2 -1 10 3.8 12 3.5 20 .4 12 3.7 12 1.4 10 .9 22 -.2 10 2.3 12 -.6 12 .9 10 -1.9 10 .1 4M3308.8 144.9l-2.9 3.3 -1.9 4 -2.2 2 -2 4 -3.5 4 -.6 2 -3.6 4 -.7 2 -3.5 4 -2.1 4 -2 2 -2.1 4 -3.5 4 -.7 2 -3.6 4 -2.1 4 -2 2 -2.2 4 -7.7 10 -.8 2 -3.3 4 -2.2 4 -2 2 -2.3 4 -3.5 4 -.8 2 -3.4 4 -2.1 4 -3.6 4 -.7 2 -3.6 4 -.7 2 -5.1 6 -.7 2 -3.6 4 -.4 2 -3.8 4 -.5 2 -5.3 6 -.5 2 -3.9 4 -.2 2 -2.1 2.2 -1.9 -.2 3.7 -8 12.2 -21.4 3.4 -4.6 11.3 -18 10.8 -14 8.5 -12.5 6.2 -7.5 14.5 -22 9.3 -11.6 22 -30.4M3202.1 294.2l.7 -1.7 0 2.2 -.7 -.5"/>
<path stroke="#19ffde" d="M2474.2 686.1l6 -1 6 3.4 7.2 7.5 4.9 4 4.9 6 .8 2 -.9 10 4 12 3.6 20 .5 12 3.8 12 1.6 10 .8 22 -.2 10 2.4 12 -.6 12 .9 10 -1.9 10 .2 4M3308.8 144.9l-2.9 3.3 -2 4 -2.1 2 -2 4 -3.5 4 -.7 2 -3.6 4 -.6 2 -3.6 4 -2 4 -3.4 4 -.7 2 -3.6 4 -.7 2 -3.5 4 -2.1 4 -2.1 2 -2.1 4 -3.5 4 -.7 2 -3.6 4 -.7 2 -3.4 4 -2.1 4 -2 2 -1.6 2 -.7 2 -3.5 4 -.8 2 -3.4 4 -2.2 4 -3.6 4 -.6 2 -3.7 4 -.7 2 -5.2 6 -.5 2 -3.7 4 -.4 2 -3.8 4 -.4 1.7 -5.5 6.3 -.4 2 -3.9 4 -.1 2 -2.5 2 2.4 -6.6 12 -21.8 2.8 -3.6 3.3 -6 9.1 -14 10.7 -14 8.1 -12 7.9 -10 13.1 -20 9 -11.2 22.2 -30.8"/>
<path stroke="#25ffd2" d="M2474.2 689.2l6 -.2 4 1.7 6 5.3 6.2 4 5.2 6 .8 2 -1 10 4.4 12 3.7 20 .6 12 3.9 12 1.7 10 .8 22 -.2 10 2.5 12 -.6 12 .9 10 -1.9 10 .2 4M3308.8 144.8l-3 3.4 -1.9 4 -2.2 2 -2 4 -3.5 4 -.6 2 -3.6 4 -.6 2 -3.6 4 -2 4 -3.4 4 -.8 2 -3.5 4 -.7 2 -3.5 4 -.9 2 -3.3 4 -2.1 4 -3.6 4 -.7 2 -3.5 4 -.8 2 -3.3 4 -2.2 4 -3.5 4 -.7 2 -3.6 4 -.8 2 -3.4 4 -2.1 4 -3.7 4 -.6 2 -3.7 4 -.6 1.9 -2 2.6 -3.4 3.5 -.4 2 -3.7 4 -.3 2 -3.9 4 -.3 1.3 -2 2.9 -3.7 3.8 -.3 2.1 -2 2 -1.2 -.1 11.2 -21.3 3.5 -4.7 3.1 -6 9.1 -14 10.3 -13.6 8 -12 8 -10.1 13.4 -20.3 8.6 -10.9 22.5 -31.1M3206.8 288.2l0 2 0 -2"/>
<path stroke="#31ffc6" d="M2474.2 692.4l4 0 4 1 4 2.6 6 2.8 6 5.2 1.7 2 .8 2 -1.2 10 2.7 5.4 2.2 6.6 3.9 20 .7 12 4 12 1.8 10 .8 22 -.1 10 2.5 12 -.7 12 1 10 -2 10 .2 4M3308.8 144.8l-3 3.4 -1.9 4 -2.2 2 -2 4 -3.6 4 -.5 2 -3.7 4 -.6 2 -3.5 4 -2 4 -3.5 4 -.7 2 -3.6 4 -.7 2 -3.5 4 -2.1 4 -3.4 4 -.8 2 -3.6 4 -.6 2 -3.6 4 -.7 2 -3.4 4 -2.1 4 -3.6 4 -.7 2 -3.6 4 -.7 2 -4.8 6 -.8 2 -3.6 4 -.6 2 -3.8 4 -2.5 4.4 -3.5 3.6 -.3 2 -3.9 4 -.2 2 -5.4 6 -.7 2.1 -2 2.1 -1.1 -.2 7.1 -14.1 4.3 -5.9 2.9 -6 9 -14 9.8 -13.1 8 -12 8 -10.1 13.7 -20.8 8.3 -10.5 22.7 -31.5M3210.7 282.2l.1 2 -.9 0 .8 -2"/>
<path stroke="#3effb9" d="M2474.2 695.6l8 1 8 3 6 4.3 2 2.1 .8 2 -1.7 10 3.4 6 2.3 6 1.6 10 2.5 10 .7 12 4.1 12 2 10 .7 32 2.6 12 -.7 12 1 10 -2.1 10 .3 4M3308.8 144.8l-3 3.4 -1.9 4 -2.2 2 -2 4 -3.6 4 -.6 2 -3.6 4 -.6 2 -1.4 2 -2.2 2 -2 4 -3.4 4 -.7 2 -3.6 4 -.7 2 -3.5 4 -2.1 4 -3.4 4 -.8 2 -3.6 4 -.7 2 -3.5 4 -.8 2 -3.3 4 -2.1 4 -3.7 4 -.6 2 -3.6 4 -.8 2 -4.8 6 -.7 2 -3.7 4 -.6 2 -3.7 4 -2.5 4.3 -3.7 3.7 -.2 2 -3.9 4 -.1 2 -4.1 4.5 -1.4 -.5 3.4 -6.6 5.3 -7.4 2.4 -6 9 -14 10.3 -14 7 -10.6 8 -10.2 14 -21.2 8 -10.2 22.9 -31.8M3214.5 276.2l.3 -.7 .2 .7 -.2 2 -1 0 .7 -2"/>
<path stroke="#4bffac" d="M2474.2 697.8l8 .7 6 2 6 3.6 2 1.9 .9 2 -2.1 10 3.8 6 2.6 6 1.6 10 2.8 10 .8 12 4.2 12 2.2 10 .7 32 2.6 12 -.7 12 1 10 -2.1 10 .2 4M3308.8 144.7l-3.1 3.5 -1.9 4 -2.2 2 -2 4 -3.6 4 -.5 2 -3.6 4 -2.1 4 -2.1 2 -2 4 -3.5 4 -.7 2 -3.6 4 -.6 2 -3.6 4 -2 4 -3.5 4 -.7 2 -3.7 4 -.6 2 -3.6 4 -.8 2 -3.2 4 -2.2 4 -3.7 4 -.6 2 -3.6 4 -2.2 4 -3.5 4 -.6 2 -3.7 4 -.5 2 -3.8 4 -2.2 4 -2.2 2.3 -1.8 -.3 2.2 -6 8.8 -14 10.2 -14 6.5 -10 8.1 -10.3 14.3 -21.7 7.7 -9.8 23.2 -32.2M3224.1 262.2l.7 -1.4 .1 3.4 -2.1 2.1 -1.8 -.1 3.1 -4M3219.8 268.2l1 -1.7 0 3.7 -2 2.1 -1.3 -.1 2.3 -4M3216.5 274.2l.3 -.6 -.3 .6"/>
<path stroke="#58ff9f" d="M2474.2 699.8l6 .3 6 1.5 6 3.1 1.7 1.3 1.1 2 -2.7 10 4.5 6 2.9 6 1.7 10 3.1 10 .7 12 4.4 12 2.4 10 .7 32 2.8 12 -.8 10 1.1 12 -2.3 10 .3 4M3308.8 144.7l-3.1 3.5 -1.9 4 -2.2 2 -2 4 -3.6 4 -.6 2 -3.6 4 -2 4 -2.1 2 -2 4 -3.6 4 -.6 2 -3.6 4 -.7 2 -3.5 4 -2.1 4 -3.5 4 -.7 2 -3.7 4 -.6 2 -3.5 4 -2.1 4 -3.4 4 -.7 2 -3.7 4 -.6 2 -3.6 4 -2.2 4 -3.6 4 -.5 2 -3.8 4 -.5 2 -5.4 6 -.7 2.2 -2 1.9 -.8 -.1 1.9 -6 8.6 -14 10.1 -14 6.2 -9.7 8 -10.1 14.6 -22.2 7.4 -9.5 23.4 -32.5M3218.6 272.2l.2 -.5 -.2 .5"/>
<path stroke="#66ff91" d="M2474.2 701.8l6 .3 4 .8 6 2.5 2 2.2 0 2.4 -3.2 8 4 4 4 6 2.8 12 3.3 10 .8 12 4.5 12 2.6 10 .8 32 2.8 12 -.9 10 1.2 12 -2.4 10 .3 4M3308.8 144.6l-3.2 3.6 -1.8 4 -3.6 4 -.6 2 -3.7 4 -.5 2 -3.6 4 -2 4 -2.2 2 -2 4 -3.5 4 -.7 2 -3.6 4 -.6 2 -3.6 4 -2 4 -3.6 4 -.6 2 -3.7 4 -.6 2 -3.6 4 -2 4 -3.5 4 -.7 2 -3.7 4 -.6 2 -3.6 4 -2.2 4 -3.6 4 -.4 2 -3.9 4 -.4 2 -5.7 6 -.4 2.1 -1.6 -.1 1.4 -4 5.8 -10 17.5 -26 8.9 -11.4 14.9 -22.6 30.8 -42"/>
<path stroke="#74ff82" d="M2474.2 703.9l6 .2 4 .8 3.2 1.1 1.9 2 -1.1 3.8 -3.3 6.2 3.3 2.3 3.8 3.7 3.8 6 2.3 10 3.8 12 .5 10 4.8 12 2.4 8 .4 2 -.1 10 .9 22 2.9 12 -.9 10 1.2 12 -2.5 10 .2 4M3308.8 144.6l-3.2 3.6 -1.9 4 -3.6 4 -.6 2 -3.7 4 -.4 2 -3.7 4 -.6 2 -3.5 4 -2 4 -3.6 4 -.6 2 -3.6 4 -.7 2 -3.5 4 -2 4 -3.7 4 -.6 2 -3.7 4 -.6 2 -3.5 4 -2.1 4 -3.5 4 -.6 2 -3.8 4 -.5 2 -3.7 4 -2.1 4 -3.8 4 -.3 2 -3.9 4 -.4 2 -4 4.4 -1.3 -.4 6.7 -12 16.1 -24 8.5 -11 15.1 -23 30.8 -42M3228.6 256.2l.2 2.1 -.7 -.1 .5 -2"/>
<path stroke="#83ff74" d="M2474.2 706.1l6 .3 4.2 1.6 -.5 2 -3.7 4.3 -2 .6 -4 .1M2474.2 719.1l6 .1 4 1.5 4 2.5 4.4 4.8 7 22 1.2 12 5 12 2.6 8 .5 2 -.1 10 1 22 2.9 12 -.9 10 1.3 12 -2.7 10 .3 4M3308.8 144.5l-3.3 3.7 -1.8 4 -3.7 4 -.5 2 -3.7 4 -.5 2 -3.6 4 -.7 2 -3.5 4 -1.9 4 -3.7 4 -.5 2 -3.7 4 -.6 2 -3.5 4 -2.1 4 -3.7 4 -.5 2 -3.8 4 -.5 2 -3.6 4 -2 4 -3.6 4 -.5 2 -3.9 4 -.5 2 -5.1 6 -.7 2 -3.8 4 -.2 2 -4.1 4 -.2 1.5 -1.1 .5 -.9 2.1 -1.3 -.1 5.3 -10 15.8 -24 8.2 -10.5 15.5 -23.5 30.6 -42M3230.4 254.2l.4 -.7 0 .8 -.4 -.1"/>
<path stroke="#92ff65" d="M2474.2 723.2l6 -.4 4 1.2 4 2.2 3 3.8 6.9 22 .9 10 5.2 11.5 3.6 10.5 -.2 10 1.1 22 3.1 12 -1 10 1.4 12 -2.9 10 .3 4M3308.8 144.5l-3.3 3.7 -1.8 4 -3.8 4 -.4 2 -3.8 4 -.4 2 -3.7 4 -1.9 4 -2.2 2 -1.4 2 -.6 2 -3.7 4 -.5 2 -3.7 4 -.6 2 -3.5 4 -2 4 -3.8 4 -.4 2 -3.8 4 -.6 2 -3.5 4 -2 4 -3.7 4 -.5 2 -3.9 4 -.4 2 -5.4 6 -.4 2 -3.9 4 -.2 2 -2.2 2.3 -1.8 -.3 18 -28 7.8 -10.1 14.4 -21.9 31.9 -44M3234 248.2l.8 -1.5 0 2.3 -.8 -.8M3232.4 252.2l.4 -1 0 1 -.4 0"/>
<path stroke="#a2ff55" d="M2474.2 727.3l4 -.7 4 .1 3.6 1.3 2.5 2 7 20 1.8 12 4.2 8 5.2 14 1.1 32 3.2 12 -1 10 1.4 12 -3 10 .3 4M3308.8 144.4l-3.4 3.8 -1.8 4 -3.8 4 -.4 2 -3.8 4 -.4 2 -3.6 4 -2 4 -3.6 4 -.5 2 -3.7 4 -.5 2 -3.7 4 -.6 2 -3.5 4 -2 4 -3.9 4 -.4 2 -3.8 4 -.5 2 -3.6 4 -1.4 2 -.6 2 -3.7 4 -.4 2 -4 4 -.4 2 -4 4.8 -1.8 -.8 10.3 -16 7.5 -9.7 14.6 -22.3 31.8 -44M3241.7 236.2l1.1 -1.7 .5 1.7 -.3 2 -2.2 2.4 -1.6 -.4 2.5 -4M3237.9 242.2l.9 -1.4 .2 3.4 -2.2 2.2 -1.1 -.2 2.2 -4"/>
<path stroke="#b2ff45" d="M2474.2 731.9l6 -1 2 .4 3.6 2.7 2.4 3.6 5 12.4 1.8 12 4.7 8 5.5 14 1.2 32 3.4 12 -1 12 1.4 10 -3.2 10 .4 4M3308.8 144.4l-3.4 3.8 -1.8 4 -4 4 -.2 2 -3.8 4 -.4 2 -3.7 4 -1.9 4 -3.7 4 -.5 2 -3.7 4 -.5 2 -3.7 4 -.6 2 -4.9 6 -.6 2 -3.9 4 -.3 2 -3.9 4 -.5 2 -5.1 6 -.4 2 -3.9 4 -.3 2 -4 4 -.3 1.5 -4 5.1 -1.4 -.6 10.2 -16 7.2 -9.3 14.9 -22.7 31.7 -44M3242.2 236.2l.6 -.9 .2 2.9 -2 0 1.2 -2M3239.8 240.2l1 -1.6 0 1.8 -1 -.2M3238.5 242.2l.4 2 -1.4 0 1 -2M3236.4 246.2l.4 -.7 0 .7 -.4 0"/>
<path stroke="#c2ff35" d="M2474.2 736.9l4 -.1 4 1.1 4 3.6 2 2.7 3.2 7.8 1.5 10 5.3 8.2 5.6 13.8 1.3 32 3.6 12 -1 12 1.4 10 -3.3 10 .4 4M3308.8 144.3l-3.5 3.9 -1.7 4 -4.1 4 -.2 2 -3.8 4 -.4 2 -3.6 4 -1.9 4 -3.9 4 -.3 2 -3.8 4 -.4 2 -3.7 4 -.6 2 -5.1 6 -.4 2 -4 4 -.3 2 -2.3 2.6 -1.9 -.6 14.4 -22 30.2 -42M3261.5 208.2l1.3 -1.9 .4 1.9 -.4 1.7 -5.3 6.3 -.3 2 -3.9 4 -.2 2 -2.3 2.4 -1.7 -.4 4.9 -8 7.5 -10M3247.8 228.2l1 -1.4 0 2.5 -1 -1.1M3246.5 230.2l.3 -.4 .5 .4 -.3 2 -1.8 0 1.3 -2M3243.9 234.2l.9 -1.4 0 1.8 -.9 -.4M3242.8 236.2l.1 2 -1.3 0 1.2 -2M3240.4 240.2l.4 -.6 0 .7 -.4 -.1M3238.3 244.2l.5 -1.1 0 1.1 -.5 0"/>
<path stroke="#d3ff24" d="M2474.2 742.9l4 -.2 4 1.1 4.4 4.2 2.1 4 1.7 10 7 10 4.9 12 1.5 32 3.7 12 -.9 12 1.4 10 -3.4 10 .4 4M3308.8 144.3l-2 2.7 -1.9 -.8 2.8 -4M3303.3 148.2l1.5 -1.8 .5 1.8 -.5 1.4 -.9 .6 -.4 2 -4.1 4 -.1 2 -3.9 4 -.3 2 -3.7 4 -1.9 4 -3.9 4 -.2 2 -3.9 4 -.4 2 -3.7 4 -.6 2 -1.4 2 -3.7 4 -.4 2 -2.5 2.8 -1.8 -.8 10.6 -16 25.7 -36M3265.6 202.2l1.2 -1.7 .5 1.7 -.2 2 -2.3 2.6 -1.7 -.6 2.5 -4M3261.8 208.2l1 -1.5 0 2.9 -1 -1.4M3260.5 210.2l.3 -.4 .7 .4 -.4 2 -.3 .4 -1.8 -.4 1.5 -2M3257.4 214.2l1.4 -1.8 0 2.5 -1.4 -.7M3255.8 216.2l1 -1.1 .5 1.1 -.1 2 -2.4 2.6 -1.8 -.6 2.8 -4M3251.8 222.2l1 -1.7 .2 3.7 -2.2 2.3 -1.3 -.3 2.3 -4M3248.2 228.2l.6 -.8 0 1.4 -.6 -.6M3245.6 232.2l1.2 -1.7 .1 1.7 -1.3 0M3244.4 234.2l.4 -.6 0 .8 -.4 -.2M3242.2 238.2l.6 -1 .1 1 -.7 0"/>
<path stroke="#e4ff12" d="M2474.2 751.1l2 -1.3 4 -1.1 2.9 1.3 1.4 2 2.6 10 3.1 2.9 5.4 7.1 5.2 12 1.6 32 3.9 12 -.9 12 1.4 10 -3.5 10 -.1 2 .6 2M3308.8 144.2l-2 2.7 -1.8 -.7 2.9 -4M3303.5 148.2l1.3 -1.6 .4 1.6 -.4 1.2 -1.2 .8 -.1 2 -.7 .7 -1.9 -.7 2.6 -4M3299.4 154.2l1.4 -1.9 .4 1.9 -.4 .9 -1.4 -.9M3298.1 156.2l.7 -1 .5 3 -2.5 2.8 -1.7 -.8 3 -4M3293.5 162.2l1.3 -1.6 .5 1.6 -.3 2 -3.7 4 -1.8 4 -4 4 -.2 2 -3.9 4 -.3 2 -3.8 4 -2 4 -3.8 4 -.2 2 -2.5 2.7 -1.6 -.7 10.6 -16 15.7 -22M3265.9 202.2l.9 -1.3 .2 3.3 -2.2 2.5 -1.5 -.5 2.6 -4M3262 208.2l.8 -1.1 0 2.1 -.8 -1M3259.2 212.2l1.6 -2 0 2.4 -1.6 -.4M3257.7 214.2l1.1 -1.3 0 1.9 -1.1 -.6M3256.2 216.2l.6 -.7 .3 .7 0 2 -2.3 2.5 -1.5 -.5 2.9 -4M3252.1 222.2l.7 -1.1 0 3.3 -1.6 -.2 .9 -2M3249.8 226.2l1 -1.6 0 1.8 -1 -.2M3246.1 232.2l.7 -1 .1 1 -.8 0"/>
<path stroke="#f6f600" d="M2474.2 763l8 -.2 3 1.2 3 2 6 7 5 11 1.8 32 3.9 12 -.7 12 1.3 10 -3.6 10 -.1 2 .7 2M3308.8 143.9l-.7 -1.7M3305.1 146.2l1.7 -2 .6 2 -.6 .7 -1.7 -.7M3303.7 148.2l1.1 -1.4 .4 1.4 -.4 1.1 -1.1 -1.1M3302.3 150.2l.5 -.7 .6 .7 .1 2 -.7 .7 -1.8 -.7 1.3 -2M3299.5 154.2l1.3 -1.7 .4 1.7 -.4 .8 -1.3 -.8M3298.2 156.2l.6 -.7 .4 .7 -.4 2.4 -1.9 -.4 1.3 -2M3295.2 160.2l1.6 -1.9 .5 1.9 -.5 .7 -1.6 -.7M3293.7 162.2l1.1 -1.3 .5 1.3 -.3 2 -2.2 2.7 -1.9 -.7 2.8 -4M3289.3 168.2l1.5 -1.8 .5 1.8 -2.5 4.7 -2 -.7 2.5 -4M3285.4 174.2l1.4 -2 .4 2 -.4 .9 -1.4 -.9M3283.9 176.2l.9 -1.1 .5 1.1 0 2 -2.5 2.8 -1.8 -.8 2.9 -4M3279.5 182.2l1.3 -1.6 .5 1.6 -.3 2 -2.2 2.7 -2 -.7 2.7 -4M3275.3 188.2l1.5 -2 .5 2 -.5 1.5 -.8 .5 -.7 2 -2.5 2.9 -1.5 -.9 4 -6M3270.1 196.2l.7 -1.1 .5 1.1 -.5 2.5 -1.9 -.5 1.2 -2M3267.4 200.2l1.4 -1.9 0 2.5 -1.4 -.6M3266.1 202.2l.7 -.9 .3 .9 -.3 2.2 -1.7 -.2 1 -2M3263.6 206.2l1.2 -1.8 0 2.2 -1.2 -.4M3262.3 208.2l.5 -.7 0 1.3 -.5 -.6M3259.5 212.2l1.3 -1.6 0 1.9 -1.3 -.3M3258.1 214.2l.7 -.9 0 1.3 -.7 -.4M3256.6 216.2l.5 2 -2.1 0 1.6 -2M3253.6 220.2l1.2 -1.7 0 2.1 -1.2 -.4M3252.5 222.2l.3 -.5 .1 .5 0 2 -1.2 0 .8 -2M3250.2 226.2l.6 -1 0 1.1 -.6 -.1M3246.6 232.2l.2 -.3 -.2 .3"/>
<path stroke="#ffe100" d="M2474.2 765.9l6 -.5 2 .4 4.5 2.2 5.7 6 3.5 6 1.6 4 2 32 4 12 -.5 12 1.2 10 -3.7 10 -.1 2 .7 2M3308.8 143.4l-.5 -1.2M3305.2 146.2l1.6 -1.9 .6 1.9 -.6 .6 -1.6 -.6M3303.8 148.2l1 -1.2 0 2.1 -1 -.9M3302.5 150.2l.3 -.4 .3 .4 .3 2 -.6 .6 -1.7 -.6 1.4 -2M3299.7 154.2l1.1 -1.5 .4 1.5 -.4 .7 -1.1 -.7M3298.4 156.2l.4 -.5 .2 .5 -.2 2.4 -1.6 -.4 1.2 -2M3295.4 160.2l1.4 -1.7 .4 1.7 -.4 .7 -1.4 -.7M3293.9 162.2l.9 -1.1 .1 3.1 -2.1 2.7 -1.7 -.7 2.8 -4M3289.5 168.2l1.3 -1.6 .4 1.6 -.4 1.3 -1 .7 -.4 2 -.6 .7 -1.9 -.7 2.6 -4M3285.5 174.2l1.3 -1.7 .4 1.7 -.4 .8 -1.3 -.8M3284.2 176.2l.6 -.8 .4 2.8 -2.4 2.7 -1.6 -.7 3 -4M3279.8 182.2l1 -1.3 .4 1.3 -.2 2 -2.2 2.6 -1.8 -.6 2.8 -4M3275.6 188.2l1.2 -1.7 .4 1.7 -.4 1.3 -1.2 .7 -.3 2 -.5 .5 -1.8 -.5 2.6 -4M3271.6 194.2l1.2 -1.7 0 2.4 -1.2 -.7M3270.3 196.2l.5 -.7 .3 .7 -.3 2.4 -1.7 -.4 1.2 -2M3267.7 200.2l1.1 -1.6 0 2.1 -1.1 -.5M3266.4 202.2l.4 -.5 .2 .5 -.2 2.1 -1.1 -.1 .7 -2M3263.8 206.2l1 -1.5 0 1.8 -1 -.3M3262.6 208.2l.2 -.3 -.2 .3M3259.8 212.2l1 -1.2 0 1.4 -1 -.2M3258.4 214.2l.4 -.5 0 .7 -.4 -.2M3255.3 218.2l1.5 -1.8 .2 1.8 -1.7 0M3254 220.2l.8 -1.2 0 1.5 -.8 -.3M3252.3 224.2l.5 -1.8 0 1.8 -.5 0M3250.6 226.2l.2 -.3 -.2 .3"/>
<path stroke="#ffcb00" d="M2474.2 768.9l6 -.5 2 .4 4 2 3.4 3.2 2.6 3.4 3.4 6.6 2 22 .3 10 4.2 12 -.5 12 1.1 10 -3.7 10 -.1 2 .7 2M3308.8 143l-.3 -.8M3305.4 146.2l1.4 -1.7 .5 1.7 -.5 .6 -1.4 -.6M3304 148.2l.8 -1 0 1.8 -.8 -.8M3302.7 150.2l.7 2 -.6 .6 -1.6 -.6 1.5 -2M3299.8 154.2l1 -1.3 0 1.9 -1 -.6M3298.7 156.2l.4 2 -1.7 0 1.3 -2M3295.5 160.2l1.3 -1.5 .4 1.5 -.4 .6 -1.3 -.6M3294.1 162.2l.7 -.8 .1 2.8 -1.9 0 1.1 -2M3291.2 166.2l1.6 -2 .5 2 -.5 .6 -1.6 -.6M3289.7 168.2l1.1 -1.3 .4 1.3 -.4 1.1 -1.1 -1.1M3288.3 170.2l.5 -.7 .7 .7 -.1 2 -.6 .6 -1.8 -.6 1.3 -2M3285.7 174.2l1.1 -1.5 0 2.2 -1.1 -.7M3284.4 176.2l.4 -.5 .2 .5 .2 2 -.4 .4 -1.8 -.4 1.4 -2M3281.4 180.2l1.4 -1.8 .4 1.8 -.4 .6 -1.4 -.6M3280 182.2l.8 -1 .1 3 -2.1 2.6 -1.6 -.6 2.8 -4M3275.8 188.2l1 -1.4 0 2.5 -1 -1.1M3274.6 190.2l.2 -.4 .4 .4 -.4 2.5 -1.6 -.5 1.4 -2M3271.8 194.2l1 -1.4 0 2 -1 -.6M3270.6 196.2l.4 0 .2 2 -.4 .4 -1.5 -.4 1.3 -2M3267.9 200.2l.9 -1.2 0 1.6 -.9 -.4M3266.7 202.2l.1 2 -.5 0 .4 -2M3264 206.2l.8 -1.1 0 1.3 -.8 -.2M3260.1 212.2l.7 -.8 0 1 -.7 -.2M3255.7 218.2l1.1 -1.4 .2 1.4 -1.3 0M3254.3 220.2l.5 -.7 0 .9 -.5 -.2"/>
<path stroke="#ffb400" d="M2474.2 772l6 -.6 4 1.4 6 5.7 3.3 5.5 2.4 22 .3 10 4.5 12 -.5 12 1.1 10 -3.8 10 -.2 2 .8 2M3308.8 142.5l-.1 -.3M3305.5 146.2l1.3 -1.6 .5 1.6 -.5 .5 -1.3 -.5M3304.2 148.2l.6 -.8 0 1.4 -.6 -.6M3301.3 152.2l1.5 -1.9 .5 1.9 -.5 .5 -1.5 -.5M3300 154.2l.8 -1.1 0 1.6 -.8 -.5M3297.6 158.2l1.2 -1.9 .3 1.9 -1.5 0M3295.7 160.2l1.1 -1.3 0 1.8 -1.1 -.5M3294.3 162.2l.5 -.6 .2 .6 -.2 2 -.5 -2M3291.3 166.2l1.5 -1.8 .4 1.8 -.4 .6 -1.5 -.6M3289.9 168.2l.9 -1.1 0 2 -.9 -.9M3288.5 170.2l.3 -.4 .4 .4 .1 2 -.5 .6 -1.6 -.6 1.3 -2M3285.9 174.2l.9 -1.2 0 1.7 -.9 -.5M3284.7 176.2l.4 2 -1.9 0 1.5 -2M3281.6 180.2l1.2 -1.5 0 2 -1.2 -.5M3280.2 182.2l.6 -.7 .1 2.7 -1.6 0 .9 -2M3277.4 186.2l1.4 -1.9 .4 1.9 -.4 .5 -1.4 -.5M3276 188.2l.8 -1 0 1.8 -.8 -.8M3273.3 192.2l1.5 -2 .4 2 -.4 .4 -1.5 -.4M3272 194.2l.8 -1.1 0 1.6 -.8 -.5M3269.5 198.2l1.3 -1.9 .3 1.9 -1.6 0M3268.2 200.2l.6 -.9 0 1.2 -.6 -.3M3264.3 206.2l.5 -.7 0 .9 -.5 -.2M3260.5 212.2l.3 -.4 -.3 .4M3256 218.2l.8 -1 .1 1 -.9 0"/>
<path stroke="#ff9d00" d="M2474.2 775.3l6 -.4 2 .6 5.9 4.5 2.8 4 1 10 2 12 .4 10 4.8 12 -.5 12 1.2 10 -4.1 10 -.1 2 .8 2M3305.6 146.2l1.2 -1.4 .4 1.4 -.4 .5 -1.2 -.5M3304.4 148.2l.4 -.5 0 .9 -.4 -.4M3301.4 152.2l1.4 -1.8 .5 1.8 -.5 .5 -1.4 -.5M3300.2 154.2l.6 -.8 0 1.2 -.6 -.4M3297.8 158.2l1 -1.5 .2 1.5 -1.2 0M3295.9 160.2l.9 -1.1 0 1.5 -.9 -.4M3294.5 162.2l.4 0 -.1 1.3 -.3 -1.3M3291.5 166.2l1.3 -1.6 .4 1.6 -.4 .5 -1.3 -.5M3290.1 168.2l.7 -.8 0 1.5 -.7 -.7M3288.7 170.2l.6 2 -.5 .5 -1.5 -.5 1.4 -2M3286.1 174.2l.7 -.9 0 1.3 -.7 -.4M3283.5 178.2l1.3 -1.9 .3 1.9 -1.6 0M3281.8 180.2l1 -1.3 0 1.7 -1 -.4M3280.5 182.2l.3 -.4 .1 .4 -.1 2 -.4 0 .1 -2M3277.6 186.2l1.2 -1.6 0 2 -1.2 -.4M3276.3 188.2l.5 -.7 0 1.2 -.5 -.5M3273.5 192.2l1.3 -1.7 .3 1.7 -.3 .4 -1.3 -.4M3272.3 194.2l.5 -.7 0 1 -.5 -.3M3269.7 198.2l1.1 -1.6 .3 1.6 -1.4 0M3268.4 200.2l.4 -.5 0 .7 -.4 -.2M3264.6 206.2l.2 -.4 -.2 .4M3256.3 218.2l.5 -.6 .1 .6 -.6 0"/>
<path stroke="#ff8500" d="M2474.2 778.7l6 .2 2 .7 2 1.1 3.4 3.3 1.1 10 3 12 .4 10 5.4 12 -.5 12 1.1 10 -4.3 10 -.2 2 1 2M3305.7 146.2l1.1 -1.3 .4 1.3 -.4 .4 -1.1 -.4M3304.6 148.2l.2 -.3 -.2 .3M3301.6 152.2l1.2 -1.6 .5 1.6 -.5 .5 -1.2 -.5M3300.3 154.2l.5 -.6 0 .9 -.5 -.3M3298.1 158.2l.7 -1.1 .2 1.1 -.9 0M3296 160.2l.8 -.9 0 1.3 -.8 -.4M3291.6 166.2l1.2 -1.4 .4 1.4 -.4 .4 -1.2 -.4M3290.3 168.2l.5 -.6 0 1.1 -.5 -.5M3287.4 172.2l1.4 -1.9 .5 1.9 -.5 .5 -1.4 -.5M3286.3 174.2l.5 -.7 0 1 -.5 -.3M3283.7 178.2l1.1 -1.5 .2 1.5 -1.3 0M3282 180.2l.8 -1 0 1.3 -.8 -.3M3280.7 182.2l.1 .5 -.1 -.5M3277.8 186.2l1 -1.4 0 1.8 -1 -.4M3276.5 188.2l.3 -.4 0 .7 -.3 -.3M3273.7 192.2l1.1 -1.4 .3 1.4 -1.4 0M3272.5 194.2l.3 -.4 -.3 .4M3269.9 198.2l.9 -1.3 .2 1.3 -1.1 0"/>
<path stroke="#ff6d00" d="M2474.2 782.6l6 1 .9 .4 1.3 2 6.6 20 .6 10 6.1 12 -.7 12 1.4 10 -4.9 10 -.2 2 1.1 2M3305.8 146.2l1 -1.1 .4 1.1 -.4 .4 -1 -.4M3301.7 152.2l1.1 -1.4 .4 1.4 -.4 .4 -1.1 -.4M3300.5 154.2l.3 -.4 -.3 .4M3298.3 158.2l.5 -.7 .1 .7 -.6 0M3296.2 160.2l.6 -.7 0 1 -.6 -.3M3291.8 166.2l1 -1.2 0 1.6 -1 -.4M3290.5 168.2l.3 -.3 0 .6 -.3 -.3M3287.6 172.2l1.2 -1.7 .4 1.7 -.4 .4 -1.2 -.4M3286.5 174.2l.3 -.4 -.3 .4M3283.9 178.2l.9 -1.2 .2 1.2 -1.1 0M3282.2 180.2l.6 -.8 0 1.1 -.6 -.3M3278 186.2l.8 -1.1 0 1.4 -.8 -.3M3273.9 192.2l.9 -1.2 .2 1.2 -1.1 0M3270.1 198.2l.7 -1 .2 1 -.9 0"/>
<path stroke="#ff5300" d="M2474.2 797.4l4 0 2 .8 2 2.6 2.8 5.2 1 10 4.2 5.9 3.5 6.1 -1.1 10 1.7 12 -5.6 10 -.2 2 1.3 2M3306 146.2l.8 -1 .3 1 -1.1 0M3301.8 152.2l1 -1.3 .4 1.3 -.4 .4 -1 -.4M3298.6 158.2l.2 -.3 -.2 .3M3296.4 160.2l.4 -.5 0 .7 -.4 -.2M3292 166.2l.8 -1 0 1.3 -.8 -.3M3287.7 172.2l1.1 -1.5 .4 1.5 -.4 .4 -1.1 -.4M3284.2 178.2l.6 -.8 .1 .8 -.7 0M3282.4 180.2l.4 -.5 0 .7 -.4 -.2M3278.2 186.2l.6 -.8 0 1 -.6 -.2M3274.1 192.2l.7 -.9 .2 .9 -.9 0M3270.4 198.2l.4 -.6 .1 .6 -.5 0"/>
<path stroke="#ff3900" d="M2474.2 818.7l6 -.6 4 1.4 4 4.1 2.9 4.4 -1.5 10 2.4 12 -6.3 10 -.2 2 1.2 2M3306.1 146.2l.7 -.8 .3 .8 -1 0M3301.9 152.2l.9 -1.1 .3 1.1 -1.2 0M3296.6 160.2l.2 -.3 -.2 .3M3292.1 166.2l.7 -.8 0 1.1 -.7 -.3M3287.9 172.2l.9 -1.3 .3 1.3 -1.2 0M3284.5 178.2l.3 -.5 -.3 .5M3278.4 186.2l.4 -.5 0 .6 -.4 -.1M3274.4 192.2l.4 -.6 .1 .6 -.5 0"/>
<path stroke="#ff1e00" d="M2474.2 821.7l6 .2 2 .7 2.2 1.4 3.5 4 -2.2 10 3.4 12 -4.9 7.3 -3 2.7 -1 1.9 -2.7 -1.9 -3.3 -.7M2474.2 863.4l6 -1.4 2.6 2M3306.3 146.2l.5 -.6 .2 .6 -.7 0M3302.1 152.2l.7 -.9 .3 .9 -1 0M3292.3 166.2l.5 -.6 0 .8 -.5 -.2M3288 172.2l.8 -1.1 .3 1.1 -1.1 0M3274.6 192.2l.2 -.3 -.2 .3"/>
<path stroke="#eb0300" d="M2474.2 824.9l6 1.1 3.5 2 -2.6 6 -2.6 4 .6 2 3.1 2.8 2 2.9 1.7 4.3 -3.7 4.6 -2 1.1 -6 -.3M3306.4 146.2l.4 -.5 .1 .5 -.5 0M3302.2 152.2l.6 -.7 .2 .7 -.8 0M3292.5 166.2l.3 -.4 -.3 .4M3288.2 172.2l.6 -.9 .2 .9 -.8 0"/>
<path stroke="#c80000" d="M2474.2 846.7l4 1.1 2 1 1.2 1.2 -3.2 1.2 -4 .2M3306.6 146.2l.2 -.3 -.2 .3M3302.4 152.2l.4 -.6 .2 .6 -.6 0M3288.3 172.2l.5 -.7 .2 .7 -.7 0"/>
<path stroke="#a40000" d="M3302.5 152.2l.3 -.4 -.3 .4M3288.5 172.2l.3 -.5 .1 .5 -.4 0"/>
</g>
<rect x="2478.2" y="150.2" width="825.9" height="709.2" fill="none" stroke="#000" stroke-width="2.8"/>
<path d="M2478.2 859.4v-8.2M2500.73 859.4v-8.2M2519.77 859.4v-8.2M2536.27 859.4v-8.2M2550.82 859.4v-8.2M2563.84 859.4v-15.4M2649.48 859.4v-8.2M2699.58 859.4v-8.2M2735.12 859.4v-8.2M2762.69 859.4v-8.2M2785.22 859.4v-8.2M2804.26 859.4v-8.2M2820.76 859.4v-8.2M2835.31 859.4v-8.2M2848.33 859.4v-15.4M2933.97 859.4v-8.2M2984.07 859.4v-8.2M3019.61 859.4v-8.2M3047.18 859.4v-8.2M3069.71 859.4v-8.2M3088.75 859.4v-8.2M3105.25 859.4v-8.2M3119.8 859.4v-8.2M3132.82 859.4v-15.4M3218.46 859.4v-8.2M3268.56 859.4v-8.2M3304.1 859.4v-8.2M2478.2 859.4h15.4M2478.2 726.14h8.2M2478.2 648.19h8.2M2478.2 592.88h8.2M2478.2 549.98h8.2M2478.2 514.93h8.2M2478.2 485.29h8.2M2478.2 459.62h8.2M2478.2 436.98h8.2M2478.2 416.72h15.4M2478.2 283.46h8.2M2478.2 205.51h8.2M2478.2 150.2h8.2" stroke="#000" stroke-width="2.5" fill="none"/>
<g fill="#000">
<text transform="translate(2526.44 914) scale(1.1 1)" font-size="48.3">10</text><text transform="translate(2582.14 898.9) scale(1.06 1)" font-size="34.5">0</text>
<text transform="translate(2810.93 914) scale(1.1 1)" font-size="48.3">10</text><text transform="translate(2866.63 898.9) scale(1.06 1)" font-size="34.5">1</text>
<text transform="translate(3095.42 914) scale(1.1 1)" font-size="48.3">10</text><text transform="translate(3151.12 898.9) scale(1.06 1)" font-size="34.5">2</text>
<text transform="translate(2384.5 881) scale(1.1 1)" font-size="48.3">10</text><text transform="translate(2440.2 865.9) scale(1.06 1)" font-size="34.5">1</text>
<text transform="translate(2384.5 438.32) scale(1.1 1)" font-size="48.3">10</text><text transform="translate(2440.2 423.22) scale(1.06 1)" font-size="34.5">2</text>
<text x="2847.7" y="985.5" font-size="45.5" font-style="italic">y</text>
<text x="2869.96" y="971.9" font-size="40" font-family="'DejaVu Sans', sans-serif" font-weight="200">+</text>
<text transform="translate(2877.55 996.6) scale(1.27 1)" font-size="32">min</text>
<g transform="translate(2331 535.4) rotate(-90)">
<text x="3.8" y="0" font-size="45.5" font-style="italic">y</text>
<text x="26.06" y="-13.6" font-size="40" font-family="'DejaVu Sans', sans-serif" font-weight="200">+</text>
<text transform="translate(33.65 11.1) scale(1.27 1)" font-size="32">max</text>
</g>
<text transform="translate(2275.15 51.5) scale(1.17 1)" font-size="50">(c)</text>
</g>
<rect x="2478.2" y="10.4" width="825.9" height="39.6" fill="url(#jet)" stroke="#000" stroke-width="2.8"/>
<text transform="translate(2501.14 117.7) scale(1.1 1)" text-anchor="middle" font-size="48.3">1</text>
<text transform="translate(2615.85 117.7) scale(1.1 1)" text-anchor="middle" font-size="48.3">2</text>
<text transform="translate(2730.56 117.7) scale(1.1 1)" text-anchor="middle" font-size="48.3">3</text>
<text transform="translate(2845.27 117.7) scale(1.1 1)" text-anchor="middle" font-size="48.3">4</text>
<text transform="translate(2959.97 117.7) scale(1.1 1)" text-anchor="middle" font-size="48.3">5</text>
<text transform="translate(3074.68 117.7) scale(1.1 1)" text-anchor="middle" font-size="48.3">6</text>
<text transform="translate(3189.39 117.7) scale(1.1 1)" text-anchor="middle" font-size="48.3">7</text>
<text transform="translate(3304.1 117.7) scale(1.1 1)" text-anchor="middle" font-size="48.3">8</text>
<path d="M2501.14 50v15.5M2615.85 50v15.5M2730.56 50v15.5M2845.27 50v15.5M2959.97 50v15.5M3074.68 50v15.5M3189.39 50v15.5M3304.1 50v15.5" stroke="#000" stroke-width="2.5" fill="none"/>
</g>
<g>
<g clip-path="url(#clipd)" fill="none" stroke-width="1.6" stroke-linejoin="round">
<path fill="#000080" stroke="#000080" stroke-width="0.6" fill-rule="evenodd" d="M214.4 1789.6l6 -.1 1.5 1.5 4.5 0 1.5 1.2 6 .6 1.5 1.2 4.5 .1 1.5 1.4 4.5 .1 1.5 1.5 1.5 0 1.5 1.4 1.5 .1 1.5 1 3 .8 1.5 1.2 1.5 0 1.5 1.6 1.5 0 1.5 1.4 1.5 .1 3 2.5 13.7 17.8 6.6 19.5 1.2 7.5 .5 6 1.2 6 1.6 15 .5 12 1.2 9 .2 21 -.2 -21 -1.2 -9 -.6 -12 -1.6 -15 -1.2 -6 -.2 -4.5 -1.5 -9 -6.5 -19.5 -10.2 -13.5 -5 -5.9 -1.5 -.9 -1.5 -.1 -1.5 -1.4 -1.5 0 -1.5 -1.5 -1.5 0 -1.5 -1.3 -3 -.8 -1.5 -1 -1.5 0 -1.5 -1.5 -1.5 0 -1.5 -1.5 -4.5 0 -1.5 -1.5 -4.5 0 -1.5 -1.2 -6 -.6 -1.5 -1.2 -4.5 0 -1.5 -1.5 -6 0z"/>
<path fill="#000081" stroke="#000081" stroke-width="0.6" fill-rule="evenodd" d="M214.4 1789.6l6 0 1.5 1.5 4.5 0 1.5 1.2 6 .6 1.5 1.2 4.5 0 1.5 1.5 4.5 0 1.5 1.5 1.5 0 1.5 1.5 1.5 0 1.5 1 3 .8 1.5 1.3 1.5 0 1.5 1.5 1.5 0 1.5 1.4 1.5 .1 1.5 .9 5 5.9 10.2 13.5 6.5 19.5 1.5 9 .2 4.5 1.2 6 1.6 15 .6 12 1.2 9 .2 21 -.3 -21 -1.2 -9 -.5 -12 -1.6 -15 -1 -4.5 -.5 -6 -1.4 -9 -6.6 -19.5 -10.1 -13.5 -5 -5.8 -1.5 -.9 -1.5 -.2 -1.5 -1.4 -1.5 0 -1.5 -1.5 -1.5 0 -1.5 -1.2 -3 -.8 -1.5 -1 -1.5 -.1 -1.5 -1.4 -1.5 -.1 -1.5 -1.4 -4.5 -.1 -1.5 -1.5 -4.5 0 -1.5 -1.2 -6 -.6 -1.5 -1.2 -4.5 0 -1.5 -1.5 -6 0z"/>
<path fill="#000082" stroke="#000082" stroke-width="0.6" fill-rule="evenodd" d="M214.4 1789.6l6 0 1.5 1.5 4.5 0 1.5 1.2 6 .6 1.5 1.2 4.5 0 1.5 1.5 4.5 .1 1.5 1.4 1.5 .1 1.5 1.4 1.5 .1 1.5 1 3 .8 1.5 1.2 1.5 0 1.5 1.5 1.5 0 1.5 1.4 1.5 .2 1.5 .9 5 5.8 10.1 13.5 6.6 19.5 1.4 9 .5 6 1 4.5 1.6 15 .5 12 1.2 9 .3 21 -.3 -21 -1.2 -9 -.6 -12 -1.6 -15 -1 -4.5 -.4 -6 -1.5 -9 -6.6 -19.5 -10.1 -13.5 -4.9 -5.7 -1.5 -1 -1.5 -.1 -1.5 -1.4 -1.5 0 -1.5 -1.5 -1.5 -.1 -1.5 -1.2 -3 -.8 -1.5 -1 -1.5 -.1 -1.5 -1.4 -1.5 0 -1.5 -1.5 -4.5 -.1 -1.5 -1.4 -4.5 -.1 -1.5 -1.1 -6 -.7 -1.5 -1.2 -4.5 0 -1.5 -1.5 -6 0z"/>
<path fill="#000083" stroke="#000083" stroke-width="0.6" fill-rule="evenodd" d="M214.4 1789.7l6 -.1 1.5 1.5 4.5 0 1.5 1.2 6 .7 1.5 1.1 4.5 .1 1.5 1.4 4.5 .1 1.5 1.5 1.5 0 1.5 1.4 1.5 .1 1.5 1 3 .8 1.5 1.2 1.5 .1 1.5 1.5 1.5 0 1.5 1.4 1.5 .1 1.5 1 4.9 5.7 10.1 13.5 6.6 19.5 1.5 9 .4 6 1 4.5 1.6 15 .6 12 1.2 9 .3 21 -.3 -21 -1.2 -9 -.5 -10.5 -1.7 -16.5 -1 -4.5 -.5 -6 -1.4 -9 -6.6 -19.4 -10.2 -13.6 -4.8 -5.6 -1.5 -1 -1.5 -.2 -1.5 -1.4 -1.5 0 -1.5 -1.5 -1.5 0 -1.5 -1.2 -3 -.8 -1.5 -1 -1.5 -.1 -1.5 -1.5 -1.5 0 -1.5 -1.5 -4.5 0 -1.5 -1.5 -4.5 0 -1.5 -1.2 -6 -.6 -1.5 -1.2 -4.5 0 -1.5 -1.5 -6 0z"/>
<path fill="#000084" stroke="#000084" stroke-width="0.6" fill-rule="evenodd" d="M214.4 1789.7l6 0 1.5 1.5 4.5 0 1.5 1.2 6 .6 1.5 1.2 4.5 0 1.5 1.5 4.5 0 1.5 1.5 1.5 0 1.5 1.5 1.5 .1 1.5 1 3 .8 1.5 1.2 1.5 0 1.5 1.5 1.5 0 1.5 1.4 1.5 .2 1.5 1 4.8 5.6 10.2 13.6 6.6 19.4 1.4 9 .5 6 1 4.5 1.7 16.5 .5 10.5 1.2 9 .3 21 -.4 -21 -1 -7.5 -.6 -12 -1.8 -16.5 -1 -4.5 -.4 -6 -1.1 -4.5 -.4 -4.5 -1.3 -3 -5.2 -16.3 -11.4 -15.2 -4 -4.5 -1.1 -.6 -1.5 -.1 -1.5 -1.4 -1.5 0 -1.5 -1.5 -1.5 -.1 -1.5 -1.1 -3 -.8 -1.5 -1.1 -1.5 -.1 -1.5 -1.4 -1.5 0 -1.5 -1.5 -4.5 -.1 -1.5 -1.5 -4.5 0 -1.5 -1.1 -1.5 -.4 -4.5 -.3 -1.5 -1.2 -4.5 0 -1.5 -1.5 -6 0z"/>
<path fill="#000085" stroke="#000085" stroke-width="0.6" fill-rule="evenodd" d="M214.4 1789.7l6 0 1.5 1.5 4.5 0 1.5 1.2 4.5 .3 1.5 .4 1.5 1.1 4.5 0 1.5 1.5 4.5 .1 1.5 1.5 1.5 0 1.5 1.4 1.5 .1 1.5 1.1 3 .8 1.5 1.1 1.5 .1 1.5 1.5 1.5 0 1.5 1.4 1.5 .1 1.1 .6 4 4.5 11.4 15.2 5.2 16.3 1.3 3 .4 4.5 1.1 4.5 .4 6 1 4.5 1.8 16.5 .6 12 1 7.5 .4 21 -.4 -21 -1 -7.5 -.7 -12 -1.5 -15 -1.3 -6 -.4 -6 -1.1 -4.5 -.3 -4.5 -1.4 -3 -.1 -1.5 -1.4 -3 -3.2 -10.5 -1.6 -3 -13.8 -17.5 -1.5 -1 -1.5 -.1 -1.5 -1.5 -1.5 0 -1.5 -1.5 -1.5 0 -1.5 -1.2 -3 -.8 -1.5 -1.1 -1.5 0 -1.5 -1.5 -1.5 0 -1.5 -1.5 -4.5 0 -1.5 -1.5 -4.5 -.1 -1.5 -1.1 -1.5 -.4 -4.5 -.2 -1.5 -1.3 -4.5 0 -1.5 -1.4 -6 -.1z"/>
<path fill="#000086" stroke="#000086" stroke-width="0.6" fill-rule="evenodd" d="M214.4 1789.8l6 0 1.5 1.4 4.5 0 1.5 1.3 4.5 .2 1.5 .4 1.5 1.1 4.5 .1 1.5 1.5 4.5 0 1.5 1.5 1.5 0 1.5 1.5 1.5 0 1.5 1.1 3 .8 1.5 1.2 1.5 0 1.5 1.5 1.5 0 1.5 1.5 1.5 .1 1.5 1 13.8 17.5 1.6 3 3.2 10.5 1.4 3 .1 1.5 1.4 3 .3 4.5 1.1 4.5 .4 6 1.3 6 1.5 15 .7 12 1 7.5 .3 21 -.4 -21 -1 -7.5 -.6 -12 -1.6 -15 -1.3 -6 -.4 -6 -1.1 -4.5 -.3 -4.5 -1.4 -3 -.1 -1.5 -1.4 -3 -3.1 -10.5 -1.6 -3 -2.7 -3 -7.6 -10.5 -3.5 -3.9 -1.5 -1.1 -1.5 -.1 -1.5 -1.4 -1.5 0 -1.5 -1.5 -1.5 -.1 -1.5 -1.1 -3 -.8 -1.5 -1.1 -1.5 -.1 -1.5 -1.4 -1.5 0 -1.5 -1.5 -4.5 -.1 -1.5 -1.5 -4.5 0 -1.5 -1.1 -1.5 -.4 -4.5 -.3 -1.5 -1.2 -4.5 0 -1.5 -1.5 -6 0z"/>
<path fill="#000087" stroke="#000087" stroke-width="0.6" fill-rule="evenodd" d="M214.4 1789.8l6 0 1.5 1.5 4.5 0 1.5 1.2 4.5 .3 1.5 .4 1.5 1.1 4.5 0 1.5 1.5 4.5 .1 1.5 1.5 1.5 0 1.5 1.4 1.5 .1 1.5 1.1 3 .8 1.5 1.1 1.5 .1 1.5 1.5 1.5 0 1.5 1.4 1.5 .1 1.5 1.1 3.5 3.9 7.6 10.5 2.7 3 1.6 3 3.1 10.5 1.4 3 .1 1.5 1.4 3 .3 4.5 1.1 4.5 .4 6 1.3 6 1.6 15 .6 12 1 7.5 .4 21 -.4 -21 -1 -7.5 -.6 -10.5 -1.2 -9 -.4 -7.5 -1.3 -6 -.4 -6 -1.2 -4.5 -.3 -4.5 -1.3 -3 -.2 -1.5 -1.4 -3 -.1 -1.5 -1.4 -3 -1.6 -6 -1.6 -3 -3.9 -4.5 -.6 -1.5 -3.9 -4.5 -1.9 -3 -3.4 -3.8 -1.5 -1.1 -1.5 -.1 -1.5 -1.5 -1.5 0 -1.5 -1.5 -1.5 0 -1.5 -1.1 -3 -.8 -1.5 -1.2 -1.5 0 -1.5 -1.5 -1.5 0 -1.5 -1.5 -4.5 0 -1.5 -1.5 -4.5 -.1 -3 -1.5 -4.5 -.2 -1.5 -1.3 -4.5 0 -1.5 -1.5 -6 0z"/>
<path fill="#000089" stroke="#000089" stroke-width="0.6" fill-rule="evenodd" d="M214.4 1789.9l6 -.1 1.5 1.5 4.5 0 1.5 1.3 4.5 .2 3 1.5 4.5 .1 1.5 1.5 4.5 0 1.5 1.5 1.5 0 1.5 1.5 1.5 0 1.5 1.2 3 .8 1.5 1.1 1.5 0 1.5 1.5 1.5 0 1.5 1.5 1.5 .1 1.5 1.1 3.4 3.8 1.9 3 3.9 4.5 .6 1.5 3.9 4.5 1.6 3 1.6 6 1.4 3 .1 1.5 1.4 3 .2 1.5 1.3 3 .3 4.5 1.2 4.5 .4 6 1.3 6 .4 7.5 1.2 9 .6 10.5 1 7.5 .4 21 -.3 -19.5 -3.4 -36 -1.1 -4.5 -.6 -7.5 -.9 -3 -.5 -6 -1 -1.5 -.5 -3 -1 -1.5 -.5 -3 -1 -1.5 -2.1 -7.5 -1.6 -3 -3.9 -4.5 -.6 -1.5 -4 -4.5 -1.8 -3 -3.3 -3.6 -1.5 -1.3 -1.5 -.1 -1.5 -1.4 -1.5 0 -1.5 -1.5 -1.5 -.1 -1.5 -1.1 -3 -.7 -1.5 -1.2 -1.5 -.1 -1.5 -1.4 -1.5 0 -1.5 -1.5 -4.5 -.1 -1.5 -1.5 -4.5 0 -3 -1.5 -4.5 -.2 -1.5 -1.3 -4.5 0 -1.5 -1.5 -6 0z"/>
<path fill="#00008a" stroke="#00008a" stroke-width="0.6" fill-rule="evenodd" d="M214.4 1789.9l6 0 1.5 1.5 4.5 0 1.5 1.3 4.5 .2 3 1.5 4.5 0 1.5 1.5 4.5 .1 1.5 1.5 1.5 0 1.5 1.4 1.5 .1 1.5 1.2 3 .7 1.5 1.1 1.5 .1 1.5 1.5 1.5 0 1.5 1.4 1.5 .1 1.5 1.3 3.3 3.6 1.8 3 4 4.5 .6 1.5 3.9 4.5 1.6 3 2.1 7.5 1 1.5 .5 3 1 1.5 .5 3 1 1.5 .5 6 .9 3 .6 7.5 1.1 4.5 3.4 36 .3 19.5 -.4 -19.5 -1.2 -10.5 -.6 -10.5 -1.2 -7.5 -.4 -7.5 -1.1 -4.5 -.6 -7.5 -1 -3 -.4 -6 -1.1 -1.5 -.4 -3 -1.1 -1.5 -.4 -3 -1.1 -1.5 -.4 -3 -1.1 -1.5 -.4 -3 -1.2 -1.5 -.4 -1.5 -4.1 -4.5 -.5 -1.5 -4 -4.5 -1.7 -3 -3.3 -3.5 -1.5 -1.3 -1.5 -.1 -1.5 -1.4 -1.5 -.1 -1.5 -1.5 -1.5 0 -1.6 -1.1 -2.9 -.7 -1.5 -1.3 -1.5 0 -1.5 -1.5 -1.5 0 -1.5 -1.5 -4.5 0 -1.5 -1.5 -4.5 -.1 -3 -1.5 -4.5 -.2 -1.5 -1.3 -4.5 0 -1.5 -1.5 -6 0z"/>
<path fill="#00008b" stroke="#00008b" stroke-width="0.6" fill-rule="evenodd" d="M214.4 1790l6 -.1 1.5 1.5 4.5 0 1.5 1.3 4.5 .2 3 1.5 4.5 .1 1.5 1.5 4.5 0 1.5 1.5 1.5 0 1.5 1.5 1.5 0 1.5 1.3 2.9 .7 1.6 1.1 1.5 0 1.5 1.5 1.5 .1 1.5 1.4 1.5 .1 1.5 1.3 3.3 3.5 1.7 3 4 4.5 .5 1.5 4.1 4.5 .4 1.5 1.2 1.5 .4 3 1.1 1.5 .4 3 1.1 1.5 .4 3 1.1 1.5 .4 3 1.1 1.5 .4 6 1 3 .6 7.5 1.1 4.5 .4 7.5 1.2 7.5 .6 10.5 1.2 10.5 .3 19.5 -.3 -19.5 -1.2 -9 -.7 -12 -1.2 -7.5 -.3 -7.5 -1.3 -4.5 -.4 -7.5 -1.1 -3 -.4 -6 -1.2 -1.5 -.3 -3 -1.2 -1.5 -.3 -3 -1.2 -1.5 -.4 -3.3 -1.1 -1.2 -.3 -3 -1.3 -1.5 -.3 -1.3 -4.1 -4.7 -1.7 -3 -2.8 -3 -1.7 -3 -3.2 -3.4 -1.5 -1.3 -1.5 -.1 -1.5 -1.5 -1.5 0 -1.5 -1.5 -1.5 0 -1.8 -1.2 -2.7 -.6 -1.5 -1.3 -1.5 0 -1.5 -1.5 -1.5 0 -1.5 -1.5 -4.5 -.1 -1.5 -1.5 -4.5 0 -3 -1.5 -4.5 -.2 -1.5 -1.3 -4.5 0 -1.5 -1.5 -6 0z"/>
<path fill="#00008d" stroke="#00008d" stroke-width="0.6" fill-rule="evenodd" d="M214.4 1790l6 0 1.5 1.5 4.5 0 1.5 1.3 4.5 .2 3 1.5 4.5 0 1.5 1.5 4.5 .1 1.5 1.5 1.5 0 1.5 1.5 1.5 0 1.5 1.3 2.7 .6 1.8 1.2 1.5 0 1.5 1.5 1.5 0 1.5 1.5 1.5 .1 1.5 1.3 3.2 3.4 1.7 3 2.8 3 1.7 3 4.1 4.7 .3 1.3 1.3 1.5 .3 3 1.1 1.2 .4 3.3 1.2 1.5 .3 3 1.2 1.5 .3 3 1.2 1.5 .4 6 1.1 3 .4 7.5 1.3 4.5 .3 7.5 1.2 7.5 .7 12 1.2 9 .3 19.5 -.2 -18 -1.3 -10.5 -.7 -12 -1.3 -7.5 -.3 -7.5 -1.3 -4.5 -.4 -7.4 -1 -1.6 -.2 -1.5 -.2 -6 -1.4 -1.5 -.2 -3.1 -1.3 -1.4 -.2 -3.1 -1.3 -1.4 -.2 -3.1 -1.3 -1.4 -.2 -3 -1.4 -1.5 -1.6 -3.1 -2.8 -2.9 -1.6 -3 -4 -4.5 -.5 -1.5 -4.6 -4.7 -1.5 0 -1.5 -1.5 -1.5 0 -1.5 -1.5 -1.5 -.1 -2 -1.2 -2.5 -.5 -1.5 -1.3 -1.5 -.1 -1.5 -1.4 -1.5 -.1 -1.5 -1.4 -4.5 -.1 -1.5 -1.5 -4.5 -.1 -3 -1.5 -4.5 -.1 -1.5 -1.4 -4.5 0 -1.5 -1.5 -6 0z"/>
<path fill="#00008f" stroke="#00008f" stroke-width="0.6" fill-rule="evenodd" d="M214.4 1790.1l6 -.1 1.5 1.5 4.5 0 1.5 1.4 4.5 .1 3 1.5 4.5 .1 1.5 1.5 4.5 .1 1.5 1.4 1.5 .1 1.5 1.4 1.5 .1 1.5 1.3 2.5 .5 2 1.2 1.5 .1 1.5 1.5 1.5 0 1.5 1.5 1.5 0 4.6 4.7 .5 1.5 4 4.5 1.6 3 2.8 2.9 1.6 3.1 1.4 1.5 .2 3 1.3 1.4 .2 3.1 1.3 1.4 .2 3.1 1.3 1.4 .2 3.1 1.4 1.5 .2 6 .2 1.5 1 1.6 .4 7.4 1.3 4.5 .3 7.5 1.3 7.5 .7 12 1.3 10.5 .2 18 -.4 -19.5 -1.2 -9 -.5 -10.5 -1.5 -9 -.3 -7.5 -.8 -1.5 -.5 -3 -.3 -6.6 -1.2 -2.4 -.3 -5.7 -.6 -1.8 -7.7 -19.5 -2.2 -4.5 -2.8 -3 -.2 -1.5 -4.2 -4.5 -.3 -1.5 -4.3 -4.5 -1.7 -.1 -1.5 -1.5 -1.5 -.1 -1.5 -1.5 -1.5 0 -2.2 -1.3 -2.3 -.4 -1.5 -1.4 -1.5 0 -1.5 -1.5 -1.5 0 -1.5 -1.5 -4.5 -.1 -1.5 -1.5 -4.5 0 -3 -1.5 -4.5 -.2 -1.5 -1.3 -4.5 0 -1.5 -1.5 -6 0z"/>
<path fill="#000090" stroke="#000090" stroke-width="0.6" fill-rule="evenodd" d="M214.4 1790.2l6 -.1 1.5 1.5 4.5 0 1.5 1.3 4.5 .2 3 1.5 4.5 0 1.5 1.5 4.5 .1 1.5 1.5 1.5 0 1.5 1.5 1.5 0 1.5 1.4 2.3 .4 2.2 1.3 1.5 0 1.5 1.5 1.5 .1 1.5 1.5 1.7 .1 4.3 4.5 .3 1.5 4.2 4.5 .2 1.5 2.8 3 2.2 4.5 7.7 19.5 .6 1.8 .3 5.7 1.2 2.4 .3 6.6 .5 3 .8 1.5 .3 7.5 1.5 9 .5 10.5 1.2 9 .4 19.5 -.5 -19.5 -1.1 -9 -.6 -10.5 -1.3 -7.5 -.5 -9 -1 -1.5 -.3 -1.5 -.2 -5.9 -1.4 -3.1 -2.6 -9 -6.5 -16.5 -10.5 -18.6 -3 -3.9 -1.5 -.1 -1.5 -1.5 -1.5 0 -1.5 -1.5 -1.5 0 -1.5 -.5 -.9 -.9 -2.1 -.3 -1.5 -1.4 -1.5 0 -1.5 -1.5 -1.5 0 -1.5 -1.5 -4.5 -.1 -1.5 -1.5 -4.5 -.1 -3 -1.4 -4.5 -.2 -1.5 -1.3 -4.5 -.1 -1.5 -1.4 -6 0z"/>
<path fill="#000092" stroke="#000092" stroke-width="0.6" fill-rule="evenodd" d="M214.4 1790.2l6 0 1.5 1.4 4.5 .1 1.5 1.3 4.5 .2 3 1.4 4.5 .1 1.5 1.5 4.5 .1 1.5 1.5 1.5 0 1.5 1.5 1.5 0 1.5 1.4 2.1 .3 .9 .9 1.5 .5 1.5 0 1.5 1.5 1.5 0 1.5 1.5 1.5 .1 3 3.9 10.5 18.6 6.5 16.5 2.6 9 1.4 3.1 .2 5.9 .3 1.5 1 1.5 .5 9 1.3 7.5 .6 10.5 1.1 9 .4 19.5 -.3 -18 -1.3 -10.5 -.6 -10.5 -1.4 -7.5 -.3 -7.9 -1.4 -2.6 -.1 -1.9 -5.2 -16.1 -5.3 -13.5 -10.5 -18.8 -4.3 -6.7 -2.6 -3 -.6 0 -1.5 -1.5 -3 -.3 -1.2 -1.2 -1.8 -.2 -1.5 -1.4 -1.5 -.1 -1.5 -1.4 -1.5 -.1 -1.5 -1.4 -4.5 -.1 -1.5 -1.5 -4.5 -.1 -3 -1.5 -4.5 -.1 -1.5 -1.4 -4.5 0 -1.5 -1.5 -6 0z"/>
<path fill="#000094" stroke="#000094" stroke-width="0.6" fill-rule="evenodd" d="M214.4 1790.3l6 -.1 1.5 1.5 4.5 0 1.5 1.4 4.5 .1 3 1.5 4.5 .1 1.5 1.5 4.5 .1 1.5 1.4 1.5 .1 1.5 1.4 1.5 .1 1.5 1.4 1.8 .2 1.2 1.2 3 .3 1.5 1.5 .6 0 2.6 3 4.3 6.7 10.5 18.8 5.3 13.5 5.2 16.1 .1 1.9 1.4 2.6 .3 7.9 1.4 7.5 .6 10.5 1.3 10.5 .3 18 -.3 -18 -1.3 -10.5 -.6 -10.5 -1.2 -4.5 -.5 -6.1 -8.4 -25.4 -3.6 -9.3 -10.5 -19 -6.9 -10.7 -2.1 -2.5 -4.5 -3.5 -1.5 -.1 -1.5 -1.4 -1.5 -.1 -1.5 -1.5 -1.5 0 -1.5 -1.5 -4.5 -.1 -1.5 -1.5 -4.5 0 -3 -1.5 -4.5 -.1 -1.5 -1.4 -4.5 0 -1.5 -1.5 -6 0z"/>
<path fill="#000096" stroke="#000096" stroke-width="0.6" fill-rule="evenodd" d="M214.4 1790.4l6 -.1 1.5 1.5 4.5 0 1.5 1.4 4.5 .1 3 1.5 4.5 0 1.5 1.5 4.5 .1 1.5 1.5 1.5 0 1.5 1.5 1.5 .1 1.5 1.4 1.5 .1 4.5 3.5 2.1 2.5 6.9 10.7 10.5 19 3.6 9.3 8.4 25.4 .5 6.1 1.2 4.5 .6 10.5 1.3 10.5 .3 18 -.4 -18 -1.2 -9 -.7 -12 -1 -3 -.6 -4.9 -1.8 -2.6 -10.2 -30.8 -10.5 -19.3 -10.5 -15.8 -9.7 -7.6 -.8 0 -2 -1.5 -4 -.1 -1.5 -1.5 -4.5 -.1 -1.5 -.3 -1.5 -1.1 -4.5 -.1 -1.5 -1.4 -4.5 -.1 -1.5 -1.4 -6 0z"/>
<path fill="#000098" stroke="#000098" stroke-width="0.6" fill-rule="evenodd" d="M214.4 1790.4l6 0 1.5 1.4 4.5 .1 1.5 1.4 4.5 .1 1.5 1.1 1.5 .3 4.5 .1 1.5 1.5 4 .1 2 1.5 .8 0 9.7 7.6 10.5 15.8 10.5 19.3 10.2 30.8 1.8 2.6 .6 4.9 1 3 .7 12 1.2 9 .3 18 -.3 -18 -1.2 -9 -.8 -12 -.7 -1.5 -.8 -4.3 -3.4 -4.7 -8.6 -27 -10.5 -19.5 -12 -18 -4.5 -3.9 -9 -6.4 -1.5 -.2 -1.5 -1.5 -6 -.3 -1.5 -1.3 -4.5 0 -1.5 -1.5 -4.5 0 -1.5 -1.4 -6 -.1z"/>
<path fill="#00009a" stroke="#00009a" stroke-width="0.6" fill-rule="evenodd" d="M214.4 1790.5l6 0 1.5 1.4 4.5 0 1.5 1.5 4.5 0 1.5 1.3 6 .3 1.5 1.5 1.5 .2 9 6.4 4.5 3.9 12 18 10.5 19.5 8.6 27 3.4 4.7 .8 4.3 .7 1.5 .8 12 1.2 9 .3 18 -.2 -15 -1.4 -12 -.7 -11.4 -1.1 -2.1 -.4 -2.3 -4.8 -6.7 -8.7 -26.5 -11.2 -20 -8.3 -12.7 -4.3 -5.3 -1.7 -1.7 -9 -6.4 -6.9 -3.9 -2.1 -.1 -1.5 -.9 -4.5 -.5 -9 -2.2 -4.5 -.1 0 -.7z"/>
<path fill="#00009d" stroke="#00009d" stroke-width="0.6" fill-rule="evenodd" d="M214.4 1792l0 -.8 4.5 .1 9 2.2 4.5 .5 1.5 .9 2.1 .1 6.9 3.9 9 6.4 1.7 1.7 4.3 5.3 8.3 12.7 11.2 20 8.7 26.5 4.8 6.7 .4 2.3 1.1 2.1 .7 11.4 1.4 12 .2 15 -.2 -15 -1.5 -12 -.6 -10.8 -1 -1.2 -.5 -1.9 -6.1 -8.6 -5.9 -18.5 -2.3 -5.5 -8 -15 -4.5 -7.5 -6.2 -9.4 -6 -7.4 -2.7 -2.7 -4.8 -3.4 -9 -5.3 -16.5 -3.3 -4.5 -.1 0 -1.4z"/>
<path fill="#00009f" stroke="#00009f" stroke-width="0.6" fill-rule="evenodd" d="M214.4 1793.5l4.5 0 16.5 3.3 7.5 4.3 8 5.9 7 8.6 6.2 9.4 4.5 7.5 8 15 2.3 5.5 5.9 18.5 6.1 8.6 .5 1.9 1 1.2 .6 10.8 1.5 12 .1 15 -.2 -15 -1.5 -12 -.5 -9.8 -8.9 -12.7 -4.6 -14.3 -4.8 -11.2 -5.7 -10.6 -6.4 -10.4 -4.1 -6.3 -6 -7.4 -3.9 -4.3 -5.1 -3.8 -7.5 -4.3 -16.5 -3.3 -4.5 -.1 0 -2z"/>
<path fill="#0000a2" stroke="#0000a2" stroke-width="0.6" fill-rule="evenodd" d="M214.4 1796.5l0 -1 4.5 .1 16.5 3.3 7.5 4.3 5.1 3.8 7.7 9 4.4 6 8.3 13.4 5.7 10.6 4.8 11.2 4.6 14.3 8.9 12.7 .5 9.8 1.5 12 .2 15 -.2 -15 -1.3 -9 -.7 -11.1 -9.4 -12.9 -4.7 -13.5 -5.9 -13.5 -12.3 -21 -8.2 -10.6 -6.8 -7.4 -2.2 -1.8 -7.5 -4.3 -16.5 -3.3 -4.5 -.1 0 -1z"/>
<path fill="#0000a5" stroke="#0000a5" stroke-width="0.6" fill-rule="evenodd" d="M214.4 1798l0 -.5 4.5 .1 16.5 3.3 7.5 4.3 2.2 1.8 6.8 7.4 7.5 9.6 9 14.6 4 7.4 5.9 13.5 4.7 13.5 9.4 12.9 .7 11.1 1.3 9 .1 15 -.2 -15 -1.3 -9 -.6 -9.2 -10.6 -14.8 -4.4 -11.8 -6.7 -15.2 -11.6 -19.5 -8.7 -10.9 -7.5 -8 -2.9 -2.1 -4.6 -2.6 -16.5 -3.4 -4.5 -.1 0 -1.4z"/>
<path fill="#0000a8" stroke="#0000a8" stroke-width="0.6" fill-rule="evenodd" d="M214.4 1799.5l4.5 0 16.5 3.4 4.6 2.6 2.9 2.1 7.5 8 8.7 10.9 11.6 19.5 6.7 15.2 4.4 11.8 10.6 14.8 .6 9.2 1.3 9 .2 15 -.2 -15 -1.2 -7.5 -.7 -8.8 -11.8 -16.7 -11.6 -27 -10.9 -18 -6.2 -7.8 -7.5 -8.2 -7.7 -6.5 -1.3 -.7 -16.5 -3.4 -4.5 -.1 0 -1.8z"/>
<path fill="#0000ab" stroke="#0000ab" stroke-width="0.6" fill-rule="evenodd" d="M214.4 1802.5l0 -1.2 4.5 .1 16.5 3.4 1.3 .7 7.7 6.5 7.5 8.2 6 7.5 11.1 18.3 11.6 27 11.8 16.7 .7 8.8 1.2 7.5 .1 15 -.2 -15 -1.3 -7.5 -.5 -7 -13.8 -20 -11.3 -25.5 -9.4 -15.3 -6 -7.7 -7.5 -8.2 -9 -7.9 -16.5 -3.6 -4.5 -.1 0 -.7z"/>
<path fill="#0000ae" stroke="#0000ae" stroke-width="0.6" fill-rule="evenodd" d="M214.4 1804l0 -.8 4.5 .1 16.5 3.6 9 7.9 7.5 8.2 6 7.7 9.4 15.3 11.3 25.5 13.8 20 .5 7 1.3 7.5 .2 15 -.3 -15 -1.2 -6 -.5 -6.7 -15.3 -21.8 -11.6 -25.5 -7.6 -12.5 -6.6 -8.5 -6.9 -7.4 -9 -8 -14.5 -4.1 -6.5 -.5 0 -1z"/>
<path fill="#0000b2" stroke="#0000b2" stroke-width="0.6" fill-rule="evenodd" d="M214.4 1805.5l0 -.5 4.5 .1 16.5 4.5 9 8 6.9 7.4 6.6 8.5 7.6 12.5 11.6 25.5 15.3 21.8 .5 6.7 1.2 6 .2 15 -.2 -15 -1.1 -4.5 -.6 -6.3 -13.1 -19.2 -3.7 -4.5 -11.8 -25.5 -5.9 -9.7 -6.5 -8.3 -7 -7.8 -9 -8 -16.5 -5 -4.5 -.2 0 -1.5z"/>
<path fill="#0000b5" stroke="#0000b5" stroke-width="0.6" fill-rule="evenodd" d="M214.4 1808.5l0 -1.5 4.5 .2 16.5 5 9 8 7 7.8 6.5 8.3 5.9 9.7 11.8 25.5 3.7 4.5 13.1 19.2 .6 6.3 1.1 4.5 .1 15 -.2 -15 -1 -3 -.6 -5.3 -1 -2.2 -9 -13.5 -3.5 -5 -4.8 -5.5 -12 -25.5 -4.2 -6.9 -6 -7.8 -6.9 -7.8 -9.6 -8.7 -16.5 -5 -4.5 -.2 0 -1.1z"/>
<path fill="#0000b9" stroke="#0000b9" stroke-width="0.6" fill-rule="evenodd" d="M214.4 1810l0 -.4 4.5 .2 16.5 5 9.6 8.7 6.9 7.8 6 7.8 4.2 6.9 12 25.5 4.8 5.5 3.5 5 9 13.5 1 2.2 .6 5.3 1 3 .2 15 -.3 -15 -.8 -1.5 -.9 -4.5 -2 -4.5 -8.8 -13.5 -2.5 -3.5 -6.3 -7 -12.1 -25.5 -2.6 -4.2 -6 -7.8 -7.5 -8.6 -9 -8 -16.5 -5 -4.5 -.2 0 -2.2z"/>
<path fill="#0000be" stroke="#0000be" stroke-width="0.6" fill-rule="evenodd" d="M214.4 1813l0 -.8 4.5 .2 16.5 5 9 8 7.5 8.6 6 7.8 2.6 4.2 12.1 25.5 6.3 7 2.5 3.5 8.8 13.5 2 4.5 .9 4.5 .8 1.5 .2 15 -.2 -13.6 -1.5 -4.5 -3.4 -7.4 -10.1 -15.5 -7.7 -8.5 -13.3 -27.1 -6 -7.8 -7.5 -8.6 -9 -8.1 -16.5 -5 -4.5 -.2 0 -1.7z"/>
<path fill="#0000c2" stroke="#0000c2" stroke-width="0.6" fill-rule="evenodd" d="M214.4 1816l0 -1.3 4.5 .2 16.5 5 9 8.1 7.5 8.6 6 7.8 13.3 27.1 7.7 8.5 10.1 15.5 3.4 7.4 1.5 4.5 .1 13.6 -.1 -8 -1.5 -7.1 -4.6 -10.4 -8.9 -14.1 -9.2 -9.9 -10.3 -21.2 -3.4 -5.8 -11.6 -13.9 -9 -8.2 -16.5 -5.1 -4.5 -.1 0 -1.2z"/>
<path fill="#0000c7" stroke="#0000c7" stroke-width="0.6" fill-rule="evenodd" d="M214.4 1817.5l0 -.3 4.5 .1 16.5 5.1 9 8.2 11.6 13.9 3.4 5.8 10.3 21.2 9.2 9.9 8.9 14.1 4.6 10.4 1.5 7.1 .1 8 -.4 0 -.1 -4.5 -2.2 -10.5 -4.5 -10.5 -7.9 -12.6 -10.6 -11.4 -9.7 -19.5 -4.6 -7.5 -10.2 -12 -8.4 -7.7 -16.5 -5 -4.5 -.2 0 -2.1z"/>
<path fill="#0000cb" stroke="#0000cb" stroke-width="0.6" fill-rule="evenodd" d="M214.4 1820.5l0 -.9 4.5 .2 16.5 5 7.5 6.8 9 10.2 6 8.8 10.4 20.9 10.6 11.4 7.9 12.6 4.5 10.5 2.2 10.5 .1 4.5 -1.2 0 -.1 -4.5 -2.2 -10.5 -4.2 -10.5 -7.7 -12 -11.4 -12 -8.9 -17.8 -6 -9.4 -9 -10.2 -7.5 -6.8 -16.5 -5.1 -4.5 -.2 0 -1.5z"/>
<path fill="#0000d1" stroke="#0000d1" stroke-width="0.6" fill-rule="evenodd" d="M214.4 1823.5l0 -1.5 4.5 .2 16.5 5.1 7.5 6.8 9 10.2 6 9.4 8.9 17.8 11.4 12 7.7 12 4.2 10.5 2.2 10.5 .1 4.5 -1.1 0 -.1 -4.5 -2.2 -10.5 -4.1 -10.5 -7.5 -11.5 -12.1 -12.5 -7.4 -14.7 -7.9 -12.3 -7.1 -7.9 -7.5 -6.8 -16.5 -5.3 -4.5 -.1 0 -.9z"/>
<path fill="#0000d6" stroke="#0000d6" stroke-width="0.6" fill-rule="evenodd" d="M214.4 1825l0 -.6 4.5 .1 16.5 5.3 7.5 6.8 7.1 7.9 7.9 12.3 7.4 14.7 12.1 12.5 7.5 11.5 4.1 10.5 2.2 10.5 .1 4.5 -1.1 0 -.2 -4.5 -2.1 -10.5 -4 -10.5 -6.5 -10 -13.6 -14 -5.9 -11.7 -10.1 -15.3 -4.9 -5.5 -7.5 -6.8 -16.5 -5.3 -4.5 -.1 0 -1.8z"/>
<path fill="#0000dc" stroke="#0000dc" stroke-width="0.6" fill-rule="evenodd" d="M214.4 1828l0 -1.2 4.5 .1 16.5 5.3 7.5 6.8 4.9 5.5 10.1 15.3 5.9 11.7 13.6 14 6.5 10 4 10.5 2.1 10.5 .2 4.5 -1.1 0 -.1 -4.5 -2 -10.5 -4 -10.5 -5.6 -8.5 -15.1 -15.5 -4.4 -8.7 -6 -9.6 -6.2 -8.7 -10.3 -9.9 -16.5 -5.2 -4.5 -.2 0 -1.2z"/>
<path fill="#0000e2" stroke="#0000e2" stroke-width="0.6" fill-rule="evenodd" d="M214.4 1829.5l0 -.3 4.5 .2 16.5 5.2 10.3 9.9 6.2 8.7 6 9.6 4.4 8.7 15.1 15.5 5.6 8.5 4 10.5 2 10.5 .1 4.5 -1 0 -.2 -4.5 -2.3 -12 -4.4 -10.5 -3 -4.5 -5.2 -6 -12.2 -12 -2.9 -5.7 -6 -9.6 -7.5 -10.6 -9 -8.6 -16.5 -5.3 -4.5 -.1 0 -2.1z"/>
<path fill="#0000e8" stroke="#0000e8" stroke-width="0.6" fill-rule="evenodd" d="M214.4 1832.5l0 -.9 4.5 .1 16.5 5.3 9 8.6 7.5 10.6 6 9.6 2.9 5.7 12.2 12 5.2 6 3 4.5 4.8 12 1.9 10.5 .2 4.5 -1 0 -.1 -4.5 -2.3 -12 -4.5 -10.5 -2.8 -4 -5.7 -6.5 -12.3 -12 -7.5 -12.4 -9 -12.6 -7.5 -7.1 -16.5 -5.3 -4.5 -.1 0 -1.5z"/>
<path fill="#0000ef" stroke="#0000ef" stroke-width="0.6" fill-rule="evenodd" d="M214.4 1834l4.5 .1 16.5 5.3 7.5 7.1 9 12.6 7.5 12.4 12.3 12 5.7 6.5 2.8 4 4.9 12 1.9 10.5 .1 4.5 -.9 0 -.1 -4.5 -2.3 -12 -4.5 -10.5 -8.9 -10.5 -12.6 -12 -6.6 -10.5 -8.3 -11.6 -7.5 -7.6 -16.5 -5.3 -4.5 -.2 0 -2.3z"/>
<path fill="#0000f6" stroke="#0000f6" stroke-width="0.6" fill-rule="evenodd" d="M214.4 1837l0 -.7 4.5 .2 16.5 5.3 7.5 7.6 8.3 11.6 6.6 10.5 12.6 12 8.9 10.5 4.9 12 1.9 10.5 .1 4.5 -.9 0 -.1 -4.5 -2.3 -12 -4 -9.6 -10.5 -12.1 -12.4 -11.3 -4.7 -7.5 -8.4 -11.7 -7.5 -8.2 -16.5 -5.3 -4.5 -.2 0 -1.6z"/>
<path fill="#0000fe" stroke="#0000fe" stroke-width="0.6" fill-rule="evenodd" d="M214.4 1840l0 -1.4 4.5 .2 16.5 5.3 7.5 8.2 8.4 11.7 4.7 7.5 12.4 11.3 10.5 12.1 4.4 11.1 1.9 10.5 .1 4.5 -.9 0 -.1 -4.5 -2.4 -12 -3 -7.6 -1.8 -2.9 -9.3 -10.5 -13.5 -12 -10.3 -15 -8.6 -9.8 -16.5 -5.6 -4.5 -.2 0 -.9z"/>
<path fill="#0000ff" stroke="#0000ff" stroke-width="0.6" fill-rule="evenodd" d="M214.4 1841.5l0 -.6 4.5 .2 16.5 5.6 7.5 8.4 11.4 16.4 13.5 12 10.4 12 4.2 10.5 1.9 10.5 .1 4.5 -.9 0 -.2 -4.5 -2.2 -12 -3.3 -7.5 -2 -3 -9.4 -10.5 -13.9 -12 -9.6 -13.6 -7.5 -8.4 -16.5 -6.1 -4.5 -.2 0 -1.7z"/>
<path fill="#0000ff" stroke="#0000ff" stroke-width="0.6" fill-rule="evenodd" d="M214.4 1844.5l0 -1.3 4.5 .2 16.5 6.1 7.5 8.4 9.6 13.6 6.9 5.6 9 8.5 8.7 9.9 1.8 3.6 2.6 6.9 1.8 10.5 .2 4.5 -.9 0 -.1 -4.5 -1.9 -10.5 -1.7 -4.6 -3.1 -5.9 -7.4 -8.5 -9 -8.6 -8.8 -6.9 -7.7 -10.7 -7.5 -8.5 -16.5 -6.5 -4.5 -.2 0 -1.1z"/>
<path fill="#0006ff" stroke="#0006ff" stroke-width="0.6" fill-rule="evenodd" d="M214.4 1846l0 -.4 4.5 .2 16.5 6.5 7.5 8.5 7.7 10.7 8.8 6.9 9 8.6 7.4 8.5 3.1 5.9 1.7 4.6 1.9 10.5 .1 4.5 -.9 0 -.1 -4.5 -2.7 -12.9 -4.3 -8.1 -6.2 -7.1 -9 -8.8 -10.7 -8.1 -5.8 -8 -7.5 -8.4 -16.5 -6.6 -4.5 -.2 0 -2.3z"/>
<path fill="#000eff" stroke="#000eff" stroke-width="0.6" fill-rule="evenodd" d="M214.4 1849l0 -.7 4.5 .2 16.5 6.6 7.5 8.4 5.8 8 10.7 8.1 9 8.8 6.2 7.1 4.7 9 2.3 12 .1 4.5 -.9 0 -.1 -4.5 -2.4 -12 -5 -9 -4.9 -5.7 -10.5 -10.2 -11.2 -8.1 -3.8 -5.2 -7.5 -8.4 -16.5 -6.6 -4.5 -.2 0 -2.1z"/>
<path fill="#0017ff" stroke="#0017ff" stroke-width="0.6" fill-rule="evenodd" d="M214.4 1852l0 -.9 4.5 .2 16.5 6.6 7.5 8.4 3.8 5.2 11.2 8.1 10.5 10.2 4.9 5.7 5 9 2.4 12 .1 4.5 -.9 0 -.1 -4.5 -2.6 -12 -5.1 -9 -3.7 -4.3 -10.5 -10.4 -13.2 -9.3 -9.3 -10.9 -16.5 -6.5 -4.5 -.2 0 -1.9z"/>
<path fill="#0020ff" stroke="#0020ff" stroke-width="0.6" fill-rule="evenodd" d="M214.4 1855l0 -1.1 4.5 .2 16.5 6.5 9.3 10.9 13.2 9.3 3 2.7 11.2 12 5.1 9 2.6 12 .1 4.5 -.8 0 -.2 -4.7 -3 -11.8 -5 -9 -11.4 -12 -16.9 -12 -7.2 -8.1 -16.5 -6.6 -4.5 -.2 0 -1.6z"/>
<path fill="#002aff" stroke="#002aff" stroke-width="0.6" fill-rule="evenodd" d="M214.4 1858l0 -1.4 4.5 .2 16.5 6.6 7.2 8.1 16.9 12 11.4 12 5 9 3 11.8 .2 4.7 -1 0 -.2 -4.5 -3.2 -12 -5 -9 -10.3 -10.7 -7.5 -5.8 -11.7 -7.5 -4.8 -5.4 -16.5 -6.6 -4.5 -.2 0 -1.3z"/>
<path fill="#0034ff" stroke="#0034ff" stroke-width="0.6" fill-rule="evenodd" d="M214.4 1859.5l4.5 0 16.5 6.6 4.8 5.4 11.7 7.5 7.5 5.8 10.3 10.7 5 9 3.2 12 .2 4.5 -1.2 0 -.1 -4.5 -3.3 -12 -5 -9 -9.1 -9.4 -7.5 -5.9 -14.1 -8.7 -2.4 -2.7 -16.5 -6.6 -4.5 -.2 0 -2.5z"/>
<path fill="#003fff" stroke="#003fff" stroke-width="0.6" fill-rule="evenodd" d="M214.4 1862.5l0 -.5 4.5 .2 16.5 6.6 2.4 2.7 12.6 7.7 7.5 5.5 10.6 10.8 5 9 3.3 12 .1 4.5 -1.2 0 -.1 -4.5 -3.3 -12 -5.1 -9 -9.3 -9.5 -7.5 -5.6 -15 -8.9 -16.5 -6.6 -4.5 -.2 0 -2.2z"/>
<path fill="#004bff" stroke="#004bff" stroke-width="0.6" fill-rule="evenodd" d="M214.4 1865.5l0 -.8 4.5 .2 16.5 6.6 15 8.9 7.5 5.6 9.3 9.5 5.1 9 3.3 12 .1 4.5 -1.2 0 -.1 -4.5 -3.3 -12 -5.2 -9 -8 -8.1 -7.5 -5.8 -7.5 -4.7 -6 -3.1 -1.5 -.7 -6.7 -1.6 -9.8 -3.9 -4.5 -.2 0 -1.9z"/>
<path fill="#0057ff" stroke="#0057ff" stroke-width="0.6" fill-rule="evenodd" d="M214.4 1868.5l0 -1.1 4.5 .2 9.8 3.9 6.7 1.6 12 6.6 4.5 2.9 6 4.8 8 8.1 5.2 9 3.3 12 .1 4.5 -1.1 0 -.2 -4.5 -3.2 -12 -5.5 -9 -6.6 -6.8 -7.5 -5.9 -7.5 -4.7 -7.5 -3.8 -13.4 -2.8 -3.1 -1.2 -4.5 -.2 0 -1.6z"/>
<path fill="#0064ff" stroke="#0064ff" stroke-width="0.6" fill-rule="evenodd" d="M214.4 1871.5l0 -1.4 4.5 .2 3.1 1.2 13.4 2.8 7.5 3.8 7.5 4.7 7.5 5.9 6.6 6.8 5.5 9 3.2 12 .2 4.5 -1.2 0 -.2 -4.5 -3.2 -12 -5.6 -9 -5.3 -5.4 -9 -7 -6 -3.8 -7.5 -3.8 -16.5 -3.1 -4.5 -.2 0 -.7z"/>
<path fill="#0072ff" stroke="#0072ff" stroke-width="0.6" fill-rule="evenodd" d="M214.4 1873l0 -.8 4.5 .2 16.5 3.1 7.5 3.8 6 3.8 9 7 5.3 5.4 5.6 9 3.2 12 .2 4.5 -1.2 0 -.2 -4.5 -3.3 -12 -5.6 -9 -4 -4.1 -10.5 -8.1 -12 -6.6 -16.5 -3 -4.5 -.1 0 -.6z"/>
<path fill="#0080ff" stroke="#0080ff" stroke-width="0.6" fill-rule="evenodd" d="M214.4 1874.5l0 -.9 4.5 .1 16.5 3 12 6.6 10.5 8.1 4 4.1 5.6 9 3.3 12 .2 4.5 -1.2 0 -.1 -4.5 -3.5 -12 -5.6 -9 -2.7 -2.8 -12.1 -9.2 -10.4 -5.6 -16.5 -3 -4.5 -.1 0 -.3z"/>
<path fill="#008fff" stroke="#008fff" stroke-width="0.6" fill-rule="evenodd" d="M214.4 1876l0 -1.2 4.5 .1 16.5 3 10.4 5.6 12.1 9.2 2.7 2.8 6.3 10.5 2.8 10.5 .1 4.5 -1.1 0 -.2 -4.5 -3.6 -12 -5.6 -9 -2.9 -2.7 -12 -9 -9 -4.7 -16.5 -3 -4.5 -.1z"/>
<path fill="#009fff" stroke="#009fff" stroke-width="0.6" fill-rule="evenodd" d="M214.4 1877.2l0 -1.2 4.5 .1 16.5 3 8.5 4.4 9.5 6.9 5.9 5.1 5.6 9 3.6 12 .2 4.5 -1.3 0 -.2 -4.5 -3.6 -12 -5.7 -9 -6 -5 -9 -6.3 -7.5 -3.9 -16.5 -3 -4.5 -.1z"/>
<path fill="#00b0ff" stroke="#00b0ff" stroke-width="0.6" fill-rule="evenodd" d="M214.4 1877.5l0 -.3 4.5 .1 16.5 3 7.5 3.9 13.3 9.8 2.7 3 5.4 9 2.9 10.5 .2 4.5 -1.3 0 -.2 -4.5 -3.6 -12 -4.4 -7 -3.3 -3.5 -11.7 -8.5 -7.5 -4.1 -16.5 -2.9 -4.5 -.1 0 -.9z"/>
<path fill="#00c2ff" stroke="#00c2ff" stroke-width="0.6" fill-rule="evenodd" d="M214.4 1879l0 -.6 4.5 .1 16.5 2.9 7.5 4.1 10.5 7.5 2.9 2.5 1.6 2 4.4 7 3.6 12 .2 4.5 -1.3 0 -.2 -4.5 -3.6 -12 -6.3 -9 -2.8 -2.4 -9 -6.3 -7.5 -4.2 -16.5 -3 -4.5 0 0 -.6z"/>
<path fill="#00d5ff" stroke="#00d5ff" stroke-width="0.6" fill-rule="evenodd" d="M214.4 1880.5l0 -.9 4.5 0 16.5 3 7.5 4.2 9 6.3 2.8 2.4 6.3 9 3.6 12 .2 4.5 -1.3 0 -.2 -4.5 -3.5 -12 -7.9 -10 -9 -6.4 -7.5 -4.2 -16.5 -3.1 -4.5 -.3z"/>
<path fill="#03e9f4" stroke="#03e9f4" stroke-width="0.6" fill-rule="evenodd" d="M214.4 1881.9l0 -1.2 4.5 .1 16.5 3.1 7.5 4.2 9 6.4 6 7.2 2.5 4.3 2.9 10.5 .2 4.5 -1.2 0 -.2 -4.5 -3.7 -12 -8 -9.8 -7.5 -5.3 -7.5 -4.2 -16.5 -3.2 -4.5 -.1z"/>
<path fill="#14fee3" stroke="#14fee3" stroke-width="0.6" fill-rule="evenodd" d="M214.4 1882l4.5 0 16.5 3.2 7.5 4.2 8.5 6.1 6.5 8.2 1.2 2.3 3 10.5 .2 4.5 -1.3 0 -.2 -4.5 -3.1 -10.5 -8.1 -10.5 -6.7 -4.8 -7.5 -4.2 -16.5 -3.3 -4.5 -.1 0 -1.1z"/>
<path fill="#26ffd1" stroke="#26ffd1" stroke-width="0.6" fill-rule="evenodd" d="M214.4 1883.5l0 -.4 4.5 .1 16.5 3.3 7.5 4.2 6.7 4.8 8.1 10.5 3.1 10.5 .2 4.5 -1.3 0 -.2 -4.5 -3.4 -10.5 -4.2 -5.8 -4.1 -4.7 -4.9 -3.5 -7.5 -4.2 -16.5 -3.4 -4.5 -.1 0 -.8z"/>
<path fill="#39ffbe" stroke="#39ffbe" stroke-width="0.6" fill-rule="evenodd" d="M214.4 1885l0 -.7 4.5 .1 16.5 3.4 7.5 4.2 4.9 3.5 4.1 4.7 4.2 5.8 3.4 10.5 .2 4.5 -1.3 0 -.2 -4.5 -3.7 -10.5 -2.6 -3.8 -5.9 -6.7 -10.6 -6.5 -16.5 -3.3 -4.5 -.1 0 -.6z"/>
<path fill="#4dffaa" stroke="#4dffaa" stroke-width="0.6" fill-rule="evenodd" d="M214.4 1886.5l0 -.9 4.5 .1 16.5 3.3 10.6 6.5 5.9 6.7 2.6 3.8 3.7 10.5 .2 4.5 -1.5 0 -.3 -4.5 -4.5 -12 -8 -9 -8.7 -5.2 -16.5 -3.3 -4.5 -.1 0 -.4z"/>
<path fill="#62ff95" stroke="#62ff95" stroke-width="0.6" fill-rule="evenodd" d="M214.4 1888l0 -1.1 4.5 .1 16.5 3.3 8.7 5.2 7.8 8.7 1 1.8 3.7 10.5 .3 4.5 -1.6 0 -.3 -4.5 -3.7 -10.5 -.9 -1.5 -8.3 -9 -6.7 -3.9 -16.5 -3.3 -4.5 -.3z"/>
<path fill="#79ff7e" stroke="#79ff7e" stroke-width="0.6" fill-rule="evenodd" d="M214.4 1889.5l0 -1.3 4.5 .1 16.5 3.3 6.7 3.9 8.3 9 .9 1.5 3.7 10.5 .3 4.5 -1.6 0 -.3 -4.5 -3.9 -10.5 -5.1 -6.1 -4.6 -4.4 -4.4 -2.6 -16.5 -3.3 -4.5 -.1z"/>
<path fill="#90ff66" stroke="#90ff66" stroke-width="0.6" fill-rule="evenodd" d="M214.4 1890.8l0 -1.3 4.5 .1 16.5 3.3 4.4 2.6 4.6 4.4 5.1 6.1 3.9 10.5 .3 4.5 -1.6 0 -.3 -4.5 -5 -12 -3.9 -4.2 -5.4 -4.8 -2.1 -1.3 -3 -.6 -13.5 -2.7 -4.5 -.1z"/>
<path fill="#a9ff4d" stroke="#a9ff4d" stroke-width="0.6" fill-rule="evenodd" d="M214.4 1891l4.5 -.1 16.5 3.3 2.1 1.3 5.4 4.8 4.8 5.7 4.1 10.5 .3 4.5 -1.7 0 -.3 -4.5 -5.2 -12 -9.5 -8.9 -16.5 -3.4 -4.5 -.1 0 -1.1z"/>
<path fill="#c4ff33" stroke="#c4ff33" stroke-width="0.6" fill-rule="evenodd" d="M214.4 1892.5l0 -.4 4.5 .1 16.5 3.4 7.5 6.7 3 3.7 4.2 10.5 .3 4.5 -1.8 0 -.3 -4.5 -4.2 -10.5 -1.2 -1.6 -7.5 -6.7 -6.8 -2.2 -8.2 -1.7 -6 -.5 0 -.8z"/>
<path fill="#e0ff17" stroke="#e0ff17" stroke-width="0.6" fill-rule="evenodd" d="M214.4 1894l0 -.7 4.5 .2 9.7 2 6.8 2.2 7.5 6.7 1.2 1.6 4.2 10.5 .3 4.5 -1.8 0 -.3 -4.5 -4.5 -10.5 -6.6 -6.3 -13.2 -4.2 -3.3 -.7 -4.5 -.1 0 -.7z"/>
<path fill="#fdee00" stroke="#fdee00" stroke-width="0.6" fill-rule="evenodd" d="M214.4 1895.5l0 -.8 4.5 .1 16.5 4.9 6.6 6.3 4.5 10.5 .3 4.5 -1.8 0 -.3 -4.5 -1.8 -4.2 -3.2 -6.3 -4.3 -4.3 -16.5 -5.2 -4.5 -.2 0 -.8z"/>
<path fill="#ffca00" stroke="#ffca00" stroke-width="0.6" fill-rule="evenodd" d="M214.4 1897l0 -.7 4.5 .2 16.5 5.2 4.3 4.3 3.2 6.3 1.8 4.2 .3 4.5 -1.9 0 -.4 -4.5 -5.2 -10.5 -2.1 -2.3 -16.5 -5.2 -4.5 -.2 0 -1.3z"/>
<path fill="#ffa400" stroke="#ffa400" stroke-width="0.6" fill-rule="evenodd" d="M214.4 1898.5l4.5 0 16.5 5.2 2.1 2.3 5.2 10.5 .4 4.5 -2.3 0 -.3 -4.5 -5.1 -10.2 -3.8 -1.8 -12.7 -4 -4.5 -.2 0 -1.8z"/>
<path fill="#ff7c00" stroke="#ff7c00" stroke-width="0.6" fill-rule="evenodd" d="M214.4 1901.5l0 -1.2 4.5 .2 12.7 4 3.8 1.8 5.1 10.2 .3 4.5 -2.2 0 -.4 -4.5 -2.8 -5.7 -6.8 -4.8 -3.4 -1.5 -6.3 -2 -4.5 -.2 0 -.8z"/>
<path fill="#ff5200" stroke="#ff5200" stroke-width="0.6" fill-rule="evenodd" d="M214.4 1903l0 -.7 4.5 .2 6.3 2 3.4 1.5 6.8 4.8 2.8 5.7 .4 4.5 -2.2 0 0 -3 -1 -2.7 -13.2 -9.3 -3.3 -1.5 -4.5 -.2 0 -1.3z"/>
<path fill="#ff2600" stroke="#ff2600" stroke-width="0.6" fill-rule="evenodd" d="M214.4 1904.5l4.5 0 3.3 1.5 13.2 9.3 1 2.7 0 3 -4.6 0 0 -3 -1 -1.5 -11.9 -8.4 -4.5 -.3 0 -3.3z"/>
<path fill="#dc0000" stroke="#dc0000" stroke-width="0.6" fill-rule="evenodd" d="M214.4 1909l0 -1.2 4.5 .3 11.9 8.4 1 1.5 0 3 -6.4 0 0 -3 -1 -1.5 -5.5 -3.9 -4.5 -.4 0 -3.2z"/>
<path fill="#9f0000" stroke="#9f0000" stroke-width="0.6" fill-rule="evenodd" d="M214.4 1913.5l0 -1.3 4.5 .4 5.5 3.9 1 1.5 0 3 -11 0 0 -7.5z"/>
<path stroke="#000080" d="M214.4 1789.5l6 0 1.5 1.5 4.5 0 1.5 1.2 6 .6 1.5 1.2 4.5 .1 1.5 1.4 4.5 .1 1.5 1.5 1.5 0 1.5 1.4 1.5 .1 4.5 1.8 1.5 1.2 1.5 0 1.5 1.6 1.5 0 1.5 1.4 1.5 .1 3 2.5 13.7 17.8 6.6 19.5 2.9 19.5 1.6 15 .5 12 1.2 9 .2 21M1017.9 1200.1l-.2 1.5 -.2 -1.5M1049.7 1202.2l-.5 1.9 -3.7 4 -.4 2 -3.7 4 -.6 2 -3.4 4 -2.2 4 -3.6 4 -.5 2 -3.7 4 -.4 2 -3.6 4 -2.2 4 -3.5 4.3 -.5 1.7 -3.7 4 -.5 2 -3.6 4 -.6 2 -3.4 4 -2.2 4 -3.6 4 -.6 2 -3.6 4 -.6 2 -3.5 4 -.8 2 -4.8 6.2 -.7 1.8 -3.5 4 -.7 2 -3.6 4 -.7 2 -3.3 4 -2.2 4 -3.5 4 -.7 2 -3.5 4 -.7 2 -3.5 4 -2.2 4 -3.3 4 -.8 2 -3.5 4 -.8 2 -3.5 4 -6.3 10 -7.8 10 -2.3 4 -7.7 10 -.8 2 -3.5 4 -2.3 4 -3.6 4 -.7 2 -3.7 4 -.6 1.7 -2 .5 -4 -4.2 -.9 0 4.9 -7.4 .5 -2.6 1.5 -2.5 .3 -3.5 -2.3 -2.5 -4.8 -3.5 .7 -2 2.1 -1.7 6 -1.1 6 -2.6 2 -2.5 3.9 -10.1 0 -2 -1.9 -3 -2.2 -1 -8.2 -2 6.4 -3.4 11.6 3.4 .4 1.9 .1 -1.9 1.9 -1 2 -2.4 3 -6.6 3.3 -4 -.3 -2.7 -4 -1.2 -1.3 -2.1 .1 -2 1.2 -2.6 2 -2.1 6 1.8 2 -.1 4 -4.9 .1 -2.1 3.9 -4 .3 -2 1.6 -2 -1.2 -10 1.5 -6 .2 -6 .7 -2 .9 -1.2 2 -.9 6 .7 8 -.9 2 -1.6 .7 -2.1 3.3 -3.7 2.2 -4.3 3.8 -4 .4 -2 1.6 -2 0 -.8 -4.1 -1.2 -1.6 -2 .3 -2 2.6 -6 .8 -7.4 2 -.6 .5 2 2.6 2 6.9 1.3 6 -7.3 -.9 -4 2.1 -6 2.1 -2 4.7 -2.4 3.8 -3.6 -.7 -4 -1.1 -1.8 -6 -.2 -1.7 -2 1.7 -1.7 2 -.7 1.5 -1.6 1.8 -8 2.7 -1.1 2 .3 4 1.8 6 -1.6 2 -.8 5.5 -6.6M988.2 1228.1l1.5 -1.6 3.3 1.6 -3.3 2.4 -1.5 -2.4M983.7 1242.1l6 -1.1 1.6 1.1 -1.6 .9 -4 0 -1.9 1.1 -.1 3.7 0 -5.7M969.2 1248.1l.8 0 .7 2 -1 .5 -1.6 -.5 1.1 -2M987.7 1261.3l-.8 .8 .8 .1 0 -.9M961.7 1297.1l-3.4 3 -1.1 4 .4 2 2.2 -2 .5 -2 1.4 -1.4 .4 -2.6 -.4 -1M941.5 1318.1l.4 0 -.4 0M918.3 1340.1l1.4 -1 6 -.3 2 .6 .5 .7 -8.5 1.7 -1.4 -1.7M905 1368.1l.7 -.7 1.1 .7 -1.1 2.1 -.7 -2.1M877 1431l3 0 0 3 -3 0 0 -3M881 1437l3 0 0 3 -3 0 0 -3M878 1443l1 0 0 7 -1 0 0 -7M897 1417l3 0 0 3 -3 0 0 -3M889 1428l1 0 0 1 -1 -1"/>
<path stroke="#000080" d="M214.4 1789.6l6 0 1.5 1.5 4.5 0 1.5 1.2 6 .6 1.5 1.2 4.5 0 1.5 1.5 4.5 0 1.5 1.5 1.5 0 1.5 1.5 1.5 0 4.5 1.8 1.5 1.3 1.5 0 1.5 1.5 1.5 0 1.5 1.4 1.5 .1 1.5 .9 5 5.9 10.2 13.5 6.5 19.5 2.9 19.5 1.6 15 .6 12 1.2 9 .2 21M1049.7 1202.1l-.5 2 -3.7 4 -.5 2 -3.6 4 -.6 2 -3.4 4 -2.2 4 -3.6 4 -.5 2 -3.7 4 -.5 2 -3.6 4 -2.1 4 -3.5 4.2 -.6 1.8 -3.6 4 -.5 2 -3.7 4 -.5 2 -3.5 4 -2.2 4 -3.5 4 -.6 2 -3.6 4 -.6 2 -3.5 4 -2.1 4 -3.5 4.1 -.7 1.9 -3.6 4 -.6 2 -3.6 4 -.8 2 -3.2 4 -2.3 4 -3.4 4 -.7 2 -3.6 4 -.7 2 -3.4 4 -2.2 4 -3.4 4 -.8 2 -3.5 4 -.8 2 -3.4 4 -6.4 10 -3.5 4 -.8 2 -3.5 4 -6.4 10 -3.6 4 -.8 2 -3.5 4 -2.3 4 -3.7 4 -.6 2 -3.7 4 -.5 1.3 -2 .8 -2 -2.1 -.6 -2 4.6 -10 4.5 -12 1.7 -2 .8 -2 5 -7.4 .9 -2.6 5.5 -8 .7 -2 4.9 -6.7 2.7 -5.3 4 -6 2.3 -6 5 -6.1 3.2 -5.9 3.2 -4 3.7 -6 .3 -2 6.1 -6 3.7 -6 .5 -2 3.4 -4 .6 -2 5.3 -5.9 .9 -2.1 3.3 -4 .7 -2 3.1 -3.6 2.5 -4.4 5.5 -7.4 2.2 -4.6 3.8 -3.7 1.1 -2.3 2.9 -3.6 .7 -2.4 3.3 -4 .2 -2 3.8 -3.9 2.5 -4.1 3.5 -4 .3 -2 3.8 -4 .3 -2 3.6 -3.7 2.4 -4.3 3.6 -4 .7 -2 3.5 -4"/>
<path stroke="#000081" d="M214.4 1789.6l6 0 1.5 1.5 4.5 0 1.5 1.2 6 .6 1.5 1.2 4.5 0 1.5 1.5 4.5 .1 1.5 1.4 1.5 .1 1.5 1.4 1.5 .1 1.5 1 3 .8 1.5 1.2 1.5 0 1.5 1.5 1.5 0 1.5 1.4 1.5 .2 1.5 .9 5 5.8 10.1 13.5 6.6 19.5 2.9 19.5 1.6 15 .5 12 1.2 9 .3 21M1049.7 1202.1l-.6 2 -3.6 4 -.5 2 -3.6 4 -.7 2 -3.3 4 -2.2 4 -3.6 4 -.6 2 -3.6 4 -.5 2 -3.6 4 -2.1 4 -3.5 4.1 -.6 1.9 -3.6 4 -.6 2 -3.6 4 -.6 2 -3.4 4 -2.2 4 -3.5 4 -.6 2 -3.7 4 -.6 2 -3.5 4 -2.1 4 -3.4 4 -.7 2 -3.6 4 -.7 2 -3.5 4 -.8 2 -3.3 4 -2.2 4 -3.5 4 -.7 2 -3.5 4 -.8 2 -3.4 4 -2.1 4 -3.4 4 -.8 2 -7.8 10 -6.4 10 -3.4 4 -.9 2 -3.4 4 -2.3 4 -3.3 4 -.9 2 -3.6 4 -.8 2 -3.5 4 -2.2 4 -3.9 4 -.5 2 -4.1 4.9 -2 1.1 -1.2 -2 .4 -4 2.9 -6 5.3 -14 25.8 -42 3.9 -8 3.3 -4 12.7 -20 4.9 -5.5 4.7 -8.5 17.3 -23.9 .9 -2.1 7.1 -9.8 .9 -2.2 5.1 -6.2 8.6 -13.8 3.5 -4 4.1 -6 .8 -2 17.4 -24"/>
<path stroke="#000082" d="M214.4 1789.6l6 0 1.5 1.5 4.5 0 1.5 1.2 6 .7 1.5 1.1 4.5 .1 1.5 1.4 4.5 .1 1.5 1.5 1.5 0 1.5 1.4 1.5 .1 1.5 1 3 .8 1.5 1.2 1.5 .1 1.5 1.5 1.5 0 1.5 1.4 1.5 .1 1.5 1 4.9 5.7 10.1 13.5 6.6 19.5 2.9 19.5 3.4 36 .3 21M1049.7 1202.1l-.6 2 -3.7 4 -.4 2 -3.6 4 -.7 2 -3.4 4 -2.2 4 -3.6 4 -.5 2 -3.7 4 -.5 2 -3.5 4 -2.1 4 -3.5 4 -.6 2 -3.7 4 -.5 2 -3.6 4 -.7 2 -3.3 4 -2.2 4 -3.6 4 -.6 2 -3.6 4 -.6 2 -3.5 4 -2.1 4 -3.4 4 -.8 2 -3.5 4 -.7 2 -3.6 4 -2.1 4 -7.6 10 -.7 2 -3.5 4 -.8 2 -9 12 -.8 2 -7.7 10 -2.2 4 -12 16 -2.2 4 -3.5 4 -.8 2 -9.4 12 -.7 2 -4 4 -.4 2 -4 4.5 -1.7 -.5 -.4 -2 .3 -2 3 -6 4.1 -12 10.3 -18 16.1 -26 3.1 -6 14.1 -22 7.1 -8.9 5.3 -9.1 22.7 -32.1 3.6 -5.9 4.4 -5.7 9.1 -14.3 25.6 -36"/>
<path stroke="#000083" d="M214.4 1789.7l6 0 1.5 1.5 4.5 0 1.5 1.2 6 .6 1.5 1.2 4.5 0 1.5 1.5 4.5 0 1.5 1.5 1.5 0 1.5 1.5 1.5 .1 1.5 1 3 .8 1.5 1.2 1.5 0 1.5 1.5 1.5 0 1.5 1.4 1.5 .2 1.5 1 4.8 5.6 10.2 13.6 6.6 19.4 2.9 19.5 3.4 36 .3 21M1049.7 1202l-.6 2.1 -3.7 4 -.5 2 -3.6 4 -.7 2 -4.9 6.3 -.6 1.7 -3.6 4 -.5 2 -3.7 4 -.5 2 -3.5 4 -2.2 4 -3.4 4 -.7 2 -3.6 4 -.6 2 -3.5 4 -.7 2 -3.3 4 -2.3 4 -3.5 4 -.6 2 -3.6 4 -.7 2 -3.4 4 -2.1 4 -3.5 4 -.7 2 -3.6 4 -.7 2 -3.5 4 -2.2 4 -7.6 10 -.7 2 -3.5 4 -.8 2 -3.3 4 -2.2 4 -3.4 4 -.9 2 -3.4 4 -2.3 4 -2 2 -2.2 4 -7.7 10 -2.3 4 -2 2 -2.2 4 -3.5 4 -.8 2 -9.5 12 -.6 2 -4.1 4 -.2 1.2 -2 2.9 -2 1.9 -.9 -2 .1 -2 3.2 -6 3.7 -12 8.9 -16 17.2 -28 3 -6 14.1 -22 6.7 -8.1 5.8 -9.9 30.2 -43.3 5.4 -8.7 29.5 -42"/>
<path stroke="#000084" d="M214.4 1789.7l6 0 1.5 1.5 4.5 0 1.5 1.2 4.5 .3 3 1.5 4.5 0 1.5 1.5 4.5 .1 1.5 1.5 1.5 0 1.5 1.4 1.5 .1 1.5 1.1 3 .8 1.5 1.1 1.5 .1 1.5 1.5 1.5 0 1.5 1.4 1.5 .1 5.1 5.1 11.4 15.2 6.5 19.3 1.9 15 1 4.5 3.4 36 .4 21M1049.7 1202l-.7 2.1 -3.6 4 -.5 2 -3.6 4 -.7 2 -4.9 6.2 -.6 1.8 -3.6 4 -.6 2 -3.6 4 -.6 2 -9.1 12 -.6 2 -3.6 4 -.6 2 -3.6 4 -.7 2 -3.3 4 -2.2 4 -3.5 4 -.7 2 -3.5 4 -.7 2 -9 12 -.8 2 -3.5 4 -.7 2 -3.5 4 -2.2 4 -7.6 10 -.8 2 -3.4 4 -6.4 10 -7.7 10 -2.3 4 -1.9 2 -2.3 4 -3.3 4 -.9 2 -7.7 10 -2.3 4 -3.5 4 -.8 2 -3.6 4 -2.3 4 -3.8 4 -.4 2 -4.2 4.2 -1 -.2 1.1 -6 2.9 -10 8.6 -16 10 -16 11.3 -20 12.9 -20 6.2 -7.5 7.6 -12.5 63.6 -92"/>
<path stroke="#000085" d="M214.4 1789.7l6 .1 1.5 1.4 4.5 0 1.5 1.3 4.5 .2 3 1.5 4.5 .1 1.5 1.5 4.5 0 1.5 1.5 1.5 0 1.5 1.5 1.5 0 6 3.1 1.5 0 1.5 1.5 1.5 0 1.5 1.5 1.5 .1 1.5 1 13.8 17.5 1.6 3 6.1 18 1.4 9 .4 6 1.3 6 3.2 34.5 .3 21M1049.7 1202l-.7 2.1 -3.6 4 -.6 2 -3.5 4 -2.2 4 -3.4 4.1 -.7 1.9 -3.5 4 -.6 2 -3.6 4 -.6 2 -9.1 12 -.7 2 -3.5 4 -.7 2 -3.5 4 -.8 2 -4.7 6.2 -.8 1.8 -3.5 4 -.6 2 -3.6 4 -.7 2 -3.4 4 -2.1 4 -3.4 4 -.8 2 -3.5 4 -.8 2 -3.5 4 -2.1 4 -7.7 10 -.7 2 -3.5 4 -2.2 4 -7.6 10 -.8 2 -3.4 4 -2.3 4 -2 2 -2.2 4 -3.4 4 -.9 2 -3.5 4 -2.3 4 -3.4 4 -.8 2 -3.5 4 -.8 2 -3.6 4 -2.3 4 -4 4 -.2 2 -2.1 .4 -.2 -4.4 2.2 -8 8.2 -16 9.8 -15.7 11.4 -20.3 12.8 -20 5.8 -6.9 6.6 -11.1 64.9 -94"/>
<path stroke="#000087" d="M214.4 1789.8l6 0 1.5 1.5 4.5 0 1.5 1.2 4.5 .3 3 1.5 4.5 0 1.5 1.5 4.5 .1 1.5 1.5 1.5 0 1.5 1.4 1.5 .1 6 3 1.5 .1 1.5 1.5 1.5 0 1.5 1.4 1.5 .1 1.5 1.1 13.8 17.4 1.6 3 6 18 .3 4.5 1.1 4.5 .4 6 1.3 6 3.2 34.5 .4 21M1049.7 1202l-.7 2.1 -3.6 4 -.6 2 -3.5 4 -2.2 4 -3.4 4 -.7 2 -3.6 4 -.6 2 -3.6 4 -.6 2 -9 12 -.7 2 -3.6 4 -.6 2 -3.5 4 -2.1 4 -7.7 10 -.7 2 -3.5 4 -.8 2 -3.3 4 -2.2 4 -7.7 10 -2.2 4 -2 2 -2.2 4 -7.6 10 -.8 2 -3.4 4 -6.4 10 -3.4 4 -.9 2 -3.4 4 -2.3 4 -2 2 -2.2 4 -7.7 10 -2.3 4 -3.5 4 -.7 2 -3.7 4 -.7 2 -3.7 4 -2.4 4.3 -3.9 3.7 -.1 .8 -.7 -2.8 .1 -2 1.8 -6 7.7 -16 9.1 -14.6 10.6 -19.4 14 -22 5.4 -6.3 7 -11.7 64.8 -94"/>
<path stroke="#000088" d="M214.4 1789.8l6 0 1.5 1.5 4.5 0 1.5 1.3 4.5 .2 3 1.5 4.5 .1 1.5 1.5 4.5 0 1.5 1.5 1.5 0 1.5 1.5 1.5 0 6 3.1 1.5 0 1.5 1.5 1.5 0 1.5 1.5 1.5 .1 1.5 1.1 13.7 17.3 1.6 3 4.7 15 1.3 3 .3 4.5 1.2 4.5 .4 6 1.3 6 3.2 34.5 .4 21M1049.7 1201.9l-.8 2.2 -3.6 4 -.6 2 -3.5 4 -2.1 4 -3.4 4 -.8 2 -3.5 4 -.6 2 -3.6 4 -.7 2 -8.9 12 -.7 2 -3.6 4 -.7 2 -3.4 4 -2.2 4 -7.6 10 -.7 2 -3.5 4 -.8 2 -3.3 4 -2.2 4 -7.7 10 -2.3 4 -2 2 -2.1 4 -7.7 10 -.8 2 -3.4 4 -6.4 10 -3.4 4 -.9 2 -3.4 4 -2.2 4 -2 2 -2.3 4 -3.4 4 -.8 2 -3.5 4 -2.3 4 -3.6 4 -.6 2 -3.8 4 -.6 2 -5.4 6 -.5 2 -2.1 2.1 -.7 -.1 -.4 -2 .7 -4 7.9 -18 8.8 -14 12.1 -22 12.6 -20 5.2 -6 7.2 -12 64.7 -94"/>
<path stroke="#000089" d="M214.4 1789.9l6 0 1.5 1.5 4.5 0 1.5 1.3 4.5 .2 3 1.5 4.5 0 1.5 1.5 4.5 .1 1.5 1.5 1.5 0 1.5 1.4 1.5 .1 1.5 1.2 3 .7 1.5 1.1 1.5 .1 1.5 1.5 1.5 0 1.5 1.4 1.5 .1 1.5 1.3 13.6 17.1 1.6 3 3.6 12 1 1.5 .5 3 1 1.5 .5 6 .9 3 .6 7.5 1.1 4.5 3.4 36 .3 19.5M1049.7 1201.9l-.8 2.2 -3.6 4 -.6 2 -3.5 4 -2.2 4 -3.4 4 -.7 2 -3.5 4 -.7 2 -3.5 4 -.7 2 -3.3 4 -2.3 4 -3.4 4 -.7 2 -3.5 4 -.7 2 -3.5 4 -2.1 4 -7.7 10 -.7 2 -3.5 4 -.8 2 -3.3 4 -2.2 4 -7.7 10 -2.2 4 -2 2 -2.2 4 -7.6 10 -.8 2 -3.4 4 -6.4 10 -3.5 4 -.8 2 -9.2 12 -.8 2 -3.4 4 -.8 2 -3.5 4 -2.3 4 -3.7 4 -.5 2 -3.8 4 -.5 1.6 -2 2.7 -3.8 3.7 -.2 2 -.9 0 -.3 -2 .5 -2 2.1 -4 4.8 -14 8.9 -14 2.7 -6 9.1 -16 12.6 -20 5.1 -6 5.9 -10 65.9 -96"/>
<path stroke="#00008b" d="M214.4 1789.9l6 0 1.5 1.5 4.5 0 1.5 1.3 4.5 .2 3 1.5 4.5 .1 1.5 1.5 4.5 0 1.5 1.5 1.5 0 1.5 1.5 1.5 0 1.5 1.3 2.9 .7 1.6 1.1 1.5 0 1.5 1.5 1.5 .1 1.5 1.4 1.5 .1 1.5 1.3 3.3 3.5 1.7 3 4 4.5 .5 1.5 4.1 4.5 1.6 3 1.9 7.5 1.1 1.5 .4 3 1.1 1.5 .4 3 1.1 1.5 .4 6 1 3 .6 7.5 1.1 4.5 3.4 36 .3 19.5M1049.7 1201.9l-.9 2.2 -3.5 4 -.7 2 -9 12 -.7 2 -3.6 4 -.6 2 -3.5 4 -.8 2 -3.3 4 -2.2 4 -3.4 4 -.7 2 -3.6 4 -.7 2 -3.4 4 -2.1 4 -7.7 10 -.7 2 -3.5 4 -6.3 10 -7.7 10 -2.3 4 -1.9 2 -2.3 4 -7.6 10 -.8 2 -3.4 4 -2.2 4 -3.3 4 -.9 2 -3.5 4 -.8 2 -3.4 4 -2.3 4 -3.5 4 -.7 2 -3.5 4 -.8 2 -3.5 4 -2.3 4 -3.8 4 -.4 2 -3.9 4 -.3 1.1 -1.4 .9 -.6 2.1 -1.5 -.1 1.1 -6 3.4 -10 8.8 -14 2.6 -6 9 -16 12.6 -20 4.9 -6 6 -10 65.8 -96"/>
<path stroke="#00008c" d="M214.4 1790l6 0 1.5 1.5 4.5 0 1.5 1.3 4.5 .2 3 1.5 4.5 0 1.5 1.5 4.5 .1 1.5 1.5 1.5 0 1.5 1.5 1.5 0 1.5 1.3 2.7 .6 1.8 1.2 1.5 0 1.5 1.5 1.5 0 1.5 1.5 1.5 .1 1.5 1.3 3.2 3.4 6.2 9 4.1 4.7 .3 1.3 1.3 1.5 .3 3 1.1 1.2 .4 3.3 1.2 1.5 .3 3 1.2 1.5 .3 3 1.2 1.5 .4 6 1.1 3 .4 7.5 1.3 4.5 3.4 36 .3 19.5M1049.7 1201.8l-.9 2.3 -3.6 4 -.6 2 -9 12 -.8 2 -3.5 4 -.7 2 -3.5 4 -.8 2 -4.6 6 -.8 2 -3.5 4 -.7 2 -3.5 4 -.8 2 -3.3 4 -2.2 4 -7.6 10 -.8 2 -3.5 4 -6.3 10 -7.7 10 -2.2 4 -2 2 -2.2 4 -3.4 4 -.8 2 -3.5 4 -.8 2 -3.3 4 -2.3 4 -7.7 10 -.8 2 -3.4 4 -2.2 4 -3.6 4 -.7 2 -3.6 4 -.7 2 -5 6 -.8 2 -3.9 4 -.3 2 -4.1 4.4 -1.3 -.4 3.1 -12 8.8 -14 2.5 -6 8.9 -16 12.5 -20 4.9 -6 3.3 -6 16.2 -24 52.1 -76"/>
<path stroke="#00008e" d="M214.4 1790l6 0 1.5 1.5 4.5 0 1.5 1.4 4.5 .1 3 1.5 4.5 .1 1.5 1.5 4.5 .1 1.5 1.4 1.5 .1 1.5 1.4 1.5 .1 1.5 1.3 2.5 .5 2 1.2 1.5 .1 1.5 1.5 1.5 0 1.5 1.5 1.5 0 4.6 4.7 .5 1.5 4 4.5 1.6 3 2.8 2.9 3 4.6 .2 3 1.3 1.4 .2 3.1 1.3 1.4 .2 3.1 1.3 1.4 .2 3.1 1.4 1.5 .2 6 1.2 3.1 .4 7.4 1.3 4.5 .3 7.5 1.3 7.5 2 22.5 .2 18M1049.7 1201.8l-1 2.3 -3.5 4 -.7 2 -9 12 -.7 2 -3.5 4 -.8 2 -3.4 4 -2.1 4 -3.4 4 -.8 2 -3.4 4 -.7 2 -3.6 4 -.7 2 -3.4 4 -2.1 4 -7.7 10 -.8 2 -3.4 4 -6.3 10 -3.4 4 -.9 2 -3.4 4 -2.3 4 -1.9 2 -2.3 4 -3.4 4 -.8 2 -3.4 4 -6.4 10 -7.8 10 -.8 2 -3.4 4 -2.2 4 -3.7 4 -.6 2 -3.6 4 -.7 1.9 -5.2 6.1 -.6 2 -4 4 -.2 1.4 -1.5 .6 -.5 2.1 -.8 -.1 1.6 -10 8.6 -14 2.4 -6 8.8 -16 12.4 -20 4.8 -6 3.4 -6 16.1 -24 52 -76"/>
<path stroke="#00008f" d="M214.4 1790.1l6 0 1.5 1.5 4.5 0 1.5 1.3 4.5 .2 3 1.5 4.5 0 1.5 1.5 4.5 .1 1.5 1.5 1.5 0 1.5 1.5 1.5 0 1.5 1.4 2.3 .4 2.2 1.3 1.5 0 1.5 1.5 1.5 .1 1.5 1.5 1.7 .1 4.3 4.5 .3 1.5 4.2 4.5 .2 1.5 2.8 3 9.9 24 .6 1.8 .3 5.7 1.2 2.4 .3 6.6 1.3 4.5 .3 7.5 1.5 9 1.7 19.5 .4 19.5M1049.7 1201.8l-1 2.3 -3.5 4 -.8 2 -8.9 12 -.8 2 -3.5 4 -.7 2 -3.4 4 -2.2 4 -3.3 4 -.8 2 -3.4 4 -.8 2 -3.5 4 -.8 2 -3.3 4 -2.2 4 -7.6 10 -.8 2 -3.4 4 -6.4 10 -7.7 10 -2.2 4 -2 2 -2.2 4 -3.4 4 -.9 2 -3.4 4 -6.4 10 -3.4 4 -.9 2 -7.7 10 -2.2 4 -3.8 4 -.5 2 -3.6 4 -2.6 4.4 -3.5 3.6 -.4 2 -2.1 2.1 -2 .5 0 -4.6 4.2 -8 4.1 -6 2.3 -6 7.4 -14 13.5 -22 4.5 -5.6 3.6 -6.4 16.1 -24 51.9 -76"/>
<path stroke="#000091" d="M214.4 1790.2l6 0 1.5 1.4 4.5 .1 1.5 1.3 4.5 .2 3 1.4 4.5 .1 1.5 1.5 4.5 .1 1.5 1.5 1.5 0 1.5 1.5 1.5 0 1.5 1.4 2.1 .3 2.4 1.4 1.5 0 1.5 1.5 1.5 0 1.5 1.5 1.5 .1 3 3.9 10.5 18.6 6.5 16.5 4 12.1 .2 5.9 .3 1.5 1 1.5 .5 9 1.3 7.5 1.7 19.5 .4 19.5M1049.7 1201.7l-1.1 2.4 -3.4 4 -.8 2 -3.3 4 -2.3 4 -3.4 4 -.7 2 -3.5 4 -.8 2 -8.9 12 -.8 2 -3.4 4 -.8 2 -3.4 4 -6.3 10 -7.7 10 -2.2 4 -2 2 -2.2 4 -3.3 4 -.8 2 -3.5 4 -.8 2 -3.4 4 -2.3 4 -2 2 -2.2 4 -3.4 4 -.9 2 -3.4 4 -6.4 10 -3.5 4 -.7 2 -3.5 4 -2.3 4 -3.4 4 -.8 2 -3.8 4 -.5 2 -3.7 4 -2.4 4.3 -3.8 3.7 -.2 2 -1.8 0 -.5 -2 3.5 -8 4.1 -6 2.1 -6 7.2 -14 13.4 -22 4 -5 4 -6.9 20.1 -30.1 47.9 -70"/>
<path stroke="#000093" d="M214.4 1790.2l6 0 1.5 1.5 4.5 0 1.5 1.4 4.5 .1 3 1.5 4.5 .1 1.5 1.5 4.5 .1 1.5 1.4 1.5 .1 1.5 1.4 1.5 .1 1.5 1.4 1.8 .2 1.2 1.2 3 .3 2.1 1.5 2.6 3 4.3 6.7 10.5 18.8 5.3 13.5 5.2 16.1 .1 1.9 1.4 2.6 .3 7.9 1.4 7.5 1.9 21 .3 18M1049.7 1201.7l-1.1 2.4 -3.5 4 -.8 2 -3.3 4 -2.2 4 -3.4 4 -.8 2 -7.6 10 -2.2 4 -3.3 4 -.8 2 -3.4 4 -.8 2 -3.5 4 -6.3 10 -7.7 10 -2.2 4 -1.9 2 -2.3 4 -3.2 4 -.9 2 -7.7 10 -2.2 4 -2 2 -2.3 4 -3.4 4 -.8 2 -3.5 4 -2.1 4 -3.4 4 -.8 2 -3.6 4 -.7 2 -3.6 4 -2.2 4 -3.5 4 -.6 2 -4 4 -.4 1.9 -5.4 6.1 -.6 2.1 -2 2 -.9 -.1 .9 -5.3 4.4 -6.7 1.9 -6 7 -14 13.3 -22 3.4 -4.2 4 -6.9 48.8 -72.9 19.5 -28"/>
<path stroke="#000095" d="M1049.7 1201.6l-1.2 2.5 -3.4 4 -6.4 10 -3.4 4 -.8 2 -7.5 10 -2.2 4 -3.4 4 -.8 2 -3.4 4 -.8 2 -3.4 4 -6.3 10 -7.7 10 -2.2 4 -2 2 -2.2 4 -3.3 4 -.9 2 -7.7 10 -2.2 4 -2 2 -2.3 4 -7.6 10 -2.2 4 -3.4 4 -.8 2 -3.6 4 -.7 2 -3.6 4 -2.2 4 -3.7 4 -.4 2 -4.1 4 -2.2 4.2 -3.8 3.8 -.5 2 -.4 -2 .6 -2 3.9 -6 1.5 -6 5.7 -12 14.2 -24 3.1 -4 3.7 -6.4 49.1 -73.6 19.5 -28"/>
<path stroke="#000097" d="M1049.7 1201.6l-1.3 2.5 -3.4 4 -2.1 4 -3.3 4 -.9 2 -3.4 4 -.8 2 -7.6 10 -2.2 4 -3.4 4 -.8 2 -7.6 10 -6.3 10 -3.4 4 -.9 2 -3.4 4 -2.2 4 -2 2 -2.2 4 -3.3 4 -.8 2 -7.7 10 -2.3 4 -3.5 4 -.7 2 -3.5 4 -.8 2 -3.4 4 -2.2 4 -3.5 4 -.7 2 -3.6 4 -.7 2 -3.6 4 -2.2 4 -3.8 4 -.3 2 -4.2 4 -.3 -2 .7 -4 5.4 -12 14 -24 3.1 -4 3.1 -5.6 21.3 -32.4 28.1 -42 19.6 -28"/>
<path stroke="#000099" d="M1049.7 1201.5l-2.8 4.6 -1.9 2 -2.2 4 -3.3 4 -.9 2 -7.6 10 -2.2 4 -1.9 2 -2.2 4 -3.4 4 -.8 2 -7.6 10 -6.4 10 -3.4 4 -.9 2 -3.3 4 -2.2 4 -2 2 -2.3 4 -3.3 4 -.8 2 -7.7 10 -2.2 4 -3.6 4 -.7 2 -7.7 10 -2.2 4 -3.6 4 -.6 2 -3.7 4 -.6 1.8 -5.2 6.2 -.6 2 -3.9 4 -.2 2 -2.1 .9 -.2 -2.9 4.2 -10.4 14.5 -25.6 27.2 -42 28.1 -42 19.5 -28"/>
<path stroke="#00009c" d="M1049.7 1201.5l-2.8 4.6 -2 2 -2.1 4 -3.4 4 -.8 2 -7.6 10 -2.2 4 -2 2 -2.2 4 -3.4 4 -.8 2 -7.6 10 -6.3 10 -3.5 4 -6.4 10 -2 2 -2.2 4 -3.4 4 -.8 2 -7.7 10 -2.2 4 -3.6 4 -.7 2 -3.5 4 -.8 1.9 -4.8 6.1 -.7 2 -3.7 4 -.6 2 -3.7 4 -2.5 4.3 -3.5 3.7 -.4 2 -4.1 4.2 0 -2.2 3.9 -10 13.3 -24 26.8 -41.7 4 -5.3 24.2 -37 19.5 -28"/>
<path stroke="#00009e" d="M1049.7 1201.4l-2.8 4.7 -2 2 -2.2 4 -3.3 4 -.9 2 -7.6 10 -2.2 4 -1.9 2 -2.3 4 -3.4 4 -.8 2 -7.6 10 -6.3 10 -3.5 4 -6.3 10 -2 2 -2.3 4 -3.4 4 -.8 2 -3.4 4 -2.3 4 -3.4 4 -.8 2 -3.6 4 -.7 2 -3.6 4 -2.2 4 -3.5 4 -.5 2 -3.8 4 -.5 2 -5.4 6 -.7 2.2 -3.9 3.8 -.1 2 -.9 0 .6 -4 2.4 -6 16.7 -30 7.2 -10.4 14 -22.5 26 -38.5 2.6 -4.6 19.5 -28"/>
<path stroke="#0000a1" d="M1049.7 1201.4l-2.9 4.7 -1.9 2 -2.2 4 -3.4 4 -.9 2 -7.6 10 -6.3 10 -3.5 4 -.8 2 -7.5 10 -2.2 4 -3.3 4 -.9 2 -3.4 4 -6.4 10 -2 2 -2.3 4 -3.4 4 -.7 2 -9.3 12 -.7 2 -3.7 4 -.6 2 -3.6 4 -2.2 4 -3.6 4 -.4 2 -3.9 4 -.4 2 -5.8 6 -.2 2 -.8 0 .6 -4 3.7 -8 11.9 -22 6.6 -9.2 2.5 -4.8 11.5 -18.1 26 -38.5 3.1 -5.4 19.4 -28"/>
<path stroke="#0000a3" d="M1049.7 1201.3l-2.9 4.8 -2 2 -2.2 4 -3.4 4 -.8 2 -7.6 10 -6.4 10 -3.5 4 -.7 2 -7.6 10 -2.2 4 -3.3 4 -.8 2 -7.7 10 -2.2 4 -2 2 -2.3 4 -3.4 4 -.7 2 -3.5 4 -2.3 4 -3.6 4 -.6 2 -3.7 4 -.6 1.8 -5.2 6.2 -.6 2 -3.8 4 -.2 2 -4 4 -.2 .9 -1.6 1.1 -.4 2 -.7 0 1.5 -6 11.2 -21.7 4.7 -6.3 4.4 -8 4.2 -6 6.7 -11.2 26.1 -38.8 3.5 -6 19.3 -28"/>
<path stroke="#0000a6" d="M1049.7 1201.3l-3 4.8 -2 2 -2.2 4 -3.4 4 -.8 2 -7.6 10 -6.4 10 -3.4 4 -.8 2 -3.4 4 -2.2 4 -2 2 -2.1 4 -3.4 4 -.8 2 -7.7 10 -2.2 4 -3.5 4 -.7 2 -3.5 4 -.7 2 -3.5 4 -2.3 4 -3.7 4 -.5 2 -3.8 4 -2.4 4.3 -3.5 3.7 -.4 2 -3.9 4 -.1 2 -2.1 2.1 -1.4 -.1 4.2 -8 5.1 -12 6.1 -8.5 3.7 -7.5 4.3 -6 6 -10.3 5.5 -7.7 6.1 -10 15.1 -22 3.4 -6 19.3 -28"/>
<path stroke="#0000a9" d="M1049.7 1201.2l-3.1 4.9 -1.9 2 -2.2 4 -3.5 4 -.8 2 -3.4 4 -6.3 10 -3.4 4 -.8 2 -3.5 4 -.8 2 -3.3 4 -2.3 4 -1.9 2 -2.2 4 -3.4 4 -.8 2 -3.5 4 -2.3 4 -1.9 2 -2.1 4 -3.7 4 -.6 2 -3.6 4 -.6 2 -5 6 -.8 2 -3.8 4 -.4 2 -5.5 6 -.6 2.1 -3.9 3.9 -.1 1.1 -.2 -3.1 2.2 -5.8 6 -8.9 4.3 -9.3 4.5 -6 5.2 -9.2 4.9 -6.8 7.3 -12 15.1 -22 3.3 -6 19.3 -28"/>
<path stroke="#0000ad" d="M1049.7 1201.1l-3.1 5 -2 2 -2.2 4 -3.5 4 -.8 2 -3.4 4 -6.3 10 -3.4 4 -.8 2 -3.5 4 -.8 2 -3.3 4 -2.2 4 -3.5 4 -.7 2 -3.5 4 -.7 2 -3.5 4 -2.3 4 -3.3 4 -.7 2 -3.7 4 -.6 2 -3.6 4 -.6 1.8 -2 2.7 -3.2 3.5 -.5 2 -4 4 -.3 2 -4 4.1 -1.4 -.1 1.4 -3.6 2 -2.7 5 -11.7 4.6 -6 5.6 -10 4.5 -6 8.3 -13.9 13.9 -20.1 3.2 -6 19.3 -28"/>
<path stroke="#0000b0" d="M1049.7 1201l-1.1 1.1 -2.1 4 -3.3 4 -.9 2 -3.5 4 -.8 2 -3.4 4 -2.2 4 -3.3 4 -.8 2 -3.4 4 -.8 2 -3.6 4 -.7 2 -3.3 4 -2.2 4 -3.5 4 -.7 2 -3.5 4 -.7 2 -3.6 4 -2.2 4 -3.4 4 -.6 2 -3.8 4 -.5 2 -3.6 4 -2.2 4 -3.7 4 -.4 2 -2.2 2.2 -1.9 -.2 3.6 -10 4.9 -6 4.2 -8 5.2 -7 6 -11 16 -23.1 3.7 -6.9 19.2 -28M977.3 1302.1l.4 -1.7 0 2.3 -.4 -.6"/>
<path stroke="#0000b4" d="M1049.7 1201l-1.2 1.1 -2 4 -3.4 4 -.9 2 -3.5 4 -.8 2 -3.4 4 -2.2 4 -3.3 4 -.8 2 -3.4 4 -.8 2 -3.6 4 -.7 1.9 -3.3 4.1 -2.2 4 -3.6 4 -.6 2 -3.5 4 -.7 2 -3.6 4 -1.5 2 -.7 2 -3.5 4 -.5 2 -3.9 4 -.4 1.7 -3.7 4.3 -2.3 4.3 -3.8 3.7 -.2 2 -1.2 0 .3 -4 1.6 -4 5 -6 4.3 -8.6 4.4 -5.4 5.6 -10.9 16 -23.1 4 -7.5 19.5 -28.5"/>
<path stroke="#0000b7" d="M1049.7 1200.9l-1.3 1.2 -2 4 -3.5 4 -.7 2 -3.6 4 -.8 2 -3.4 4 -2.2 4 -3.4 4 -.6 2 -3.6 4 -.7 2 -3.6 4 -2.1 4 -3.4 4 -.7 2 -3.6 4 -.6 2 -3.6 4 -.6 2 -5.3 6 -.5 2 -3.7 4 -.3 2 -5.7 6 -.4 2 -3.6 4 -.4 2 -2.1 2.2 -1.5 -.2 1.3 -4 5.5 -6 2.7 -6.9 2 -3.1 3.6 -4 2.2 -6 2.2 -3.8 16 -23.2 4 -7.5 20.1 -29.5"/>
<path stroke="#0000bb" d="M1049.7 1200.8l-2.7 3.3 -.7 2 -3.5 4 -.7 2 -3.6 4 -.8 2 -3.4 4 -2.2 4 -3.5 4 -.5 2 -3.6 4 -.7 2 -3.6 4 -2.1 4 -3.5 4 -.6 2 -3.7 4 -.5 2 -3.6 4 -2.5 4.4 -3.7 3.6 -.2 2 -3.8 4 -.2 2 -2.1 2.1 -1.8 -.1 1.8 -4.2 4.9 -5.8 1.8 -6 3.3 -5.8 14 -20.2 4.4 -8 20.5 -30M991.5 1282.1l.2 -1.1 -.2 1.1M985.4 1290.1l.3 -.4 .1 .4 -.1 2 -1.2 0 .9 -2"/>
<path stroke="#0000c0" d="M1049.7 1200.7l-2.8 3.4 -.7 2 -3.6 4 -.6 2 -3.7 4 -.6 1.7 -5 6.3 -.6 2 -3.7 4 -.4 2 -3.7 4 -.6 2 -3.7 4 -2 4 -3.7 4 -.4 2 -3.8 4 -.4 2 -3.7 4 -2.1 4 -2.2 2.3 -1.4 -.3 .5 -2 2.7 -6 15.1 -22 4.2 -8 20.5 -30M999 1272.1l.7 -1.2 0 1.2 -.7 0M997.3 1274.1l.4 -.4 -.4 .4M995.5 1276.1l.2 2 -.4 0 .2 -2"/>
<path stroke="#0000c4" d="M1049.7 1200.6l-3.1 3.5 -.4 2 -3.8 4 -.5 2 -3.7 4 -2.2 4 -3.6 4 -.4 2 -3.8 4 -.3 2 -3.7 4 -2.5 4.2 -3.4 3.8 -.4 2 -3.8 4 -.3 2 -3.9 4 -.2 1.1 -2 3.1 -3.6 3.8 -.3 2 -1.6 0 1.5 -4.6 5.5 -7.4 4.5 -7.6 4.6 -6.4 5.4 -10 7.2 -10 10.8 -17.1 2.6 -2.9"/>
<path stroke="#0000c9" d="M1049.7 1200.5l-3.3 3.6 -.3 2 -3.8 4 -.5 2 -5.2 6 -.7 2 -3.8 4 -.2 2 -3.9 4 -.2 2 -3.8 4 -.3 .9 -1.6 1.1 -.4 2.1 -1.8 -.1 3.8 -8.6 8 -10.8 3.5 -6.6 6.5 -10 3.7 -4M1018.4 1242.1l1.3 -1.7 0 1.8 -1.3 -.1M1016.7 1244.1l1 -1.5 .1 3.5 -2.1 2.2 -1.6 -.2 2.6 -4M1013.1 1250.1l.6 -1.3 0 3.3 -1 0 .4 -2"/>
<path stroke="#0000ce" d="M1049.7 1200.4l-3.5 3.7 -.2 2 -3.9 4 -.4 1.8 -5.6 6.2 -.3 2 -2.1 2.1 -1.1 -.1 3.7 -8 5.4 -8.6 4.8 -5.4M1031 1224.1l.7 -.9 .1 2.9 -2.1 2.1 -1.9 -.1 3.2 -4M1026.5 1230.1l1.2 -1.8 0 2.9 -4 5.2 -.8 -.3 .8 -2.7 2.8 -3.3"/>
<path stroke="#0000d3" d="M1049.7 1200.2l-2 2.1 -1.7 -.2 1.6 -2M1043.8 1204.1l1.9 -1.8 .2 3.8 -4 4 -.2 .9 -1.5 -.9 3.6 -6M1039 1212.1l.7 -1.1 .5 1.1 -.4 2 -2.1 2.1 -.7 -.1 .6 -2 1.4 -2"/>
<path stroke="#0000d9" d="M1049.7 1200.1l-.3 0M1045.6 1204.1l.2 2 -2.1 2.1 -1 -.1 1 -2.1 1.9 -1.9"/>
</g>
<rect x="218.4" y="1208.1" width="825.9" height="709.2" fill="none" stroke="#000" stroke-width="2.8"/>
<path d="M218.4 1917.3v-8.2M240.93 1917.3v-8.2M259.97 1917.3v-8.2M276.47 1917.3v-8.2M291.02 1917.3v-8.2M304.04 1917.3v-15.4M389.68 1917.3v-8.2M439.78 1917.3v-8.2M475.32 1917.3v-8.2M502.89 1917.3v-8.2M525.42 1917.3v-8.2M544.46 1917.3v-8.2M560.96 1917.3v-8.2M575.51 1917.3v-8.2M588.53 1917.3v-15.4M674.17 1917.3v-8.2M724.27 1917.3v-8.2M759.81 1917.3v-8.2M787.38 1917.3v-8.2M809.91 1917.3v-8.2M828.95 1917.3v-8.2M845.45 1917.3v-8.2M860 1917.3v-8.2M873.02 1917.3v-15.4M958.66 1917.3v-8.2M1008.76 1917.3v-8.2M1044.3 1917.3v-8.2M218.4 1917.3h15.4M218.4 1784.04h8.2M218.4 1706.09h8.2M218.4 1650.78h8.2M218.4 1607.88h8.2M218.4 1572.83h8.2M218.4 1543.19h8.2M218.4 1517.52h8.2M218.4 1494.88h8.2M218.4 1474.62h15.4M218.4 1341.36h8.2M218.4 1263.41h8.2M218.4 1208.1h8.2" stroke="#000" stroke-width="2.5" fill="none"/>
<g fill="#000">
<text transform="translate(266.64 1971.9) scale(1.1 1)" font-size="48.3">10</text><text transform="translate(322.34 1956.8) scale(1.06 1)" font-size="34.5">0</text>
<text transform="translate(551.13 1971.9) scale(1.1 1)" font-size="48.3">10</text><text transform="translate(606.83 1956.8) scale(1.06 1)" font-size="34.5">1</text>
<text transform="translate(835.62 1971.9) scale(1.1 1)" font-size="48.3">10</text><text transform="translate(891.32 1956.8) scale(1.06 1)" font-size="34.5">2</text>
<text transform="translate(124.7 1938.9) scale(1.1 1)" font-size="48.3">10</text><text transform="translate(180.4 1923.8) scale(1.06 1)" font-size="34.5">1</text>
<text transform="translate(124.7 1496.22) scale(1.1 1)" font-size="48.3">10</text><text transform="translate(180.4 1481.12) scale(1.06 1)" font-size="34.5">2</text>
<text x="587.9" y="2043.4" font-size="45.5" font-style="italic">y</text>
<text x="610.16" y="2029.8" font-size="40" font-family="'DejaVu Sans', sans-serif" font-weight="200">+</text>
<text transform="translate(617.75 2054.5) scale(1.27 1)" font-size="32">min</text>
<g transform="translate(71.2 1593.3) rotate(-90)">
<text x="3.8" y="0" font-size="45.5" font-style="italic">y</text>
<text x="26.06" y="-13.6" font-size="40" font-family="'DejaVu Sans', sans-serif" font-weight="200">+</text>
<text transform="translate(33.65 11.1) scale(1.27 1)" font-size="32">max</text>
</g>
<text transform="translate(15.35 1109.4) scale(1.17 1)" font-size="50">(d)</text>
</g>
<rect x="218.4" y="1068.3" width="825.9" height="39.6" fill="url(#jet)" stroke="#000" stroke-width="2.8"/>
<text transform="translate(291.2 1175.6) scale(1.1 1)" text-anchor="middle" font-size="48.3">10</text>
<text transform="translate(374.88 1175.6) scale(1.1 1)" text-anchor="middle" font-size="48.3">20</text>
<text transform="translate(458.56 1175.6) scale(1.1 1)" text-anchor="middle" font-size="48.3">30</text>
<text transform="translate(542.23 1175.6) scale(1.1 1)" text-anchor="middle" font-size="48.3">40</text>
<text transform="translate(625.91 1175.6) scale(1.1 1)" text-anchor="middle" font-size="48.3">50</text>
<text transform="translate(709.59 1175.6) scale(1.1 1)" text-anchor="middle" font-size="48.3">60</text>
<text transform="translate(793.27 1175.6) scale(1.1 1)" text-anchor="middle" font-size="48.3">70</text>
<text transform="translate(876.94 1175.6) scale(1.1 1)" text-anchor="middle" font-size="48.3">80</text>
<text transform="translate(960.62 1175.6) scale(1.1 1)" text-anchor="middle" font-size="48.3">90</text>
<text transform="translate(1044.3 1175.6) scale(1.1 1)" text-anchor="middle" font-size="48.3">100</text>
<path d="M291.2 1107.9v15.5M374.88 1107.9v15.5M458.56 1107.9v15.5M542.23 1107.9v15.5M625.91 1107.9v15.5M709.59 1107.9v15.5M793.27 1107.9v15.5M876.94 1107.9v15.5M960.62 1107.9v15.5M1044.3 1107.9v15.5" stroke="#000" stroke-width="2.5" fill="none"/>
</g>
<g>
<g clip-path="url(#clipe)" fill="none" stroke-width="1.6" stroke-linejoin="round">
<path stroke="#000080" d="M1344.3 1301.3l4 .1 5.5 4.6 3.3 4 -7.3 10 8.5 6.8 5.2 3.2 2.1 10 12.7 7.3 5.8 2.7 -.6 10 -3.2 2.3 -17 17.7 12.2 10 1.7 10 -9.8 10 -5.1 10 -4 3.3 -6.5 6.7 14.5 7.1 6 3.6 6 2.3 13.4 7 -13.4 6.8 -9.3 3.2 3.3 4.9 6 3.7 1.2 1.4 -1.9 10 20.7 14.4 2 1.5 3.4 4.1 -9.4 3.9 -8 4 -6.1 2.1 6.1 2.4 15.1 7.6 2.4 4 2.4 6 -4.4 10 12.3 10 -10.8 10 10.3 10 3.6 6 1.5 4 -11 10 3.5 10 -.4 10 5 10 -9.6 10 3.5 10 6 10 3.7 10 .3 10 -2.9 10 6.1 10 -1.8 10 -.7 10 2.1 10 1.1 10 -3.5 20 1.8 10 2.2 20 -2.1 10 1.5 10 -1 10 1.3 10 -1.1 10 1.1 10 -.9 10 .8 10 -.6 20 1.3 4 -2.2 2 -7.9 1.1 -6 2.2 -8 .3 -4 1.9 -10 .3 -2 1.6 -2 .3 -10 .2 -2 1.7 -11.9 .4 -2.1 1.7 -11.2 .3 -.8 .8M2139.9 1200.1l2.1 2.2 3 -2.2M2180 1201.8l-1.1 2.3 -5.1 6 -.7 2 -3.7 4 -2.2 4 -3.7 4 -2.2 4 -3.6 4 -.8 2 -3.6 4 -2.3 4 -3.7 4 -2.3 4 -3.6 4 -2.4 4 -3.5 4 -.9 2 -9.5 12 -2.3 4 -3.6 4 -2.4 4 -8 10 -2.3 4 -3.7 4 -2.2 4 -3.7 4 -.9 2 -4.9 6 -.8 2 -3.7 4 -2.2 4 -3.6 4 -2.3 4 -3.5 4 -.8 2 -5.1 6 -.8 2 -3.6 4 -2.3 4 -3.6 4 -.7 2 -5.2 6 -.7 2 -5.6 6 -.4 2 -3.7 4 -2.3 4 -3.8 4 -.4 2 -5.3 6 -.5 2 -5.6 6 -.5 2 -2.1 2.3 -4 -3.5 -2.2 -.8 -1.9 -2 -.3 -2 1.2 -4 1.2 -1.4 2 -.9 4 1.1 2 -1.4 2.6 -5.4 -.4 -2 -2.2 -2.3 -6 .2 -2.2 -1.9 .2 -2 2 -1.2 12 -1.2 2 -1.2 3.3 -6.4 3 -4 .7 -4 -.3 -2 5.3 -5.9 .7 -2.1 1.6 -2 5.1 -4 -.1 -4 -1.5 -2 -3.1 -8 1.2 -6 1.1 -2 3 -2.3 1.2 .3 .8 .3 2.1 3.7 1.9 2 2 .1 1.8 -4.1 -.6 -2 -3.9 -4 2.7 -1.3 6 .3 3.1 -5 .3 -2 -3.4 -3.1 -8 -1.8 -6 .2 -2.2 -1.3 7 -2 3.2 -3 6 .5 6 1.3 2 -.3 3.8 -2.5 5.1 -6 7.1 -12.8 1.2 -3.2 -.2 -2 -1.1 -2 -1.9 -1.8 -2 -.1 -2.9 1.9 -3 4 2.2 6 -.9 2 -1.4 .6 -1.4 -2.6 1.1 -6 -1 -2 -.7 -4 .1 -2 1 -2 .9 -.8 6 2.7 2 -.2 2 -2.4 2.1 -5.3 7.8 -2 4.2 -2 .6 -2 1.4 -2 .9 -4 7.2 -8 .6 -2 1.2 -1.5 .4 -2.5 -.4 -2.5 -2 -2.4 -6 -3.3 -1.5 -5.8 1.5 -7 2 1.9 1.1 7.1 1.1 2 1.8 .6 2 -.3 6 -2.1 1.3 -2.2 -1.2 -2 -3.4 -2 -2.1 -2 .8 -2 2.6 -2.4 2 -3.2 6 1.3 6 .3 2.2 -4 -.2 -1.1 -2 -.9 -2 -2 1.2 -8M2100.5 1248.1l2.2 0 1.1 2 -1.8 1.5 -2.2 -1.5 .7 -2M2084.9 1262.1l1.1 -1.1 2 0 1.1 1.1 .5 2 -1.6 1.7 -2 -.4 -1.2 -1.3 .1 -2"/>
<path stroke="#000082" d="M1344.3 1307.3l4 -.7 4.2 3.4 -4.2 5 -4 -.2M1344.3 1322l4 .7 9 7.3 1.2 10 5.8 2.7 12.9 7.3 .3 10 -5.2 5.9 -7 4.1 -3.6 4 -3.4 2.5 -2.6 3.5 2.6 2.2 4 2.2 6.9 5.6 2.6 10 -10.5 10 -5.3 10 -5.8 6 -1.9 1.9 -4 0M1344.3 1431l4 .1 37.4 18.9 -9.4 4.9 -12.3 5.1 5.9 10 2.1 10 16.9 12 9.1 8 -3.7 1.4 -8 4.4 -10.9 4.2 10.9 4.8 9.9 5.2 3.7 6 1.9 4 -4.7 10 12.5 10 -10 10 10.4 10 3.9 6 1.8 4 -10.6 10 3.6 10 -.1 10 5.1 10 -9.4 10 3.7 10 6.3 10.6 3.7 9.4 .3 10 -2.9 10 6.3 10 -1.6 10 -.7 10 2.3 10 1.1 10 -3.4 20 1.8 10 2.3 20 -2.1 10 1.6 10 -1 10 1.3 10 -1.1 10 1.1 10 -.9 10 .8 10 -.6 20 1.3 4 -1.9 2 -7.7 1 -6 2.2 -8 .4 -4 1.8 -10 .4 -2 1.5 -2 .4 -10 .2 -2 1.7 -12 .4 -2 1.7 -11.3 .3 -.7 .7M2136.9 1200.1l-.9 3.1 -.7 -3.1M2180 1201.7l-1.1 2.4 -5.1 6 -.8 2 -3.6 4 -2.3 4 -3.6 4 -2.3 4 -3.6 4 -.8 2 -3.5 4 -2.4 4 -3.6 4 -2.4 4 -3.5 4 -2.4 4 -3.5 4 -.9 2 -9.5 12 -2.4 4 -3.6 4 -2.3 4 -9.5 12 -.9 2 -3.6 4 -2.3 4 -3.7 4 -2.3 4 -3.5 4 -.8 2 -5.1 6 -.7 2 -3.7 4 -2.3 4 -3.5 4 -.8 2 -5.1 6 -.7 2 -3.7 4 -2.2 4 -3.7 4 -.7 2 -5.2 6 -.6 2 -5.8 6 -.3 2 -3.8 4 -2.3 4.2 -3.8 3.8 -.2 1.5 -5.5 6.5 -.4 2 -5.9 6 -.2 2 -2 2.2 -4.5 -4.2 2.8 -2 3.7 -4 3.9 -10 1.6 -6 3.4 -4 6 -10 2.8 -8 2.3 -3.4 4 -5.6 4 -3.5 .7 -1.5 .4 -6 1.5 -4 2.8 -4 2.6 -2 1.5 -2 4 -8 5.1 -8 1.6 -4 0 -2 -.2 -1.1 -1.9 -.9 3.9 -.6 2 -1.3 8 -9.8 6.6 -12.3 2.4 -6 5 -6.3 2.2 -5.7 5.8 -7.2 3.3 -6.8 6.7 -9.3 4.6 -10.7 4 -4 1.6 -4 .7 -6 1.1 -.6 2 -.1 4 -3.9 2.7 -3.4 1.7 -4 .1 -2 7.6 -8"/>
<path stroke="#000084" d="M1344.3 1326.2l4 .7 3.6 3.1 .9 10 18.6 10 2.1 10 -1.2 1.4 -6 3.1 -7.5 5.5 -7.5 10 11.5 10 2.2 10 -4.7 5.4 -4.9 4.6 -5.2 10 -1.8 2 -4.1 .3M1344.3 1433.6l4 .4 4 2.6 20.7 9.4 7 4 -5.7 3.2 -8 3 -6.2 3.8 4.1 10 2.5 10 13 10 6.6 4.1 5.8 5.9 -5.8 3.5 -6 1.9 -10.2 4.6 16.2 7.3 4.9 2.7 1.2 2 4.5 8 -4.6 10 12.8 10 -9.2 10 10.5 10 6.1 10 -6.2 5.6 -3.6 4.4 3.4 10 .1 10 5.6 10 -9.5 10 3.9 10 7 12 3.4 8 .3 10 -2.8 10 3 4 3.5 6 -1.6 10 -.6 10 2.4 10 1.2 10 -3.3 20 1.8 10 2.5 20 -2.2 10 1.6 10 -.9 10 1.3 10 -1.1 10 1.1 10 -.9 10 .7 10 -.5 20 1.3 4 -1.6 2 -7.5 1 -6 2.2 -8 .4 -4 1.8 -10 .4 -2 1.5 -2 .4 -10 .2 -2 1.7 -12 .4 -2 1.7 -11.3 .3 -.7 .7M2180 1201.7l-1.2 2.4 -5 6 -.8 2 -3.6 4 -2.3 4 -3.7 4 -2.2 4 -3.6 4 -.8 2 -5 6 -.9 2 -3.6 4 -2.4 4 -3.6 4 -2.3 4 -14 18 -2.3 4 -3.7 4 -2.3 4 -9.5 12 -.9 2 -3.6 4 -2.3 4 -3.7 4 -2.3 4 -3.5 4 -.8 2 -5.1 6 -.7 2 -3.7 4 -2.2 4 -3.7 4 -.6 2 -5.3 6 -.6 2 -3.7 4 -2.2 4 -3.7 4 -.6 1.8 -5.4 6.2 -.5 2 -5.9 6 -.1 2 -5.5 6 -.6 2.1 -3.9 3.9 -2.1 4.1 -3.7 3.9 -.2 2 -4.1 4 .4 -6 3.6 -10.1 5.1 -7.9 2.9 -5.9 2.9 -4.1 2.5 -8 5.8 -8 2.8 -2.5 1.7 -3.5 .5 -4 1.6 -4 2.5 -4 3.8 -4 2.4 -6 7.2 -12 3.6 -8 10.1 -12 8.9 -18 5.3 -6 2 -6 4.7 -6 4.2 -8 5.6 -8 4.8 -10 4.6 -6 1.7 -4 2.5 -4 7.9 -10 3.7 -8 5.8 -6M2019.9 1414.1l2.1 -.7 2 .1 0 .6 -2 2.1 -2.1 -2.1"/>
<path stroke="#000087" d="M1344.3 1335.3l2.4 4.7 1.6 .2 16.2 9.8 1 10 -11.2 9.5 -6 7.4 -4 -.1M1344.3 1382.9l4 -.2 4 3.7 6.2 3.6 1.6 10 -10.2 10 -1.6 3.3 -4 .6M1344.3 1436.4l4 .7 4 2.8 6 1.9 16.9 8.2 -2.9 1.6 -6 2 -8 4.9 -3.8 1.5 2.9 6 3.9 14 12.3 10 6.7 4.8 6 3.3 1.8 1.9 -1.8 1.1 -8 2.7 -6 3.2 -8.9 3 15.5 6 7.6 4 5.5 10 -3.9 10 12.5 10 -8.5 10 11.1 10 5.7 10 -8.6 10 3.3 10 .1 10 6.2 10 -9.5 10 4.1 10 7.8 13.7 2.8 6.3 .3 10 -2.5 10 6.6 10 -1.5 10 -.6 10 2.5 10 1.3 10 -3.3 20 2 10 2.5 20 -2.2 10 1.7 10 -.9 10 1.3 10 -1.2 10 1.2 10 -.9 10 .7 10 -.5 20 1.3 4 -1.3 2 -7.3 1 -6 2.2 -8 .4 -4 1.8 -2 .2 -8 .2 -2 1.5 -2 .4 -10 .2 -2 1.7 -12 .4 -2 1.7 -11.4 .3 -.6 .6M2180 1201.7l-1.2 2.4 -5.1 6 -.7 2 -3.6 4 -2.3 4 -3.7 4 -2.2 4 -3.6 4 -.9 2 -4.9 6 -1 2 -3.6 4 -8.3 12 -13.9 18 -2.4 4 -3.6 4 -2.3 4 -9.6 12 -.8 2 -3.7 4 -2.2 4 -3.8 4 -2.2 4 -3.6 4 -.7 2 -5.3 6 -.6 2 -3.7 4 -2.2 4 -3.7 4 -.6 2 -5.3 6 -.6 2 -3.7 4 -2.2 4 -3.7 4 -2.3 4 -3.7 4 -.5 2 -6 6 -2.9 -2 .3 -6 1.8 -6 6.8 -8.3 2.7 -5.7 1.3 -5 2.9 -5 3.1 -2.9 2.6 -1.1 1.2 -8 7.2 -12 3.8 -8 7.2 -7.8 2.8 -4.2 7.6 -16 2.7 -4 4.1 -4 1.6 -6 5.9 -8 2.7 -6 5.7 -8 3.6 -8 4.7 -6 4.6 -8.8 8.5 -11.2 3.5 -7.3 6.1 -6.7M2038.8 1384.1l1.2 -1.3 6 -.7 0 2 -5.8 6 -.2 2 -1.5 0 -.5 -2 0 -4 .8 -2M2030.8 1398.1l1.2 -1.9 2 .3 0 3.6 -3.9 4 -.1 2 -1.3 0 .5 -4 1.6 -4"/>
<path stroke="#000089" d="M1344.3 1343l4 .3 11.3 6.7 -.1 10 -5.2 4.4 -6 6.3 -4 .4M1344.3 1387.8l4 .3 1.7 1.9 4.9 10 -6.6 6.6 -4 .5M1344.3 1439.2l4 1 4 2.3 6 2 10.7 5.5 -4.7 1.8 -6 3.9 -10 4.2 -4 .1M1344.3 1460.1l4 0 5.4 7.9 .9 2 -.9 10 4.6 2.1 22.9 17.9 -8.9 4.6 -15.2 5.4 15.2 5.7 9.8 4.3 5 10 -3.3 10 12.5 10 -8.4 10 12.4 10.6 5.4 9.4 -7.9 10 3.2 10 .1 10 6.8 10 -9.6 10 4.3 10 11 20 .4 10 -2.3 10 6.8 10 -1.6 10 -.5 10 2.6 10 1.4 10 -3.2 20 2 10 2.6 20 -2.1 10 1.7 10 -1 10 1.4 10 -1.3 10 1.3 10 -.9 10 .7 10 -.5 20 1.2 4 -.9 2 -9.1 1.4 -4 1.7 -8 .5 -4 1.8 -2 .2 -8 .2 -2 1.5 -2 .4 -10 .2 -2 1.6 -12 .5 -2 1.7 -10 .2 -1.4 .1 -.6 .6M2180 1201.7l-1.3 2.4 -5 6 -.8 2 -3.5 4 -2.4 4 -3.6 4 -2.3 4 -3.6 4 -.8 2 -5 6 -.9 2 -3.6 4 -8.3 12 -14 18 -2.3 4 -3.7 4 -2.3 4 -3.7 4 -.8 2 -5.1 6 -.8 2 -5.2 6 -.7 2 -3.8 4 -2.2 4 -3.7 4 -.6 2 -5.3 6 -.5 2 -3.8 4 -2.1 4 -3.8 4 -.5 1.9 -5.5 6.1 -.4 2 -5.4 6 -.5 2 -3.8 4 -2.3 4 -3.8 4 -.3 2 -4 3.9 -2.4 -3.9 0 -2 1.1 -4 .9 -2 4.4 -5.5 6 -14.1 4 -5 4 -2 1.3 -1.4 -.6 -6 .7 -2 8.2 -14 2.6 -6 5.8 -5.5 3.1 -4.5 2.9 -4.7 5.5 -13.3 2.5 -3.3 3.2 -2.7 1.5 -2 1.3 -6 5.9 -8 2.5 -6 5.6 -8 3.5 -8 4.5 -5.2 4 -8.1 9.5 -12.7 2.6 -6 7.1 -8M2041.5 1388.1l.5 -.7 0 .7 -.5 0"/>
<path stroke="#00008c" d="M1344.3 1346.4l4 .1 6.1 3.5 -1.4 10 -4.7 4.9 -4 .5M1344.3 1395.6l4 1.3 1.4 3.1 -1.4 1.5 -4 .7M1344.3 1442.4l4 .7 4 2.1 6 2.2 4.3 2.6 -4.3 2.7 -10 4.4 -4 -.1M1344.3 1469l4 -1 1.9 2 -1.9 5 -4 -2.2M1344.3 1481l4 0 6 3.5 18 12.6 3.3 2.9 -3.3 2 -20.7 8 25.3 10 1.4 1.9 3.6 8.1 -2.4 10 12.6 10 -5.8 7.2 -3.3 2.8 3.3 2.1 10.6 9.9 3.4 3.8 2.4 4.2 -7.5 10 3.5 10 0 10 6.7 10 -9.3 10 4.7 10 11.3 20 .5 10 -2.2 10 7 10 -1.6 10 -.5 10 2.7 10 1.6 10 -3.2 20 2 10 2.8 20 -2.1 10 1.7 10 -.9 10 1.4 10 -1.3 10 1.3 10 -.9 10 .7 10 -.6 20 1.3 4 -.6 2 -8.9 1.4 -4 1.7 -8 .4 -4 1.8 -2 .3 -8 .2 -2 1.4 -2 .4 -10 .3 -2 1.6 -12 .5 -2 1.6 -10 .3 -2 .6M2180 1201.6l-2.7 4.5 -3.6 4 -.8 2 -3.6 4 -2.3 4 -3.6 4 -2.3 4 -3.6 4 -.9 2 -4.9 6 -.9 2 -3.6 4 -8.4 12 -3.5 4 -2.4 4 -8 10 -2.4 4 -3.7 4 -2.2 4 -3.7 4 -.9 2 -5.1 6 -.8 2 -5.2 6 -.6 2 -3.9 4 -2.1 4 -3.8 4 -.5 1.8 -5.5 6.2 -.4 2 -5.4 6 -.5 2 -3.8 4 -2.4 4.3 -3.7 3.7 -.3 2 -5.5 6 -.4 2 -5.5 6 -.5 2 -3.9 4 -.2 1.1 -1.3 .9 -.7 1.9 -1.8 -1.9 -.2 -2.1 1.6 -3.9 2.4 -2.9 5.5 -15.1 4.5 -6 4 -2.7 3 -3.3 -.4 -6 .7 -2 3 -6 4 -6 3.5 -8 3.4 -2 2.8 -2.9 5.3 -9.1 2.5 -8 2.8 -6 3.4 -3.8 2.7 -2.2 1.3 -2 1.3 -6 5.7 -8 2.3 -6 5.7 -8 3 -7.5 5.6 -6.5 2.5 -6 9.9 -13.3 3.1 -6.7 7.1 -8"/>
<path stroke="#00008e" d="M1344.3 1350l4.4 0 -.4 2.9 -2.6 -.9 -1.4 -1.2M1344.3 1445.7l4 .3 9.2 4 -9.2 4.1 -4 -.1M1344.3 1484.8l4 .1 10 7.3 12 7.8 -12 4.6 -8 3.7 -2 .7 -4 -.3M1344.3 1511.2l4 -.2 10 3.5 11.9 5.5 4.2 4 3.2 6 -1.5 10 4.2 3.9 7.8 6.1 -9.6 10 8.3 6 12.8 14 -7.4 10 4.3 10 0 10 6.1 10 -8.7 10 4.9 10 11.7 20 .7 10 -2 10 7.1 10 -1.7 10 -.3 10 2.8 10 1.6 10 -3.1 20 2.1 10 2.9 20 -2.1 10 1.8 10 -.9 10 1.3 10 -1.3 10 1.3 10 -.8 10 .7 10 -.6 20 1.3 4 -.3 2 -8.7 1.3 -4 1.8 -8 .4 -4 1.8 -2 .3 -8 .2 -2 1.4 -2 .4 -10 .3 -2 1.6 -12 .5 -2 1.6 -10 .3 -2 .5M2180 1201.6l-2.8 4.5 -3.6 4 -.8 2 -3.5 4 -2.3 4 -3.7 4 -2.2 4 -3.6 4 -.9 2 -5 6 -.9 2 -3.6 4 -8.3 12 -3.6 4 -2.4 4 -3.6 4 -.9 2 -3.5 4 -2.4 4 -3.6 4 -2.3 4 -3.7 4 -2.4 4 -3.7 4 -.6 2 -5.4 6 -.5 2 -3.9 4 -1.5 2 -.6 2 -3.8 4 -2.4 4.2 -3.7 3.8 -.3 2 -5.5 6 -.4 2 -3.8 4 -2.2 4 -3.9 4 -.2 1.3 -1 .7 -1 2.1 -3.7 3.9 -.3 2 -5.8 6 -.2 2 -2 2 -1.6 0 1.6 -2.7 4.1 -15.3 6.6 -8 6.3 -6 -.2 -6 1.2 -3.2 5.4 -8.8 2.6 -6.1 2 -2.2 4 -1.7 1.2 -2 5.9 -12 1.3 -6 3.3 -8 2.3 -2.5 4.2 -3.5 1.3 -2 1 -6 5.8 -8 2 -6 5.6 -8 2.1 -6.2 5.6 -5.8 3.7 -8 8.8 -12 4.1 -8 6.8 -8M2051 1374.1l1 -1.7 0 1.9 -1 -.2"/>
<path stroke="#000091" d="M1344.3 1449.1l4 0 1.8 .9 -1.8 .9 -4 -.1M1344.3 1488.8l4 .1 10 8 5 3.1 -5 1.9 -8 4.2 -2 .7 -4 -.3M1344.3 1513.1l4 0 12 4.6 4.2 2.3 7.8 7.1 1.8 2.9 -1.1 10 5.3 5.5 5.6 4.5 -5.6 6 -2.8 4 8.8 6.9 11.7 13.1 -7.5 10 3.8 5.7 2 4.2 -.1 10.1 5.7 10 -4.6 6 -3.8 4 11 20 6.4 10 .8 10 -1.8 10 7.3 10 -1.7 10 -.3 10 3 10 1.7 10 -3 20 2.1 10 3 20 -2.1 10 1.8 10 -.8 10 1.3 10 -1.4 10 1.4 10 -.8 10 .7 10 -.6 20 1.3 4 0 2 -.5 .2 -8 1 -4 1.8 -8 .5 -4 1.8 -10 .4 -2 1.5 -2 .4 -10 .3 -2 1.6 -12 .5 -2 1.6 -10 .3 -2 .5M2180 1201.6l-2.8 4.5 -3.6 4 -.8 2 -4.9 6 -1 2 -3.6 4 -2.3 4 -3.6 4 -2.3 4 -3.5 4 -.9 2 -9.6 12 -8.3 12 -3.6 4 -.9 2 -3.6 4 -2.3 4 -3.7 4 -2.2 4 -3.8 4 -2.4 4 -3.7 4 -.6 2 -5.5 6 -.4 2 -5.6 6 -.4 2 -3.9 4 -2.2 4.1 -3.9 3.9 -.1 1.7 -5.8 6.3 -.2 2 -3.9 4 -1.5 2 -.5 2 -4.1 4.3 -1.1 -.3 -.6 -4 1.1 -2 6 -6 -.1 -4 .7 -2.9 4.9 -7.1 3 -8 1.9 -2 4.2 -2.5 1.3 -1.5 4.7 -10.8 2 -9.2 2.9 -8 6.9 -6 1.2 -2 .8 -6 5.6 -8 1.9 -6 4.7 -6.3 2.2 -5.7 1.2 -2 4.6 -4.7 4.4 -9.3 8.6 -12 4.4 -8 6.5 -8M2059.7 1356.1l.3 -.7 2 -.4 1.7 1.1 .3 2 -2 2 0 2 -4.2 4 .2 -4.1 1.7 -5.9"/>
<path stroke="#000094" d="M1344.3 1493l4 -.1 4 2.8 4.5 4.3 -4.5 2.8 -4 1.6 -4 -.3M1344.3 1515.2l4 0 12 4.8 4 5.1 5.1 4.9 -.8 10 3.7 2.7 7.3 7.3 -7 10 11.6 10 8.5 10 -4 6 -3.7 4 6.5 10 .5 10 5.9 10 -4.7 6 -4.1 4 11.5 20 6.7 10 1 10 -1.8 10 7.5 10 -1.7 10 -.2 10 3.1 10 1.8 10 -2.9 20 2.5 12 2.7 18 -2.1 10 2 10 -.9 10 1.4 10 -1.5 10 1.5 10 -.9 10 .8 10 -.7 20 1.7 6 -8.3 1.2 -4 1.8 -8 .5 -4 1.8 -10 .4 -2 1.4 -2 .5 -10 .3 -2 1.6 -12 .5 -2 1.6 -12 .7M2180 1201.6l-2.8 4.5 -3.6 4 -.9 2 -4.9 6 -.9 2 -3.6 4 -2.3 4 -3.6 4 -2.4 4 -3.5 4 -.9 2 -9.5 12 -2.4 4 -3.6 4 -2.4 4 -3.6 4 -.9 2 -5 6 -.9 2 -3.7 4 -2.2 4 -3.8 4 -2.3 4 -3.8 4 -.5 1.8 -2 2.5 -3.7 3.7 -.3 2 -5.7 6 -.3 2 -5.8 6 -.2 2 -2 2 -1.5 0 1.4 -2 -1.3 -2 .1 -4 1.4 -2 4.4 -4 3.5 -5.4 1.4 -4.6 1.6 -10 3.2 -10 7.3 -6 .9 -2 .7 -6 4.9 -6.6 2.3 -7.4 4.5 -6 3.2 -6.4 4 -4.6 5.6 -11 9.7 -14 3.3 -6 6.2 -8M2083.8 1330.1l.2 -.7 -.2 .7M2079.1 1336.1l.9 -.5 0 .5 -.9 0M2077.5 1338.1l.5 -.9 0 2.9 -.9 0 .4 -2M2075.5 1342.1l.5 -.5 0 .5 -.5 0M2072.7 1344.1l1.3 -1 0 1.1 -1.3 -.1M2070.3 1346.1l1.7 -1.5 0 3.5 -2 .9 -.5 -.9 .8 -2"/>
<path stroke="#000097" d="M1344.3 1497.4l4 -.3 4.1 2.9 -4.1 1.9 -4 -.3M1344.3 1517.2l4 .2 6.3 2.6 3.7 3 5.4 7 .2 10 6.4 4.5 5.6 5.5 -3.6 5.6 -4.2 4.4 13.2 10 8.7 10 -2.8 4 -5.2 6 6 10 1.7 10 6.1 10 -4.8 6 -4.4 4 12.2 20 7 10 1 10 -1.7 10 7.7 10 -1.6 10 -.2 10 3.2 10 1.9 10 -2.8 20 2.3 10 3.1 20 -2.1 10 2 10 -.8 10 1.4 10 -1.6 10 1.5 10 -.8 10 .7 10 -.6 20 1.9 6 -8 1.1 -4 1.8 -8 .6 -4 1.7 -10 .5 -2 1.4 -2 .5 -10 .3 -2 1.6 -12 .5 -2 1.6 -12 .7M2180 1201.5l-2.9 4.6 -3.6 4 -.8 2 -4.9 6 -1 2 -3.6 4 -2.2 4 -3.6 4 -2.4 4 -3.5 4 -1 2 -9.5 12 -2.3 4 -3.6 4 -2.4 4 -3.7 4 -.9 2 -5 6 -.8 2 -5.3 6 -.7 2 -3.8 4 -2.3 4 -3.9 4 -2.3 4.2 -3.9 3.8 -.1 2 -4 4.1 -1.2 -.1 1.1 -2 1.5 -6 .9 -10 3.4 -12 7.2 -6 .8 -2 .6 -6 4.7 -6 2.4 -8 4.4 -6 3.4 -6 2.8 -3.1 6.8 -12.9 9.7 -14 3.2 -6 5.9 -8M2093.3 1316.1l.7 -.8 0 2.8 -4.4 4 .2 -2 3.5 -4"/>
<path stroke="#00009b" d="M1344.3 1519.4l4.6 .6 7.2 6 3 4 0 10 7.2 4.6 6.2 5.4 -2.9 4 -5.6 6 13.8 10 9.4 10 -8.4 10 5.9 10 2.7 10 6.3 10 -5 6 -4.7 4 6.3 10 13.9 20 1 10 -1.6 10 7.9 10 -1.6 10 0 10 3.4 10 2 10 -2.8 20 2.7 12 2.8 18 -2 10 2.1 10 -.8 10 1.4 10 -1.8 10 1.6 10 -.7 10 .7 10 -.7 20 2 6 -7.5 1.1 -4 1.8 -8 .5 -4 1.8 -10 .5 -2 1.4 -2 .5 -10 .3 -2 1.5 -12 .6 -2 1.6 -12 .6M2180 1201.5l-2.9 4.6 -3.6 4 -.9 2 -4.9 6 -.9 2 -3.6 4 -2.3 4 -3.6 4 -2.3 4 -14 18 -2.4 4 -3.6 4 -2.3 4 -3.8 4 -.9 2 -5 6 -.8 2 -5.3 6 -.6 2 -3.9 4 -1.6 2 -.7 2 -5.5 6 -.6 2.1 -2 2 -1.4 -.1 -.9 -8 4.1 -14 4.2 -3.1 2.3 -2.9 .7 -2 .6 -6 4.7 -6 2.2 -8 9.5 -13.3 6.8 -12.7 10.9 -16 3.2 -6 5.6 -8"/>
<path stroke="#00009e" d="M1344.3 1523.1l4 .3 5.3 4.6 1.6 2 0 10 13.7 10 -8.2 10 13.6 10.8 9.4 9.2 -8.4 10 6.3 10 3 10 1.9 2 5.1 8 -5.2 6 -5.1 4 6.6 10 4.4 5.3 10.3 14.7 1 10 -1.5 10 8.2 10 -1.6 10 .1 10 3.5 10 2.1 10 -2.7 20 3.2 14 2.5 16 -2 10 2.1 10 -.8 10 1.4 10 -1.8 10 1.7 10 -.7 10 .7 10 -.7 20 2 6 -7 1 -4 1.9 -8 .5 -4 1.8 -10 .5 -2 1.3 -2 .6 -10 .3 -2 1.5 -12 .5 -2 1.7 -12 .5M2180 1201.5l-2.9 4.6 -3.6 4 -.9 2 -4.9 6 -.9 2 -3.6 4 -2.3 4 -3.6 4 -2.4 4 -14 18 -2.4 4 -3.6 4 -2.3 4 -3.8 4 -.8 2 -5.2 6 -.7 2 -5.4 6 -.5 2 -5.7 6 -.4 2 -6 6 -.1 1.2 -1.6 -3.2 -.3 -2 3.1 -8 1 -6 2.5 -2 3 -4 1.3 -8 4.6 -6 2 -8 8.4 -11.4 9.1 -16.6 9.9 -14 3.1 -6 5.3 -8"/>
<path stroke="#0000a1" d="M1344.3 1527.6l4 -.2 3.2 2.6 -.1 10 13.8 10 -8.1 10 12.3 10 10.5 10 -8.2 10 3.2 4 3.7 6 2.7 10 5 4.9 3.3 5.1 -3.5 4 -7.4 6 6.9 10 15.3 20 1 10 -1.3 10 8.4 10 -1.5 10 .1 10 3.7 10 2.2 10 -2.6 20 2.9 12 2.9 18 -2 10 2.3 10 -.8 10 1.4 10 -1.9 10 1.7 10 -.7 10 .7 10 -.7 20 2.1 6 -6.5 .9 -4 1.9 -8 .6 -4 1.7 -10 .6 -2 1.3 -2 .5 -10 .3 -2 1.6 -2 .3 -10 .2 -2 1.6 -12 .5M2180 1201.5l-3 4.6 -3.6 4 -.9 2 -4.9 6 -.9 2 -3.6 4 -2.3 4 -3.6 4 -2.3 4 -3.6 4 -2.4 4 -8 10 -2.4 4 -3.7 4 -2.3 4 -3.8 4 -2.3 4 -3.7 4 -.6 2 -5.6 6 -.4 2 -5.9 6 -.2 2 -2 2 -1 0 1.5 -6 .3 -8 4.4 -6 1.2 -8 3.5 -4 1 -2 1.8 -8 7.3 -9.4 8.9 -16.6 8 -12 3.3 -4 3 -6 5.1 -8"/>
<path stroke="#0000a5" d="M1344.3 1539.9l4 .6 6 5.1 6.4 4.4 -8.1 10 5.7 3.5 18 16.5 -7.4 10 7 10 2.4 10 6 5.8 3.2 4.2 -3.9 4 -7.2 6 7.1 10 15.7 20 1 10 -1 10 8.5 10 -1.5 10 .2 10 3.9 10 2.3 10 -2.6 20 3.4 14 2.6 16 -1.9 10 2.3 10 -.8 10 1.5 10 -2 10 1.8 10 -.7 10 .7 10 -.8 20 2.1 6 -5.9 .9 -4 1.9 -8 .6 -6 2.1 -8 .2 -4 1.8 -10 .3 -2 1.6 -2 .3 -10 .2 -2 1.6 -12 .5M2180 1201.4l-3 4.7 -3.6 4 -2.3 4 -3.5 4 -.9 2 -3.6 4 -2.3 4 -3.6 4 -2.4 4 -9.5 12 -1 2 -3.5 4 -2.4 4 -3.6 4 -2.3 4 -3.9 4 -2.3 4 -3.7 4 -.6 2 -5.7 6 -.2 2 -4.1 4.1 -1.2 -.1 -.3 -4 .5 -4 3.7 -6 1.6 -8 1.9 -2 1.8 -3.1 1.9 -8.9 6.1 -7.5 4.1 -8.5 5.8 -10 8.1 -11.9 3.5 -4.1 2.7 -6 5.1 -8"/>
<path stroke="#0000a9" d="M1344.3 1543.4l4 .4 7.7 6.2 -7.6 10 9.9 6.3 9.6 9.7 4.9 4 -6.9 10 2.4 4 4.8 6 2.6 10 9.5 10 -11.1 10 7.2 10 15.9 20 1.6 10 -1.1 10 8.6 10 -1.4 10 .3 10 4.1 10 2.4 10 -2.5 20 3.5 14 2.7 16 -1.9 10 2.3 10 -.7 10 1.4 10 -2.1 10 1.9 10 -.7 10 .7 10 -.7 20 2.1 6 -5.4 .8 -4 1.9 -8 .6 -6 2.1 -8 .3 -4 1.8 -10 .3 -2 1.5 -2 .4 -10 .2 -2 1.6 -12 .5M1344.3 1560.1l2.3 -.1 -2.3 -.1M2180 1201.4l-3 4.7 -3.6 4 -2.4 4 -3.5 4 -.9 2 -3.5 4 -2.3 4 -3.7 4 -2.3 4 -9.6 12 -.9 2 -5 6 -.9 2 -3.7 4 -2.3 4 -3.9 4 -2.3 4 -3.7 4 -.5 1.7 -2 2.5 -3.9 3.8 -.1 2 -2 2 -.9 0 .6 -6 2.3 -5.2 1.6 -6.8 3.4 -6 2.3 -10 4.9 -6 5.9 -12 11.5 -18 4.8 -6 2.9 -6 5 -8"/>
<path stroke="#0000ad" d="M1344.3 1546.8l4 .4 3.1 2.8 -3.1 4.8 -4 .1M1344.3 1562.9l4 -.1 10 6.4 5.7 6.8 5 4 -6.6 10 6.8 10 3.9 10 9.7 10 -11.4 10 23.9 30 1.9 10 -.9 10 8.7 10 -1.5 10 .5 10 4.3 10 2.4 10 -2.3 20 3.1 12 3.2 18 -1.9 10 2.4 10 -.7 10 1.5 10 -2.2 10 1.9 10 -.6 10 .7 10 -.8 20 2.2 6 -4.9 .7 -4 2 -8 .6 -6 2.1 -8 .3 -4 1.8 -10 .3 -2 1.5 -2 .4 -10 .2 -2 1.6 -2 .2 -10 .3M2180 1201.4l-3.1 4.7 -3.6 4 -2.3 4 -3.5 4 -.9 2 -3.6 4 -2.3 4 -3.6 4 -2.3 4 -3.7 4 -2.3 4 -3.7 4 -.9 2 -5.1 6 -.8 2 -3.7 4 -2.2 4 -4 4 -1.5 2 -.7 2 -3.9 4 -2.3 4.1 -2 2 -1.2 -.1 1.3 -8 1.6 -4 2.3 -2.9 1.5 -9.1 1.2 -4 4.6 -6 5.7 -12 11 -17.1 5.3 -6.9 1.8 -4 6.4 -10"/>
<path stroke="#0000b1" d="M1344.3 1565.8l4 0 6.5 4.2 5.6 6 4.7 4 -6.6 10 6.5 10 4.7 10 10.6 10 -12.4 10 25.4 30 2.4 10 -.9 10 8.8 10 -1.4 10 .3 8 .3 2 4.4 10 2.6 10 -2.3 20 3.7 14 2.8 16 -1.8 10 2.4 10 -.7 10 1.6 10 -2.2 10 1.8 10 -.6 10 .8 10 -.9 20 2.2 6 -4.3 .7 -4 1.9 -8 .7 -6 2.1 -8 .2 -4 1.9 -10 .3 -2 1.5 -2 .3 -10 .3 -2 1.6 -2 .2 -10 .3M2180 1201.3l-3.1 4.8 -3.6 4 -2.4 4 -3.5 4 -.9 2 -3.5 4 -2.3 4 -3.7 4 -2.3 4 -3.6 4 -2.4 4 -3.7 4 -.9 2 -5.1 6 -.7 2 -5.3 6 -.7 2 -5.8 6 -.5 2.2 -4 4.5 -1.8 1.3 -.4 2 -.4 -2 .3 -4 3.7 -6 .9 -8 1.9 -6 3.8 -5.2 4.6 -10.8 11.4 -17.7 6 -8.1 2.1 -4.2 6.5 -10"/>
<path stroke="#0000b5" d="M1344.3 1568.8l4 0 12.9 11.2 -3.9 6 -3.6 4 3.9 4 2.8 4 5.5 12 11.2 10 -8.8 7.5 -3.9 2.5 4.3 4 4.5 6 4.4 4 13.8 16 2.7 10 -.9 10 9 10 -1.5 10 .5 8 .3 2 4.7 10 2.6 10 -2.2 20 2.9 10 3.9 20 -1.9 10 2.5 10 -.7 10 1.6 10 -2.2 10 1.8 10 -.5 10 .7 10 -.8 20 2.1 6 -3.7 .6 -4 2 -8 .7 -6 2.1 -8 .2 -4 1.8 -10 .4 -2 1.5 -2 .3 -10 .3 -2 1.5 -2 .3 -10 .3M2180 1201.3l-3.2 4.8 -3.6 4 -2.3 4 -3.5 4 -1 2 -3.5 4 -2.3 4 -3.6 4 -2.3 4 -3.7 4 -2.3 4 -3.8 4 -.8 2 -5.2 6 -.7 2 -5.3 6 -.7 2 -6 6 -.2 2 -4 4.2 -.8 -.2 .3 -2 3.5 -6 -.1 -4 1.1 -6.1 1.7 -3.9 2.7 -4 4 -10 27.3 -42"/>
<path stroke="#0000b9" d="M1344.3 1572.5l4 .1 8.8 7.4 -2.8 4.3 -5.5 5.7 5.5 5.1 4 4.9 3.9 10 6.1 4.6 5.1 5.4 -5.1 5.1 -7.1 4.9 15.1 15.3 13.3 14.7 2.8 10 -.9 10 9.3 10 -1.4 10 .5 8 .3 2 5 10 2.7 10 -2.2 20 3.5 12 3.5 18 -1.8 10 2.6 10 -.8 10 1.7 10 -2.3 10 1.9 10 -.6 10 .7 10 -.8 20 2.2 6 -3.2 .5 -4 2 -8 .7 -6 2.1 -8 .3 -4 1.8 -10 .4 -2 1.4 -2 .4 -10 .3 -2 1.5 -2 .3 -10 .3M2180 1201.3l-3.2 4.8 -3.6 4 -2.3 4 -8 10 -2.3 4 -3.7 4 -2.3 4 -3.7 4 -2.3 4 -3.8 4 -.8 2 -5.3 6 -.6 2 -5.4 6 -.5 2 -4.2 4.2 -1.4 -.2 -.3 -2 .3 -6 1.4 -3.8 3.5 -6.2 3.7 -10 27.6 -42M2125.7 1274.1l.3 -.4 -.3 .4"/>
<path stroke="#0000be" d="M1344.3 1576.4l4 .2 4.8 3.4 -4.8 5.9 -4 .6M1344.3 1594.1l4 .2 4 3.2 2.3 2.5 3.8 10 7.9 5.6 4.2 4.4 -6.2 5.8 -6.7 4.2 8.7 7.8 21.4 22.2 2.9 10 -.9 10 9.6 10 -1.3 10 .5 8 .4 2 5.2 10 2.8 10 -2.2 20 3.2 10 4.1 20 -1.8 10 2.7 10 -.8 10 1.7 10 -2.3 10 1.9 10 -.6 10 .8 10 -.9 20 2.2 6 -4.6 1.1 -2 1.4 -8 .7 -6 2.1 -8 .3 -4 1.8 -10 .4 -2 1.4 -2 .4 -10 .3 -2 1.5 -2 .3 -10 .3M2180 1201.2l-3.2 4.9 -3.7 4 -2.3 4 -8 10 -2.3 4 -3.6 4 -2.4 4 -3.6 4 -2.3 4 -3.9 4 -2.3 4 -3.8 4 -.6 2 -5.5 6 -.4 2 -2.1 2.1 -2 .4 -.5 -2.5 .3 -4 4.2 -8 4 -12 11.5 -18 16.4 -24"/>
<path stroke="#0000c2" d="M1344.3 1579.4l4.5 .6 -.5 .6 -4 .5M1344.3 1600l4 -.8 2 1.2 2.5 3.6 2.6 6 8.9 6.6 3.6 3.4 -4.4 4 -5.2 3.6 -6.5 2.4 4.5 2.4 8 6.6 21.4 21 3 10 -.9 10 10 10 -1.2 10 .5 8 .4 2 5.6 10 2.8 10 -2.2 20 3.4 10 4.2 20 -1.8 10 2.8 10 -.8 10 1.7 10 -2.3 10 1.9 10 -.6 10 .8 10 -.9 20 2.2 6 -4 1 -2 1.4 -8 .8 -6 2.1 -8 .3 -4 1.8 -10 .4 -2 1.4 -2 .4 -10 .3 -2 1.5 -2 .3 -10 .2M2180 1201.2l-3.3 4.9 -3.6 4 -2.3 4 -9.5 12 -.9 2 -3.6 4 -2.3 4 -3.7 4 -2.3 4 -3.9 4 -2.3 4 -3.8 4 -.5 2 -5.7 6 -.3 2 -2.2 2 -.8 -4 .3 -2 3.6 -6 1.8 -8 2.4 -6 10 -16 9.5 -14 4.7 -6 3.6 -6"/>
<path stroke="#0000c7" d="M1344.3 1609.7l4 -3 2 .9 1.8 2.4 13.1 10 -4.8 4 -3.4 2 -8.7 2.8 -4 .2M1344.3 1631.6l4 .1 2 .7 6 3.3 16 13.1 11.1 11.2 3.4 10 -1 10 4.7 4 5.7 6 -1 10 .5 8 .4 2 5.9 10 3 10 -2.3 20 4.1 12 3.8 18 -1.8 10 2.9 10 -.8 10 1.6 10 -2.3 10 2 10 -.6 10 .8 10 -.9 20 2.3 6 -3.5 .9 -2 1.4 -8 .8 -6 2.2 -8 .3 -4 1.7 -10 .5 -2 1.3 -2 .5 -10 .3 -2 1.4 -2 .4 -10 .2M2180 1201.1l-3.3 5 -3.7 4 -2.3 4 -3.6 4 -2.4 4 -3.5 4 -.8 2 -3.6 4 -2.4 4 -3.7 4 -2.2 4 -4 4 -2.3 4 -3.9 4 -.3 1.5 -.9 .5 -1.1 2.2 -3.9 3.8 -.4 2 -.9 -2 .3 -2 3.9 -6 .6 -8 2.7 -6 5.7 -8.6 4 -7.4 10 -14.7 4.4 -5.3 3.6 -6"/>
<path stroke="#0000cc" d="M1344.3 1612.7l4 -.9 2 .4 11.9 7.8 -3.9 3 -4 1.7 -6 1.9 -4 .1M1344.3 1635l4 0 6 2.6 8 5.6 10 8.1 8.7 8.7 3.7 10 -1.1 10 4.7 3.6 6.3 6.4 -.9 10 .5 8 .4 2 6.3 10 3.1 10 -2.3 20 4.3 12 3.9 18 -1.8 10 3 10 -.9 10 1.7 10 -2.3 10 2 10 -.6 10 .8 10 -.9 20 2.3 6 -2.9 .7 -2 1.6 -8 .8 -6 2.1 -8 .3 -4 1.8 -2 .3 -8 .1 -2 1.4 -2 .4 -10 .4 -2 1.4 -2 .3 -10 .3M2180 1201.1l-3.4 5 -3.6 4 -2.3 4 -3.7 4 -2.3 4 -3.5 4 -.9 2 -5.1 6 -.8 2 -3.8 4 -2.2 4 -4 4 -1.6 2 -.6 2 -4.1 4 -.1 .8 -1.4 -.8 -.3 -4 .2 -2 2.9 -8 5.3 -8 4.1 -8 4.6 -6 5 -8 5.2 -6 3.4 -6M2135.8 1258.1l.2 2 -1.4 0 1.2 -2M2133.5 1262.1l.5 -.9 0 .9 -.5 0"/>
<path stroke="#0000d2" d="M1344.3 1615.5l4 -.5 2 .4 8.6 4.6 -8.6 3.6 -2 .6 -4 0M1344.3 1638.4l4 -.1 2 .4 6 3.3 14 10.2 8.2 7.8 4.1 10 -1.4 10 5.1 3.5 6.7 6.5 -1 10 .7 8 .4 2 6.6 10 3.3 10 -2.3 20 4.4 12 4.1 18 -1.8 10 3.1 10 -.9 10 1.7 10 -2.3 10 2 10 -.6 10 .8 10 -1 20 2.4 6 -2.3 .6 -2 1.6 -8 .9 -6 2.1 -8 .3 -4 1.8 -2 .3 -8 .1 -2 1.4 -2 .4 -10 .4 -2 1.4 -2 .3 -10 .3M2180 1201l-2.6 3.1 -.8 2 -3.7 4 -2.3 4 -3.6 4 -2.4 4 -3.5 4 -.8 2 -5.2 6 -.8 2 -3.8 4 -2.2 4 -5.9 6 -.3 2 -4.1 4.1 0 -4.1 1.5 -4 1.1 -6 5.2 -8 2.6 -6 5.6 -7.4 5.4 -8.6 5.2 -6 3.4 -6"/>
<path stroke="#0000d7" d="M1344.3 1618.4l4 -.3 4.7 1.9 -4.7 1.6 -4 -.1M1344.3 1641.7l6 .1 6 3 13.2 9.2 6.5 6 4.3 10 -1.5 10 7.5 5.1 5 4.9 -1.2 10 .6 6 .9 4 6.9 10 3.4 10 -2.2 20 4.5 12 4.3 18 -1.8 10 3.2 10 -.9 10 1.7 10 -2.3 10 2 10 -.6 10 .8 10 -1 20 2.3 6 -1.6 .4 -2 1.7 -8 .9 -6 2.2 -8 .3 -4 1.8 -2 .2 -8 .2 -2 1.3 -2 .5 -10 .3 -2 1.5 -2 .3 -10 .3M2180 1201l-2.6 3.1 -.9 2 -3.7 4 -2.2 4 -3.7 4 -2.3 4 -3.6 4 -.8 2 -5.2 6 -.8 2 -5.3 6 -.6 2 -6.2 6 -.1 2 -2 2.1 -.7 -.1 .5 -2 2.1 -4 -.1 -6 5.2 -8 2.2 -6 4.8 -6 4.8 -8 6.7 -8 3.5 -6"/>
<path stroke="#0000dd" d="M1344.3 1644.7l6 .1 4 1.7 12 7.6 7 5.9 4.7 10 -1.4 10 7.7 5.2 5.4 4.8 -1.5 10 1.3 8 .6 2 7.2 10 3.6 10 -2.2 20 4.6 12 4 16 .5 2 -1.8 10 3.3 10 -1 10 1.7 10 -2.3 10 2.1 10 -.6 10 .8 10 -1 20 2.3 6 -1 .3 -2 1.7 -8 1 -6 2.1 -8 .4 -4 1.7 -2 .3 -8 .2 -4 1.8 -10 .3 -2 1.4 -2 .4 -10 .3M2180 1200.9l-2.7 3.2 -.9 2 -3.6 4 -2.3 4 -3.7 4 -2.3 4 -3.6 4 -.8 2 -5.3 6 -.6 2 -5.5 6 -.5 2 -4.2 4.1 -.5 -.1 -.4 -2 -.1 -4 5 -7.6 2.1 -6.4 4.8 -6 4.8 -8 6.3 -7.3 4 -6.7"/>
<path stroke="#0000e3" d="M1344.3 1647.8l6 .1 8 3.3 7.6 4.8 4.7 4 5.1 10 -1.5 10 8.1 5.3 5.6 4.7 -1.8 10 1.7 8 .8 2 7.5 10 3.7 10 -2.1 20 4.7 12 4.2 16 .4 2 -1.7 10 3.4 10 -1 10 1.7 10 -2.3 10 2 10 -.6 10 .9 10 -1.1 20 2.4 6 -2.5 2 -7.9 1 -6 2.1 -8 .4 -4 1.7 -2 .3 -8 .2 -4 1.8 -10 .3 -2 1.4 -2 .4 -10 .3M2180 1200.9l-2.8 3.2 -.8 2 -3.7 4 -2.2 4 -3.8 4 -2.2 4 -3.7 4 -.7 2 -5.4 6 -.6 2 -5.6 6 -.4 2 -2.1 2.2 -1.6 -.2 0 -4 3.9 -6 3 -8 6 -8 3.3 -6 6.8 -8 3.5 -6"/>
<path stroke="#0000e9" d="M1344.3 1650.7l6 0 6 1.8 6 3.3 5.7 4.2 5.2 10 -1.5 10 9.3 6 5.1 4 -1.8 10 1.1 6 1.5 4 7.9 10 3.9 10 -2 20 4.8 12 4.3 16 .4 2 -1.7 10 3.5 10 -.9 10 1.6 10 -2.3 10 2.1 10 -.6 10 .8 10 -1 20 2.4 6 -2.1 2 -7.7 .9 -6 2.2 -8 .3 -6 2.1 -8 .2 -4 1.8 -10 .3 -2 1.4 -2 .4 -10 .3M2180 1200.8l-2.9 3.3 -.8 2 -5.1 6 -.8 2 -3.7 4 -2.3 4 -3.8 4 -.6 2 -5.5 6 -.5 2 -5.7 6 -.2 2 -2.1 2 -.2 -4 3.8 -6 3 -8 5.8 -8 3.1 -6 5.4 -6 5 -8"/>
<path stroke="#0000ef" d="M1344.3 1652.8l6 0 4 1.1 4 1.6 6.8 4.5 5.4 10 -1.8 10 7.6 4.4 7.8 5.6 -1.7 10 1.1 6 1.7 4 8.3 10 4 10 -1.9 20 5 12 4.4 16 .5 2 -1.7 10 3.6 10 -1 10 1.7 10 -2.4 10 2.2 10 -.6 10 .8 10 -1 20 2.3 6 -1.6 2 -7.5 .9 -6 2.1 -8 .4 -6 2.1 -8 .2 -4 1.7 -10 .4 -2 1.3 -2 .4 -10 .4M2180 1200.8l-3.1 3.3 -.6 2 -5.3 6 -.7 2 -5.2 6 -.8 2 -3.8 4 -.5 1.8 -1.7 2.2 -3.9 4 -.4 2 -4 4.2 -1.5 -.2 2.2 -4 3.1 -8 5.7 -8 2.8 -6 5.5 -6 4.9 -8M2147.3 1242.1l.7 -1 0 3 -1 0 .3 -2"/>
<path stroke="#0000f6" d="M1344.3 1655l4 -.2 4 .7 6 2.2 3.6 2.3 5.7 10 -2.2 10 6.9 3.5 9.7 6.5 -1.6 10 1.2 6 1.8 4 8.7 10 4.2 10 -.5 10 -1.3 10 5.2 12 4.1 14 .9 4 -1.7 10 3.7 10 -.9 10 1.6 10 -2.4 10 2.2 10 -.6 10 .9 10 -1.1 20 2.4 6 -1.2 2 -7.3 .8 -6 2.2 -8 .4 -6 2 -8 .3 -4 1.7 -10 .4 -2 1.3 -2 .4 -10 .3M2180 1200.7l-3.2 3.4 -.6 2 -5.4 6 -.5 2 -5.5 6 -.5 2 -3.9 4 -2.2 4 -4 4 -.2 1.3 -1.7 .7 -.3 2.1 -1.1 -.1 3.1 -8 6.6 -10 2.6 -6 5.5 -6 4.9 -8"/>
<path stroke="#0000fd" d="M1344.3 1657.3l6 -.1 8 2.8 5.9 10 -2.3 10 8.4 3.9 9.4 6.1 -1.3 10 1.1 6 2 4 4.8 4.6 4.4 5.4 4.4 10 -.4 10 -1.3 10 5.3 12 4.2 14 1 4 -1.7 10 3.8 10 -.8 10 1.6 10 -2.5 10 2.2 10 -.6 10 1 10 -1.1 20 2.3 6 -.8 2 -7 .8 -6 2.2 -8 .4 -6 2 -8 .2 -4 1.8 -10 .4 -2 1.3 -2 .4 -10 .3M2180 1200.7l-3.3 3.4 -.6 2 -5.4 6 -.5 2 -5.6 6 -.4 2 -3.9 4 -.3 1 -1.2 1 -.7 2 -2.1 2.2 -1.8 -.2 .9 -2 6.6 -10 2.4 -6 5.4 -6 5 -8M2153.6 1234.1l.4 -1.1 0 1.4 -.4 -.3"/>
<path stroke="#0000ff" d="M1344.3 1659.6l4 -.2 4.1 .6 5.9 7.2 1.8 2.8 -2.4 10 10.6 4.4 9.1 5.6 -1.1 10 .8 6 2.3 4 4.9 4.4 4.9 5.6 4.7 10 -.4 10 -1.3 10 5.5 12 4.4 14 1 4 -1.6 10 3.9 10 -.9 10 1.6 10 -2.5 10 2.3 10 -.6 10 .9 10 -1.1 20 2.4 6 -.4 2 -8.8 1.2 -4 1.7 -8 .5 -6 2 -8 .2 -4 1.8 -10 .4 -2 1.2 -2 .5 -10 .3M2180 1200.6l-3.4 3.5 -.6 2 -5.5 6 -.3 2 -5.9 6 -.2 2 -4.1 4.6 -1.6 -.6 4.3 -6 2.5 -6 4.8 -5.4 5.3 -8.6M2157.2 1228.1l.8 -1.1 0 3.2 -1.7 -.1 .9 -2M2155.4 1232.1l.6 -1.3 0 1.3 -.6 0"/>
<path stroke="#0000ff" d="M1344.3 1666l4.2 0 1.8 .8 3.6 3.2 -1.5 6 -1.7 4 5.6 1.1 6 2.1 12.5 6.8 -.8 10 .4 6 .8 2 1.5 2 5.6 4.2 5.4 5.8 4.9 10 -.3 10 -1.3 10 5.7 12 4.6 14 1 4 -1.6 10 3.9 10 -.7 10 1.6 10 -2.6 10 2.3 10 -.7 10 1.1 10 -1.2 20 2.5 6 -.1 2 -8.5 1.1 -4 1.8 -8 .4 -6 2.1 -8 .2 -4 1.7 -10 .4 -2 1.3 -2 .5 -10 .3M2180 1200.5l-3.5 3.6 -.5 2 -5.7 6 -.2 2 -4.1 4.5 -1.7 -.5 .9 -2 4.8 -6.2 6.1 -9.8M2163.7 1220.1l.3 -.7 .1 2.7 -1.7 0 1.3 -2M2160.7 1224.1l1.3 -1.5 0 1.7 -1.3 -.2M2159.4 1226.1l.6 -.8 0 1 -.6 -.2M2157.3 1230.1l.7 -1.3 0 1.3 -.7 0"/>
<path stroke="#0003ff" d="M1344.3 1681.1l6 .4 8 1.7 8 3.5 5.8 3.3 -.6 10 .1 6 .6 2 1.4 2 6.7 4.1 5.8 5.9 5.2 10 -.3 10 -1.3 10 6 12 4.1 12 1.7 6 -1.6 10 4 10 -.7 10 1.6 10 -2.7 10 2.4 10 -.7 10 1.2 10 -1.2 20 2.8 8 -8.3 1 -4 1.8 -8 .5 -6 2 -8 .3 -4 1.7 -10 .4 -4 1.7 -10 .4M2180 1200.5l-3.7 3.6 -.3 1.6 -4 4.8 -1.5 -.4 6.3 -10M2169 1212.1l1 -1.1 0 3.1 -2 2.2 -1.9 -.2 2.9 -4M2165.1 1218.1l.9 -1.7 0 1.9 -.9 -.2M2163.3 1222.1l.7 -.9 0 .9 -.7 0M2161.7 1224.1l.3 -.3 -.3 .3"/>
<path stroke="#000aff" d="M1344.3 1682.7l6 .4 8 1.7 11 5.2 -.9 10 .3 6 .8 2 1.2 2 7.6 4.3 6 5.5 5.7 10.2 -.3 10 -1.4 10 2.6 4 3.8 8 4.3 12 1.6 6 -1.6 10 4.2 10 -.6 10 1.5 10 -2.7 10 2.4 10 -.7 10 1.2 10 -1.2 20 3.2 8 -8 1 -4 1.8 -8 .5 -6 2 -8 .3 -4 1.7 -10 .4 -4 1.7 -10 .4M2180 1200.4l-2 2.1 -1.8 -.4 1.4 -2M2174.8 1204.1l1.2 -1.7 0 2.7 -1.2 -1M2173.6 1206.1l.4 -.6 .5 .6 -.3 2 -1.9 0 1.3 -2M2171.1 1210.1l.9 -1.2 0 1.4 -.9 -.2M2166.9 1216.1l1.1 -1.5 0 1.6 -1.1 -.1"/>
<path stroke="#0011ff" d="M1344.3 1684.3l6 .4 6 1.1 10 4.2 -1.4 10 .5 6 1 2 1.5 2 8.4 4.7 6 4.9 6.3 10.4 -.3 10 -1.3 10 4.9 8 5.6 14 2.3 8 -1.6 10 4.3 10 -.6 10 1.5 10 -2.8 10 2.5 10 -.7 10 1.3 10 -1.3 20 3.2 8 -7.3 .9 -4 1.8 -8 .5 -6 2.1 -8 .2 -4 1.8 -10 .4 -4 1.7 -10 .4M2176.8 1202.1l1.2 -1.6 0 1.9 -1.2 -.3M2180 1200.3l-1.8 -.2M2175.5 1204.1l.5 -.7 0 1.1 -.5 -.4M2172.9 1208.1l1.1 -1.6 .1 1.6 -1.2 0"/>
<path stroke="#0019ff" d="M1344.3 1686l10 1 8.6 3 -1.2 6 -1.4 4 .4 6 3.9 4 9.7 5.1 6 4.4 6.9 10.5 -.4 10 -1.2 10 5.2 8 5.8 14 2.3 8 -1.6 10 4.4 10 -.5 10 1.6 10 -2.9 10 2.5 10 -.7 10 1.3 10 -1.3 20 3.3 8 -6.7 .8 -4 1.9 -8 .5 -6 2.1 -8 .2 -4 1.7 -10 .5 -4 1.7 -10 .3M2177.4 1202.1l.6 -.7 0 .8 -.6 -.1M2180 1200.3l-1.2 -.2M2173.4 1208.1l.6 -.8 0 .8 -.6 0"/>
<path stroke="#0021ff" d="M1344.3 1687.7l8 .6 6.7 1.7 -2.7 6.3 -3.5 3.7 1.4 6 5 4 7.1 2.2 12 7.4 3.6 4.4 3.7 6 -.3 10 -1.1 10 5.5 8 5.9 14 2.5 8 -1.7 10 4.6 10 -.5 10 1.6 10 -3 10 2.6 10 -.8 10 1.5 10 -1.4 20 3.3 8 -6 .8 -4 1.8 -8 .6 -6 2 -8 .3 -4 1.7 -10 .5 -4 1.7 -10 .3M2180 1200.2l-.6 -.1"/>
<path stroke="#0029ff" d="M1344.3 1689.5l7.8 .5 -3.8 2.9 -4 1.2M1344.3 1708.8l6 .4 12 3.1 6 2.6 8.2 5.1 3.8 4.4 3.7 5.6 -.3 10 -.9 10 5.8 8 5.7 12.9 2.9 9.1 -1.7 10 4.7 10 .2 4 -.6 6 1.6 10 -3.1 10 2.7 10 -.8 10 1.5 10 -1.4 20 3.3 8 -5.3 .7 -4 1.9 -8 .6 -6 2 -8 .3 -6 2 -8 .2 -4 1.6 -10 .4"/>
<path stroke="#0032ff" d="M1344.3 1711.1l10 .7 12 3.6 8 4.9 4 4.2 3.9 5.5 -.9 20 4.9 6 2.1 3.5 5.4 12.5 2.6 8 -1.8 10 5 10 .2 4 -.6 6 1 4 .5 6 -3.1 10 2.7 10 -.7 10 1.5 10 -1.4 20 3.3 8 -4.6 .6 -4 1.9 -8 .6 -6 2.1 -8 .3 -6 1.9 -8 .2 -4 1.7 -10 .4"/>
<path stroke="#003bff" d="M1344.3 1712.8l10 .5 8 2.2 4 1.6 4.9 2.9 3.1 2.7 6.1 7.3 -.7 20 4.6 5.3 3.2 4.7 5.2 12 2.7 8 -1.8 10 5.1 10 .3 4 -.6 6 1 4 .5 6 -3.2 10 2.8 10 -.8 10 1.6 10 -1.4 20 3.3 8 -3.9 .5 -4 2 -8 .6 -6 2 -8 .3 -6 2 -8 .2 -4 1.7 -10 .4"/>
<path stroke="#0044ff" d="M1344.3 1714.4l8 .2 12 3.2 6 3.6 4.8 4.6 3.3 4 -.4 20 4.3 4.6 4 5.3 5.3 12.1 2.8 8 -1.7 10 5.2 10 .3 4 -.6 6 1.3 6 .3 4 -3.3 10 2.8 10 -.7 10 1.6 10 -1.5 20 3.4 8 -3.2 .4 -4 2 -8 .6 -6 2.1 -8 .3 -6 2 -8 .2 -4 1.6 -10 .5"/>
<path stroke="#004eff" d="M1344.3 1716.1l8 .1 12 3.3 6 4.2 6.1 6.3 .3 10 -.7 10 4.3 4 4.7 6 5.6 12 2.9 8 -1.7 10 1.7 4 3.6 6 .4 4 -.6 6 1 4 .5 6 -3.4 10 2.9 10 -.7 10 1.6 10 -1.4 20 3.4 8 -4.5 1 -2 1.3 -8 .7 -6 2.1 -8 .3 -6 2 -8 .2 -4 1.6 -10 .4"/>
<path stroke="#0058ff" d="M1344.3 1717.9l8 -.1 8.7 2.2 5.3 2.7 7.8 7.3 .6 10 -.7 10 4.7 4 5 6 5.8 12 3 8 -1.6 10 1.7 4 3.7 6 .4 4 -.6 6 1.1 4 .5 6 -3.5 10 3 10 -.8 10 1.7 10 -1.4 20 3.4 8 -3.8 .8 -2 1.5 -8 .7 -6 2 -8 .4 -6 1.9 -8 .3 -4 1.6 -2 .2 -8 .2"/>
<path stroke="#0062ff" d="M1344.3 1719.7l8 -.2 8 2.3 6 3.1 5.5 5.1 .8 10 -.8 10 6.5 5.4 4 4.6 3.2 6 6 14 -1.6 10 1.8 4 3.8 6 .4 4 -.6 6 1.5 8 .1 2 -3.6 10 3 10 -.7 10 1.7 10 -1.4 20 3.5 8 -3.1 .7 -2 1.5 -8 .7 -6 2.1 -8 .3 -6 2 -8 .2 -6 1.9 -8 .2"/>
<path stroke="#006dff" d="M1344.3 1721.6l6 -.3 6 1.2 8 3.3 5.1 4.2 .8 10 -.7 10 6.8 5.2 4.5 4.8 3.5 6 6.2 14 -1.5 10 1.7 4 4 6 .4 4 -.6 6 1.4 6 .2 4 -3.7 10 3.2 10 -.8 10 1.7 10 -1.3 20 3.4 8 -2.3 .5 -2 1.6 -8 .8 -6 2.1 -8 .3 -6 2 -8 .2 -6 1.9 -8 .2"/>
<path stroke="#0079ff" d="M1344.3 1723.6l6 -.3 4 .7 8 3 4.6 3 .6 8 -.6 12 7.4 5.1 4.9 4.9 3.8 6 6.5 14 -1.5 10 1.8 4 4 6 .5 4 -.6 6 1.1 4 .5 6 -3.7 10 3.1 10 -.7 10 1.7 10 -1.3 20 3.4 8 -1.5 .3 -2 1.8 -8 .7 -6 2.1 -8 .4 -6 2 -8 .2 -6 1.9 -8 .1"/>
<path stroke="#0084ff" d="M1344.3 1725.6l8 0 4 1.2 7.2 3.2 1 8 -.8 12 6.6 3.8 7.3 6.2 4.7 7.1 6.1 12.9 -1.4 10 1.8 4 4.1 6 .5 4 -.5 6 1.1 4 .5 6 -3.8 10 3.2 10 -.7 10 1.7 10 -1.4 20 3.6 8 -2.8 2 -8 .8 -6 2.1 -8 .3 -6 2 -8 .3 -6 1.8 -8 .2"/>
<path stroke="#0091ff" d="M1344.3 1727.7l8 .1 6.2 2.2 1.8 4.2 1 5.8 -.8 6 -1.6 4 7.4 2.9 6 4 3.5 3.1 4.6 6 6.9 14 -1.4 10 1.9 4 4.2 6 .6 4 -.5 6 1.1 4 .4 6 -3.8 10 3.2 10 -.7 10 1.7 10 -1.3 20 3.6 8 -2.3 2 -7.7 .8 -6 2 -8 .4 -6 2 -8 .2 -6 1.9 -8 .2"/>
<path stroke="#009dff" d="M1344.3 1729.8l8.1 .2 1.7 4 2.2 6 -3.2 10 11.2 3.5 9.5 6.5 6.5 8.2 5.9 11.8 -1.3 10 1.8 4 4.4 6 .6 4 -.5 6 1.2 4 .4 6 -3.9 10 3.2 10 -.6 10 1.7 10 -1.4 20 3.7 8 -1.8 2 -7.4 .7 -6 2.1 -8 .4 -6 2 -8 .2 -6 1.9 -8 .2"/>
<path stroke="#00abff" d="M1344.3 1751.3l6 -.2 6 1.1 8 3 6 3.7 4 3.7 4 4.9 6.7 12.5 -1.2 10 1.9 4 4.4 6 .7 4 -.5 6 1.3 4 .4 6 -4.1 10 3.4 10 -.7 10 1.7 10 -1.4 20 3.7 8 -1.1 2 -9.2 1.1 -4 1.6 -8 .4 -6 2 -8 .3 -6 1.9 -8 .1"/>
<path stroke="#00b8ff" d="M1344.3 1752.7l6 -.1 4 .6 8 2.7 6 3.4 4 3.4 6 7.1 5.4 10.2 -1 10 1.9 4 4.6 6 .7 4 -.5 6 1.6 6 .2 4 -4.2 10 3.3 10 -.6 10 1.8 10 -1.6 20 3.9 8 -.6 2 -8.9 1 -4 1.7 -8 .4 -6 2 -8 .2 -6 1.9 -8 .2"/>
<path stroke="#00c7ff" d="M1344.3 1754.2l6 -.1 4 .6 8 2.9 6 3.6 3.2 2.8 5.2 6 5.7 10 -.9 10 2 4 4.7 6 .7 4 -.4 6 1.7 6 .1 4 -4.3 10 3.4 10 -.6 10 1.8 10 -1.7 20 4.1 8 -.1 2 -8.6 .9 -4 1.7 -8 .5 -6 2 -8 .2 -6 1.9 -8 .2"/>
<path stroke="#00d6ff" d="M1344.3 1755.8l6 -.2 4 .7 6 2.2 6 3.2 4 3.2 6 6.9 4.7 8.2 -.7 10 2.1 4 4.8 6 .8 4 -.4 6 1.7 6 .1 4 -4.6 10 3.6 10 -.5 10 1.8 10 -1.8 20 3.3 6 1.3 4 -8.2 .8 -4 1.8 -8 .4 -6 2 -8 .3 -6 1.9 -8 .2"/>
<path stroke="#00e5f7" d="M1344.3 1757.4l6 -.3 4 .8 6 2.3 6 3.3 3 2.5 5.3 6 5 8 -.6 10 2.3 4 4.8 6 .9 4 -.4 6 1.8 6 .1 4 -4.9 10 3.8 10 -.4 10 1.8 10 -2 20 5.3 10 -7.8 .8 -4 1.7 -8 .5 -6 2 -8 .3 -6 1.8 -8 .2"/>
<path stroke="#0df5ea" d="M1344.3 1759l8 0 4 1.3 8 3.8 4 3 6 6.6 3.9 6.3 -.7 10 2.6 4 5 6 .9 4 -.4 6 1.9 6 .1 4 -5.2 10 4 10 -.4 10 1.9 10 -2.1 20 5.4 10 -6.9 .7 -4 1.8 -8 .5 -6 2 -8 .2 -6 1.9 -8 .2"/>
<path stroke="#1affdd" d="M1344.3 1760.7l6 -.3 4 1 10 4.5 4 3.3 6 6.7 2.6 4.1 -1 10 8.2 10 .9 4 -.4 6 1.7 4.7 .4 5.3 -5.6 10 4.3 10 -.3 10 1.9 10 -2.2 20 5.5 10 -6 .6 -4 1.8 -8 .5 -6 2 -8 .3 -6 1.9 -8 .2"/>
<path stroke="#28ffcf" d="M1344.3 1762.6l8 .1 10 4 4 2.6 6 6.3 3.2 4.4 -1.3 10 8.9 10 .9 4 -.4 6 1.6 4 .5 6 -5.9 10 4.6 10 -.2 10 1.8 10 -2.2 20 5.6 10 -5.1 .5 -4 1.8 -8 .6 -6 2 -8 .3 -6 1.8 -8 .2"/>
<path stroke="#37ffc0" d="M1344.3 1764.6l8 .1 10 4 4 2.7 7.7 8.6 -1.7 10 3.4 4 6.3 6 1 4 -.5 6 2 6 .1 4 -6.1 10 4.9 10 -.2 10 1.8 10 -2.3 20 5.7 10 -6.1 1 -2 1.3 -10 .9 -4 1.6 -8 .3 -6 1.9 -8 .2"/>
<path stroke="#46ffb1" d="M1344.3 1766.6l6 -.2 4 .9 8 3.4 4 2.9 6.2 6.4 -1.9 10 3.4 4 4.3 3.3 2.6 2.7 1 4 -.5 6 2.1 6 0 4 -6.2 10 5 10 -.1 10 1.8 10 -2.4 20 5.9 10 -5.2 .8 -2 1.4 -10 1 -4 1.6 -8 .3 -6 1.9 -8 .1"/>
<path stroke="#55ffa1" d="M1344.3 1768.6l6 -.1 4 .9 8 3.4 4 3.1 4.2 4.1 -1.8 10 3.5 4 4.1 2.8 3.4 3.2 1.1 4 -.5 6 1.7 4 .4 6 -6.4 10 4.3 8 1 2 .1 2 -.2 8 1.7 10 -2.4 20 6 10 -4.2 .7 -2 1.4 -8 .6 -6 2 -8 .3 -6 1.9 -8 .2"/>
<path stroke="#66ff91" d="M1344.3 1770.7l6 -.1 4 .8 6 2.5 4 2.5 3.9 3.6 -1.5 10 3.8 4 8 6 1.2 4 -.6 6 1.7 4 .4 6 -6.6 10 5.5 10 .4 4 -.3 6 1.7 10 -2.7 20 6.3 10 -3.2 .5 -2 1.6 -8 .6 -6 2 -8 .3 -6 1.9 -8 .2"/>
<path stroke="#77ff80" d="M1344.3 1772.7l6 -.1 4 .8 6 2.6 4 2.8 1.4 1.2 -1.5 10 4.4 4 7.7 5.3 1.5 2.7 .7 4 -.6 4 1.8 4 .3 6 -6.9 10 5.9 10 .4 4 -.3 6 1.6 10 -2.7 20 6.4 10 -2.1 .3 -2 1.7 -10 1 -4 1.6 -8 .3 -6 1.9 -8 .2"/>
<path stroke="#88ff6e" d="M1344.3 1774.7l6 -.1 4 .8 5.8 2.6 2.8 2 -.8 6 -1.4 4 14.9 10 1.5 4 -.5 6 1.9 4 .2 6 -4.4 6.7 -2.9 3.3 4.9 7.1 1.5 2.9 .3 2 -.3 8 1.8 10 -3 20 6.7 10 -1 .2 -2.4 1.8 -9.6 .9 -4 1.7 -8 .3 -6 1.9 -8 .2"/>
<path stroke="#9bff5c" d="M1344.3 1776.8l8 .2 7.5 3 -1.5 5.7 -2.1 4.3 4.7 2 10.4 6 2.7 2 1.7 4 -.5 6 2 4 .3 6 -5.2 7.4 -3 2.6 3 2.9 4.3 7.1 .4 6 -.5 4 1.9 10 -3.2 20 3.3 4 3.7 6 -1.9 .9 -.8 1.1 -9.2 .8 -4 1.7 -8 .4 -6 1.8 -8 .2"/>
<path stroke="#aeff49" d="M1344.3 1779l6 -.2 5 1.2 -1 3.2 -2 3.2 -4.8 3.6 6.8 1.2 12 4.9 6 3.9 1.9 4 .3 2 -.7 4 2.1 4 .5 2 -.2 4 -3.9 5.5 -5.5 4.5 5.5 5 3.1 5 .4 6 -.6 4 2 10 -3.5 20 4.6 5.6 2.8 4.4 -1.9 2 -8.9 .7 -4 1.8 -8 .3 -6 1.9 -8 .2"/>
<path stroke="#c1ff35" d="M1344.3 1791.7l10 1.4 10 3.1 6.4 3.8 2 4 .2 2 -.6 4 2.3 4 .5 2 -.2 4 -4.6 5.7 -6 4.3 6 4.8 3.8 5.2 .3 6 -.7 4 2.2 10 -3.8 20 4.2 4.8 3.6 5.2 -1.1 2 -8.5 .6 -4 1.8 -8 .4 -6 1.8 -8 .2"/>
<path stroke="#d6ff21" d="M1344.3 1793.8l10 .8 8 1.9 6.6 3.5 2.1 4 .3 2 -.7 4 2.6 4 .5 2 -.2 4 -5.2 5.7 -6.5 4.3 6.5 4.9 4.5 5.1 .2 6 -.8 4 2.3 10 -3.9 20 8 10 -.3 2 -8 .6 -4 1.7 -8 .4 -6 1.9 -8 .2"/>
<path stroke="#ebff0b" d="M1344.3 1794.9l10 .7 6 1.3 6.7 3.1 2.3 4 .3 2 -.9 4 2.9 4 .6 2 -.1 4 -5.8 5.5 -7.4 4.5 7.4 5.2 4.8 4.8 .3 6 -1.1 4 2.8 10 -4.1 20 8.2 10 -.2 2 -6.7 .5 -4 1.8 -10 .7 -4 1.5 -8 .2"/>
<path stroke="#ffe900" d="M1344.3 1796l10 .6 6 1.4 4.5 2 2.6 4 .3 2 -1 4 3.2 4 .7 2 -.2 4 -6.1 5.3 -9.1 4.7 7.1 4.1 7 5.9 .1 6 -1.3 4 3.4 10 -2.7 10 -1.5 10 8.5 10 -.2 2 -7.3 .8 -2 1.4 -10 .7 -4 1.6 -8 .2"/>
<path stroke="#ffce00" d="M1344.3 1797.1l12 .9 6.1 2 2.9 4 .3 2 -1 4 3.5 4 .7 2 -.1 4 -8.4 6.1 -8 3.2 -8 0M1344.3 1830.8l6 -.3 4 1.1 8 4.4 5 4 0 6 -1.6 4 4.1 10 -3.4 10 -.9 10 4.1 4 4.7 6 -.2 2 -5.8 .7 -2 1.4 -10 .7 -4 1.6 -8 .2"/>
<path stroke="#ffb300" d="M1344.3 1798.2l10 .6 5.3 1.2 3.5 4 .3 2 -1.1 4 3.8 4 .8 2 -.1 4 -6.5 4.5 -8 3 -8 0M1344.3 1832.8l8 .1 8 3.8 4.8 3.3 .3 4 -1.9 6 4.3 10 -3.8 10 -.7 10 5 4.4 4.4 5.6 -.3 2 -4.1 .5 -2 1.6 -10 .6 -4 1.7 -8 .1"/>
<path stroke="#ff9600" d="M1344.3 1799.4l10.1 .6 3.9 1.8 2.2 2.2 .5 2 -1.3 4 4.2 4 .9 2 -.2 4 -6.3 3.8 -6 2 -8 -.1M1344.3 1834.8l8 .2 4 1.6 6 3.4 .6 4 -1.7 6 4.5 10 -4.4 10 -.6 10 5.6 4.1 4.9 5.9 -.3 2 -2.6 .3 -2.1 1.7 -9.9 .6 -4 1.7 -8 .2"/>
<path stroke="#ff7800" d="M1344.3 1801.3l8 .9 4.6 1.8 1 2 -1.9 4 4.3 2.9 2.2 3.1 -.4 4 -3.8 2.1 -6 1.8 -8 -.1M1344.3 1836.9l8 .3 6.4 2.8 1.4 4 -1.6 6 4.9 10 -3.1 6.5 -2.3 3.5 -.7 10 7 4.2 5.4 5.8 -.3 2 -1.1 .1 -2.6 1.9 -9.4 .5 -2 .5 -2 1.2 -8 .2"/>
<path stroke="#ff5900" d="M1344.3 1804.1l6.3 1.9 -2.3 1.8 -4 1.7M1344.3 1810.1l10 1.7 4 2 1.4 2.2 -.8 4 -.6 .3 -6 1.8 -8 -.1M1344.3 1838.9l6 .1 3.9 1 2.1 4 0 2 -2.3 4 3.4 4 3.4 6 -4.5 7.3 -2.4 2.7 -1.6 4.9 -.9 1.1 -1.1 1.1 -6 -.8M1344.3 1880.7l6 -.3 6 1.1 8 4.5 3.8 4 -.4 2 -1.4 .6 -1.2 1.4 -8.8 .4 -2 .4 -2 1.4 -8 .1"/>
<path stroke="#ff3900" d="M1344.3 1813.1l8 .7 3.2 2.2 -2.2 4 -3 .4 -6 -.4M1344.3 1854.7l6 -1.3 2 .7 2 1.6 3.3 4.3 -5.3 6.1 -2 1.1 -6 .6M1344.3 1882.3l6 -.1 6 1.2 6 3.2 4.1 3.4 -.5 2 -1.3 2 -10.3 .6 -2 1.5 -8 .2"/>
<path stroke="#ff1800" d="M1345.1 1860l5.2 -1.2 2.5 1.2 -2.5 1.3 -5.2 -1.3M1344.3 1884.1l6 0 4 .6 4 1.6 5.9 3.7 -1.3 4 -8.6 .4 -2 1.6 -8 .2"/>
<path stroke="#da0000" d="M1344.3 1885.9l6 .2 4 .7 6.7 3.2 -1.3 4 -5.4 .2 -2.8 1.8 -7.2 .1"/>
<path stroke="#ae0000" d="M1344.3 1887.8l6 .4 6.4 1.8 -1.7 4 -2.7 .3 -1.7 1.7 -6.3 0"/>
<path stroke="#800000" d="M1344.3 1889.9l2.1 .1 -2.1 .6"/>
</g>
<rect x="1348.3" y="1208.1" width="825.9" height="709.2" fill="none" stroke="#000" stroke-width="2.8"/>
<path d="M1348.3 1917.3v-8.2M1367.29 1917.3v-8.2M1383.73 1917.3v-8.2M1398.24 1917.3v-8.2M1411.22 1917.3v-15.4M1496.6 1917.3v-8.2M1546.54 1917.3v-8.2M1581.97 1917.3v-8.2M1609.46 1917.3v-8.2M1631.92 1917.3v-8.2M1650.9 1917.3v-8.2M1667.35 1917.3v-8.2M1681.86 1917.3v-8.2M1694.83 1917.3v-15.4M1780.21 1917.3v-8.2M1830.15 1917.3v-8.2M1865.59 1917.3v-8.2M1893.07 1917.3v-8.2M1915.53 1917.3v-8.2M1934.52 1917.3v-8.2M1950.96 1917.3v-8.2M1965.47 1917.3v-8.2M1978.45 1917.3v-15.4M2063.83 1917.3v-8.2M2113.77 1917.3v-8.2M2149.2 1917.3v-8.2M1348.3 1917.3h15.4M1348.3 1791.64h8.2M1348.3 1718.14h8.2M1348.3 1665.98h8.2M1348.3 1625.53h8.2M1348.3 1592.48h8.2M1348.3 1564.53h8.2M1348.3 1540.32h8.2M1348.3 1518.97h8.2M1348.3 1499.87h15.4M1348.3 1374.21h8.2M1348.3 1300.71h8.2M1348.3 1248.55h8.2M1348.3 1208.1h8.2" stroke="#000" stroke-width="2.5" fill="none"/>
<g fill="#000">
<text transform="translate(1373.82 1971.9) scale(1.1 1)" font-size="48.3">10</text><text transform="translate(1429.52 1956.8) scale(1.06 1)" font-size="34.5">0</text>
<text transform="translate(1657.43 1971.9) scale(1.1 1)" font-size="48.3">10</text><text transform="translate(1713.13 1956.8) scale(1.06 1)" font-size="34.5">1</text>
<text transform="translate(1941.05 1971.9) scale(1.1 1)" font-size="48.3">10</text><text transform="translate(1996.75 1956.8) scale(1.06 1)" font-size="34.5">2</text>
<text transform="translate(1254.6 1938.9) scale(1.1 1)" font-size="48.3">10</text><text transform="translate(1310.3 1923.8) scale(1.06 1)" font-size="34.5">1</text>
<text transform="translate(1254.6 1521.47) scale(1.1 1)" font-size="48.3">10</text><text transform="translate(1310.3 1506.37) scale(1.06 1)" font-size="34.5">2</text>
<text x="1717.8" y="2043.4" font-size="45.5" font-style="italic">y</text>
<text x="1740.06" y="2029.8" font-size="40" font-family="'DejaVu Sans', sans-serif" font-weight="200">+</text>
<text transform="translate(1747.65 2054.5) scale(1.27 1)" font-size="32">min</text>
<g transform="translate(1201.1 1593.3) rotate(-90)">
<text x="3.8" y="0" font-size="45.5" font-style="italic">y</text>
<text x="26.06" y="-13.6" font-size="40" font-family="'DejaVu Sans', sans-serif" font-weight="200">+</text>
<text transform="translate(33.65 11.1) scale(1.27 1)" font-size="32">max</text>
</g>
<text transform="translate(1145.25 1109.4) scale(1.17 1)" font-size="50">(e)</text>
</g>
<rect x="1348.3" y="1068.3" width="825.9" height="39.6" fill="url(#jet)" stroke="#000" stroke-width="2.8"/>
<text transform="translate(1409.48 1175.6) scale(1.1 1)" text-anchor="middle" font-size="48.3">2</text>
<text transform="translate(1511.44 1175.6) scale(1.1 1)" text-anchor="middle" font-size="48.3">4</text>
<text transform="translate(1613.4 1175.6) scale(1.1 1)" text-anchor="middle" font-size="48.3">6</text>
<text transform="translate(1715.37 1175.6) scale(1.1 1)" text-anchor="middle" font-size="48.3">8</text>
<text transform="translate(1817.33 1175.6) scale(1.1 1)" text-anchor="middle" font-size="48.3">10</text>
<text transform="translate(1919.29 1175.6) scale(1.1 1)" text-anchor="middle" font-size="48.3">12</text>
<text transform="translate(2021.26 1175.6) scale(1.1 1)" text-anchor="middle" font-size="48.3">14</text>
<text transform="translate(2123.22 1175.6) scale(1.1 1)" text-anchor="middle" font-size="48.3">16</text>
<path d="M1409.48 1107.9v15.5M1511.44 1107.9v15.5M1613.4 1107.9v15.5M1715.37 1107.9v15.5M1817.33 1107.9v15.5M1919.29 1107.9v15.5M2021.26 1107.9v15.5M2123.22 1107.9v15.5" stroke="#000" stroke-width="2.5" fill="none"/>
</g>
<g>
<g clip-path="url(#clipf)" fill="none" stroke-width="1.6" stroke-linejoin="round">
<path fill="#000080" stroke="#000080" stroke-width="0.6" fill-rule="evenodd" d="M2474.2 1652.2l46.5 1.5 18 3.1 7.5 5.9 9.9 9.8 .2 192 -.1 21 -1 1 -6 1.3 -6 .4 -3 1.1 -6 .3 -4.5 1.4 -6 .4 -3 1.1 -6 .3 -3 1.3 -7.5 .4 -1.5 1 -8.2 .5 -.8 .8 -1.5 .4 -7.5 .2 -1.5 1.2 -9 .3 7.5 -.1 1.5 -.2 1.5 -1.2 7.5 -.2 1.5 -.4 .8 -.8 6.7 -.3 1.5 -.2 1.5 -1.1 7.5 -.4 3 -1.2 6 -.3 3 -1.2 6 -.3 4.5 -1.4 4.5 -.2 4.5 -1.2 6 -.4 6 -1.3 1 -1 .2 -142.5 -.3 -70.5 -9.9 -9.7 -7.5 -6 -18 -3.1 -46.5 -1.5z"/>
<path fill="#000081" stroke="#000081" stroke-width="0.6" fill-rule="evenodd" d="M2474.2 1652.3l46.5 1.4 18 3.1 7.5 6 9.9 9.7 .2 187.5 -.1 25.5 -1 1 -6 1.3 -6 .4 -4.5 1.2 -4.5 .2 -4.5 1.4 -6 .3 -3 1.2 -6 .3 -3 1.2 -7.5 .4 -1.5 1.1 -8.2 .5 -.8 .8 -1.5 .4 -7.5 .2 -1.5 1.2 -1.5 .2 -7.5 .1 7.5 -.1 1.5 -.2 1.5 -1.2 7.5 -.2 1.5 -.5 .7 -.7 6.8 -.3 1.5 -.2 1.5 -1.1 7.5 -.4 3 -1.2 6 -.3 3 -1.2 6 -.4 4.5 -1.3 4.5 -.2 4.5 -1.2 6 -.4 6 -1.4 .9 -.9 .3 -142.5 -.4 -70.5 -9.8 -9.7 -7.5 -6 -18 -3 -46.5 -1.5z"/>
<path fill="#000083" stroke="#000083" stroke-width="0.6" fill-rule="evenodd" d="M2474.2 1652.3l46.5 1.5 18 3 7.5 6 9.8 9.7 .4 58.5 -.1 124.5 -.2 30 -.9 .9 -6 1.4 -6 .4 -4.5 1.2 -4.5 .2 -4.5 1.3 -6 .4 -3 1.2 -6 .3 -3 1.2 -7.5 .4 -1.5 1.1 -8.3 .5 -.7 .7 -1.5 .5 -7.5 .2 -1.5 1.2 -1.5 .2 -7.5 .1 7.5 -.1 1.5 -.2 1.5 -1.2 7.5 -.2 2.2 -1.2 6.8 -.3 1.5 -.2 1.5 -1.1 7.5 -.4 3 -1.2 6 -.3 3 -1.2 6 -.4 4.5 -1.3 4.5 -.2 4.5 -1.3 6 -.4 6 -1.3 .9 -.9 .3 -142.5 -.4 -70.5 -9.8 -9.7 -7.5 -5.9 -18 -3.1 -46.5 -1.5z"/>
<path fill="#000084" stroke="#000084" stroke-width="0.6" fill-rule="evenodd" d="M2474.2 1652.4l46.5 1.4 18 3.1 7.5 5.9 9.8 9.7 .4 57 -.1 120 -.2 36 -.9 .9 -6 1.3 -6 .4 -4.5 1.3 -4.5 .2 -4.5 1.3 -6 .4 -3 1.2 -6 .3 -3 1.2 -7.5 .4 -1.5 1.1 -1.5 .2 -6.8 .3 -2.2 1.2 -7.5 .2 -1.5 1.2 -1.5 .2 -7.5 .1 7.5 -.1 1.5 -.3 1.5 -1.1 7.5 -.2 2.2 -1.2 6.8 -.3 1.5 -.3 1.5 -1 7.5 -.4 3 -1.3 6 -.3 3 -1.1 6 -.4 4.5 -1.4 4.5 -.1 4.5 -1.3 6 -.4 6 -1.3 .9 -.9 .3 -142.5 -.4 -70.5 -9.8 -9.6 -7.5 -6 -18 -3.1 -46.5 -1.4z"/>
<path fill="#000086" stroke="#000086" stroke-width="0.6" fill-rule="evenodd" d="M2474.2 1652.4l46.5 1.4 18 3.1 7.5 6 9.8 9.6 .4 55.5 -.1 117 -.2 40.5 -.9 .9 -6 1.3 -6 .4 -4.5 1.3 -4.5 .1 -4.5 1.4 -6 .4 -3 1.1 -6 .3 -3 1.3 -7.5 .4 -1.5 1 -1.5 .3 -6.8 .3 -2.2 1.2 -7.5 .2 -1.5 1.1 -1.5 .3 -7.5 .1 7.5 -.2 1.5 -.2 1.5 -1.1 7.5 -.2 2.1 -1.2 6.9 -.3 1.5 -.3 1.5 -1 7.5 -.4 3 -1.3 6 -.3 3 -1.1 6 -.4 4.5 -1.4 4.5 -.2 4.5 -1.2 6 -.5 6 -1.3 .8 -.8 .4 -142.5 -.5 -70.5 -9.7 -9.6 -4.5 -3.2 -3 -2.7 -18 -3.1 -46.5 -1.5z"/>
<path fill="#000088" stroke="#000088" stroke-width="0.6" fill-rule="evenodd" d="M2474.2 1652.5l46.5 1.4 18 3.1 3 2.7 4.5 3.2 9.7 9.6 .5 54 -.1 114 -.3 45 -.8 .8 -6 1.3 -6 .5 -4.5 1.2 -4.5 .2 -4.5 1.4 -6 .4 -3 1.1 -6 .3 -3 1.3 -7.5 .4 -1.5 1 -1.5 .3 -6.9 .3 -2.1 1.2 -7.5 .2 -1.5 1.1 -1.5 .2 -7.5 .2 7.5 -.2 1.5 -.2 1.5 -1.1 7.5 -.3 2.1 -1.1 6.9 -.3 1.5 -.3 1.5 -1 7.5 -.5 3 -1.2 6 -.3 3 -1.1 6 -.5 4.5 -1.3 4.5 -.2 4.5 -1.3 6 -.4 6 -1.3 .8 -.8 .4 -142.5 -.5 -70.5 -9.7 -9.5 -4.5 -3.2 -3 -2.8 -18 -3.1 -46.5 -1.4z"/>
<path fill="#000089" stroke="#000089" stroke-width="0.6" fill-rule="evenodd" d="M2474.2 1652.5l46.5 1.4 18 3.1 3 2.8 4.5 3.2 9.7 9.5 .4 54 0 109.5 -.3 49.5 -.8 .8 -7.5 1.5 -4.5 .2 -4.5 1.3 -4.5 .2 -4.5 1.3 -6 .5 -3 1.1 -6 .3 -3 1.2 -7.5 .5 -1.5 1 -1.5 .3 -6.9 .3 -2.1 1.1 -7.5 .3 -1.5 1.1 -1.5 .2 -7.5 .2 7.5 -.2 1.5 -.2 1.5 -1.1 7.5 -.3 2 -1.1 7 -.3 1.5 -.3 1.5 -1 6 -.3 4.5 -1.4 6 -.3 3 -1.2 6 -.4 4.5 -1.3 4.5 -.2 4.5 -1.3 6 -.4 6 -1.3 .8 -.8 .3 -142.5 -.5 -70.5 -9.6 -9.5 -3 -2 -4.5 -3.9 -7.5 -1.5 -6 -.5 -4.5 -1.1 -46.5 -1.5z"/>
<path fill="#00008b" stroke="#00008b" stroke-width="0.6" fill-rule="evenodd" d="M2474.2 1652.5l46.5 1.5 4.5 1.1 6 .5 7.5 1.5 4.5 3.9 3 2 9.6 9.5 .5 52.5 0 106.5 -.3 54 -.8 .8 -7.5 1.5 -4.5 .2 -4.5 1.3 -4.5 .2 -4.5 1.3 -6 .4 -3 1.2 -6 .3 -3 1.2 -7.5 .5 -1.5 1 -1.5 .3 -7 .3 -2 1.1 -7.5 .3 -1.5 1.1 -1.5 .2 -7.5 .2 7.5 -.2 1.5 -.3 1.5 -1 7.5 -.3 2 -1.1 7 -.4 3 -1.2 6 -.3 4.5 -1.4 6 -.4 3 -1.1 6 -.5 4.5 -1.3 4.5 -.2 4.5 -1.2 6 -.5 3 -.9 3 -.4 .7 -.7 .4 -142.5 -.5 -70.5 -9.6 -9.4 -3 -2 -4.5 -4 -7.5 -1.5 -6 -.5 -4.5 -1.1 -46.5 -1.5z"/>
<path fill="#00008d" stroke="#00008d" stroke-width="0.6" fill-rule="evenodd" d="M2474.2 1652.6l46.5 1.4 4.5 1.1 6 .5 7.5 1.5 4.5 4 3 2 9.6 9.4 .5 52.5 -.1 103.5 -.3 57 -.7 .7 -7.5 1.5 -4.5 .3 -4.5 1.2 -4.5 .2 -4.5 1.3 -6 .5 -3 1.1 -6 .4 -4.5 1.4 -6 .3 -3 1.2 -7 .4 -2 1.1 -7.5 .3 -1.5 1 -1.5 .3 -7.5 .2 7.5 -.2 1.5 -.3 1.5 -1 6 -.2 4.5 -1.4 6 -.2 3 -1.2 6 -.3 4.5 -1.4 4.5 -.2 4.5 -1.3 6 -.5 4.5 -1.3 4.5 -.2 4.5 -1.3 6 -.4 3 -1 3 -.3 .7 -.7 .4 -142.5 -.5 -70.5 -9.6 -9.4 -3 -1.9 -4.5 -4 -4.5 -.6 -3 -.9 -6 -.5 -4.5 -1.1 -46.5 -1.5z"/>
<path fill="#00008f" stroke="#00008f" stroke-width="0.6" fill-rule="evenodd" d="M2474.2 1652.7l46.5 1.4 4.5 1.1 6 .5 3 .9 4.5 .6 4.5 4 3 1.9 9.6 9.4 .5 51 -.1 100.5 -.3 61.5 -.7 .7 -7.5 1.5 -4.5 .2 -4.5 1.3 -4.5 .2 -4.5 1.3 -6 .5 -3 1.1 -6 .4 -4.5 1.4 -6 .3 -3 1.2 -7.1 .4 -1.9 1.1 -7.5 .3 -1.5 1 -1.5 .3 -7.5 .2 7.5 -.2 1.5 -.3 1.5 -1 6 -.2 4.5 -1.4 6 -.2 3 -1.2 6 -.3 4.5 -1.4 4.5 -.2 4.5 -1.3 6 -.5 4.5 -1.3 4.5 -.3 4.5 -1.2 4.5 -.2 4.5 -1.2 3 -.3 .7 -.7 .4 -142.5 -.6 -70.5 -9.5 -9.3 -3 -1.9 -4.5 -4.1 -4.5 -.5 -3 -1 -6 -.4 -4.5 -1.2 -46.5 -1.4z"/>
<path fill="#000091" stroke="#000091" stroke-width="0.6" fill-rule="evenodd" d="M2474.2 1652.7l46.5 1.4 4.5 1.2 6 .4 3 1 4.5 .5 4.5 4.1 3 1.9 9.5 9.3 .6 51 -.1 96 -.3 66 -.7 .7 -3 .3 -4.5 1.2 -4.5 .2 -4.5 1.2 -4.5 .3 -4.5 1.3 -6 .5 -4.5 1.3 -4.5 .2 -4.5 1.4 -6 .3 -3 1.2 -7.1 .4 -1.9 1.1 -7.5 .3 -1.5 1 -1.5 .3 -7.5 .2 7.5 -.2 1.5 -.4 1.5 -.9 6 -.2 4.5 -1.4 6 -.2 3 -1.3 6 -.3 4.5 -1.4 4.5 -.1 4.5 -1.4 6 -.5 4.5 -1.3 4.5 -.2 4.5 -1.3 4.5 -.2 4.5 -1.2 3 -.3 .6 -.6 .5 -142.5 -.6 -70.5 -9.5 -9.3 -3 -1.8 -4.5 -4.1 -4.5 -.5 -3 -1 -6 -.4 -4.5 -1.2 -46.5 -1.5z"/>
<path fill="#000093" stroke="#000093" stroke-width="0.6" fill-rule="evenodd" d="M2474.2 1652.8l46.5 1.4 4.5 1.2 6 .4 3 1 4.5 .5 4.5 4.1 3 1.8 9.5 9.3 .5 49.5 0 93 -.4 70.5 -.6 .6 -3 .3 -4.5 1.2 -4.5 .2 -4.5 1.3 -4.5 .2 -6 1.6 -4.5 .2 -4.5 1.4 -4.5 .1 -4.5 1.4 -6 .3 -3 1.3 -7.2 .4 -1.8 1 -7.5 .4 -1.5 .9 -1.5 .4 -7.5 .1 7.5 -.2 3 -1.2 6 -.2 4.5 -1.4 6 -.2 3 -1.3 6 -.3 4.5 -1.4 4.5 -.2 4.5 -1.3 6 -.5 3 -1 6 -.5 4.5 -1.3 4.5 -.2 4.5 -1.3 3 -.2 .6 -.6 .5 -142.5 -.7 -70.5 -9.4 -9.2 -3 -1.9 -4.5 -4.1 -4.5 -.4 -3 -1 -7.5 -.7 -3 -1 -46.5 -1.4z"/>
<path fill="#000095" stroke="#000095" stroke-width="0.6" fill-rule="evenodd" d="M2474.2 1652.8l46.5 1.4 3 1 7.5 .7 3 1 4.5 .4 4.5 4.1 3 1.9 9.4 9.2 .6 49.5 0 88.5 -.4 75 -.6 .6 -3 .2 -4.5 1.3 -4.5 .2 -4.5 1.3 -4.5 .2 -6 1.5 -4.5 .3 -4.5 1.3 -4.5 .2 -4.5 1.4 -6 .3 -3 1.3 -7.2 .4 -1.8 1 -7.5 .4 -3 1.2 -7.5 .2 7.5 -.2 3 -1.3 6 -.1 4.5 -1.4 6 -.3 3 -1.2 6 -.3 4.5 -1.4 4.5 -.2 4.5 -1.3 4.5 -.3 4.5 -1.3 6 -.5 4.5 -1.3 4.5 -.2 4.5 -1.2 3 -.3 .5 -.5 .5 -142.5 -.6 -70.5 -9.4 -9.2 -3 -1.8 -4.5 -4.1 -4.5 -.4 -3 -1.1 -7.5 -.6 -3 -1 -46.5 -1.5z"/>
<path fill="#000098" stroke="#000098" stroke-width="0.6" fill-rule="evenodd" d="M2474.2 1652.9l46.5 1.4 3 1 7.5 .6 3 1.1 4.5 .4 4.5 4.1 3 1.8 9.4 9.2 .6 49.5 0 84 -.5 79.5 -.5 .5 -3 .3 -4.5 1.2 -4.5 .2 -4.5 1.3 -4.5 .3 -6 1.5 -4.5 .3 -4.5 1.3 -4.5 .2 -4.5 1.4 -6 .3 -3 1.2 -7.3 .5 -1.7 1 -7.5 .3 -3 1.3 -7.5 .2 7.5 -.2 3 -1.3 6 -.1 1.5 -.2 1.6 -1 7.4 -.5 3 -1.2 6 -.3 4.5 -1.4 4.5 -.2 4.5 -1.4 4.5 -.2 4.5 -1.3 6 -.5 4.5 -1.3 4.5 -.2 4.5 -1.3 3 -.2 .5 -.5 .5 -142.5 -.7 -70.5 -9.3 -9.1 -1.5 -.5 -6 -5.4 -6 -.6 -1.5 -.9 -7.5 -.6 -3 -1.1 -46.5 -1.4z"/>
<path fill="#00009a" stroke="#00009a" stroke-width="0.6" fill-rule="evenodd" d="M2474.2 1653l46.5 1.3 3 1.1 7.5 .6 1.5 .9 6 .6 6 5.4 1.5 .5 9.3 9.1 .7 48 0 81 -.5 84 -.5 .5 -3 .2 -4.5 1.3 -4.5 .2 -4.5 1.3 -6 .5 -4.5 1.3 -4.5 .2 -4.5 1.4 -4.5 .2 -4.5 1.4 -6 .3 -3 1.2 -7.4 .5 -1.6 1 -7.5 .3 -3 1.3 -7.5 .2 7.5 -.2 3 -1.3 6 -.1 1.5 -.3 1.6 -.9 7.4 -.5 3 -1.2 6 -.3 4.5 -1.4 4.5 -.2 4.5 -1.4 4.5 -.3 4.5 -1.3 6 -.5 4.5 -1.3 4.5 -.2 4.5 -1.3 3 -.2 .4 -.4 .6 -142.5 -.7 -70.5 -9.3 -9 -1.5 -.5 -6.5 -5.5 -5.5 -.4 -3 -1.2 -6 -.3 -3 -1.2 -46.5 -1.4z"/>
<path fill="#00009d" stroke="#00009d" stroke-width="0.6" fill-rule="evenodd" d="M2474.2 1653l46.5 1.4 3 1.2 6 .3 3 1.2 5.5 .4 6.5 5.5 1.5 .5 9.3 9 .6 46.5 0 76.5 -.4 82.5 -.1 7.5 -.4 .4 -3 .2 -4.5 1.3 -6 .5 -3 1 -6 .5 -4.5 1.3 -4.5 .3 -4.5 1.4 -4.5 .2 -4.5 1.4 -6 .3 -3 1.2 -7.4 .5 -1.6 .9 -7.5 .4 -3 1.3 -7.5 .2 7.5 -.2 3 -1.3 6 -.2 1.5 -.2 1.5 -.9 7.5 -.5 3 -1.2 6 -.4 4.5 -1.3 4.5 -.3 4.5 -1.3 4.5 -.3 4.5 -1.3 6 -.5 4.5 -1.3 4.5 -.2 3 -1.1 4.5 -.4 .4 -.4 .6 -142.5 -.8 -70.5 -7.7 -7.6 -3 -1.7 -4.5 -4.2 -1.5 -.5 -1.2 -1 -4.8 -.2 -1.5 -.4 -1 -.9 -6.5 -.3 -1.5 -.2 -1.4 -1 -1.6 -.1 -45 -1.4z"/>
<path fill="#0000a0" stroke="#0000a0" stroke-width="0.6" fill-rule="evenodd" d="M2474.2 1653.3l45 1.1 1.6 .1 1.4 1 1.5 .2 6.5 .3 1 .9 1.5 .4 4.8 .2 1.2 1 1.5 .5 4.5 4.2 3 1.7 7.7 7.6 .8 81 -.3 99 -.3 33 -.4 .4 -4.5 .4 -3 1.1 -6 .4 -3 1.1 -6 .5 -4.5 1.3 -4.5 .3 -4.5 1.3 -4.5 .3 -4.5 1.3 -6 .4 -3 1.2 -7.5 .5 -1.5 .9 -7.5 .4 -3 1.3 -7.5 .2 7.5 -.2 3 -1.3 6 -.2 1.5 -.2 1.5 -.9 7.5 -.6 3 -1.1 6 -.4 4.5 -1.4 4.5 -.2 4.5 -1.4 4.5 -.2 4.5 -1.4 6 -.5 3 -1.1 6 -.4 3 -1.1 4.8 -.7 .6 -142.5 -.8 -70.5 -7.6 -7.5 -1.5 -.5 -3 -2.5 -10.1 -4.5 -1.9 -.2 -2 -1.3 -7 -.3 -3 -1.3 -45 -1.1z"/>
<path fill="#0000a2" stroke="#0000a2" stroke-width="0.6" fill-rule="evenodd" d="M2474.2 1653.5l45 .9 3 1.3 7 .3 2 1.3 1.9 .2 10.1 4.5 3 2.5 1.5 .5 7.6 7.5 .8 76.5 -.2 97.5 -.4 39 -.3 .3 -4.5 .4 -3 1.1 -6 .4 -3 1.1 -6 .5 -3 1 -6 .6 -4.5 1.4 -4.5 .2 -4.5 1.4 -6 .4 -3 1.1 -7.5 .6 -1.5 .9 -1.5 .2 -6 .2 -3 1.3 -7.5 .2 7.5 -.3 3 -1.2 6 -.2 3 -1.1 7.5 -.6 3 -1.2 6 -.3 4.5 -1.4 4.5 -.2 4.5 -1.4 4.5 -.3 4.5 -1.3 6 -.6 4.5 -1.3 4.5 -.1 3 -1.2 4.8 -.6 .6 -142.5 -.8 -70.5 -4.6 -4.5 -1.5 -.8 -16.5 -7.5 -9.3 -3.7 -2.7 -.4 -1.7 -1.1 -44.8 -1z"/>
<path fill="#0000a5" stroke="#0000a5" stroke-width="0.6" fill-rule="evenodd" d="M2474.2 1653.6l44.8 .9 1.7 1.1 2.7 .4 9.3 3.7 16.5 7.5 1.5 .8 4.6 4.5 .8 73.5 -.2 96 -.7 43.8 -4.5 .3 -3 1.2 -6 .3 -3 1.1 -6 .6 -4.5 1.3 -4.5 .3 -4.5 1.4 -6 .5 -3 1.1 -6 .3 -3 1.2 -7.5 .6 -3 1.1 -6 .2 -1.5 .8 -3 .6 -6 .1 7.5 -.3 3 -1.2 6 -.2 3 -1.1 7.5 -.6 3 -1.2 6 -.4 4.5 -1.3 4.5 -.3 4.5 -1.3 4.5 -.3 4.5 -1.4 6 -.5 3 -1.2 6 -.3 3 -1.2 4.7 -.5 .7 -142.5 -.9 -69.9 -24 -12 -10.5 -4.2 -7.4 -2.4 -39.1 -.9z"/>
<path fill="#0000a9" stroke="#0000a9" stroke-width="0.6" fill-rule="evenodd" d="M2474.2 1653.8l39.1 .7 7.4 2.4 10.5 4.2 24 12 .9 69.9 -.2 94.5 -.7 48.2 -4.5 .3 -3 1.2 -6 .3 -3 1.2 -6 .5 -4.5 1.4 -4.5 .3 -4.5 1.3 -4.5 .3 -4.5 1.3 -6 .4 -3 1.2 -7.5 .6 -3 1.1 -6 .2 -4.5 1.4 -6 .1 7.5 -.3 3 -1.2 6 -.2 3 -1.2 7.5 -.6 3 -1.1 6 -.4 4.5 -1.3 4.5 -.3 4.5 -1.4 4.5 -.3 4.5 -1.4 6 -.5 3 -1.2 6 -.2 3 -1.3 4.6 -.4 .7 -142.5 -.8 -66.9 -24 -13 -10.5 -4.5 -10.5 -3.4 -2.7 -.7 -33.3 -.7z"/>
<path fill="#0000ac" stroke="#0000ac" stroke-width="0.6" fill-rule="evenodd" d="M2474.2 1654.1l33.3 .4 2.7 .7 10.5 3.4 10.5 4.5 24 13 .8 66.9 -.1 91.5 -.7 51.1 -4.5 .3 -3 1.3 -6 .2 -3 1.2 -6 .5 -4.5 1.4 -4.5 .3 -4.5 1.4 -4.5 .3 -4.5 1.3 -6 .4 -3 1.1 -7.5 .6 -3 1.2 -6 .2 -4.5 1.4 -6 .1 6 -.2 4.5 -1.3 6 -.3 3 -1.1 7.5 -.6 3 -1.1 6 -.4 3 -1.1 6 -.6 4.5 -1.3 4.5 -.3 4.5 -1.4 6 -.6 3 -1.2 6 -.2 1.5 -1.1 6.1 -.5 .7 -142.5 -.8 -64.2 -13.5 -8.3 -9 -4.9 -10.5 -4.7 -10.5 -3.8 -10.4 -2.6 -27.1 -.4z"/>
<path fill="#0000af" stroke="#0000af" stroke-width="0.6" fill-rule="evenodd" d="M2474.2 1654.3l27.1 .2 10.4 2.6 10.5 3.8 10.5 4.7 9 4.9 13.5 8.3 .8 64.2 -.2 87 -.6 55.6 -6 .4 -1.5 1.1 -6 .2 -3 1.2 -6 .6 -4.5 1.4 -4.5 .3 -4.5 1.3 -6 .6 -3 1.1 -6 .4 -3 1.1 -7.5 .6 -3 1.1 -6 .3 -4.5 1.3 -6 .1 6 -.1 4.5 -1.3 6 -.3 3 -1.1 7.5 -.6 3 -1.1 6 -.5 3 -1 6 -.6 4.5 -1.4 4.5 -.3 4.5 -1.4 5.8 -.5 1.7 -1 7.5 -.5 1.5 -1.3 6 -.2 .8 -142.5 -.8 -61.5 -12 -8 -10.5 -6.1 -9 -4.4 -9 -3.5 -10.5 -3 -10.4 -2 -19.6 -.2z"/>
<path fill="#0000b3" stroke="#0000b3" stroke-width="0.6" fill-rule="evenodd" d="M2474.2 1654.5l19.6 0 10.4 2 10.5 3 9 3.5 9 4.4 10.5 6.1 12 8 .8 63 -.2 84 -.6 57 -6 .2 -1.5 1.3 -7.5 .5 -1.7 1 -5.8 .5 -4.5 1.4 -4.5 .3 -4.5 1.4 -6 .6 -3 1 -6 .5 -3 1.1 -7.5 .6 -3 1.1 -6 .3 -4.5 1.3 -6 .1 6 -.1 4.5 -1.4 6 -.2 3 -1.1 6 -.4 4.5 -1.4 4.5 -.2 4.5 -1.3 6 -.5 4.5 -1.4 4.5 -.3 4.5 -1.5 5.5 -.4 2 -1.2 5.9 -.3 4.6 -3.8 4.5 -2.3 .7 -137.9 -.7 -58.9 -10.5 -7.5 -10.5 -6.7 -9 -4.6 -9 -3.8 -10.5 -3.4 -9 -1.9 -10.5 -1.3 -12 -.4z"/>
<path fill="#0000b7" stroke="#0000b7" stroke-width="0.6" fill-rule="evenodd" d="M2474.2 1655.7l0 -1.1 12 .3 9 1 9 1.9 15 4.8 15 7.3 10.5 6.7 10.5 7.5 .4 18.4 .3 100.5 -.7 77.9 -4.5 2.3 -4.6 3.8 -5.9 .3 -2 1.2 -7 .7 -3 1.2 -4.5 .3 -4.5 1.4 -6 .5 -4.5 1.3 -4.5 .2 -4.5 1.4 -6 .4 -3 1.1 -6 .2 -3 1.2 -3 .3 -4.5 0 6 -.1 4.5 -1.4 6 -.2 3 -1.1 6 -.4 4.5 -1.4 4.5 -.2 4.5 -1.3 6 -.6 4.5 -1.4 4.5 -.3 3 -1.2 6.6 -.6 .9 -1 3.7 -.5 5.3 -6.4 3 -2.2 4.5 -2 .6 -74.9 -.2 -97.5 -.4 -17.3 -12 -9.2 -9 -5.9 -13.5 -7 -15 -5.2 -15 -2.9 -16.5 -.8z"/>
<path fill="#0000bb" stroke="#0000bb" stroke-width="0.6" fill-rule="evenodd" d="M2474.2 1656l7.5 -.2 9 .7 9 1.5 9 2.2 10.5 3.8 7.5 3.5 7.5 4.1 8.3 5.4 12.7 9.7 .5 26.3 .1 97.5 -.6 65.9 -4.5 2 -3 2.2 -5.3 6.4 -3.7 .5 -.9 1 -6.6 .6 -3 1.2 -4.5 .3 -4.5 1.4 -6 .6 -4.5 1.3 -4.5 .2 -4.5 1.4 -4.5 .2 -4.5 1.3 -6 .2 -3 1.2 -4.5 .3 -3 0 6 -.1 4.5 -1.4 6 -.3 3 -1 6 -.5 4.5 -1.3 6 -.5 3 -1 6 -.6 4.5 -1.4 4.5 -.3 3 -1.3 6.3 -.5 1.2 -1.4 .8 -.1 3.7 -6.4 3 -3.5 4.5 -3.5 4.5 -1.9 .6 -62.7 -.1 -94.5 -.5 -25.3 -13.5 -10.9 -7.5 -5.1 -7.5 -4.3 -7.5 -3.6 -7.5 -2.9 -9 -2.6 -7.5 -1.5 -10.5 -1.3 -10.5 -.2 0 -.8z"/>
<path fill="#0000bf" stroke="#0000bf" stroke-width="0.6" fill-rule="evenodd" d="M2474.2 1657.5l0 -.7 15 .6 9 1.4 9 2.2 9 3.1 7.5 3.3 7.5 4 8.7 5.6 15.3 12.2 .5 25.3 .1 94.5 -.6 62.7 -4.5 1.9 -4.5 3.5 -3 3.5 -3.7 6.4 -.8 .1 -1.2 1.4 -6.3 .5 -3 1.3 -4.5 .3 -4.5 1.4 -6 .6 -3 1 -6 .5 -4.5 1.3 -4.5 .2 -4.5 1.3 -6 .3 -3 1.1 -4.5 .4 -3 0 6 -.2 4.5 -1.3 6 -.3 3 -1.1 6 -.4 4.5 -1.3 4.5 -.3 4.5 -1.3 6 -.6 3 -1.1 6 -.6 3 -1.3 5.3 -.4 3.7 -8.4 4.5 -6.7 4.5 -3.8 6 -2.6 .5 -61 0 -91.5 -.5 -22.8 -9.8 -8.7 -7.9 -6 -13.8 -8.3 -7.5 -3.4 -7.5 -2.7 -15 -3.5 -9 -1 -10.5 -.2 0 -.4z"/>
<path fill="#0000c4" stroke="#0000c4" stroke-width="0.6" fill-rule="evenodd" d="M2474.2 1659l0 -1.1 12 .3 9 1.2 9 1.9 9 2.9 7.5 3.1 7.5 3.8 7.5 4.7 9.7 7.2 9.8 8.7 .5 22.8 0 91.5 -.5 61 -6 2.6 -4.5 3.8 -4.5 6.7 -3.7 8.4 -5.3 .4 -3 1.3 -6 .6 -3 1.1 -6 .6 -4.5 1.3 -4.5 .3 -4.5 1.3 -6 .4 -3 1.1 -6 .3 -3 1.1 -4.5 .4 -3 0 6 -.2 4.5 -1.3 6 -.3 3 -1.1 6 -.4 4.5 -1.3 4.5 -.3 4.5 -1.3 6 -.6 3 -1.2 6 -.6 3 -1.4 3.3 -.2 4.2 -11.1 4.5 -7.7 4.5 -4.3 3 -1.7 4.5 -1.6 .5 -57.6 -.1 -88.5 -.4 -21.8 -10.3 -9.7 -9.2 -7.2 -7.5 -4.8 -7.5 -3.9 -7.5 -3.2 -7.5 -2.5 -15 -3.2 -16.5 -.7z"/>
<path fill="#0000c8" stroke="#0000c8" stroke-width="0.6" fill-rule="evenodd" d="M2474.2 1659l9 .1 7.5 .6 15 3.2 7.5 2.5 7.5 3.2 7.5 3.9 7.5 4.8 9.2 7.2 10.3 9.7 .4 21.8 .1 88.5 -.5 57.6 -4.5 1.6 -3 1.7 -4.5 4.3 -4.5 7.7 -4.2 11.1 -3.3 .2 -3 1.4 -6 .6 -3 1.2 -6 .6 -4.5 1.3 -4.5 .3 -4.5 1.3 -6 .4 -3 1.1 -6 .3 -3 1.1 -4.5 .4 -3 -.1 6 -.1 4.5 -1.3 6 -.3 3 -1.1 6 -.4 4.5 -1.4 4.5 -.2 4.5 -1.4 6 -.6 3 -1.1 6 -.6 1.5 -1.2 3 -.4 4.5 -13.9 4.5 -8.9 3 -3.5 3 -2.2 3 -1.5 4.5 -1.4 .4 -141.1 -.4 -19.2 -10.8 -10.8 -10.2 -8.2 -7.5 -4.8 -6 -3.2 -13.5 -5.4 -13.5 -3.2 -9 -1 -10.5 -.2 0 -1z"/>
<path fill="#0000cd" stroke="#0000cd" stroke-width="0.6" fill-rule="evenodd" d="M2474.2 1660.5l0 -.5 12 .3 7.5 .9 9 1.9 7.5 2.3 7.5 3 7.5 3.8 7.5 4.6 11.7 9.2 10.8 10.8 .4 19.2 -.4 141.1 -4.5 1.4 -3 1.5 -3 2.2 -3 3.5 -4.5 8.9 -4.5 13.9 -3 .4 -1.5 1.2 -6 .6 -3 1.1 -6 .6 -4.5 1.4 -4.5 .2 -4.5 1.4 -6 .4 -3 1.1 -6 .3 -3 1 -4.5 .4 -3 0 6 -.1 4.5 -1.4 6 -.3 3 -1 6 -.5 4.5 -1.3 4.5 -.3 4.5 -1.3 4.5 -.3 4.5 -1.5 6 -.6 1.5 -1.3 1.3 -.2 4.7 -16.9 2.1 -5.6 2.4 -4.7 3 -3.7 3 -2.4 4.5 -2.1 4.5 -1.2 .4 -134.4 -.4 -18 -11.2 -12 -11.3 -9.3 -6 -3.9 -7.5 -4 -13.5 -5.3 -7.5 -1.9 -7.5 -1.3 -7.5 -.7 -9 -.1 0 -.5z"/>
<path fill="#0000d2" stroke="#0000d2" stroke-width="0.6" fill-rule="evenodd" d="M2474.2 1661.9l0 -.9 12 .3 9 1.2 7.5 1.7 9 2.9 6 2.5 7.5 3.9 6 3.7 6 4.4 6.8 5.9 11.2 12 .4 18 -.4 134.4 -4.5 1.2 -4.5 2.1 -3 2.4 -3 3.7 -2.4 4.7 -2.1 5.6 -4.7 16.9 -1.3 .2 -1.5 1.3 -6 .6 -4.5 1.5 -4.5 .3 -3 1 -6 .6 -4.5 1.3 -6 .5 -3 1 -6 .3 -3 1.1 -4.5 .4 -3 0 6 -.2 4.5 -1.3 6 -.3 3 -1.1 6 -.4 4.5 -1.3 4.5 -.3 4.5 -1.4 4.5 -.3 4.5 -1.5 5.5 -.5 1.8 -1.5 5.3 -22.5 2.1 -6 1.8 -3.6 3 -4 3 -2.4 4.5 -2.2 6 -1.4 .3 -128.9 -.3 -15.3 -5.9 -7.2 -5.6 -6 -6.7 -6 -7.3 -5.4 -12 -6.8 -13.5 -5.2 -7.5 -1.8 -7.5 -1.2 -15 -.7z"/>
<path fill="#0000d8" stroke="#0000d8" stroke-width="0.6" fill-rule="evenodd" d="M2474.2 1662l15 .6 7.5 1.2 7.5 1.8 13.5 5.2 12 6.8 7.3 5.4 6.7 6 5.6 6 5.9 7.2 .3 15.3 -.3 128.9 -6 1.4 -4.5 2.2 -3 2.4 -3 4 -1.8 3.6 -2.1 6 -5.3 22.5 -1.8 1.5 -5.5 .5 -4.5 1.5 -4.5 .3 -4.5 1.4 -4.5 .3 -4.5 1.3 -6 .4 -3 1.1 -6 .3 -3 1.1 -4.5 .4 -3 0 6 -.2 4.5 -1.3 6 -.3 3 -1.1 6 -.4 4.5 -1.4 4.5 -.2 4.5 -1.4 4.5 -.3 4.5 -1.6 4.9 -.4 .9 -1.5 .7 -3 5 -25.5 1.9 -6 1.6 -3.4 3 -4 4.2 -3.1 4.8 -1.9 6 -1.1 .3 -121.5 -.3 -13.9 -5.2 -7.1 -6.7 -7.5 -6.4 -6 -7.2 -5.6 -12 -7 -12 -4.8 -12 -2.9 -9 -1.1 -10.5 -.2 0 -.9z"/>
<path fill="#0000dd" stroke="#0000dd" stroke-width="0.6" fill-rule="evenodd" d="M2474.2 1663.5l0 -.6 12 .3 7.5 1 9 2 7.5 2.5 7.5 3.2 12 7 7.2 5.6 6.4 6 6.7 7.5 5.2 7.1 .3 13.9 -.3 121.5 -6 1.1 -4.8 1.9 -4.2 3.1 -3 4 -1.6 3.4 -1.9 6 -5 25.5 -.7 3 -.9 1.5 -4.9 .4 -4.5 1.6 -4.5 .3 -4.5 1.4 -4.5 .2 -4.5 1.4 -6 .4 -3 1.1 -6 .3 -3 1 -4.5 .5 -3 0 6 -.2 4.5 -1.3 4.5 -.2 4.5 -1.2 6 -.5 4.5 -1.3 4.5 -.3 4.5 -1.4 4.5 -.3 4.5 -1.6 4.1 -.3 2.2 -12 3.2 -22.5 1.5 -6 1.8 -4.5 3.1 -4.5 3.6 -2.8 6 -2.4 7.5 -1.3 .2 -115 -.2 -10.9 -2.7 -4.1 -5.6 -7.5 -5.3 -6 -6.5 -6 -6.9 -5.3 -12 -6.9 -13.5 -5.1 -13.5 -2.7 -15 -.7 0 -.3z"/>
<path fill="#0000e3" stroke="#0000e3" stroke-width="0.6" fill-rule="evenodd" d="M2474.2 1664.7l0 -.9 10.5 .2 9 1.2 7.5 1.6 13.5 4.8 12.4 6.9 7.1 5.2 5.9 5.3 5.6 6 5.8 7.5 3.7 5.6 .2 10.9 -.2 115 -7.5 1.3 -6 2.4 -3.6 2.8 -3.1 4.5 -1.8 4.5 -1.5 6 -3.2 22.5 -2.2 12 -4.1 .3 -4.5 1.6 -4.5 .3 -4.5 1.4 -4.5 .3 -4.5 1.3 -6 .5 -3 1 -6 .4 -4.5 1.3 -3 .2 -3 -.1 6 -.1 4.5 -1.3 4.5 -.2 4.5 -1.2 4.5 -.3 6 -1.5 4.5 -.3 4.5 -1.4 5.9 -.7 1.6 -1 4.2 -.5 2.5 -15 2.3 -26.4 1.3 -6.6 1.7 -4.4 3 -4.3 4.5 -3.2 6 -2.1 9 -1.3 .1 -106.2 -.1 -9 -5.5 -9 -4.5 -6 -5.3 -6 -6.5 -6 -6.7 -5 -12 -6.8 -6 -2.5 -7.5 -2.4 -13.5 -2.5 -13.5 -.6z"/>
<path fill="#0000ea" stroke="#0000ea" stroke-width="0.6" fill-rule="evenodd" d="M2474.2 1665l6 -.2 7.5 .5 13.5 2.5 7.5 2.4 6 2.5 12 6.8 6.7 5 6.5 6 5.3 6 4.5 6 5.5 9 .1 9 -.1 106.2 -9 1.3 -6 2.1 -4.5 3.2 -3 4.3 -1.7 4.4 -1.3 6.6 -2.3 26.4 -2.5 15 -4.2 .5 -1.6 1 -5.9 .7 -4.5 1.4 -4.5 .3 -4.5 1.3 -6 .5 -3 1 -6 .4 -4.5 1.3 -3 .1 -3 0 6 -.2 4.5 -1.3 4.5 -.1 4.5 -1.3 4.5 -.2 6 -1.6 4.5 -.3 4.5 -1.4 4.5 -.3 3 -1.4 2.9 -.4 1.4 -7.5 1.1 -10.5 .8 -31.5 .8 -6 1.4 -4.5 1.7 -3 1.9 -2.2 4.5 -3.1 7.5 -2.4 10.5 -1.3 .1 -97.5 -.1 -5.3 -3.5 -6.7 -4.7 -7.5 -8.8 -10.5 -5.5 -5.1 -6 -4.7 -12 -6.9 -12 -4.6 -12 -2.6 -7.5 -.8 -9 -.2 0 -.6z"/>
<path fill="#0000f0" stroke="#0000f0" stroke-width="0.6" fill-rule="evenodd" d="M2474.2 1666.5l0 -.9 10.5 .3 7.5 .9 7.5 1.6 6 1.7 7.5 3 12 6.6 6 4.4 5.5 4.9 9.2 10.5 5 7.5 4.3 8.2 .1 5.3 -.1 97.5 -10.5 1.3 -7.5 2.4 -4.5 3.1 -1.9 2.2 -1.7 3 -1.4 4.5 -.8 6 -.8 31.5 -1.1 10.5 -1.4 7.5 -2.9 .4 -3 1.4 -4.5 .3 -4.5 1.4 -4.5 .3 -4.5 1.3 -6 .5 -3 1 -6 .4 -4.5 1.3 -3 .2 -3 0 6 -.2 4.5 -1.3 4.5 -.1 4.5 -1.3 4.5 -.3 6 -1.5 4.5 -.3 4.5 -1.4 5.5 -.6 2 -1.3 1.7 -.2 1.6 -10.5 .6 -10.5 -.1 -12 -1.8 -25.5 .2 -6 1.1 -4.5 1.5 -3 2.7 -3 6 -3.8 9 -3 12 -2.2 0 -84 0 -2.3 -3.6 -8.2 -7.3 -12 -4.8 -6 -4.4 -4.5 -9.9 -8.1 -10.5 -6.1 -7.5 -3.1 -6 -2 -13.5 -2.6 -13.5 -.6z"/>
<path fill="#0000f7" stroke="#0000f7" stroke-width="0.6" fill-rule="evenodd" d="M2474.2 1667.4l0 -.8 10.5 .2 7.5 .9 7.5 1.6 7.5 2.4 6 2.5 12 6.7 9.9 8.1 4.4 4.5 4.8 6 7.3 12 3.6 8.2 0 2.3 0 84 -12 2.2 -9 3 -6 3.8 -2.7 3 -1.5 3 -1.1 4.5 -.2 6 1.8 25.5 .1 12 -.6 10.5 -1.6 10.5 -1.7 .2 -2 1.3 -5.5 .6 -4.5 1.4 -4.5 .3 -4.5 1.3 -6 .5 -3 1 -6 .4 -4.5 1.3 -3 .2 -3 0 6 -.2 4.5 -1.3 4.5 -.2 4.5 -1.2 4.5 -.3 6 -1.5 4.5 -.4 4.5 -1.4 5.2 -.5 .8 -1 2 -.5 1.8 -15 -.3 -15 -1.9 -15 -4.7 -22.5 -.4 -4.5 .3 -3 1.7 -4.3 3 -3.3 6 -4.1 13.5 -7.2 5.8 -3.6 5.3 -4.5 3.9 -5.4 0 -57.2 -2 -6.4 -3.2 -7.5 -6.1 -10.5 -4.7 -6 -4.1 -4.5 -9.9 -8.3 -6 -3.9 -6 -3.1 -12 -4.5 -12 -2.5 -15 -.8z"/>
<path fill="#0000fe" stroke="#0000fe" stroke-width="0.6" fill-rule="evenodd" d="M2474.2 1668l0 -.6 10.5 .3 7.5 .9 7.5 1.7 6 1.8 7.5 3.1 6 3.1 6 3.9 9.9 8.3 4.1 4.5 4.7 6 6.1 10.5 3.2 7.5 2 6.4 0 57.2 -3.9 5.4 -5.3 4.5 -5.8 3.6 -13.5 7.2 -6 4.1 -3 3.3 -1.7 4.3 -.3 3 .4 4.5 4.7 22.5 1.9 15 .3 15 -1.8 15 -2 .5 -.8 1 -5.2 .5 -4.5 1.4 -4.5 .4 -4.5 1.3 -6 .5 -4.5 1.2 -4.5 .2 -4.5 1.3 -3 .2 -3 0 6 -.3 4.5 -1.2 4.5 -.2 4.5 -1.3 4.5 -.2 6 -1.6 4.5 -.3 4.5 -1.5 4.5 -.3 2.3 -1.6 1.2 -9 .4 -9 -.3 -9 -1.1 -9 -1.9 -9 -2.6 -9 -8 -19.5 -.7 -3 0 -3 1.2 -3 2.7 -3 4.2 -3 14.6 -8.4 6 -4 6.5 -5.6 4.9 -6 4.6 -9 2.6 -9 .9 -6.1 0 -17.5 -.9 -6.4 -1.9 -7.5 -2.7 -7.5 -2.8 -6 -3.5 -6 -4.4 -6 -4 -4.5 -5.3 -5 -10.5 -7.5 -6 -3.3 -7.5 -3.1 -7.5 -2.3 -7.5 -1.5 -7.5 -.8 -9 -.2 0 -.3z"/>
<path fill="#0000ff" stroke="#0000ff" stroke-width="0.6" fill-rule="evenodd" d="M2474.2 1669.2l0 -.9 12 .4 9 1.4 7.5 2 7.5 2.8 6 2.9 6 3.5 6.3 4.7 5 4.5 5.5 6 4.4 6 3.5 6 2.8 6 2.7 7.5 1.9 7.5 .9 6.4 0 17.5 -.9 6.1 -2.6 9 -4.6 9 -4.9 6 -6.5 5.6 -6 4 -14.6 8.4 -4.2 3 -2.7 3 -1.2 3 0 3 .7 3 8 19.5 2.6 9 1.9 9 1.1 9 .3 9 -.4 9 -1.2 9 -2.3 1.6 -4.5 .3 -4.5 1.5 -4.5 .3 -4.5 1.3 -6 .5 -4.5 1.3 -4.5 .2 -4.5 1.2 -3 .3 -3 -.1 4.5 0 6 -1.5 4.5 -.1 4.5 -1.3 4.5 -.3 4.5 -1.3 6 -.6 3 -1.2 6 -.6 1 -1.5 1.2 -9 .3 -10.5 -.9 -10.5 -2.1 -10.5 -2.3 -7.5 -3.2 -7.7 -4.5 -8.1 -9 -12.7 -1.4 -3 .1 -3 2.2 -3 4.3 -3 18.8 -9.8 7.5 -4.6 6 -4.7 4.8 -4.9 5.4 -7.5 4.1 -9 2.6 -10.5 .7 -10.5 -.5 -7.5 -1.3 -7.5 -1.6 -6 -3 -7.5 -3.1 -6 -4 -6 -4.9 -6 -5.2 -5.1 -6 -4.8 -6 -3.9 -6 -3.1 -7.5 -3.1 -7.5 -2.1 -7.5 -1.4 -15 -.8z"/>
<path fill="#0000ff" stroke="#0000ff" stroke-width="0.6" fill-rule="evenodd" d="M2474.2 1669.5l6 -.3 9 .8 7.5 1.4 7.5 2.1 7.5 3.1 6 3.1 6 3.9 6 4.8 5.2 5.1 4.9 6 4 6 3.1 6 3 7.5 1.6 6 1.3 7.5 .5 7.5 -.7 10.5 -2.6 10.5 -4.1 9 -5.4 7.5 -4.8 4.9 -6 4.7 -7.5 4.6 -18.8 9.8 -4.3 3 -2.2 3 -.1 3 1.4 3 9 12.7 4.5 8.1 3.2 7.7 2.3 7.5 2.1 10.5 .9 10.5 -.3 10.5 -1.2 9 -1 1.5 -4.5 .4 -4.5 1.4 -4.5 .4 -6 1.5 -4.5 .3 -4.5 1.3 -4.5 .1 -4.5 1.3 -3 .2 -3 0 4.5 -.1 6 -1.4 4.5 -.2 4.5 -1.2 4.5 -.3 4.5 -1.3 6 -.6 3 -1.3 5.6 -.5 1.3 -9 .3 -10.5 -1 -10.5 -2.3 -10.5 -3.8 -10.5 -4.6 -8.3 -3 -4.2 -4.5 -5 -9 -7.2 -4.5 -2.5 -4.5 -1.8 -7.5 -.5 0 -6.7 6 -.1 3 -.6 9 -3 15 -5.8 15 -7.4 10.5 -7.5 4.1 -3.9 3.8 -4.5 3 -4.5 3.1 -6 2.2 -6 1.4 -6 1 -12 -.4 -6 -1.4 -7.5 -4 -12 -3.1 -6 -4 -6 -5 -6 -5.2 -5.1 -10.5 -7.6 -6 -3.2 -7.5 -3.1 -12 -3.1 -9 -1.1 -9 -.2 0 -.6z"/>
<path fill="#0005ff" stroke="#0005ff" stroke-width="0.6" fill-rule="evenodd" d="M2474.2 1671l0 -.9 12 .4 7.5 1.1 7.5 1.9 7.5 2.8 6 2.8 6 3.6 6.4 4.8 9 9 4.4 6 3.5 6 2.7 6 2.1 6 1.6 7.5 .8 7.5 -.6 12 -1.3 6 -2 6 -2.8 6 -2.8 4.5 -3.5 4.5 -4 4.1 -9 7 -12 6.5 -10.5 4.5 -15 5.6 -6 1.7 -3 .4 -4.5 0 0 -6.2 9 -.3 7.5 -1.2 7.5 -2 9 -3.2 9 -4.1 6 -3.4 6 -4.2 5.9 -5.2 4 -4.5 3.1 -4.5 4.6 -9 2.8 -10.5 .7 -6 .1 -6 -.8 -7.5 -1.3 -6 -2 -6 -2.7 -6 -6.7 -10.5 -3.9 -4.5 -5.3 -5 -10.5 -7.5 -6 -3.1 -7.5 -2.9 -6 -1.8 -7.5 -1.4 -7.5 -.7 -7.5 -.1zM2474.2 1812l0 -1 7.5 .5 6 2.5 4.5 2.8 4.5 3.4 4.5 4.3 4.5 5.5 3.8 6 3 6 2.7 7.5 2.9 13.5 .7 7.5 0 7.5 -1.5 13.5 -5.6 .5 -3 1.3 -6 .6 -4.5 1.3 -4.5 .3 -4.5 1.2 -4.5 .2 -6 1.4 -4.5 .1 4.5 -.1 6 -1.4 4.5 -.2 4.5 -1.3 4.5 -.2 4.5 -1.4 6 -.6 3 -1.3 4.4 -.4 1.1 -7.5 .4 -7.5 -.6 -10.5 -1.9 -10.5 -3.7 -10.5 -4.8 -9 -6.9 -8.3 -7.5 -5.6 -4.5 -2.2 -4.5 -1.4 -9 -.5 0 -6z"/>
<path fill="#000dff" stroke="#000dff" stroke-width="0.6" fill-rule="evenodd" d="M2474.2 1671l7.5 .1 7.5 .7 7.5 1.4 6 1.8 7.5 2.9 6 3.1 10.5 7.5 5.3 5 3.9 4.5 6.7 10.5 2.7 6 2 6 1.3 6 .8 7.5 -.1 6 -.7 6 -2.8 10.5 -2.8 6 -2.8 4.5 -3.4 4.5 -4.3 4.5 -4.3 3.7 -6 4.2 -12 6.2 -7.5 3 -9 2.7 -7.5 1.6 -6 .6 -6 .1 0 -3.4 7.5 -.1 7.5 -.9 9 -2.1 7.5 -2.5 7.5 -3.2 6 -3.2 6 -3.9 6 -5 7.1 -8.3 2.8 -4.5 2.9 -6 2.9 -10.5 .7 -6 .1 -6 -.6 -6 -1.3 -6 -1.9 -6 -2.7 -6 -3.5 -6 -3.2 -4.5 -4 -4.5 -5.3 -5 -10.5 -7.2 -12 -5.4 -12 -3 -7.5 -.9 -9 -.1 0 -.9zM2474.2 1818l6 .1 4.5 .7 4.5 1.7 4.5 2.5 4.5 3.4 3.7 3.6 3.8 4.7 3 4.8 2.7 5.5 2.3 6 1.7 6 1.4 7.5 .8 13.5 -1.5 13.5 -4.4 .4 -3 1.3 -6 .6 -4.5 1.4 -4.5 .2 -4.5 1.3 -4.5 .2 -6 1.4 -4.5 .1 4.5 -.1 6 -1.5 4.5 -.2 4.5 -1.2 6 -.6 3 -1 6 -.6 3 -1.4 3.2 -.3 1.1 -7.5 .3 -7.5 -.7 -10.5 -2.3 -10.5 -3.3 -9 -5.3 -9 -6.5 -7.2 -7.5 -5.1 -7.5 -2.6 -9 -.5 0 -4.1z"/>
<path fill="#0015ff" stroke="#0015ff" stroke-width="0.6" fill-rule="evenodd" d="M2474.2 1672.5l0 -.6 10.5 .2 7.5 1.1 7.5 1.8 7.5 2.6 6 2.9 10.8 7 5.1 4.5 4.1 4.5 3.5 4.5 3.7 6 2.9 6 2.1 6 1.4 6 .8 6 .1 6 -.5 6 -1.2 6 -2 6 -2.9 6 -2.8 4.5 -7.1 8.3 -9 7.1 -12 6.4 -13.5 4.7 -7.5 1.7 -7.5 .9 -7.5 .1 0 -2.7 7.5 -.1 7.5 -.8 6 -1.2 9 -2.6 7.5 -3.1 7.5 -4.1 6 -4.1 5.1 -4.5 4.1 -4.5 3.3 -4.5 4.7 -9 3 -10.5 .7 -6 0 -6 -.7 -6 -1.4 -6 -2 -6 -2.9 -6 -3.7 -6 -3.6 -4.5 -8.1 -7.9 -10.5 -7.1 -12 -5.1 -12 -2.8 -15 -1.1zM2474.2 1822.5l0 -.4 4.5 0 4.5 .5 4.5 1.3 4.5 2.1 7.5 5.7 3.9 4.3 3.6 5.2 2.8 5.3 2.4 6 3 12 .9 13.5 -.5 7.5 -.9 6 -3.2 .3 -3 1.4 -6 .6 -3 1 -6 .6 -4.5 1.2 -4.5 .2 -6 1.5 -4.5 0 4.5 -.1 6 -1.4 4.5 -.2 4.5 -1.3 4.5 -.2 4.5 -1.4 6 -.6 1.5 -1.1 3.5 -.5 .9 -6 .4 -7.5 -.6 -10.5 -2.3 -10.5 -3.5 -9 -4.4 -7.5 -6 -6.8 -6 -4.4 -4.5 -2.1 -4.5 -1.3 -9 -.5 0 -2.9z"/>
<path fill="#001dff" stroke="#001dff" stroke-width="0.6" fill-rule="evenodd" d="M2474.2 1673.6l0 -.9 10.5 .3 7.5 1.1 7.5 1.8 12 4.8 10.7 6.8 5.2 4.5 4.2 4.5 3.6 4.5 3.7 6 4.5 10.5 1.5 6 .8 6 .2 6 -.5 6 -2.6 10.5 -1.9 4.5 -3.4 6 -3.3 4.5 -4.1 4.5 -9.6 7.7 -6 3.5 -6 2.8 -13.5 4.4 -12 1.9 -9 .2 0 -2.2 9 -.2 7.5 -.9 7.5 -1.7 7.5 -2.5 7.5 -3.3 6 -3.5 6 -4.3 4.5 -4.2 6.7 -8.2 2.6 -4.5 2.6 -6 2.6 -10.5 .3 -10.5 -.8 -6 -1.5 -6 -4.4 -10.5 -3.8 -6 -3.6 -4.5 -8.2 -7.9 -10.5 -6.8 -6 -2.8 -6 -2.2 -12 -2.6 -13.5 -.6zM2474.2 1825.5l9 .4 4.5 1.3 4.5 2.1 4.5 3.1 3 2.8 3.4 3.8 3.1 4.5 4.9 10.5 3 12 .8 7.5 .1 6 -1.3 12 -3.5 .5 -1.5 1.1 -6 .6 -4.5 1.4 -4.5 .2 -4.5 1.3 -4.5 .2 -6 1.4 -4.5 .1 4.5 -.1 6 -1.4 4.5 -.2 4.5 -1.3 4.5 -.3 4.5 -1.4 6 -.6 1.5 -1.1 2.3 -.4 1 -7.5 .3 -6 -.8 -10.5 -2.1 -9 -3.5 -9 -4.7 -7.6 -4.5 -5 -6 -4.6 -4.5 -2.1 -4.5 -1.3 -9 -.5 0 -2.9z"/>
<path fill="#0026ff" stroke="#0026ff" stroke-width="0.6" fill-rule="evenodd" d="M2474.2 1674l0 -.4 4.5 0 7.5 .5 6 .9 7.5 1.8 6 2.2 6 2.8 10.5 6.8 8.2 7.9 3.6 4.5 3.8 6 4.4 10.5 1.5 6 .8 6 .1 6 -.6 6 -2.9 10.5 -4.7 9 -3.3 4.5 -4.2 4.5 -3.7 3.4 -6 4.3 -10.5 5.6 -12 4.1 -7.5 1.5 -6 .7 -9 .2 0 -2 7.5 -.1 7.5 -.7 7.5 -1.6 7.5 -2.3 7.5 -3.2 6 -3.4 6 -4.3 5.6 -5.2 3.8 -4.5 3 -4.5 4.3 -9 2.4 -10.5 .2 -10.5 -2.1 -10.5 -4.4 -10.5 -2.8 -4.5 -4 -5.2 -8.6 -8.3 -4.9 -3.5 -6 -3.4 -10.5 -4.3 -10.5 -2.4 -7.5 -.8 -7.5 -.1 0 -.5zM2474.2 1828.5l4.5 -.1 4.5 .5 4.5 1.3 4.5 2.1 4.5 3.3 3 2.8 6 8 2.4 4.6 2.4 6 2.5 10.5 .8 12 -1.3 12 -2.3 .4 -1.5 1.1 -6 .6 -4.5 1.4 -4.5 .3 -4.5 1.3 -4.5 .2 -6 1.4 -4.5 .1 4.5 -.1 4.5 -1.2 6 -.5 4.5 -1.3 4.5 -.2 4.5 -1.5 5.7 -.5 1.8 -1.3 1.1 -.2 .9 -6 .3 -7.5 -.9 -10.5 -2.3 -9 -3.6 -8.4 -4.3 -6.6 -4.7 -5 -6 -4.2 -7.5 -2.7 -9 -.5 0 -2.6z"/>
<path fill="#002fff" stroke="#002fff" stroke-width="0.6" fill-rule="evenodd" d="M2474.2 1675.4l0 -.9 9 .2 7.5 .9 6 1.3 12 4.4 10.5 6.3 9 8 3.3 3.9 4.1 6 2.4 4.5 2.4 6 2.4 10.5 .2 10.5 -2.1 10.5 -1.7 4.5 -3.1 6 -6.4 8.5 -7.5 6.8 -10.5 6.6 -12 4.7 -6 1.6 -7.5 1.2 -12 .4 0 -1.8 7.5 0 7.5 -.8 7.5 -1.6 7.5 -2.4 7.5 -3.3 6 -3.5 5.9 -4.4 4.7 -4.5 3.8 -4.5 2.9 -4.5 4.2 -9 2.3 -10.5 0 -10.5 -2.4 -10.5 -2.4 -6 -2.4 -4.5 -6.7 -9 -8.4 -7.7 -10.5 -6.4 -10.5 -4.1 -12 -2.5 -12 -.4zM2474.2 1831.5l0 -.4 7.5 .2 4.5 1.1 4.5 1.9 4.5 3 3 2.6 6 7.6 4.6 9.5 2.8 10.5 .9 12 -1.2 12 -1.1 .2 -1.8 1.3 -5.7 .5 -4.5 1.5 -4.5 .2 -4.5 1.3 -6 .5 -4.5 1.2 -4.5 0 4.5 -.1 4.5 -1.2 6 -.4 4.5 -1.3 4.5 -.3 4.5 -1.4 5.3 -.5 .7 -.9 1.3 -.6 1.2 -12 -.6 -9 -1.9 -9 -3 -7.7 -4.5 -7.4 -4.5 -5.1 -6 -4.4 -7.5 -2.8 -9 -.5 0 -2.1z"/>
<path fill="#0039ff" stroke="#0039ff" stroke-width="0.6" fill-rule="evenodd" d="M2474.2 1675.5l12 .3 12 2.5 10.5 4.1 10.5 6.4 8.4 7.7 6.7 9 2.4 4.5 2.4 6 2.4 10.5 0 10.5 -2.3 10.5 -4.2 9 -2.9 4.5 -3.9 4.6 -4.5 4.3 -4.5 3.5 -10.5 6 -12 4.2 -12 2.2 -10.5 .2 0 -1.6 9 -.2 7.5 -.9 7.5 -1.8 6 -2 6 -2.7 7.5 -4.4 5.1 -3.9 4.7 -4.5 3.6 -4.5 3 -4.5 4 -9 1.9 -9 .1 -10.5 -2.2 -10.5 -4 -9 -6.3 -9 -8.4 -8 -9 -5.8 -10.5 -4.5 -10.5 -2.5 -7.5 -.8 -7.5 -.1 0 -.8zM2474.2 1834.5l0 -.9 7.5 .2 4.5 1.1 4.5 2 4.5 3.1 3 2.8 3.1 3.7 2.9 4.4 2.3 4.6 2.2 6 1.4 6 .9 6 .2 7.5 -.7 7.5 -.5 3 -1.3 .6 -.7 .9 -5.3 .5 -4.5 1.4 -4.5 .3 -4.5 1.3 -6 .4 -4.5 1.2 -4.5 .1 4.5 -.1 4.5 -1.2 6 -.5 4.5 -1.3 4.5 -.2 4.5 -1.5 4.9 -.4 1.1 -1.5 .3 -1.5 .9 -10.5 -.7 -9 -2.1 -9 -3.2 -7.5 -4.2 -6.5 -4.5 -4.8 -6 -4 -4.5 -1.8 -3 -.6 -7.5 -.3 0 -1.5z"/>
<path fill="#0043ff" stroke="#0043ff" stroke-width="0.6" fill-rule="evenodd" d="M2474.2 1677l0 -.7 9 .2 7.5 .9 6 1.4 10.5 3.9 10.6 6.3 8.4 7.5 6.8 9 2.4 4.5 2.5 6 2.2 10.5 -.1 10.5 -.7 4.5 -1.7 6 -4.4 9 -6.5 8.3 -4.5 4.2 -4.5 3.4 -9 5.2 -10.5 3.9 -12 2.4 -12 .5 0 -1.6 7.5 -.1 7.5 -.8 6 -1.2 7.5 -2.3 7.5 -3.3 6 -3.6 5.9 -4.5 4.6 -4.5 5.6 -7.5 4.2 -9 2.1 -9 .2 -10.5 -2.2 -10.5 -4 -9 -6.4 -9 -8.5 -7.9 -9 -5.6 -10.5 -4.3 -10.5 -2.4 -13.5 -.8zM2474.2 1837.5l0 -1.5 6 .1 4.5 .8 4.5 1.8 4.5 2.8 3 2.6 3 3.4 3 4.3 4.4 9.7 2.3 10.5 .5 6 -.3 7.5 -.9 6 -1.1 1.5 -4.9 .4 -4.5 1.5 -4.5 .2 -4.5 1.3 -6 .5 -4.5 1.2 -4.5 .1 4.5 -.2 4.5 -1.2 6 -.4 4.5 -1.3 4.5 -.3 3 -1.2 5.9 -.6 1.1 -6 .4 -7.5 -.8 -9 -1.8 -7.5 -3.3 -7.8 -4.5 -6.6 -4.5 -4.5 -6 -3.7 -6 -1.8 -7.5 -.2 0 -.9z"/>
<path fill="#004eff" stroke="#004eff" stroke-width="0.6" fill-rule="evenodd" d="M2474.2 1678.1l0 -.9 7.5 .1 6 .5 7.5 1.5 6 1.9 6 2.5 9 5.3 8.6 7.5 6.9 9 4.4 9 1.8 6 .7 4.5 .3 9 -.8 6 -1.1 4.5 -3.9 9 -2.8 4.5 -3.6 4.5 -8.3 7.5 -9.7 5.8 -10.5 4.1 -12 2.5 -12 .4 0 -1.5 7.5 -.1 7.5 -.8 7.5 -1.6 6 -2 7.5 -3.4 5.6 -3.4 5.8 -4.5 4.4 -4.5 5.4 -7.5 4.1 -9 1.9 -9 .3 -4.5 -.3 -6 -1.2 -6 -1.4 -4.5 -4.4 -9 -6.7 -8.7 -7.5 -6.6 -9 -5.4 -10.5 -4.1 -10.5 -2.1 -12 -.5zM2474.2 1839l0 -.6 7.5 .2 4.5 1.2 3 1.4 6 4.2 3 3.2 3 4.1 4.3 8.8 2.6 10.5 .5 10.5 -1.5 10.5 -5.9 .6 -3 1.2 -4.5 .3 -4.5 1.3 -6 .4 -4.5 1.2 -4.5 .1 4.5 -.1 4.5 -1.2 6 -.5 3 -1.1 6 -.4 3 -1.4 4.6 -.4 1.1 -6 .4 -6 -.7 -9 -1.7 -7.5 -3.2 -7.5 -3.5 -5.5 -4.5 -4.8 -4.5 -3.1 -3 -1.4 -4.5 -1.2 -7.5 -.3 0 -1.7z"/>
<path fill="#0059ff" stroke="#0059ff" stroke-width="0.6" fill-rule="evenodd" d="M2474.2 1678.5l0 -.4 10.5 .3 12 2.3 10.5 4.1 9 5.4 7.5 6.6 6.7 8.7 4.4 9 1.4 4.5 1.2 6 .3 6 -.3 4.5 -1.9 9 -4.1 9 -6.2 8.4 -7.5 6.7 -4.5 3.1 -6 3.2 -10.5 3.9 -10.5 2.1 -12 .4 0 -1.4 7.5 -.1 7.5 -.8 7.5 -1.7 6 -2 6 -2.7 6 -3.6 4.6 -3.5 4.7 -4.5 5.7 -7.5 4.3 -9 2.1 -9 .3 -4.5 -.3 -6 -2 -9 -4.1 -9 -6.3 -8.6 -7.5 -6.9 -9 -5.7 -9 -3.7 -10.5 -2.4 -13.5 -.7 0 -.5zM2474.2 1842l0 -1.3 6 .1 4.5 .9 3 1.1 6 3.9 3 3 3.3 4.3 4.2 8.5 2.4 9.5 .6 10.5 -1.4 10.5 -4.6 .4 -3 1.4 -6 .4 -3 1.1 -6 .5 -4.5 1.2 -4.5 .1 4.5 -.2 4.5 -1.2 6 -.5 3 -1 6 -.5 3 -1.4 3.2 -.3 1.1 -6 .4 -6 -.5 -7.5 -1.7 -7.5 -3.1 -7.5 -3.9 -5.9 -4.5 -4.5 -4.5 -2.9 -6 -1.9 -7.5 -.3 0 -1z"/>
<path fill="#0065ff" stroke="#0065ff" stroke-width="0.6" fill-rule="evenodd" d="M2474.2 1679.9l0 -.9 7.5 .1 6 .6 7.5 1.5 10.5 3.9 9.2 5.4 8.5 7.5 5.7 7.5 4.5 9 1.4 4.5 1.1 6 .3 6 -.3 4.5 -2.1 9 -4.3 9 -5.7 7.5 -7.8 7 -9 5.3 -10.5 4 -10.5 2.1 -12 .5 0 -1.4 7.5 -.1 7.5 -.8 6 -1.3 7.5 -2.5 6 -2.8 6 -3.7 4.5 -3.6 4.3 -4.2 5.5 -7.5 4 -9 1.9 -9 -.1 -9 -2 -9 -4.1 -9 -6.5 -8.7 -7.5 -6.7 -9 -5.4 -10.5 -4 -10.5 -2 -10.5 -.3zM2474.2 1843.5l0 -.5 6 .1 4.5 .9 3 1.2 6.1 4.3 2.9 3.1 3 4.2 3.5 7.7 2.2 9 .4 10.5 -1.4 9 -3.2 .3 -3 1.4 -6 .5 -3 1 -6 .5 -4.5 1.2 -4.5 .1 4.5 -.1 4.5 -1.3 6 -.4 3 -1.1 6 -.5 1.5 -1 3.3 -.6 1.1 -6 .4 -6 -.6 -7.5 -1.8 -7.5 -2.6 -6 -4 -6 -3.3 -3.3 -4.5 -3 -6 -2.1 -7.5 -.3 0 -1.8z"/>
<path fill="#0072ff" stroke="#0072ff" stroke-width="0.6" fill-rule="evenodd" d="M2474.2 1680l10.5 .2 10.5 2 10.5 4 9 5.4 7.5 6.7 6.5 8.7 4.1 9 2 9 .1 9 -1.9 9 -4 9 -5.5 7.5 -7.3 6.7 -9 5.6 -10.5 4.1 -10.5 2.1 -12 .5 0 -1.3 13.5 -.7 7.5 -1.6 6 -2 6 -2.7 6 -3.6 4.5 -3.4 4.5 -4.4 5.2 -6.8 4.2 -9 2 -9 0 -9 -2 -9 -4.2 -9 -5.5 -7.5 -7.2 -6.6 -9 -5.7 -9 -3.6 -10.5 -2.3 -12 -.5 0 -.8zM2474.2 1846.5l0 -1.2 4.5 0 4.5 .6 3 1.1 6.3 4 3 3 2.7 3.8 3.9 8.2 2 9 .3 9 -1.4 9 -3.3 .6 -1.5 1 -6 .5 -3 1.1 -6 .4 -4.5 1.3 -4.5 .1 4.5 -.2 4.5 -1.2 6 -.5 3 -1.1 6 -.4 1.5 -1.3 1.8 -.3 1.2 -6 .3 -6 -.6 -7.5 -1.5 -6 -2.6 -6 -3.1 -4.8 -4.5 -4.5 -4.5 -2.8 -6 -1.7 -6 -.1 0 -1.1z"/>
<path fill="#007fff" stroke="#007fff" stroke-width="0.6" fill-rule="evenodd" d="M2474.2 1681.5l0 -.7 7.5 .1 12 1.9 10.5 3.7 9.3 5.5 8.4 7.5 5.5 7.5 4.2 9 2 9 0 9 -2 9 -4.2 9 -5.2 6.8 -7.5 6.8 -9 5.4 -10.5 3.9 -9 1.8 -12 .5 0 -1.4 13.5 -.7 7.5 -1.6 6 -2 6 -2.8 6 -3.7 4.9 -4 4.1 -4.2 5.3 -7.8 3.2 -7.5 1.7 -9 -.3 -9 -2.3 -9 -3.7 -7.5 -5.7 -7.5 -7.2 -6.5 -9 -5.4 -9 -3.4 -9 -1.9 -12 -.8zM2474.2 1848l0 -.4 7.5 .3 6 2.2 5.1 3.9 4.7 6 3.4 7.5 1.8 8.4 .2 8.1 -1.4 9 -1.8 .3 -1.5 1.3 -6 .4 -3 1.1 -6 .5 -4.5 1.2 -4.5 .1 4.5 -.1 3 -1.1 7.5 -.6 3 -1.2 6 -.4 1.7 -1.5 .4 -1.5 .8 -4.5 .4 -6 -.5 -6 -1.4 -6 -2.5 -6 -3.4 -5.1 -3 -3 -4.5 -3 -6 -1.8 -6 -.1 0 -2z"/>
<path fill="#008cff" stroke="#008cff" stroke-width="0.6" fill-rule="evenodd" d="M2474.2 1682.7l0 -.9 7.5 .1 6 .6 6 1.3 9 3.1 9.1 5.1 7.2 6 6.2 7.5 4.6 9 2.3 9 .3 9 -1.7 9 -4 9 -5.6 7.5 -6.6 6 -8.8 5.5 -10.5 4 -9 1.8 -12 .5 0 -1.3 7.5 -.1 6 -.6 6 -1.2 6 -1.9 6 -2.7 6 -3.6 4.5 -3.5 4.5 -4.5 5.3 -7.4 3.3 -7.5 1.8 -9 -.2 -9 -2.4 -9 -3.7 -7.5 -5.8 -7.5 -7.3 -6.3 -9 -5.2 -9 -3.2 -9 -1.7 -10.5 -.4zM2474.2 1851l0 -1 6 .1 6 1.8 3 1.8 3 2.6 4.5 6 3.3 8.2 1.4 9 -.1 6 -.7 4.5 -.7 3 -1.7 1.5 -6 .4 -3 1.2 -7.5 .6 -3 1.1 -4.5 .1 4.5 -.2 3 -1.1 7.4 -.6 1.6 -.9 6.6 -.6 .9 -1.5 1.1 -4.5 .6 -7.5 -.6 -6 -1.6 -6 -2.5 -5.5 -3 -4.2 -3 -2.8 -4.5 -2.7 -4.5 -1.2 -6 -.2 0 -1.4z"/>
<path fill="#009bff" stroke="#009bff" stroke-width="0.6" fill-rule="evenodd" d="M2474.2 1683l9 -.1 10.5 1.9 9 3.2 9 5.2 7.3 6.3 5.8 7.5 3.7 7.5 2.4 9 .2 9 -1.8 9 -3.3 7.5 -5.4 7.5 -7.4 6.8 -7.5 4.7 -9 3.7 -10.5 2.3 -12 .5 0 -1.2 7.5 -.1 6 -.7 6 -1.3 6 -1.9 6 -2.8 6 -3.7 4.5 -3.7 4 -4.1 5.1 -7.5 3 -7.5 1.5 -7.5 -.2 -9 -2.4 -9 -3.8 -7.5 -5.7 -7.3 -6 -5.2 -7.5 -4.7 -9 -3.6 -10.5 -2.2 -10.5 -.3 0 -.7zM2474.2 1852.5l6 .1 6 1.9 5.2 4 4.3 6 2.9 7.5 1.2 7.5 -.5 9 -1.1 4.5 -.9 1.5 -6.6 .6 -1.6 .9 -7.4 .6 -3 1.1 -4.5 .1 4.5 -.1 3 -1.2 6 -.3 3 -1.3 5.2 -.4 1.6 -6 .6 -6 -.4 -6 -1 -4.5 -1.6 -4.5 -2.9 -4.8 -3 -3.3 -4.5 -2.9 -4.5 -1.4 -6 -.1 0 -2.5z"/>
<path fill="#00aaff" stroke="#00aaff" stroke-width="0.6" fill-rule="evenodd" d="M2474.2 1684.5l0 -.8 7.5 .1 10.5 1.6 9 3 9.1 5.1 7.2 6 5.9 7.5 3.8 7.5 2.4 9 .2 9 -1.5 7.5 -3 7.5 -5.1 7.5 -7 6.7 -7.5 4.8 -9 3.8 -9 2.2 -6 .7 -7.5 .1 0 -1.3 7.5 -.1 6 -.7 6 -1.3 6 -2 6 -2.8 4.5 -2.9 5.3 -4.2 4.2 -4.5 4.8 -7.5 2.9 -7.5 1.2 -7.5 -.3 -7.5 -2.3 -9 -3.9 -7.5 -4.7 -6 -7.2 -6.3 -7.5 -4.5 -9 -3.4 -9 -1.8 -10.5 -.5zM2474.2 1855.5l0 -.5 6 .1 5.5 1.9 5 3.9 3.6 5.1 2.4 6 1.4 7.5 -.3 7.5 -1.9 7.5 -5.2 .4 -3 1.3 -6 .3 -3 1.2 -4.5 .1 4.5 -.2 3 -1.2 6 -.3 3 -1.4 3.1 -.2 1.9 -6 .6 -6 -.3 -4.5 -.9 -4.5 -1.6 -4.5 -2.8 -4.5 -3 -3.2 -4.5 -2.6 -3 -.8 -6 -.2 0 -2.2z"/>
<path fill="#00baff" stroke="#00baff" stroke-width="0.6" fill-rule="evenodd" d="M2474.2 1685.7l0 -1 6 0 6 .5 6 1.2 9 3.1 9 5.2 7.2 6.3 4.7 6 3.9 7.5 2.3 9 .2 9 -1.5 7.5 -3.3 7.5 -4.5 6.6 -6 5.9 -7.5 5.1 -9 3.9 -9 2.2 -6 .7 -7.5 .1 0 -1.3 7.5 -.1 6 -.7 6 -1.3 6 -2.1 6 -2.9 4.5 -3 4.5 -3.7 3.2 -3.4 4.3 -6 3.4 -7.5 1.6 -7.5 -.2 -9 -1.8 -7.5 -3.5 -7.5 -5.8 -7.5 -7.1 -6 -7.6 -4.3 -9 -3.3 -9 -1.5 -9 -.2zM2474.2 1858.5l0 -.8 4.5 0 3 .5 3 1.1 4.5 3.4 3.5 4.8 2.4 6 1.2 7.5 -.6 7.5 -1.9 6 -3.1 .2 -3 1.4 -6 .3 -3 1.2 -4.5 .1 4.5 -.2 1.5 -1 1.5 -.2 6.4 -.3 1.1 -1.2 2.3 -.3 2.1 -6 .6 -6 -.3 -4.5 -1 -4.5 -2 -4.5 -1.7 -2.5 -3 -3 -3 -1.8 -3 -.9 -6 -.1 0 -2.2z"/>
<path fill="#00caff" stroke="#00caff" stroke-width="0.6" fill-rule="evenodd" d="M2474.2 1686l0 -.3 9 .2 9 1.5 9 3.3 7.6 4.3 7.1 6 5.8 7.5 3.5 7.5 1.8 7.5 .2 9 -1.6 7.5 -3.4 7.5 -4.5 6.3 -6 5.7 -7.5 4.9 -9 3.7 -9 2.1 -12 .5 0 -1.2 12 -.6 6 -1.2 6 -2 6 -2.8 4.5 -2.8 4.5 -3.6 4.2 -4.5 4.1 -6 3.1 -7.5 1.4 -7.5 -.2 -7.5 -1.9 -7.5 -3.6 -7.5 -5.6 -7.1 -6 -5.1 -7.5 -4.5 -7.5 -2.9 -9 -1.8 -10.5 -.4 0 -.7zM2474.2 1861.5l0 -.8 4.5 0 4.5 1 4.5 3.2 3.9 5.6 2.1 6 .5 6 -.6 6 -2.1 6 -2.3 .3 -1.5 1.3 -6 .2 -1.5 .2 -1.5 1 -4.5 .1 3.9 -.1 2.1 -1.2 7.4 -.3 3.2 -6 1.1 -7.5 -1.1 -7.5 -3.2 -6 -2.9 -2.8 -3 -1.6 -3 -.6 -4.5 0 0 -2.5z"/>
<path fill="#00dcff" stroke="#00dcff" stroke-width="0.6" fill-rule="evenodd" d="M2474.2 1687.5l0 -.8 7.5 .1 10.5 1.7 9 3.3 7.5 4.5 6 5.1 5.6 7.1 3.6 7.5 1.9 7.5 0 9 -1.7 7.5 -3.5 7.5 -4.4 5.9 -6 5.6 -7.5 4.7 -7.5 3.1 -9 2.1 -12 .6 0 -1.3 12 -.6 6 -1.2 6 -2 9.1 -4.9 4.4 -3.4 4 -4.1 4.3 -6 3.2 -7.5 1.5 -7.5 -.3 -7.5 -1.8 -7.5 -3.8 -7.5 -4.7 -6 -6.9 -6 -7.5 -4.2 -7.5 -2.7 -7.5 -1.5 -10.5 -.6zM2474.2 1864.5l0 -.5 4.5 0 4.5 1.2 4.4 3.8 2.6 4.5 1.6 6 0 6 -1.6 6 -2.6 4.5 -7.4 .3 -2.1 1.2 -3.9 .1 3 -.2 1.5 -1.1 4.2 -.3 1.8 -1.4 3 -4.6 1 -3 .5 -4.5 -1 -6 -2.4 -4.5 -1.3 -1.5 -2.8 -1.9 -3 -.8 -4.5 0 0 -3.3z"/>
<path fill="#07eef0" stroke="#07eef0" stroke-width="0.6" fill-rule="evenodd" d="M2474.2 1688.7l0 -1 6 0 10.5 1.5 9 3.1 7.5 4.2 6.9 6 4.7 6 3.8 7.5 1.8 7.5 .3 7.5 -1.5 7.5 -3.2 7.5 -4.3 6 -5.5 5.3 -7.5 5 -7.5 3.2 -9 2.1 -12 .6 0 -1.3 12 -.6 10.5 -2.7 6 -2.8 4.5 -2.9 4.5 -3.7 3.5 -3.7 4 -6 2.6 -6 1.5 -7.5 -.2 -7.5 -1.9 -7.5 -2.9 -6 -5.1 -6.8 -6 -5.3 -7.5 -4.4 -7.5 -2.8 -9 -1.7 -9 -.3zM2474.2 1869l0 -1.2 4.5 0 4.5 1.6 2.6 2.6 1.8 3 1.5 6 -.4 6 -1 3 -1.5 2.8 -3.3 3.2 -4.2 .3 -1.5 1.1 -3 0 0 -4.8 6 -.4 3 -2.2 2 -4.5 .2 -4.5 -1.6 -4.5 -2.1 -2.4 -3 -1.2 -4.5 0 0 -3.9z"/>
<path fill="#16ffe1" stroke="#16ffe1" stroke-width="0.6" fill-rule="evenodd" d="M2474.2 1689l9 0 9 1.7 7.5 2.8 7.5 4.4 6 5.3 5.1 6.8 2.9 6 1.9 7.5 .2 7.5 -1.5 7.5 -2.6 6 -4.5 6.6 -5.6 5.4 -6.4 4.3 -7.5 3.3 -9 2.2 -12 .6 0 -1.2 12 -.7 10.5 -2.8 9 -4.8 4.5 -3.6 3.2 -3.3 4.3 -6 2.6 -6 1.6 -7.5 -.1 -7.5 -2 -7.5 -2.9 -6 -4.6 -6 -6.6 -5.7 -6 -3.6 -7.5 -2.9 -9 -1.7 -9 -.3 0 -.8zM2474.2 1873.5l0 -.6 6 .4 3 2.3 1.5 2.6 .8 4.3 -.7 4.5 -1.6 3 -3 2.2 -6 .4 0 -19.1z"/>
<path fill="#26ffd0" stroke="#26ffd0" stroke-width="0.6" fill-rule="evenodd" d="M2474.2 1690.5l0 -.7 6 .1 9 1.1 9 3 7.1 4 5.5 4.5 5.1 6 3.3 6 2.3 7.5 .5 7.5 -.8 6 -2.7 7.5 -3.8 6 -5.9 6 -6.1 4.3 -7.5 3.4 -9 2.3 -12 .7 0 -1.3 12 -.7 6 -1.4 4.5 -1.5 4.5 -2.2 4.5 -2.9 4.4 -3.7 3.1 -3.4 3.7 -5.6 2.9 -7.5 .8 -6 -.4 -7.5 -2.4 -7.5 -3.4 -6 -4.2 -4.9 -6 -4.9 -6 -3.4 -7.5 -2.7 -6 -1.2 -10.5 -.5 0 -.4z"/>
<path fill="#38ffbf" stroke="#38ffbf" stroke-width="0.6" fill-rule="evenodd" d="M2474.2 1692l0 -1.1 4.5 0 10.5 1.3 7.5 2.4 7.5 4.1 6 4.9 4.2 4.9 3.4 6 2.4 7.5 .4 7.5 -.8 6 -2.9 7.5 -4 6 -5.7 5.6 -6 4 -7.5 3.3 -7.5 1.8 -12 .7 0 -1.3 10.5 -.5 6 -1.2 4.5 -1.5 4.5 -2 4.7 -2.9 4.3 -3.5 3.6 -4 3.8 -6 2.2 -6 .9 -6 -.4 -7.5 -1.8 -6 -3.2 -6 -5 -6 -5.5 -4.5 -6.6 -3.6 -7.5 -2.5 -6 -1.1 -9 -.3z"/>
<path fill="#49ffad" stroke="#49ffad" stroke-width="0.6" fill-rule="evenodd" d="M2474.2 1693.2l0 -1.1 7.5 .1 6 .8 7.5 2.3 7.5 3.8 6 4.8 4.5 5.2 3.8 6.9 1.8 6 .4 7.5 -.9 6 -2.2 6 -3.8 6 -5.1 5.3 -6 4.2 -6 2.9 -7.5 2.2 -6 .9 -7.5 .1 0 -1.3 9 -.3 9 -1.9 7.5 -3.3 7.5 -5.4 5.5 -6.4 3.6 -7.5 1.5 -7.5 -.5 -7.5 -1.8 -6 -3.3 -6 -3.7 -4.5 -5.8 -4.9 -6 -3.4 -7.5 -2.6 -7.5 -1.2 -7.5 -.2z"/>
<path fill="#5cff9b" stroke="#5cff9b" stroke-width="0.6" fill-rule="evenodd" d="M2474.2 1693.5l7.5 -.1 7.5 1.2 7.5 2.6 6 3.4 5.8 4.9 3.7 4.5 3.3 6 1.8 6 .5 7.5 -1 6 -2.4 6 -3.9 6 -4.8 4.7 -6 4.1 -6 2.7 -7.5 2.1 -6 .6 -6 .1 0 -1.4 9 -.3 7.5 -1.5 7.5 -3.1 7.5 -5.1 5.2 -5.9 3.9 -7.5 1.5 -7.5 -.5 -7.5 -1.8 -6 -3.4 -6 -3.9 -4.5 -5.5 -4.4 -4.5 -2.5 -6 -2.4 -7.5 -1.5 -9 -.3 0 -.9z"/>
<path fill="#70ff87" stroke="#70ff87" stroke-width="0.6" fill-rule="evenodd" d="M2474.2 1695l0 -.6 6 .1 7.5 1 7.5 2.4 6 3.2 5.5 4.4 3.9 4.5 3.4 6 1.8 6 .6 6 -.8 6 -2.1 6 -3.7 6 -4.3 4.5 -5.8 4.2 -6 2.9 -7.5 2.1 -6 .7 -6 0 0 -1.4 9 -.3 7.5 -1.6 7.5 -3.2 6.8 -4.9 5.1 -6 3.1 -6 1.6 -7.5 -.5 -7.5 -1.9 -6 -2.5 -4.5 -4.2 -5 -4.8 -4 -5.7 -3.2 -6 -2.2 -7.5 -1.3 -7.5 -.1 0 -.7z"/>
<path fill="#84ff72" stroke="#84ff72" stroke-width="0.6" fill-rule="evenodd" d="M2474.2 1696.5l0 -.8 6 0 6 .7 7.5 2.2 6 3.1 5 3.8 4.1 4.5 3.6 6 1.9 6 .6 6 -.8 6 -2.2 6 -3.2 5 -4.5 4.7 -5.3 3.8 -6.3 3 -6.4 1.8 -6 .7 -6 0 0 -1.4 9 -.3 7.5 -1.7 7.5 -3.4 6 -4.5 5 -6.2 2.8 -6 1.2 -6 -.5 -7.5 -2 -6 -2.6 -4.5 -3.9 -4.5 -4.5 -3.7 -4.5 -2.5 -6 -2.3 -7.5 -1.4 -7.5 -.2 0 -.4z"/>
<path fill="#9aff5d" stroke="#9aff5d" stroke-width="0.6" fill-rule="evenodd" d="M2474.2 1698l0 -1.1 6 .1 6 .7 6 1.8 6.2 3 5.8 4.5 3.9 4.5 2.6 4.5 2 6 .6 6 -.9 6 -2.2 5.8 -3 4.6 -4.5 4.6 -4.5 3.2 -6 2.9 -6 1.7 -6 .7 -6 .1 0 -1.5 7.5 -.1 7.5 -1.5 7.5 -3.2 6 -4.3 4.6 -5.5 3 -6 1.3 -6 -.5 -7.5 -2.1 -6 -2.7 -4.5 -3.6 -4 -4.5 -3.5 -4.5 -2.4 -6 -2.1 -6 -1.1 -7.5 -.4z"/>
<path fill="#b1ff46" stroke="#b1ff46" stroke-width="0.6" fill-rule="evenodd" d="M2474.2 1699.5l0 -1.2 10.5 .5 7.5 2.1 5.9 3.1 4.6 3.5 3.6 4 2.7 4.5 2.1 6 .6 6 -.6 4.5 -2 6 -2.8 4.5 -3.6 4 -4.6 3.5 -5.9 3 -6 1.8 -6 .8 -6 0 0 -1.5 7.5 -.2 7.5 -1.5 6 -2.5 6.2 -4.4 3.9 -4.5 3.2 -6 1.4 -6 -.5 -7.5 -1.5 -4.5 -2.5 -4.5 -3.9 -4.5 -4.8 -3.7 -4.5 -2.3 -6 -1.9 -4.5 -.7 -7.5 -.4z"/>
<path fill="#c9ff2e" stroke="#c9ff2e" stroke-width="0.6" fill-rule="evenodd" d="M2474.2 1701l0 -1.3 10.5 .6 6 1.6 6 2.9 4.8 3.7 3.9 4.5 2.5 4.5 1.5 4.5 .6 6 -.6 4.5 -1.5 4.5 -2.6 4.5 -3.9 4.5 -4.7 3.5 -4.5 2.3 -6 1.9 -6 .9 -6 0 0 -1.6 7.5 -.1 7.5 -1.7 6 -2.7 5.3 -4 3.8 -4.5 2.9 -6 1 -6 -.6 -6 -1.5 -4.5 -2.7 -4.5 -3.7 -4 -4.5 -3.3 -4.5 -2.2 -4.5 -1.4 -4.5 -.8 -7.5 -.3z"/>
<path fill="#e2ff15" stroke="#e2ff15" stroke-width="0.6" fill-rule="evenodd" d="M2474.2 1702.5l0 -1.3 9 .3 6 1.5 6 2.7 4.5 3.3 3.7 4 2.7 4.5 1.5 4.5 .6 4.5 -.3 4.5 -1.3 4.5 -2.4 4.6 -3.7 4.4 -3.8 3 -4.5 2.5 -6 2.1 -6 .9 -6 0 0 -1.6 7.5 -.2 6 -1.3 6 -2.5 5.8 -4.4 3.6 -4.5 2.5 -6 .7 -4.5 -.6 -6 -1.6 -4.5 -2.9 -4.5 -3 -3.1 -4.1 -2.9 -4.9 -2.3 -4.5 -1.3 -10.5 -.9z"/>
<path fill="#fcef00" stroke="#fcef00" stroke-width="0.6" fill-rule="evenodd" d="M2474.2 1704l0 -1.3 9 .4 6 1.6 4.5 2.1 4.5 3.1 3 3.1 2.9 4.5 1.6 4.5 .6 4.5 -.3 4.5 -1.4 4.5 -2.6 4.5 -2.5 3 -4.3 3.4 -4.5 2.4 -4.5 1.6 -6 .9 -6 .1 0 -1.8 6 -.1 6 -1 6 -2.4 4.5 -3.1 4.1 -4.5 2.3 -4.5 1.3 -6 -.7 -6 -1.8 -4.5 -1.9 -3 -2.8 -3 -4 -3 -4 -2 -4.5 -1.4 -4.5 -.7 -6 0 0 -.4z"/>
<path fill="#ffd000" stroke="#ffd000" stroke-width="0.6" fill-rule="evenodd" d="M2474.2 1705.5l0 -1.1 7.5 .2 6 1.3 4.5 2 4.5 3.1 3 3.1 2.2 3.4 1.8 4.5 .7 4.5 -.4 4.5 -1.3 4 -1.9 3.5 -2.6 3.1 -3.4 2.9 -4.1 2.4 -4.5 1.6 -6 1 -6 .1 0 -1.9 7.5 -.2 4.5 -1 4.9 -2 4.3 -3 3.9 -4.5 2.1 -4.5 .8 -4.5 -.7 -6 -1.1 -3 -2.2 -3.6 -3 -3.1 -3.1 -2.3 -2.9 -1.5 -4.5 -1.6 -4.5 -.7 -6 0 0 -.7z"/>
<path fill="#ffaf00" stroke="#ffaf00" stroke-width="0.6" fill-rule="evenodd" d="M2474.2 1707l0 -.8 7.5 .2 4.5 1 4.5 1.8 3.6 2.3 3.1 3 2.3 3.2 1.8 4.3 .6 3 0 4.5 -1.3 4.5 -1.5 3 -2.4 3 -3.2 2.8 -3 1.9 -4.5 1.8 -4.5 1 -7.5 .2 0 -2 6 -.1 4.5 -.8 4.7 -1.8 4.4 -3 3.7 -4.5 1.9 -4.5 .5 -4.5 -.7 -4.5 -1.3 -3 -2 -3 -5.2 -4.5 -3 -1.5 -4.5 -1.4 -9 -.5 0 -1.1z"/>
<path fill="#ff8c00" stroke="#ff8c00" stroke-width="0.6" fill-rule="evenodd" d="M2474.2 1708.5l0 -.4 7.5 .3 4.5 1.1 3 1.2 3 1.9 3 2.6 2.7 3.8 1.3 3 .6 3 -.1 4.5 -.8 3 -1.4 3 -2.2 3 -3.1 2.8 -6 3.1 -6 1.2 -6 .1 0 -2.3 6 -.1 4.5 -.9 4.5 -2 3 -2.2 3 -3.7 1.6 -3.5 .5 -4.5 -.8 -4.5 -2.8 -4.8 -4.5 -3.9 -6 -2.4 -9 -.6 0 -1.8z"/>
<path fill="#ff6700" stroke="#ff6700" stroke-width="0.6" fill-rule="evenodd" d="M2474.2 1711.5l0 -1.2 6 .1 4.5 .9 3 1.2 4.9 3.5 2.5 3 1.4 3 .7 3 .1 3 -.5 3 -1.3 3 -3.7 4.5 -5.6 3.4 -4.5 1.2 -7.5 .3 0 -2.6 6 -.1 3 -.6 3.9 -1.6 3.6 -2.8 2.3 -3.2 1.1 -3 .1 -4.5 -.8 -3 -3.1 -4.5 -4.1 -2.8 -5.5 -1.7 -6.5 -.2 0 -1.3z"/>
<path fill="#ff4100" stroke="#ff4100" stroke-width="0.6" fill-rule="evenodd" d="M2474.2 1713l6 -.1 6 1.8 4.1 2.8 3.1 4.5 .8 3 .1 3 -1.3 4.5 -3.7 4.5 -4.6 2.6 -4.5 1.1 -6 .1 0 -3.2 7.5 -.4 3 -1.1 2.9 -2.1 1.6 -2 1.2 -2.5 .4 -3 -.6 -3 -1.8 -3 -3.7 -3 -4.5 -1.5 -6 -.1 0 -2.9z"/>
<path fill="#ff1800" stroke="#ff1800" stroke-width="0.6" fill-rule="evenodd" d="M2474.2 1716l5.5 0 3.5 .8 3.8 2.2 2.5 3 1.1 3 -.2 4.5 -1.2 2.5 -1.5 1.9 -3 2.2 -4.5 1.4 -6 .1 0 -4.5 4.5 0 3 -.7 3 -2.6 .9 -3.3 -1 -3 -2.9 -2.3 -3 -.8 -4.5 0 0 -4.4z"/>
<path fill="#d20000" stroke="#d20000" stroke-width="0.6" fill-rule="evenodd" d="M2474.2 1720.5l6 .1 3 1.4 1.4 1.5 .7 1.5 .1 3 -1.7 3 -3.5 1.9 -6 .2 0 -12.6z"/>
<path stroke="#000080" d="M2474.2 1652.2l46.5 1.5 18 3.1 7.5 5.9 9.9 9.8 .4 70.5 -.3 142.5 -1 1 -6 1.3 -6 .4 -4.5 1.3 -4.5 .1 -4.5 1.4 -6 .4 -3 1.1 -6 .3 -3 1.3 -7.5 .4 -1.5 1 -1.5 .3 -6.7 .2 -2.3 1.2 -7.5 .2 -1.5 1.2 -9 .3M2474.2 1612.1l19.5 2.4 7.5 1.5 9 .3 1.4 .7 3.8 4.5 3.8 2.6 9 2.6 9 5.2 4.9 3.1 2.1 9 5 3.8 2.8 3.7 .4 10.5 -.2 4.5 -3 -2.9 -1.5 0 -6 -6 -1.5 0 -3 -3 -7.5 .1 -1.5 -1.5 -9 0 -1.5 -1.5 -43.5 .1M2556.6 1719l.1 -1 7.5 .7 45 5.8 9 2.6 9 -.1 15 5.2 12 2 2.1 2.8 3.2 6 -2.3 3.9 -1.3 5.1 -2.2 3 -2.9 3 -4.4 3 -6.3 9 -2.4 1.7 -10.5 6 -9 1.6 -17.3 8.7 -18.7 6.2 -9 4.4 -16.5 6.2 -.6 -18.3 -.2 -34.5 .7 -33M3309.9 1201.6l-2.7 4.5 -3.5 4 -.7 2 -3.6 4 -.6 2 -3.5 4 -2.2 4 -3.5 4 -.7 2 -3.6 4 -2.2 4 -3.4 4 -.7 2 -3.6 4 -.7 2 -9.2 12 -.7 2 -3.5 4 -2.3 4 -3.4 4 -.8 2 -3.5 4 -.9 2 -9 12 -.8 2 -3.5 4 -6.5 10 -3.5 4 -6.5 10 -3.6 4 -2.4 4 -3.4 4 -.9 2 -3.7 4 -.7 1.9 -5.1 6.1 -.6 2 -2.3 2.3 -1 -.3 -2.1 -2 -.9 -1.6 -2 -.4 0 -1.1 2 -.9 2.8 -6 3.4 -4 1.8 -4 1.3 -6 4.7 -7.9 -3 -4.1 -.5 -2 3.5 -1.5 5 -4.5 -.6 -6 .4 -2 1.2 -1.7 4 2.6 .2 -.9 1.8 -1.4 2 -3.2 .7 -3.4 -3.5 -2 -1 -2 .2 -2 1.6 -1.9 2 -.4 2 .5 2 1.4 2 -1.2 .6 -2.4 1.4 -1.2 2 -3 .3 -1.8 1.7 -2 -.8 -8 2.8 -.8 2 1.6 1 -2.8 -.9 -2 .4 -4 1.5 -1.6 2 -1.1 4 .9 2 -2.4 1.6 -3.8 -1.6 -2 -.8 -2 -.6 -8 1.4 -1.7 8 -6.1 5 -8.2 1 -.7 2 -.3 1.9 1 2.1 2 .4 -2 1.6 -1.5 .8 -2.5 3.2 -3.8 1.1 -2.2 .2 -2 -1.3 -3.7 -2 -1.1 -4.9 -1.2 -.5 -2 3.4 -3.2 4 2.4 2 .7 2 -.1 4 -2.3 4 -3.5M3233.1 1246.1l.8 -.8 2 .4 .7 2.4 -.7 2.6 -2 .8 -3.6 -1.4 .4 -2 2.4 -2M3215.4 1276.1l4.7 0 -2.2 .3 -1.1 1.7 -2.9 .5 -.8 -.5 .8 -1.9 1.5 -.1M3198.8 1304.1l1.1 -1.6 2.5 1.6 .7 2 -.9 8 -.3 .7 -2 1.2 -2.5 -3.9 1.4 -8M3191.4 1332.1l.5 -.5 2 -.1 1.2 2.6 -.1 6 -1.1 2 -2 -.7 -.6 -1.3 -.4 -6 .5 -2M2915 1700l1 -12 4 -6 7 6 -3 7 -5 7 -4 -2M2942 1676l2 0 0 2 -2 0 0 -2M3193 1356l4 0 0 2 -4 0 0 -2M3197 1345l2 -3 1 6 -3 -3M3204 1336l4 -10 3 6 -3 7 -4 -3"/>
<path stroke="#000081" d="M2474.2 1652.2l46.5 1.5 18 3.1 7.5 6 9.9 9.7 .3 70.5 -.2 142.5 -1 1 -6 1.3 -6 .4 -4.5 1.2 -4.5 .2 -4.5 1.4 -6 .3 -3 1.2 -6 .3 -3 1.2 -7.5 .4 -1.5 1.1 -1.5 .2 -6.7 .3 -2.3 1.2 -7.5 .2 -1.5 1.2 -1.5 .2 -7.5 .1M2474.2 1618.1l9 1.9 18 .8 4.5 2.1 2.3 3.1 2.2 1.7 12 3.4 8.1 3.9 3.5 4.5 1.2 4.5 6.7 5.2 4 3.8 2.9 9 -.4 1.5 -.5 0 -6 -6 -1.5 .1 -3 -3 -7.5 0 -1.5 -1.5 -9 .1 -1.5 -1.5 -43.5 0M2556.7 1719l7.5 .4 9 1.6 27 3 9 1.4 9 2.7 9 .2 1.5 .5 4.9 2.2 2.6 3 10.8 1.5 4.2 2.1 1.2 2.4 0 12 -2.2 3 -3.3 3 -1.7 1.2 -4.8 1.8 .5 3 -2.8 6 -10.9 6.5 -9 1.7 -18 9.2 -18 6 -9 4.4 -9 2.9 -7.5 3.2 -.6 -17.4 -.1 -34.5 .7 -33M3309.9 1201.6l-2.7 4.5 -3.5 4 -.7 2 -3.6 4 -.7 2 -3.4 4 -2.2 4 -3.5 4 -.8 2 -3.5 4 -2.2 4 -3.4 4 -.8 2 -3.5 4 -.8 2 -3.4 4 -2.2 4 -3.5 4 -.8 2 -3.5 4 -2.2 4 -3.4 4 -.9 2 -3.5 4 -6.4 10 -7.8 10 -6.4 10 -3.5 4 -6.6 10 -3.6 4 -2.3 4 -3.5 4 -.8 2 -3.8 4 -2.3 4 -3.6 4 -.5 2 -2.2 2.2 -2.5 -2.2 -.5 -2 1 -1.3 1.3 -4.7 2 -4 2.7 -4 1.3 -6 1.8 -4 2.9 -4.4 2 -7.6 2 -1.8 4 -5.8 .7 -2.4 1.3 -1.1 4 -6.3 2.3 -4.6 .4 -2 3.3 -4.3 8.6 -15.7 3.6 -4 1.7 -4 -1.7 -2 .5 -2 1.3 -1 2 1.3 2 -1.3 2 -2.3 3.7 -6.7 1.5 -4 -1.7 -2 -.6 -4 7.1 -5.1 4 -7 2 -.5 .2 .6 1.8 .5 2 -1.9 8.2 -12.6 .5 -2 3.4 -4 .3 -2 3.6 -3.7 2.6 -4.3M3199.8 1310.1l.1 2.2 -.1 -2.2"/>
<path stroke="#000082" d="M2474.2 1652.3l46.5 1.5 18 3 7.5 6 9.8 9.7 .4 70.5 -.3 142.5 -.9 .9 -6 1.4 -6 .4 -4.5 1.2 -4.5 .2 -4.5 1.3 -6 .4 -3 1.2 -6 .3 -3 1.2 -7.5 .4 -1.5 1.1 -1.5 .2 -6.8 .3 -2.2 1.2 -7.5 .2 -1.5 1.2 -1.5 .2 -7.5 .1M2474.2 1624.9l9 .6 9 1.8 9 -1.6 2.3 3.3 2.2 1.9 10.7 4.1 4.6 3 3.2 3 5.5 7 3 2.6 4.3 2.4 .6 1.5 -7.9 0 -1.5 -1.5 -9 .1 -1.5 -1.5 -43.5 .1M2556.6 1720.5l.1 -1 6 .6 10.5 1.7 27 3.1 9 1.7 9 2.7 9 .6 4.4 2.6 4.6 4.7 9 .9 1.5 1.1 2.1 3.8 .4 9 -4 4.2 -9 3.5 -1.8 1.3 2.5 3 .4 1.5 -1.1 4.4 -9 5.2 -9 1.8 -18 9.5 -18 6.2 -9 4.4 -9 2.8 -7.5 3.1 -.7 -50.9 .6 -31.5M3309.9 1201.5l-2.8 4.6 -3.4 4 -.8 2 -3.5 4 -.8 2 -3.3 4 -2.3 4 -3.5 4 -.7 2 -3.6 4 -2.1 4 -3.4 4 -.8 2 -3.5 4 -.8 2 -3.4 4 -2.3 4 -3.4 4 -.8 2 -3.5 4 -2.3 4 -3.4 4 -.8 2 -7.7 10 -2.3 4 -7.7 10 -2.2 4 -7.8 10 -6.5 10 -3.7 4 -2.3 4 -3.6 4 -.7 2 -3.9 4 -2.2 4 -3.7 4 -.4 2 -2.1 2.1 -1.9 -2.1 1.6 -6 1.4 -4 3.6 -6 2 -8 3.6 -6 3.1 -8 10.6 -16.5 15.4 -27.5 3.4 -4 1.8 -4 7.4 -9.8 3.1 -6.2 2.9 -4 .4 -2 3.6 -4.6 .4 -1.4 9.6 -11.3 8.8 -14.7 8.4 -12"/>
<path stroke="#000084" d="M2474.2 1652.3l46.5 1.5 18 3.1 7.5 5.9 9.8 9.7 .4 70.5 -.3 142.5 -.9 .9 -6 1.3 -6 .4 -4.5 1.3 -4.5 .2 -4.5 1.3 -6 .4 -3 1.2 -6 .3 -3 1.2 -7.5 .4 -1.5 1.1 -1.5 .2 -6.8 .3 -2.2 1.2 -7.5 .2 -1.5 1.2 -1.5 .2 -7.5 .1M2474.2 1637.7l9 .1 9 -3.1 6 2.8 3 2.7 9 1 4.2 2.8 4.8 4.2 3.1 4.8 -3.1 0 -1.5 -1.5 -43.5 .1M2556.7 1720.5l7.5 .5 9 1.7 27 3.2 18 4.8 9 1.4 5.1 4.9 3.9 6.9 6 -.3 3 .4 .7 8 -.7 .7 -9 3.6 -6.1 4.7 2.3 3 1 3 -1.4 3 -4.8 3.2 -9 2.2 -7.6 3.6 -10.4 6.2 -18 6.5 -9 4.4 -9 2.6 -7.5 3.1 -.6 -49.8 .6 -31.5M3309.9 1201.5l-2.8 4.6 -3.5 4 -.7 2 -3.5 4 -.8 2 -3.4 4 -2.2 4 -7.8 10 -2.2 4 -3.4 4 -.8 2 -3.5 4 -.8 2 -3.3 4 -2.3 4 -3.5 4 -.8 2 -3.4 4 -2.3 4 -3.5 4 -.8 2 -3.5 4 -2.2 4 -2 2 -2.2 4 -7.7 10 -6.6 10 -3.5 4 -6.5 10 -3.7 4 -2.3 4 -3.6 4 -.7 2 -3.9 4 -2.1 4 -3.9 4 -.3 2 -2 .7 -.2 -2.7 1.3 -6 4.4 -8 1.7 -8 3.7 -6 2.1 -6 11 -17.5 14.8 -26.5 4.5 -6 2 -4 4.8 -6 10.5 -18 4.1 -6 7.3 -8.6 13.4 -21.4 4.5 -6"/>
<path stroke="#000085" d="M2474.2 1652.4l46.5 1.4 18 3.1 7.5 6 9.8 9.6 .4 70.5 -.3 142.5 -.9 .9 -6 1.3 -6 .4 -4.5 1.3 -4.5 .1 -4.5 1.4 -6 .4 -3 1.1 -6 .3 -3 1.3 -7.5 .4 -3 1.3 -6.8 .3 -2.2 1.2 -7.5 .2 -1.5 1.1 -1.5 .3 -7.5 .1M2474.2 1647.3l9 -.8 3.4 -2.5 5.6 -2.4 2.9 2.4 1.9 7.5 -22.8 0M2556.6 1722l.1 -.9 7.5 .8 9 1.8 9 .7 18 2.7 24 6.8 3 1.6 1.2 1.5 4.6 10.5 1.7 2.3 2.7 2.2 -7.2 3.7 -5 5.3 3.1 4.5 -.1 3 -1 1.6 -3 1.6 -6 1.8 -4.1 2.5 -6.4 3 -7.5 4.9 -18 6.8 -9 4.5 -9 2.4 -7.5 3 -.6 -48.6 .5 -30M3309.9 1201.5l-2.9 4.6 -3.4 4 -.7 2 -3.6 4 -.8 2 -4.7 6 -.9 2 -3.5 4 -.7 2 -3.5 4 -2.2 4 -3.4 4 -.8 2 -3.5 4 -.9 2 -3.3 4 -2.3 4 -3.4 4 -.8 2 -3.5 4 -2.3 4 -3.4 4 -.9 2 -3.4 4 -2.3 4 -3.3 4 -.9 2 -7.7 10 -2.2 4 -7.8 10 -6.6 10 -3.7 4 -2.3 4 -3.7 4 -.6 2 -5.6 6 -.4 2 -4.1 4 0 1.4 -.7 -3.4 .6 -4 3.7 -6 2.2 -10 3.6 -6 3.4 -8 9.2 -14.5 15.3 -27.5 11.3 -16 10.5 -18 4.2 -6 6.7 -7.8 8.7 -14.2 9.6 -14"/>
<path stroke="#000087" d="M2474.2 1652.4l46.5 1.5 18 3.1 7.5 5.9 9.7 9.6 .5 70.5 -.4 142.5 -.8 .8 -6 1.3 -6 .5 -4.5 1.2 -4.5 .2 -4.5 1.4 -6 .4 -3 1.1 -6 .3 -3 1.3 -7.5 .4 -3 1.3 -6.9 .3 -2.1 1.2 -7.5 .2 -1.5 1.1 -1.5 .2 -7.5 .2M2556.6 1723.5l.1 -1.4 7.5 .7 9 1.9 9 .9 9 2.2 9 .7 19.9 7 2.1 1.5 2.4 3 1.2 6 0 6 -6.5 9 2.4 4.5 -.2 3 -1.1 1.5 -2.2 .9 -4.6 3.6 -8.8 4.5 -4.6 3.3 -9 3.1 -4.5 2.6 -4.5 1.7 -9 4.4 -10.9 2.9 -5.6 2.3 -.5 -47.3 .4 -28.5M3309.9 1201.4l-2.9 4.7 -3.4 4 -.8 2 -3.5 4 -2.2 4 -3.3 4 -.9 2 -3.5 4 -.8 2 -3.5 4 -2.2 4 -3.4 4 -.8 2 -3.5 4 -6.4 10 -3.5 4 -.8 2 -3.4 4 -2.3 4 -3.5 4 -.8 2 -9.1 12 -.9 2 -7.7 10 -2.2 4 -7.8 10 -6.6 10 -3.7 4 -2.2 4 -3.9 4 -.5 2 -5.9 6 -.1 2 -2.1 2 -.3 -2 .4 -1.9 2 -3.4 1.3 -4.7 .3 -6 4.4 -7.9 3.4 -8.1 8.8 -14 15.6 -28 11.3 -16 10.6 -18 10.3 -13.2 13.1 -20.8 5.6 -8"/>
<path stroke="#000088" d="M2474.2 1652.5l46.5 1.4 18 3.1 7.5 6 9.7 9.5 .5 70.5 -.4 142.5 -.8 .8 -6 1.3 -6 .4 -4.5 1.3 -4.5 .2 -4.5 1.3 -6 .5 -3 1.1 -6 .3 -3 1.2 -7.5 .5 -3 1.3 -6.9 .3 -2.1 1.1 -7.5 .3 -1.5 1.1 -1.5 .2 -7.5 .2M2556.7 1723.5l0 -.5 7.5 .8 9 2.2 9 1 4.5 1.2 4.5 2.1 9 -.3 5.5 2.5 3.5 2.4 6 2.4 2.1 2.7 .7 6 -.4 7.5 -1.9 4.5 -2.5 3 2 2.5 .8 2 0 4.5 -3.8 3.3 -12 6.9 -9 2.6 -4.9 3.7 -13.1 6.5 -16.5 4.8 -.5 -45.8 .5 -28.5M3309.9 1201.4l-2.9 4.7 -3.5 4 -.7 2 -3.5 4 -2.2 4 -3.4 4 -.9 2 -7.7 10 -2.2 4 -3.4 4 -.8 2 -3.5 4 -6.5 10 -3.4 4 -2.3 4 -2 2 -2.3 4 -3.4 4 -.9 2 -9.1 12 -.8 2 -7.7 10 -2.2 4 -3.5 4 -.9 2 -3.5 4 -2.2 4 -3.5 4 -.8 2 -3.8 4 -2.2 4 -4 4 -.3 1.8 -2 2.3 -1.2 -.1 -.6 -6 .2 -4 3.6 -6.6 3.9 -9.4 8.9 -14 15.5 -28 4.7 -6 2.2 -4 4.4 -6 10.6 -18 9.8 -12.5 19.1 -29.5"/>
<path stroke="#00008a" d="M2474.2 1652.5l46.5 1.5 18 3.1 7.5 5.9 9.6 9.5 .5 70.5 -.3 142.5 -.8 .8 -6 1.3 -6 .4 -4.5 1.3 -4.5 .2 -4.5 1.3 -6 .4 -3 1.2 -6 .3 -4.5 1.4 -6 .3 -3 1.3 -7 .3 -2 1.1 -7.5 .3 -1.5 1.1 -1.5 .2 -7.5 .2M2556.6 1725l.1 -.9 7.5 .8 9 2.7 9 1 5.5 2.4 3.5 3.2 4.5 -1.6 4.5 -.6 10.5 6.8 1.5 1.5 1.4 2.7 1.3 9 -2.7 4.7 -5 4.3 4.6 4.5 1.1 4.5 -3.7 3.1 -9 4.9 -9 .6 -2.5 3.4 -3.4 3 -12.1 6.7 -6.9 2.3 -9.6 2.2 -.5 -44.2 .4 -27M3309.9 1201.4l-3 4.7 -3.4 4 -.8 2 -3.5 4 -2.2 4 -3.3 4 -.9 2 -7.7 10 -2.2 4 -3.5 4 -.8 2 -3.4 4 -6.5 10 -3.5 4 -2.2 4 -2 2 -2.3 4 -3.5 4 -.9 2 -3.4 4 -2.2 4 -3.5 4 -.8 2 -7.7 10 -2.2 4 -3.5 4 -.9 2 -4.8 6 -.9 2 -3.5 4 -.8 2 -3.8 4 -1.6 2 -.6 2 -4.1 4 -.1 .9 -2 0 -.7 -2.9 -.1 -4 3.2 -6 3.1 -8 2.9 -4 7 -12 7.5 -14 3.9 -6 2.9 -6 12.3 -17.6 10.7 -18.4 9.3 -11.8 19.5 -30.2"/>
<path stroke="#00008c" d="M2474.2 1652.5l46.5 1.5 18 3.1 7.5 6 9.6 9.4 .5 70.5 -.4 142.5 -.7 .7 -6 1.3 -6 .5 -4.5 1.2 -4.5 .2 -4.5 1.3 -6 .5 -3 1.1 -6 .4 -4.5 1.4 -6 .3 -3 1.2 -7 .4 -2 1.1 -7.5 .3 -1.5 1 -1.5 .3 -7.5 .2M2556.6 1726.5l.1 -1.3 4.5 .7 12 3.5 9 1.2 9 5.7 9 -1.5 4.5 5 4.5 2.9 1.4 3.3 1.1 6 -2.5 3.4 -7.7 5.6 6.8 6 1.4 3 -9.5 5.8 -9 .6 -4.1 2.6 -3.5 4.5 -6.2 4.5 -4.2 2.2 -9 3.2 -7.5 1.3 -.4 -42.7 .3 -25.5M3309.9 1201.3l-3 4.8 -3.5 4 -.8 2 -3.4 4 -2.2 4 -3.4 4 -.9 2 -3.4 4 -2.3 4 -2 2 -2.2 4 -3.4 4 -.8 2 -3.5 4 -6.5 10 -3.4 4 -2.3 4 -7.8 10 -.8 2 -3.5 4 -2.2 4 -3.5 4 -.8 2 -7.6 10 -2.2 4 -9.4 12 -.8 2 -3.5 4 -.8 2 -5.5 6 -.5 2 -4.1 4 -1.3 -2 -.5 -4 3 -6 2.8 -7.6 3.3 -4.4 1.8 -4 4.9 -7.8 7.5 -14.2 3.9 -6 4 -8 4.8 -6 5.8 -8.6 11.2 -19.4 8.8 -11.1 20 -30.9"/>
<path stroke="#00008e" d="M2474.2 1652.6l46.5 1.5 4.5 1.1 6 .5 7.5 1.5 4.5 4 3 1.9 9.6 9.4 .5 70.5 -.4 142.5 -.7 .7 -6 1.3 -6 .4 -4.5 1.3 -4.5 .2 -4.5 1.3 -6 .5 -4.5 1.3 -4.5 .2 -4.5 1.4 -6 .3 -3 1.2 -6 .2 -4.5 1.4 -6 .2 -3 1.3 -7.5 .2M2556.6 1728l.1 -1.4 3 .6 4.5 1 9 3.5 9 1.6 9 5.5 4.5 1.3 3 4 1.5 1.4 4.5 2.8 2.8 3.7 -7.3 5.2 -9 1.8 -2.7 2 2.7 2.7 9 1.1 4.4 5.2 -4.4 3 -9 .7 -3 1.6 -4.5 3.5 -1.5 2.3 -4.3 3.9 -3.7 3 -2.8 1.5 -7.2 2.7 -7.5 .8 -.1 -65M3309.9 1201.3l-3.1 4.8 -3.4 4 -.8 2 -3.4 4 -2.3 4 -3.3 4 -.9 2 -3.5 4 -2.2 4 -2 2 -2.3 4 -3.4 4 -.8 2 -3.4 4 -2.3 4 -7.7 10 -2.2 4 -7.9 10 -.8 2 -3.4 4 -2.2 4 -3.6 4 -.7 2 -9.1 12 -.8 2 -9.5 12 -.6 2 -3.6 4 -.8 2 -5.7 6 -.3 2 -2 2 -.6 0 -1.4 -2 -.2 -2 4.2 -12 4 -5.4 1.7 -4.6 4.3 -6.6 8.1 -15.4 3.9 -5.8 2.8 -6.2 11.2 -15.6 11.7 -20.4 8.3 -10.3 14.8 -23.7 5.7 -8"/>
<path stroke="#000090" d="M2474.2 1652.7l46.5 1.4 4.5 1.2 6 .4 7.5 1.5 4.5 4.1 3 1.9 9.5 9.3 .6 70.5 -.4 142.5 -.7 .7 -7.5 1.5 -4.5 .2 -4.5 1.2 -4.5 .3 -4.5 1.3 -6 .5 -4.5 1.3 -4.5 .2 -4.5 1.4 -6 .3 -3 1.2 -6 .2 -4.5 1.4 -6 .2 -3 1.3 -7.5 .2M2556.6 1729.5l.1 -1.4 1.5 .4 4.5 1.4 9 4.1 10.5 2.2 10.5 6.8 4.1 6 3.5 3 -9.1 3.2 -7.7 5.8 1.7 3.3 2.3 2.7 3.7 2.6 2.2 .4 -3.7 .7 -4.5 2.3 -6.9 6 -3.1 4.5 -4.3 4.5 -6.7 2.9 -7.5 0 -.1 -61.4M3309.9 1201.3l-3.1 4.8 -3.5 4 -.8 2 -3.4 4 -2.2 4 -3.4 4 -.9 2 -3.4 4 -2.3 4 -2 2 -2.2 4 -3.4 4 -.9 2 -3.4 4 -2.2 4 -7.7 10 -2.3 4 -7.8 10 -.9 2 -3.4 4 -2.2 4 -3.6 4 -.7 2 -9.2 12 -.7 2 -3.6 4 -2.3 4 -3.7 4 -.5 2 -3.6 4 -.7 1.8 -6 6.2 0 1.6 -1.8 -1.6 0 -2 1.8 -8.1 2 -3.1 2.7 -2.8 1.8 -6 3.8 -6 8.4 -16 3.3 -4.8 3.3 -7.2 10.7 -14.7 12.2 -21.3 8 -10 15.1 -24 5.6 -8"/>
<path stroke="#000092" d="M2474.2 1652.7l46.5 1.5 4.5 1.2 6 .4 3 1 4.5 .5 4.5 4.1 3 1.8 9.5 9.3 .6 70.5 -.5 142.5 -.6 .6 -7.5 1.5 -4.5 .2 -4.5 1.3 -4.5 .2 -4.5 1.3 -6 .5 -4.5 1.4 -4.5 .1 -4.5 1.4 -6 .3 -3 1.3 -6 .2 -4.5 1.4 -6 .2 -3 1.3 -7.5 .1M2556.7 1731l0 -1.1 1.5 .5 9 4.7 10.5 3 4.5 1.8 4.1 3.1 .9 1.5 2.6 7.5 -6.4 4.5 -4.7 4.5 2 9 -1.3 3 -2.5 3 -4.9 3 -1.2 4.5 -3.4 4.5 -3.2 1.4 -7.5 -1 0 -57.4M3309.9 1201.2l-3.2 4.9 -3.4 4 -.8 2 -3.4 4 -2.3 4 -3.4 4 -.8 2 -3.5 4 -2.2 4 -2 2 -2.3 4 -3.4 4 -.8 2 -3.4 4 -2.3 4 -7.7 10 -2.2 4 -7.9 10 -.9 2 -3.4 4 -2.2 4 -3.6 4 -.7 2 -3.4 4 -2.3 4 -3.5 4 -.7 2 -3.6 4 -2.3 4 -3.8 4 -.4 2 -3.7 4 -2.5 4.1 -2.1 1.9 -1.9 -1.8 .1 -4.2 1.9 -3.5 4.4 -4.5 .9 -6 3.8 -6 8.3 -16 2.7 -4 3.8 -8 10.1 -13.7 12.8 -22.3 8 -10 16.3 -26 4.3 -6"/>
<path stroke="#000094" d="M2474.2 1652.8l46.5 1.4 3 1 7.5 .7 3 1 4.5 .4 4.5 4.1 3 1.9 9.4 9.2 .7 70.5 -.5 142.5 -.6 .6 -7.5 1.5 -4.5 .2 -4.5 1.3 -6 .5 -3 1 -6 .5 -4.5 1.3 -4.5 .2 -4.5 1.4 -6 .3 -3 1.3 -6 .2 -4.5 1.4 -6 .2 -3 1.2 -7.5 .2M2556.7 1732.5l0 -.5 3.6 2 3.9 4 9 1.8 6 3.2 2.4 4.5 1.3 4.5 -5.2 4.4 -3.8 4.6 3.1 9 -3.5 4.5 -4.8 2.3 -2.1 2.2 -.2 4.5 -2.2 3.9 -7.5 -2 0 -52.9M2564.2 1759.1l-2.8 1.9 2.8 4.4 6.8 -4.4 -6.8 -1.9M3309.9 1201.2l-3.2 4.9 -3.5 4 -2.2 4 -2 2 -2.2 4 -3.4 4 -.9 2 -3.4 4 -2.3 4 -1.9 2 -2.3 4 -7.7 10 -2.2 4 -7.8 10 -2.2 4 -7.9 10 -.9 2 -4.7 6 -.8 2 -3.7 4 -.7 2 -3.4 4 -2.2 4 -3.6 4 -.6 2 -3.7 4 -2.3 4 -3.9 4 -.3 2 -3.7 4 -.4 1.1 -1.4 .9 -.6 2 -1 0 -1 -.6 -.8 -3.4 2.7 -4 3 -2 .9 -2 .4 -6 8.2 -14 10.1 -20 9.5 -12.7 13.4 -23.3 8 -10 16.2 -26 4.4 -6"/>
<path stroke="#000096" d="M2474.2 1652.8l46.5 1.5 3 1 7.5 .6 3 1.1 4.5 .4 4.5 4.1 3 1.8 9.4 9.2 .6 70.5 -.5 142.5 -.5 .5 -3 .3 -4.5 1.2 -4.5 .2 -4.5 1.3 -6 .5 -4.5 1.3 -4.5 .3 -4.5 1.3 -4.5 .2 -4.5 1.4 -6 .3 -3 1.2 -6 .3 -4.5 1.4 -6 .1 -3 1.3 -7.5 .2M2556.7 1735.5l0 -.6 2.8 3.6 2.1 4.5 2.6 2.5 9 -.9 2.5 7.4 -2.5 2.7 -9 .4 -7.5 5 0 -24.6M2556.7 1764l0 -1.4 4.5 7.4 .2 3 -.3 3 -1.3 3 -1.4 1.5 -1.7 .7 0 -17.2M3309.9 1201.1l-3.3 5 -3.4 4 -2.3 4 -1.9 2 -2.3 4 -3.4 4 -.9 2 -3.4 4 -2.2 4 -2 2 -2.3 4 -7.6 10 -2.3 4 -7.7 10 -2.2 4 -8 10 -2.2 4 -3.5 4 -.7 2 -3.7 4 -.7 2 -4.8 6 -.8 2 -3.7 4 -.5 2 -3.7 4 -2.5 4.4 -3.8 3.6 -.2 2 -6 6.3 -1.5 -2.3 1.5 -2.2 4.6 -3.8 .6 -8 8.2 -14 2.4 -6 3.7 -6 3.6 -8 8.9 -11.7 14 -24.2 8 -10.1 14.8 -24 5.7 -8"/>
<path stroke="#000099" d="M2474.2 1652.9l46.5 1.4 3 1.1 7.5 .6 1.5 .9 6 .6 6 5.4 1.5 .5 9.3 9.1 .7 70.5 -.5 142.5 -8 2 -4.5 .2 -4.5 1.3 -6 .5 -4.5 1.3 -4.5 .2 -4.5 1.4 -4.5 .2 -4.5 1.4 -6 .3 -3 1.2 -7.4 .5 -3.1 1.2 -6 .1 -3 1.3 -7.5 .2M2556.7 1746l4.8 6 -4.8 2.6 0 -8.6M3309.9 1201.1l-3.4 5 -3.4 4 -2.2 4 -2 2 -2.2 4 -7.7 10 -2.3 4 -3.4 4 -.9 2 -3.4 4 -6.4 10 -7.8 10 -2.2 4 -8 10 -2.2 4 -3.5 4 -.7 2 -3.7 4 -.6 1.9 -5.1 6.1 -.6 2 -3.7 4 -.5 2 -5.3 6 -.6 2 -2.2 2.3 -1.9 -.3 .3 -6 8.3 -14 2 -6 3.3 -5.2 3.8 -8.8 8.2 -10.6 14 -24.2 8 -10.2 12 -18.8 3.3 -6.2 5.8 -8M3220.3 1324.1l1.6 -.9 0 1 -1.6 -.1M3218.1 1326.1l1.8 -1.8 0 2.1 -1.8 -.3"/>
<path stroke="#00009b" d="M3309.9 1201l-6.8 9.1 -2.3 4 -1.9 2 -2.3 4 -7.7 10 -2.2 4 -3.5 4 -.8 2 -3.5 4 -6.4 10 -7.8 10 -2.1 4 -3.7 4 -.8 2 -3.6 4 -2.2 4 -3.6 4 -.6 2 -3.8 4 -2.1 4 -3.6 4 -.5 2 -3.8 4 -.4 2 -5.6 6 -.3 2 -2.1 2 -.6 -2 .4 -4 5.4 -10 2.9 -4 1.6 -6 2.6 -4 3.7 -8.9 7 -9.1 15.2 -26 7.8 -10 4.6 -8 7.4 -10.8 5.1 -9.2 4.6 -6"/>
<path stroke="#00009e" d="M3309.9 1201l-6.9 9.1 -2.2 4 -2 2 -2.2 4 -7.7 10 -2.3 4 -7.7 10 -6.5 10 -7.8 10 -2.1 4 -3.7 4 -.8 2 -3.6 4 -2.2 4 -3.7 4 -.5 2 -3.8 4 -2.1 4 -3.7 4 -.4 2 -3.8 4 -.3 1.5 -2 2.7 -3.9 3.8 -.1 2 -.7 0 0 -2 1.1 -4 3.6 -6.8 3.5 -5.2 .8 -4 2.4 -4 3.3 -9.4 8 -10.8 14.9 -25.8 7.8 -10 4.5 -8 6.8 -9.8 4.4 -8.2 5.9 -8"/>
<path stroke="#0000a1" d="M3309.9 1200.9l-7 9.2 -6.4 10 -3.5 4 -.9 2 -3.3 4 -2.2 4 -7.8 10 -2.2 4 -3.4 4 -.8 2 -3.6 4 -.8 2 -3.5 4 -2.1 4 -3.7 4 -.7 2 -5.1 6 -.7 2 -3.9 4 -.4 2 -5.4 6 -.6 2.2 -3.8 3.8 -.2 2 -4 4.6 -1.9 -.6 3.9 -6 2 -6.2 3 -3.8 .1 -4 .9 -3.6 8 -11.1 15.7 -27.3 7.7 -10 3.1 -6 7.5 -10.7 4.9 -9.3 6.1 -8M3230.9 1308.1l1 -1.8 .4 1.8 -.4 2.1 -1.9 -.1 .9 -2M3229.4 1312.1l.5 -1.6 0 1.6 -.5 0"/>
<path stroke="#0000a4" d="M3309.9 1200.9l-7.1 9.2 -6.4 10 -3.5 4 -.8 2 -3.4 4 -2.2 4 -3.6 4 -.7 2 -9.1 12 -.8 2 -3.6 4 -.8 2 -4.8 6 -.8 2 -3.8 4 -.6 2 -5.3 6 -.5 2 -4 4 -.2 1.9 -4 4.2 -.8 -.1 .2 -2 -1.1 -4 .2 -2 8.1 -12 15.4 -27.1 8.3 -10.9 2.8 -6 6.9 -9.4 5.5 -10.6 6.2 -8M3240.2 1294.1l1.7 -.9 0 2.9 -2 2.2 -1.7 -.2 2 -4"/>
<path stroke="#0000a7" d="M3309.9 1200.8l-7.1 9.3 -2.2 4 -3.4 4 -.8 2 -3.6 4 -.8 2 -3.4 4 -2.2 4 -3.6 4 -.7 2 -3.5 4 -2.2 4 -3.5 4 -.7 2 -3.6 4 -2.3 4 -3.4 4 -.6 2 -3.9 4 -.5 1.6 -5.6 6.4 -.3 2 -6.1 6.7 -1.1 -2.7 .1 -2 2.8 -6 2.8 -4 5.4 -10.3 4.8 -7.7 5.4 -10 8.9 -12 2.7 -6 6.2 -8.1 6.1 -11.9 6.3 -8"/>
<path stroke="#0000aa" d="M3309.9 1200.7l-7.2 9.4 -2.2 4 -3.4 4 -.8 2 -3.6 4 -.8 2 -4.7 6 -.8 2 -3.7 4 -.7 2 -3.5 4 -2.1 4 -3.6 4 -.7 2 -3.6 4 -2.3 4 -3.5 4 -.5 2 -4 4 -.3 1.1 -1.3 .9 -.7 2.1 -3.9 3.9 -.1 2 -1.9 0 -.3 -2 .3 -2 2.3 -4 4.4 -10 5 -8 4.2 -8 10 -13.8 2.5 -6.2 6.1 -8 6.2 -12 6.4 -8"/>
<path stroke="#0000ae" d="M3309.9 1200.7l-7.3 9.4 -2.1 4 -3.5 4 -.8 2 -3.6 4 -2.2 4 -3.4 4 -.7 2 -3.7 4 -.7 2 -3.5 4 -2.1 4 -3.7 4 -.5 2 -3.8 4 -2.2 4 -3.6 4 -.4 2 -6.2 6.3 -.8 -2.3 1 -4 10.7 -20 9.1 -12.2 3.3 -7.8 6.1 -8 6.2 -12 6.4 -8"/>
<path stroke="#0000b1" d="M3309.9 1200.6l-3.2 3.5 -.8 2 -3.4 4 -2.1 4 -3.6 4 -.7 2 -3.6 4 -2.2 4 -3.5 4 -.6 2 -3.8 4 -.5 1.7 -5.1 6.3 -.6 2 -3.7 4 -.5 2 -5.4 6 -.6 2 -3.7 4 -.3 2 -4.1 4.1 -.6 -.1 -.5 -2 1.1 -3.1 10 -18.9 8.9 -12 3.2 -8 5.9 -7.6 6 -11.7 6.7 -8.7"/>
<path stroke="#0000b5" d="M3309.9 1200.5l-3.3 3.6 -.7 1.9 -4.8 6.1 -.8 2 -3.6 4 -.6 2 -3.7 4 -2.2 4 -3.5 4 -.6 2 -3.8 4 -2.2 4 -3.5 4 -.5 2 -3.8 4 -.4 2 -5.7 6 -.3 2 -3.9 4 -.1 2 -2 2.1 -1.3 -.1 1.3 -3.8 3.5 -6.2 4.5 -10 5.2 -8 4.9 -6 2.9 -8 5 -6 6 -12 7.5 -10"/>
<path stroke="#0000b9" d="M3309.9 1200.4l-3.4 3.7 -2.3 4 -3.3 4 -.6 2 -3.7 4 -.6 2 -5.1 6 -.7 2 -3.7 4 -.5 2 -3.9 4 -1.4 2 -.7 2 -3.7 4 -.3 2 -3.9 4 -.2 1.3 -4 4.9 -1.5 -.2 .3 -2 2.6 -6 5.1 -8 4.8 -6 2.7 -8 5 -6 5 -10.4 8.4 -11.6"/>
<path stroke="#0000bd" d="M3309.9 1200.4l-3.5 3.7 -2.3 4 -3.4 4 -.5 2 -3.8 4 -.5 2 -5.3 6 -.5 2 -3.8 4 -.3 2 -5.8 6 -.3 2 -3.8 4 -.2 2 -4 4.4 -1.7 -.4 5.7 -9.8 4.8 -6.2 2.3 -8 5.1 -6 3.8 -8.6 6 -7.8 3.4 -5.6M3269.3 1254.1l.6 -1.4 0 3.5 -1.1 -.1 .5 -2"/>
<path stroke="#0000c1" d="M3309.9 1200.3l-5.2 5.8 -.6 2 -3.7 4 -.3 2 -3.8 4 -.4 1.6 -2 2.6 -3.6 3.8 -.3 2 -3.9 4 -.2 2 -2 2.1 -1.2 -.1 .4 -4 1.4 -4 5 -6 3.3 -8 6.2 -8 3.3 -6"/>
<path stroke="#0000c6" d="M3309.9 1200.2l-5.6 5.9 -.3 2 -3.8 4 -.2 2 -3.9 4 -.2 .9 -1.3 1.1 -.7 2 -2 2.1 -1.5 -.1 3.5 -9.3 6.8 -8.7 2.8 -6M3288.9 1226.1l1 -1.3 0 3.3 -4 4.2 -.4 -.2 .4 -2.1 .9 -1.9 2.1 -2"/>
<path stroke="#0000cb" d="M3309.7 1200.1l-5.8 6 0 2 -1.8 0 1.5 -2 1.4 -6M3299.8 1210.1l2.1 -1.9 0 1.9 -1.9 2 -.1 2 -4 4.3 -1.3 -.3 1.7 -4 3.5 -4"/>
<path stroke="#0000d0" d="M3308.3 1200.1l-.4 2 -.7 0 -.1 -2"/>
</g>
<rect x="2478.2" y="1208.1" width="825.9" height="709.2" fill="none" stroke="#000" stroke-width="2.8"/>
<path d="M2478.2 1917.3v-8.2M2497.19 1917.3v-8.2M2513.63 1917.3v-8.2M2528.14 1917.3v-8.2M2541.12 1917.3v-15.4M2626.5 1917.3v-8.2M2676.44 1917.3v-8.2M2711.87 1917.3v-8.2M2739.36 1917.3v-8.2M2761.82 1917.3v-8.2M2780.8 1917.3v-8.2M2797.25 1917.3v-8.2M2811.76 1917.3v-8.2M2824.73 1917.3v-15.4M2910.11 1917.3v-8.2M2960.05 1917.3v-8.2M2995.49 1917.3v-8.2M3022.97 1917.3v-8.2M3045.43 1917.3v-8.2M3064.42 1917.3v-8.2M3080.86 1917.3v-8.2M3095.37 1917.3v-8.2M3108.35 1917.3v-15.4M3193.73 1917.3v-8.2M3243.67 1917.3v-8.2M3279.1 1917.3v-8.2M2478.2 1917.3h15.4M2478.2 1791.64h8.2M2478.2 1718.14h8.2M2478.2 1665.98h8.2M2478.2 1625.53h8.2M2478.2 1592.48h8.2M2478.2 1564.53h8.2M2478.2 1540.32h8.2M2478.2 1518.97h8.2M2478.2 1499.87h15.4M2478.2 1374.21h8.2M2478.2 1300.71h8.2M2478.2 1248.55h8.2M2478.2 1208.1h8.2" stroke="#000" stroke-width="2.5" fill="none"/>
<g fill="#000">
<text transform="translate(2503.72 1971.9) scale(1.1 1)" font-size="48.3">10</text><text transform="translate(2559.42 1956.8) scale(1.06 1)" font-size="34.5">0</text>
<text transform="translate(2787.33 1971.9) scale(1.1 1)" font-size="48.3">10</text><text transform="translate(2843.03 1956.8) scale(1.06 1)" font-size="34.5">1</text>
<text transform="translate(3070.95 1971.9) scale(1.1 1)" font-size="48.3">10</text><text transform="translate(3126.65 1956.8) scale(1.06 1)" font-size="34.5">2</text>
<text transform="translate(2384.5 1938.9) scale(1.1 1)" font-size="48.3">10</text><text transform="translate(2440.2 1923.8) scale(1.06 1)" font-size="34.5">1</text>
<text transform="translate(2384.5 1521.47) scale(1.1 1)" font-size="48.3">10</text><text transform="translate(2440.2 1506.37) scale(1.06 1)" font-size="34.5">2</text>
<text x="2847.7" y="2043.4" font-size="45.5" font-style="italic">y</text>
<text x="2869.96" y="2029.8" font-size="40" font-family="'DejaVu Sans', sans-serif" font-weight="200">+</text>
<text transform="translate(2877.55 2054.5) scale(1.27 1)" font-size="32">min</text>
<g transform="translate(2331 1593.3) rotate(-90)">
<text x="3.8" y="0" font-size="45.5" font-style="italic">y</text>
<text x="26.06" y="-13.6" font-size="40" font-family="'DejaVu Sans', sans-serif" font-weight="200">+</text>
<text transform="translate(33.65 11.1) scale(1.27 1)" font-size="32">max</text>
</g>
<text transform="translate(2275.15 1109.4) scale(1.17 1)" font-size="50">(f)</text>
</g>
<rect x="2478.2" y="1068.3" width="825.9" height="39.6" fill="url(#jet)" stroke="#000" stroke-width="2.8"/>
<text transform="translate(2553.28 1175.6) scale(1.1 1)" text-anchor="middle" font-size="48.3">5</text>
<text transform="translate(2647.13 1175.6) scale(1.1 1)" text-anchor="middle" font-size="48.3">10</text>
<text transform="translate(2740.99 1175.6) scale(1.1 1)" text-anchor="middle" font-size="48.3">15</text>
<text transform="translate(2834.84 1175.6) scale(1.1 1)" text-anchor="middle" font-size="48.3">20</text>
<text transform="translate(2928.69 1175.6) scale(1.1 1)" text-anchor="middle" font-size="48.3">25</text>
<text transform="translate(3022.54 1175.6) scale(1.1 1)" text-anchor="middle" font-size="48.3">30</text>
<text transform="translate(3116.4 1175.6) scale(1.1 1)" text-anchor="middle" font-size="48.3">35</text>
<text transform="translate(3210.25 1175.6) scale(1.1 1)" text-anchor="middle" font-size="48.3">40</text>
<text transform="translate(3304.1 1175.6) scale(1.1 1)" text-anchor="middle" font-size="48.3">45</text>
<path d="M2553.28 1107.9v15.5M2647.13 1107.9v15.5M2740.99 1107.9v15.5M2834.84 1107.9v15.5M2928.69 1107.9v15.5M3022.54 1107.9v15.5M3116.4 1107.9v15.5M3210.25 1107.9v15.5M3304.1 1107.9v15.5" stroke="#000" stroke-width="2.5" fill="none"/>
</g>
</svg></body></html>
